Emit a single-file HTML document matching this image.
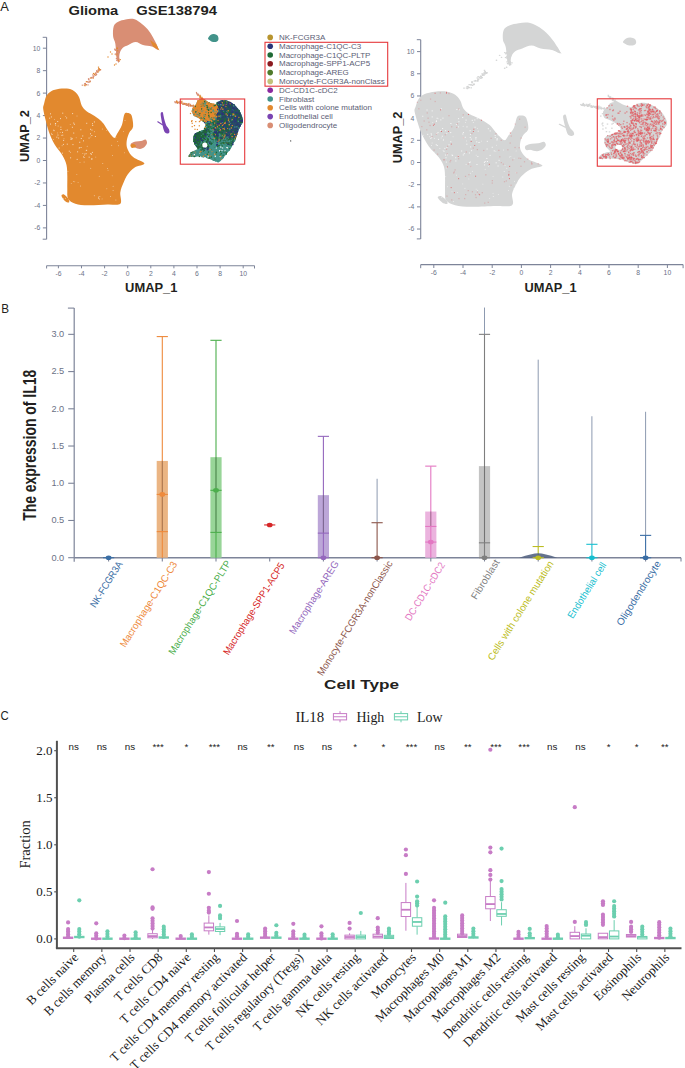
<!DOCTYPE html>
<html><head><meta charset="utf-8"><style>
html,body{margin:0;padding:0;background:#fff;}
body{width:685px;height:1068px;overflow:hidden;font-family:"Liberation Sans",sans-serif;}
svg{display:block;}
</style></head><body>
<svg width="685" height="1068" viewBox="0 0 685 1068">
<rect width="685" height="1068" fill="#ffffff"/>
<text x="0.30" y="10.60" font-family="'Liberation Sans', sans-serif" font-size="13" fill="#231f20" text-anchor="start" textLength="8.6" lengthAdjust="spacingAndGlyphs" >A</text>
<text x="68.50" y="14.80" font-family="'Liberation Sans', sans-serif" font-size="13.5" fill="#231f20" text-anchor="start" font-weight="bold" textLength="49.8" lengthAdjust="spacingAndGlyphs" >Glioma</text>
<text x="136.30" y="14.80" font-family="'Liberation Sans', sans-serif" font-size="13.5" fill="#231f20" text-anchor="start" font-weight="bold" textLength="80.6" lengthAdjust="spacingAndGlyphs" >GSE138794</text>
<line x1="46.60" y1="37.30" x2="46.60" y2="239.20" stroke="#7d8499" stroke-width="1.1" />
<line x1="42.70" y1="37.30" x2="46.60" y2="37.30" stroke="#7d8499" stroke-width="1" />
<line x1="42.70" y1="239.20" x2="46.60" y2="239.20" stroke="#7d8499" stroke-width="1" />
<line x1="42.90" y1="48.20" x2="46.60" y2="48.20" stroke="#7d8499" stroke-width="1" />
<text x="40.20" y="50.60" font-family="'Liberation Sans', sans-serif" font-size="6.8" fill="#6b7186" text-anchor="end" >10</text>
<line x1="42.90" y1="70.66" x2="46.60" y2="70.66" stroke="#7d8499" stroke-width="1" />
<text x="40.20" y="73.06" font-family="'Liberation Sans', sans-serif" font-size="6.8" fill="#6b7186" text-anchor="end" >8</text>
<line x1="42.90" y1="93.12" x2="46.60" y2="93.12" stroke="#7d8499" stroke-width="1" />
<text x="40.20" y="95.52" font-family="'Liberation Sans', sans-serif" font-size="6.8" fill="#6b7186" text-anchor="end" >6</text>
<line x1="42.90" y1="115.58" x2="46.60" y2="115.58" stroke="#7d8499" stroke-width="1" />
<text x="40.20" y="117.98" font-family="'Liberation Sans', sans-serif" font-size="6.8" fill="#6b7186" text-anchor="end" >4</text>
<line x1="42.90" y1="138.04" x2="46.60" y2="138.04" stroke="#7d8499" stroke-width="1" />
<text x="40.20" y="140.44" font-family="'Liberation Sans', sans-serif" font-size="6.8" fill="#6b7186" text-anchor="end" >2</text>
<line x1="42.90" y1="160.50" x2="46.60" y2="160.50" stroke="#7d8499" stroke-width="1" />
<text x="40.20" y="162.90" font-family="'Liberation Sans', sans-serif" font-size="6.8" fill="#6b7186" text-anchor="end" >0</text>
<line x1="42.90" y1="182.96" x2="46.60" y2="182.96" stroke="#7d8499" stroke-width="1" />
<text x="40.20" y="185.36" font-family="'Liberation Sans', sans-serif" font-size="6.8" fill="#6b7186" text-anchor="end" >-2</text>
<line x1="42.90" y1="205.42" x2="46.60" y2="205.42" stroke="#7d8499" stroke-width="1" />
<text x="40.20" y="207.82" font-family="'Liberation Sans', sans-serif" font-size="6.8" fill="#6b7186" text-anchor="end" >-4</text>
<line x1="42.90" y1="227.88" x2="46.60" y2="227.88" stroke="#7d8499" stroke-width="1" />
<text x="40.20" y="230.28" font-family="'Liberation Sans', sans-serif" font-size="6.8" fill="#6b7186" text-anchor="end" >-6</text>
<line x1="46.60" y1="265.70" x2="254.50" y2="265.70" stroke="#7d8499" stroke-width="1.1" />
<line x1="46.60" y1="265.70" x2="46.60" y2="268.50" stroke="#7d8499" stroke-width="1" />
<line x1="254.50" y1="265.70" x2="254.50" y2="268.50" stroke="#7d8499" stroke-width="1" />
<line x1="58.40" y1="265.70" x2="58.40" y2="268.30" stroke="#7d8499" stroke-width="1" />
<text x="58.40" y="275.80" font-family="'Liberation Sans', sans-serif" font-size="6.8" fill="#6b7186" text-anchor="middle" >-6</text>
<line x1="81.50" y1="265.70" x2="81.50" y2="268.30" stroke="#7d8499" stroke-width="1" />
<text x="81.50" y="275.80" font-family="'Liberation Sans', sans-serif" font-size="6.8" fill="#6b7186" text-anchor="middle" >-4</text>
<line x1="104.60" y1="265.70" x2="104.60" y2="268.30" stroke="#7d8499" stroke-width="1" />
<text x="104.60" y="275.80" font-family="'Liberation Sans', sans-serif" font-size="6.8" fill="#6b7186" text-anchor="middle" >-2</text>
<line x1="127.70" y1="265.70" x2="127.70" y2="268.30" stroke="#7d8499" stroke-width="1" />
<text x="127.70" y="275.80" font-family="'Liberation Sans', sans-serif" font-size="6.8" fill="#6b7186" text-anchor="middle" >0</text>
<line x1="150.80" y1="265.70" x2="150.80" y2="268.30" stroke="#7d8499" stroke-width="1" />
<text x="150.80" y="275.80" font-family="'Liberation Sans', sans-serif" font-size="6.8" fill="#6b7186" text-anchor="middle" >2</text>
<line x1="173.90" y1="265.70" x2="173.90" y2="268.30" stroke="#7d8499" stroke-width="1" />
<text x="173.90" y="275.80" font-family="'Liberation Sans', sans-serif" font-size="6.8" fill="#6b7186" text-anchor="middle" >4</text>
<line x1="197.00" y1="265.70" x2="197.00" y2="268.30" stroke="#7d8499" stroke-width="1" />
<text x="197.00" y="275.80" font-family="'Liberation Sans', sans-serif" font-size="6.8" fill="#6b7186" text-anchor="middle" >6</text>
<line x1="220.10" y1="265.70" x2="220.10" y2="268.30" stroke="#7d8499" stroke-width="1" />
<text x="220.10" y="275.80" font-family="'Liberation Sans', sans-serif" font-size="6.8" fill="#6b7186" text-anchor="middle" >8</text>
<line x1="243.20" y1="265.70" x2="243.20" y2="268.30" stroke="#7d8499" stroke-width="1" />
<text x="243.20" y="275.80" font-family="'Liberation Sans', sans-serif" font-size="6.8" fill="#6b7186" text-anchor="middle" >10</text>
<text x="125.10" y="291.60" font-family="'Liberation Sans', sans-serif" font-size="13.2" fill="#231f20" text-anchor="start" font-weight="bold" textLength="52.3" lengthAdjust="spacingAndGlyphs" >UMAP_1</text>
<text x="28.60" y="162.00" font-family="'Liberation Sans', sans-serif" font-size="13.2" fill="#231f20" text-anchor="start" font-weight="bold" textLength="52" lengthAdjust="spacingAndGlyphs" transform="rotate(-90 28.60 162.00)" >UMAP_2</text>
<line x1="420.70" y1="39.70" x2="420.70" y2="238.90" stroke="#7d8499" stroke-width="1.1" />
<line x1="416.80" y1="39.70" x2="420.70" y2="39.70" stroke="#7d8499" stroke-width="1" />
<line x1="416.80" y1="238.90" x2="420.70" y2="238.90" stroke="#7d8499" stroke-width="1" />
<line x1="417.00" y1="51.60" x2="420.70" y2="51.60" stroke="#7d8499" stroke-width="1" />
<text x="414.30" y="54.00" font-family="'Liberation Sans', sans-serif" font-size="6.8" fill="#6b7186" text-anchor="end" >10</text>
<line x1="417.00" y1="73.78" x2="420.70" y2="73.78" stroke="#7d8499" stroke-width="1" />
<text x="414.30" y="76.18" font-family="'Liberation Sans', sans-serif" font-size="6.8" fill="#6b7186" text-anchor="end" >8</text>
<line x1="417.00" y1="95.96" x2="420.70" y2="95.96" stroke="#7d8499" stroke-width="1" />
<text x="414.30" y="98.36" font-family="'Liberation Sans', sans-serif" font-size="6.8" fill="#6b7186" text-anchor="end" >6</text>
<line x1="417.00" y1="118.14" x2="420.70" y2="118.14" stroke="#7d8499" stroke-width="1" />
<text x="414.30" y="120.54" font-family="'Liberation Sans', sans-serif" font-size="6.8" fill="#6b7186" text-anchor="end" >4</text>
<line x1="417.00" y1="140.32" x2="420.70" y2="140.32" stroke="#7d8499" stroke-width="1" />
<text x="414.30" y="142.72" font-family="'Liberation Sans', sans-serif" font-size="6.8" fill="#6b7186" text-anchor="end" >2</text>
<line x1="417.00" y1="162.50" x2="420.70" y2="162.50" stroke="#7d8499" stroke-width="1" />
<text x="414.30" y="164.90" font-family="'Liberation Sans', sans-serif" font-size="6.8" fill="#6b7186" text-anchor="end" >0</text>
<line x1="417.00" y1="184.68" x2="420.70" y2="184.68" stroke="#7d8499" stroke-width="1" />
<text x="414.30" y="187.08" font-family="'Liberation Sans', sans-serif" font-size="6.8" fill="#6b7186" text-anchor="end" >-2</text>
<line x1="417.00" y1="206.86" x2="420.70" y2="206.86" stroke="#7d8499" stroke-width="1" />
<text x="414.30" y="209.26" font-family="'Liberation Sans', sans-serif" font-size="6.8" fill="#6b7186" text-anchor="end" >-4</text>
<line x1="417.00" y1="229.04" x2="420.70" y2="229.04" stroke="#7d8499" stroke-width="1" />
<text x="414.30" y="231.44" font-family="'Liberation Sans', sans-serif" font-size="6.8" fill="#6b7186" text-anchor="end" >-6</text>
<line x1="420.70" y1="264.60" x2="683.10" y2="264.60" stroke="#7d8499" stroke-width="1.1" />
<line x1="420.70" y1="264.60" x2="420.70" y2="268.20" stroke="#7d8499" stroke-width="1" />
<line x1="683.10" y1="264.60" x2="683.10" y2="268.20" stroke="#7d8499" stroke-width="1" />
<line x1="433.80" y1="264.60" x2="433.80" y2="268.00" stroke="#7d8499" stroke-width="1" />
<text x="433.80" y="274.90" font-family="'Liberation Sans', sans-serif" font-size="6.8" fill="#6b7186" text-anchor="middle" >-6</text>
<line x1="463.00" y1="264.60" x2="463.00" y2="268.00" stroke="#7d8499" stroke-width="1" />
<text x="463.00" y="274.90" font-family="'Liberation Sans', sans-serif" font-size="6.8" fill="#6b7186" text-anchor="middle" >-4</text>
<line x1="492.20" y1="264.60" x2="492.20" y2="268.00" stroke="#7d8499" stroke-width="1" />
<text x="492.20" y="274.90" font-family="'Liberation Sans', sans-serif" font-size="6.8" fill="#6b7186" text-anchor="middle" >-2</text>
<line x1="521.40" y1="264.60" x2="521.40" y2="268.00" stroke="#7d8499" stroke-width="1" />
<text x="521.40" y="274.90" font-family="'Liberation Sans', sans-serif" font-size="6.8" fill="#6b7186" text-anchor="middle" >0</text>
<line x1="550.60" y1="264.60" x2="550.60" y2="268.00" stroke="#7d8499" stroke-width="1" />
<text x="550.60" y="274.90" font-family="'Liberation Sans', sans-serif" font-size="6.8" fill="#6b7186" text-anchor="middle" >2</text>
<line x1="579.80" y1="264.60" x2="579.80" y2="268.00" stroke="#7d8499" stroke-width="1" />
<text x="579.80" y="274.90" font-family="'Liberation Sans', sans-serif" font-size="6.8" fill="#6b7186" text-anchor="middle" >4</text>
<line x1="609.00" y1="264.60" x2="609.00" y2="268.00" stroke="#7d8499" stroke-width="1" />
<text x="609.00" y="274.90" font-family="'Liberation Sans', sans-serif" font-size="6.8" fill="#6b7186" text-anchor="middle" >6</text>
<line x1="638.20" y1="264.60" x2="638.20" y2="268.00" stroke="#7d8499" stroke-width="1" />
<text x="638.20" y="274.90" font-family="'Liberation Sans', sans-serif" font-size="6.8" fill="#6b7186" text-anchor="middle" >8</text>
<line x1="667.40" y1="264.60" x2="667.40" y2="268.00" stroke="#7d8499" stroke-width="1" />
<text x="667.40" y="274.90" font-family="'Liberation Sans', sans-serif" font-size="6.8" fill="#6b7186" text-anchor="middle" >10</text>
<text x="524.60" y="291.60" font-family="'Liberation Sans', sans-serif" font-size="13.2" fill="#231f20" text-anchor="start" font-weight="bold" textLength="52" lengthAdjust="spacingAndGlyphs" >UMAP_1</text>
<text x="402.50" y="163.20" font-family="'Liberation Sans', sans-serif" font-size="13.2" fill="#231f20" text-anchor="start" font-weight="bold" textLength="51.5" lengthAdjust="spacingAndGlyphs" transform="rotate(-90 402.50 163.20)" >UMAP_2</text>
<g>
<path d="M44.0,104.1 C44.5,102.0 45.2,98.2 46.4,96.1 C47.6,93.9 49.1,92.4 51.2,91.2 C53.4,90.0 56.3,89.2 59.3,88.8 C62.2,88.4 66.2,88.3 68.9,88.8 C71.6,89.3 73.6,90.5 75.3,92.0 C77.0,93.5 78.2,95.4 79.3,97.7 C80.4,100.0 80.6,103.4 81.8,105.7 C83.0,108.0 84.5,109.6 86.6,111.3 C88.7,113.0 91.9,114.2 94.6,116.1 C97.3,118.0 100.5,120.3 102.6,122.6 C104.7,124.9 105.5,127.3 107.4,129.8 C109.3,132.3 112.3,137.1 113.9,137.8 C115.5,138.5 115.8,135.9 117.1,133.8 C118.4,131.7 120.7,128.2 121.9,125.0 C123.1,121.8 123.4,116.5 124.3,114.5 C125.2,112.5 126.3,112.8 127.5,112.9 C128.7,113.0 130.6,113.0 131.5,115.3 C132.4,117.6 133.5,123.6 133.1,126.6 C132.7,129.5 130.2,130.6 129.1,133.0 C128.0,135.4 127.0,138.3 126.7,141.0 C126.4,143.7 126.4,146.3 127.5,149.0 C128.6,151.7 130.3,154.7 133.1,157.1 C135.9,159.5 144.1,161.8 144.4,163.5 C144.7,165.2 137.5,165.6 134.7,167.5 C131.9,169.4 129.4,172.1 127.5,174.7 C125.6,177.2 124.7,179.9 123.5,182.8 C122.3,185.8 120.8,188.9 120.3,192.4 C119.8,195.9 122.4,201.7 120.3,203.7 C118.2,205.7 112.8,204.2 107.4,204.5 C102.1,204.8 93.6,205.4 88.2,205.3 C82.8,205.2 78.7,204.8 75.3,203.7 C71.9,202.6 69.4,201.2 68.1,198.8 C66.8,196.4 67.4,192.9 67.3,189.2 C67.2,185.5 67.4,180.4 67.3,176.4 C67.2,172.4 67.3,168.6 66.5,165.1 C65.7,161.6 64.5,159.0 62.5,155.5 C60.5,152.0 56.8,148.2 54.5,144.2 C52.2,140.2 50.3,135.4 48.8,131.4 C47.3,127.4 46.5,123.8 45.6,120.1 C44.7,116.3 43.5,111.6 43.2,108.9 C42.9,106.2 43.5,106.2 44.0,104.1 Z" fill="#e2892e" />
<path d="M61.5,196.0 C61.3,194.9 62.8,194.0 64.0,194.5 C65.2,195.0 67.7,197.7 68.5,199.0 C69.3,200.3 69.6,202.2 69.0,202.5 C68.4,202.8 66.2,202.1 65.0,201.0 C63.8,199.9 61.7,197.1 61.5,196.0 Z" fill="#e2892e" />
<path d="M113.8,26.1 C114.7,23.7 116.2,22.8 118.2,21.7 C120.2,20.6 123.1,20.0 125.5,19.5 C127.9,19.0 130.4,18.3 132.8,18.8 C135.2,19.3 137.7,20.7 140.1,22.4 C142.5,24.1 145.2,26.4 147.4,29.0 C149.6,31.6 151.3,34.3 153.2,37.7 C155.0,41.1 158.7,48.0 158.5,49.5 C158.3,51.0 154.4,47.2 151.8,46.5 C149.2,45.8 145.7,45.7 143.0,45.0 C140.3,44.3 138.1,42.1 135.7,42.1 C133.3,42.1 130.6,44.0 128.4,45.0 C126.2,46.0 124.1,46.5 122.6,48.0 C121.1,49.5 120.2,51.4 119.6,53.8 C119.0,56.2 119.4,61.9 118.9,62.6 C118.4,63.3 117.3,61.4 116.7,58.2 C116.1,55.0 115.9,47.2 115.3,43.6 C114.7,40.0 113.3,39.2 113.1,36.3 C112.8,33.4 112.9,28.5 113.8,26.1 Z" fill="#d98e74" />
<path d="M150.0,40.0 L156.0,44.0 L159.5,50.5 L153.0,46.5 Z" fill="#e2892e" />
<rect x="85.8" y="81.1" width="1.2" height="1.2" fill="#e2892e"/>
<rect x="93.8" y="74.1" width="1.2" height="1.2" fill="#e2892e"/>
<rect x="87.4" y="84.3" width="1.2" height="1.2" fill="#d98e74"/>
<rect x="96.0" y="70.2" width="1.2" height="1.2" fill="#d98e74"/>
<rect x="94.6" y="72.9" width="1.2" height="1.2" fill="#e2892e"/>
<rect x="96.0" y="73.8" width="1.2" height="1.2" fill="#d98e74"/>
<rect x="89.8" y="80.6" width="1.2" height="1.2" fill="#d98e74"/>
<rect x="96.5" y="71.2" width="1.2" height="1.2" fill="#e2892e"/>
<rect x="89.9" y="77.4" width="1.2" height="1.2" fill="#e2892e"/>
<rect x="98.7" y="69.5" width="1.2" height="1.2" fill="#d98e74"/>
<rect x="98.5" y="68.1" width="1.2" height="1.2" fill="#d98e74"/>
<rect x="90.8" y="76.9" width="1.2" height="1.2" fill="#d98e74"/>
<rect x="94.2" y="73.9" width="1.2" height="1.2" fill="#e2892e"/>
<rect x="99.3" y="69.5" width="1.2" height="1.2" fill="#d98e74"/>
<rect x="100.0" y="69.1" width="1.2" height="1.2" fill="#d98e74"/>
<rect x="95.7" y="74.2" width="1.2" height="1.2" fill="#d98e74"/>
<rect x="89.3" y="81.2" width="1.2" height="1.2" fill="#e2892e"/>
<rect x="84.3" y="83.2" width="1.2" height="1.2" fill="#d98e74"/>
<rect x="87.9" y="78.3" width="1.2" height="1.2" fill="#d98e74"/>
<rect x="95.0" y="74.7" width="1.2" height="1.2" fill="#d98e74"/>
<rect x="99.4" y="69.0" width="1.2" height="1.2" fill="#e2892e"/>
<rect x="89.2" y="80.6" width="1.2" height="1.2" fill="#d98e74"/>
<rect x="84.8" y="82.9" width="1.2" height="1.2" fill="#d98e74"/>
<rect x="83.7" y="84.5" width="1.2" height="1.2" fill="#e2892e"/>
<rect x="97.7" y="69.6" width="1.2" height="1.2" fill="#d98e74"/>
<rect x="92.9" y="72.9" width="1.2" height="1.2" fill="#e2892e"/>
<rect x="98.3" y="68.0" width="1.2" height="1.2" fill="#e2892e"/>
<rect x="85.8" y="84.0" width="1.2" height="1.2" fill="#d98e74"/>
<rect x="93.3" y="75.6" width="1.2" height="1.2" fill="#d98e74"/>
<rect x="81.7" y="84.6" width="1.2" height="1.2" fill="#d98e74"/>
<rect x="92.2" y="74.3" width="1.2" height="1.2" fill="#d98e74"/>
<rect x="95.1" y="72.3" width="1.2" height="1.2" fill="#d98e74"/>
<rect x="95.3" y="72.9" width="1.2" height="1.2" fill="#d98e74"/>
<rect x="92.7" y="75.5" width="1.2" height="1.2" fill="#d98e74"/>
<rect x="88.3" y="78.4" width="1.2" height="1.2" fill="#d98e74"/>
<rect x="97.6" y="71.4" width="1.2" height="1.2" fill="#e2892e"/>
<rect x="88.3" y="81.8" width="1.2" height="1.2" fill="#d98e74"/>
<rect x="84.4" y="83.0" width="1.2" height="1.2" fill="#d98e74"/>
<rect x="87.2" y="81.4" width="1.2" height="1.2" fill="#d98e74"/>
<rect x="98.2" y="70.4" width="1.2" height="1.2" fill="#e2892e"/>
<rect x="97.6" y="69.3" width="1.2" height="1.2" fill="#d98e74"/>
<rect x="92.6" y="77.5" width="1.2" height="1.2" fill="#e2892e"/>
<rect x="85.4" y="84.2" width="1.2" height="1.2" fill="#e2892e"/>
<rect x="96.6" y="71.0" width="1.2" height="1.2" fill="#d98e74"/>
<rect x="96.6" y="71.7" width="1.2" height="1.2" fill="#d98e74"/>
<rect x="88.1" y="79.1" width="1.2" height="1.2" fill="#d98e74"/>
<rect x="84.4" y="85.1" width="1.2" height="1.2" fill="#e2892e"/>
<rect x="92.4" y="76.9" width="1.2" height="1.2" fill="#d98e74"/>
<rect x="96.6" y="70.5" width="1.2" height="1.2" fill="#d98e74"/>
<rect x="87.2" y="81.0" width="1.2" height="1.2" fill="#d98e74"/>
<rect x="92.6" y="76.5" width="1.2" height="1.2" fill="#d98e74"/>
<rect x="97.9" y="66.6" width="1.2" height="1.2" fill="#e2892e"/>
<rect x="98.5" y="68.7" width="1.2" height="1.2" fill="#e2892e"/>
<rect x="85.0" y="84.0" width="1.2" height="1.2" fill="#d98e74"/>
<rect x="91.1" y="77.5" width="1.2" height="1.2" fill="#d98e74"/>
<rect x="117.0" y="50.1" width="1.2" height="1.2" fill="#e2892e"/>
<rect x="116.9" y="53.5" width="1.2" height="1.2" fill="#e2892e"/>
<rect x="116.6" y="47.6" width="1.2" height="1.2" fill="#e2892e"/>
<rect x="119.6" y="59.0" width="1.2" height="1.2" fill="#e2892e"/>
<rect x="115.4" y="48.9" width="1.2" height="1.2" fill="#d98e74"/>
<rect x="114.6" y="53.6" width="1.2" height="1.2" fill="#d98e74"/>
<rect x="116.0" y="48.5" width="1.2" height="1.2" fill="#d98e74"/>
<rect x="118.6" y="60.7" width="1.2" height="1.2" fill="#d98e74"/>
<rect x="115.9" y="52.7" width="1.2" height="1.2" fill="#d98e74"/>
<rect x="116.7" y="56.1" width="1.2" height="1.2" fill="#d98e74"/>
<rect x="114.0" y="48.6" width="1.2" height="1.2" fill="#d98e74"/>
<rect x="116.1" y="49.4" width="1.2" height="1.2" fill="#d98e74"/>
<rect x="116.2" y="59.6" width="1.2" height="1.2" fill="#d98e74"/>
<rect x="115.7" y="54.3" width="1.2" height="1.2" fill="#e2892e"/>
<rect x="116.2" y="52.2" width="1.2" height="1.2" fill="#d98e74"/>
<rect x="116.9" y="54.5" width="1.2" height="1.2" fill="#d98e74"/>
<rect x="118.7" y="51.8" width="1.2" height="1.2" fill="#d98e74"/>
<rect x="118.3" y="59.2" width="1.2" height="1.2" fill="#d98e74"/>
<rect x="116.5" y="47.8" width="1.2" height="1.2" fill="#e2892e"/>
<rect x="116.8" y="57.1" width="1.2" height="1.2" fill="#d98e74"/>
<rect x="115.6" y="48.8" width="1.2" height="1.2" fill="#d98e74"/>
<rect x="118.2" y="58.4" width="1.2" height="1.2" fill="#d98e74"/>
<rect x="118.2" y="59.9" width="1.2" height="1.2" fill="#e2892e"/>
<rect x="116.8" y="47.9" width="1.2" height="1.2" fill="#e2892e"/>
<rect x="116.4" y="59.9" width="1.2" height="1.2" fill="#d98e74"/>
<rect x="115.8" y="58.0" width="1.2" height="1.2" fill="#d98e74"/>
<rect x="118.0" y="57.7" width="1.2" height="1.2" fill="#d98e74"/>
<rect x="117.5" y="54.6" width="1.2" height="1.2" fill="#d98e74"/>
<rect x="114.7" y="49.8" width="1.2" height="1.2" fill="#d98e74"/>
<rect x="115.6" y="53.1" width="1.2" height="1.2" fill="#d98e74"/>
<circle cx="112.00" cy="54.00" r="0.7" fill="#e2892e" />
<circle cx="108.00" cy="57.00" r="0.7" fill="#e2892e" />
<circle cx="114.50" cy="65.00" r="0.7" fill="#e2892e" />
<circle cx="116.00" cy="64.00" r="0.7" fill="#e2892e" />
<circle cx="110.50" cy="52.00" r="0.7" fill="#e2892e" />
<path d="M208.0,38.5 C208.1,37.6 209.5,35.8 210.5,35.0 C211.5,34.2 212.8,33.9 214.0,34.0 C215.2,34.1 216.8,34.7 217.5,35.5 C218.2,36.3 218.6,38.0 218.5,39.0 C218.4,40.0 217.9,41.0 217.0,41.5 C216.1,42.0 214.2,42.2 213.0,42.0 C211.8,41.8 210.8,41.1 210.0,40.5 C209.2,39.9 207.9,39.4 208.0,38.5 Z" fill="#42938a" />
<path d="M161.0,112.6 C161.3,112.1 162.3,111.6 162.7,112.2 C163.1,112.8 163.3,114.6 163.6,116.0 C163.9,117.4 164.1,118.9 164.6,120.5 C165.1,122.1 165.6,124.1 166.3,125.5 C167.0,126.9 168.3,127.9 168.8,129.0 C169.3,130.1 169.6,131.4 169.4,132.2 C169.2,133.0 168.2,133.5 167.5,133.6 C166.8,133.7 165.7,133.3 165.0,132.6 C164.3,131.9 164.0,130.8 163.6,129.5 C163.2,128.2 162.8,126.2 162.4,124.5 C162.0,122.8 161.6,120.6 161.3,119.0 C161.0,117.4 160.8,116.1 160.7,115.0 C160.6,113.9 160.7,113.1 161.0,112.6 Z" fill="#7a44b2" />
<path d="M157.8,121.8 L162.5,124.8" stroke="#7a44b2" stroke-width="1.1" stroke-linecap="round" fill="none"/>
<path d="M131.0,143.5 C131.8,142.7 134.3,141.9 136.0,141.5 C137.7,141.1 139.4,141.3 141.0,141.0 C142.6,140.7 144.5,139.2 145.5,139.5 C146.5,139.8 147.2,141.8 147.0,143.0 C146.8,144.2 145.7,146.0 144.5,147.0 C143.3,148.0 141.6,148.9 140.0,149.0 C138.4,149.1 136.4,147.9 135.0,147.5 C133.6,147.1 132.2,147.2 131.5,146.5 C130.8,145.8 130.2,144.3 131.0,143.5 Z" fill="#d98e74" />
<path d="M130.5,145.0 C130.8,144.3 133.1,143.8 134.0,144.0 C134.9,144.2 136.3,145.8 136.0,146.5 C135.7,147.2 132.9,148.2 132.0,148.0 C131.1,147.8 130.2,145.7 130.5,145.0 Z" fill="#e2892e" />
<rect x="183.5" y="103.5" width="1.2" height="1.2" fill="#e2892e"/>
<rect x="174.2" y="101.2" width="1.2" height="1.2" fill="#d98e74"/>
<rect x="185.2" y="103.5" width="1.2" height="1.2" fill="#d98e74"/>
<rect x="187.1" y="104.6" width="1.2" height="1.2" fill="#d98e74"/>
<rect x="180.2" y="102.8" width="1.2" height="1.2" fill="#e2892e"/>
<rect x="186.1" y="103.1" width="1.2" height="1.2" fill="#d98e74"/>
<rect x="177.0" y="102.7" width="1.2" height="1.2" fill="#d98e74"/>
<rect x="183.4" y="103.3" width="1.2" height="1.2" fill="#d98e74"/>
<rect x="180.6" y="102.0" width="1.2" height="1.2" fill="#e2892e"/>
<rect x="191.8" y="105.3" width="1.2" height="1.2" fill="#d98e74"/>
<rect x="174.7" y="102.0" width="1.2" height="1.2" fill="#d98e74"/>
<rect x="186.7" y="104.5" width="1.2" height="1.2" fill="#e2892e"/>
<rect x="179.3" y="102.1" width="1.2" height="1.2" fill="#d98e74"/>
<rect x="176.3" y="101.7" width="1.2" height="1.2" fill="#e2892e"/>
<rect x="182.3" y="103.6" width="1.2" height="1.2" fill="#d98e74"/>
<rect x="186.2" y="104.6" width="1.2" height="1.2" fill="#e2892e"/>
<rect x="175.6" y="101.1" width="1.2" height="1.2" fill="#d98e74"/>
<rect x="182.3" y="102.3" width="1.2" height="1.2" fill="#d98e74"/>
<rect x="188.5" y="104.1" width="1.2" height="1.2" fill="#d98e74"/>
<rect x="175.6" y="102.2" width="1.2" height="1.2" fill="#d98e74"/>
<rect x="189.8" y="104.9" width="1.2" height="1.2" fill="#e2892e"/>
<rect x="185.3" y="104.0" width="1.2" height="1.2" fill="#e2892e"/>
<rect x="186.8" y="103.9" width="1.2" height="1.2" fill="#d98e74"/>
<rect x="183.4" y="103.8" width="1.2" height="1.2" fill="#d98e74"/>
<rect x="176.8" y="101.4" width="1.2" height="1.2" fill="#e2892e"/>
<rect x="176.1" y="100.1" width="1.2" height="1.2" fill="#d98e74"/>
<rect x="188.2" y="105.5" width="1.2" height="1.2" fill="#d98e74"/>
<rect x="180.1" y="102.1" width="1.2" height="1.2" fill="#d98e74"/>
<rect x="190.3" y="105.7" width="1.2" height="1.2" fill="#d98e74"/>
<rect x="190.6" y="105.1" width="1.2" height="1.2" fill="#e2892e"/>
<rect x="180.2" y="101.3" width="1.2" height="1.2" fill="#d98e74"/>
<rect x="176.0" y="101.4" width="1.2" height="1.2" fill="#d98e74"/>
<rect x="187.0" y="103.8" width="1.2" height="1.2" fill="#d98e74"/>
<rect x="185.7" y="103.9" width="1.2" height="1.2" fill="#d98e74"/>
<rect x="188.5" y="104.6" width="1.2" height="1.2" fill="#d98e74"/>
<rect x="188.2" y="105.5" width="1.2" height="1.2" fill="#d98e74"/>
<rect x="188.4" y="102.9" width="1.2" height="1.2" fill="#d98e74"/>
<rect x="177.9" y="101.9" width="1.2" height="1.2" fill="#d98e74"/>
<rect x="187.6" y="104.6" width="1.2" height="1.2" fill="#d98e74"/>
<rect x="175.9" y="101.9" width="1.2" height="1.2" fill="#d98e74"/>
<rect x="182.7" y="103.6" width="1.2" height="1.2" fill="#e2892e"/>
<rect x="185.2" y="103.5" width="1.2" height="1.2" fill="#e2892e"/>
<rect x="190.7" y="104.9" width="1.2" height="1.2" fill="#d98e74"/>
<rect x="192.6" y="105.6" width="1.2" height="1.2" fill="#d98e74"/>
<rect x="180.7" y="101.4" width="1.2" height="1.2" fill="#d98e74"/>
<rect x="187.3" y="104.5" width="1.2" height="1.2" fill="#d98e74"/>
<rect x="175.9" y="101.0" width="1.2" height="1.2" fill="#e2892e"/>
<rect x="180.0" y="101.2" width="1.2" height="1.2" fill="#d98e74"/>
<rect x="192.0" y="105.3" width="1.2" height="1.2" fill="#d98e74"/>
<rect x="187.4" y="104.3" width="1.2" height="1.2" fill="#d98e74"/>
<rect x="186.4" y="104.1" width="1.2" height="1.2" fill="#d98e74"/>
<rect x="183.7" y="103.2" width="1.2" height="1.2" fill="#e2892e"/>
<rect x="181.4" y="102.6" width="1.2" height="1.2" fill="#e2892e"/>
<rect x="187.8" y="103.5" width="1.2" height="1.2" fill="#e2892e"/>
<rect x="177.1" y="102.1" width="1.2" height="1.2" fill="#e2892e"/>
<rect x="178.9" y="102.4" width="1.2" height="1.2" fill="#d98e74"/>
<rect x="192.9" y="105.2" width="1.2" height="1.2" fill="#d98e74"/>
<rect x="183.2" y="103.2" width="1.2" height="1.2" fill="#d98e74"/>
<rect x="179.6" y="103.1" width="1.2" height="1.2" fill="#d98e74"/>
<rect x="183.4" y="103.1" width="1.2" height="1.2" fill="#d98e74"/>
<rect x="190.2" y="104.9" width="1.2" height="1.2" fill="#e2892e"/>
<rect x="186.3" y="104.1" width="1.2" height="1.2" fill="#d98e74"/>
<rect x="181.3" y="100.7" width="1.2" height="1.2" fill="#e2892e"/>
<rect x="192.7" y="104.6" width="1.2" height="1.2" fill="#e2892e"/>
<rect x="193.3" y="105.8" width="1.2" height="1.2" fill="#d98e74"/>
<rect x="185.7" y="103.9" width="1.2" height="1.2" fill="#e2892e"/>
<rect x="182.7" y="103.5" width="1.2" height="1.2" fill="#d98e74"/>
<rect x="185.8" y="103.6" width="1.2" height="1.2" fill="#d98e74"/>
<rect x="182.5" y="103.4" width="1.2" height="1.2" fill="#d98e74"/>
<rect x="178.6" y="101.0" width="1.2" height="1.2" fill="#d98e74"/>
<rect x="186.3" y="104.6" width="1.2" height="1.2" fill="#d98e74"/>
<rect x="189.8" y="103.8" width="1.2" height="1.2" fill="#d98e74"/>
<rect x="185.1" y="103.7" width="1.2" height="1.2" fill="#d98e74"/>
<rect x="184.2" y="102.8" width="1.2" height="1.2" fill="#e2892e"/>
<rect x="185.4" y="104.1" width="1.2" height="1.2" fill="#d98e74"/>
<rect x="199.2" y="95.7" width="1.2" height="1.2" fill="#e2892e"/>
<rect x="201.7" y="98.4" width="1.2" height="1.2" fill="#e2892e"/>
<rect x="197.6" y="93.6" width="1.2" height="1.2" fill="#d98e74"/>
<rect x="201.6" y="98.5" width="1.2" height="1.2" fill="#e2892e"/>
<rect x="201.0" y="98.1" width="1.2" height="1.2" fill="#e2892e"/>
<rect x="199.8" y="97.0" width="1.2" height="1.2" fill="#e2892e"/>
<rect x="197.6" y="94.4" width="1.2" height="1.2" fill="#d98e74"/>
<rect x="200.0" y="95.7" width="1.2" height="1.2" fill="#e2892e"/>
<rect x="195.9" y="91.9" width="1.2" height="1.2" fill="#d98e74"/>
<rect x="199.3" y="94.7" width="1.2" height="1.2" fill="#e2892e"/>
<rect x="201.4" y="97.9" width="1.2" height="1.2" fill="#e2892e"/>
<rect x="196.0" y="93.1" width="1.2" height="1.2" fill="#d98e74"/>
<rect x="196.9" y="94.2" width="1.2" height="1.2" fill="#d98e74"/>
<rect x="197.5" y="94.0" width="1.2" height="1.2" fill="#d98e74"/>
<rect x="201.8" y="98.5" width="1.2" height="1.2" fill="#e2892e"/>
<rect x="200.5" y="97.2" width="1.2" height="1.2" fill="#e2892e"/>
<rect x="196.9" y="93.4" width="1.2" height="1.2" fill="#d98e74"/>
<rect x="201.4" y="98.5" width="1.2" height="1.2" fill="#e2892e"/>
<rect x="199.2" y="97.2" width="1.2" height="1.2" fill="#e2892e"/>
<rect x="202.6" y="98.6" width="1.2" height="1.2" fill="#e2892e"/>
<rect x="199.7" y="95.7" width="1.2" height="1.2" fill="#e2892e"/>
<rect x="197.6" y="94.9" width="1.2" height="1.2" fill="#d98e74"/>
<rect x="200.6" y="98.3" width="1.2" height="1.2" fill="#e2892e"/>
<rect x="202.1" y="98.9" width="1.2" height="1.2" fill="#e2892e"/>
<rect x="201.4" y="96.8" width="1.2" height="1.2" fill="#e2892e"/>
<rect x="191.4" y="120.0" width="1.2" height="1.2" fill="#e2892e"/>
<rect x="199.7" y="120.2" width="1.2" height="1.2" fill="#e2892e"/>
<rect x="196.8" y="128.9" width="1.2" height="1.2" fill="#e2892e"/>
<rect x="191.3" y="110.5" width="1.2" height="1.2" fill="#e2892e"/>
<rect x="198.8" y="121.0" width="1.2" height="1.2" fill="#e2892e"/>
<rect x="191.6" y="126.0" width="1.2" height="1.2" fill="#e2892e"/>
<rect x="192.5" y="112.0" width="1.2" height="1.2" fill="#e2892e"/>
<rect x="192.7" y="110.1" width="1.2" height="1.2" fill="#e2892e"/>
<rect x="193.9" y="125.0" width="1.2" height="1.2" fill="#e2892e"/>
<rect x="194.4" y="128.7" width="1.2" height="1.2" fill="#e2892e"/>
<rect x="189.9" y="112.9" width="1.2" height="1.2" fill="#e2892e"/>
<rect x="191.0" y="120.9" width="1.2" height="1.2" fill="#e2892e"/>
<rect x="191.6" y="122.7" width="1.2" height="1.2" fill="#e2892e"/>
<rect x="195.2" y="121.0" width="1.2" height="1.2" fill="#e2892e"/>
<rect x="198.7" y="125.2" width="1.2" height="1.2" fill="#e2892e"/>
<rect x="199.5" y="112.4" width="1.2" height="1.2" fill="#e2892e"/>
<path d="M192.4,108.8 C192.8,107.0 195.1,105.6 196.0,104.2 C196.9,102.8 196.7,101.3 197.9,100.5 C199.1,99.7 201.6,98.8 203.4,99.1 C205.2,99.4 207.1,101.6 208.9,102.4 C210.7,103.2 212.7,104.4 214.4,104.2 C216.1,104.0 217.5,102.1 219.0,101.4 C220.5,100.7 221.9,100.1 223.6,100.1 C225.3,100.1 227.2,100.6 229.1,101.4 C230.9,102.2 233.0,103.6 234.7,105.1 C236.4,106.6 238.1,108.8 239.3,110.6 C240.5,112.4 241.4,114.3 242.0,116.2 C242.6,118.1 243.2,120.0 242.9,121.7 C242.6,123.4 241.0,124.9 240.2,126.3 C239.4,127.7 238.8,128.6 238.3,130.0 C237.8,131.4 237.9,133.1 237.4,134.5 C236.9,135.9 236.2,136.8 235.6,138.2 C235.0,139.6 234.5,141.1 233.7,142.8 C232.9,144.5 232.2,146.5 231.0,148.3 C229.8,150.2 227.8,152.2 226.4,153.9 C225.0,155.6 223.9,157.1 222.7,158.5 C221.5,159.9 220.2,161.7 219.0,162.1 C217.8,162.5 216.8,161.6 215.4,161.2 C214.0,160.8 212.3,160.0 210.8,159.4 C209.3,158.8 208.0,158.0 206.2,157.5 C204.3,157.0 201.8,156.8 199.7,156.6 C197.5,156.4 195.1,156.6 193.3,156.6 C191.5,156.6 189.2,157.2 188.7,156.6 C188.2,156.0 189.4,154.1 190.5,153.0 C191.6,151.9 193.9,150.8 195.1,150.2 C196.3,149.6 197.8,149.9 197.9,149.3 C198.1,148.7 196.7,147.7 196.0,146.5 C195.3,145.3 194.1,143.4 193.7,141.9 C193.2,140.4 193.1,138.7 193.3,137.3 C193.5,135.9 194.2,134.5 195.1,133.6 C196.0,132.7 197.4,132.4 198.8,131.8 C200.2,131.2 202.2,130.9 203.4,130.0 C204.6,129.1 206.2,127.7 206.2,126.3 C206.2,124.9 204.5,122.9 203.4,121.7 C202.3,120.5 200.8,119.7 199.7,118.9 C198.6,118.1 198.1,117.7 197.0,117.1 C195.9,116.5 194.1,116.6 193.3,115.2 C192.5,113.8 192.0,110.6 192.4,108.8 Z" fill="#42938a" />
<path d="M217.0,105.0 C218.0,102.7 217.9,102.2 219.0,101.4 C220.1,100.6 221.9,100.1 223.6,100.1 C225.3,100.1 227.2,100.6 229.1,101.4 C230.9,102.2 233.0,103.6 234.7,105.1 C236.4,106.6 238.1,108.8 239.3,110.6 C240.5,112.4 241.4,114.3 242.0,116.2 C242.6,118.1 243.2,120.0 242.9,121.7 C242.6,123.4 241.0,124.9 240.2,126.3 C239.4,127.7 238.8,128.6 238.3,130.0 C237.8,131.4 238.0,133.2 237.4,134.5 C236.8,135.8 236.4,137.6 235.0,138.0 C233.6,138.4 231.2,138.2 229.0,137.0 C226.8,135.8 224.2,133.2 222.0,131.0 C219.8,128.8 217.5,126.7 216.0,124.0 C214.5,121.3 212.8,118.2 213.0,115.0 C213.2,111.8 216.0,107.3 217.0,105.0 Z" fill="#2a4a6a" />
<path d="M206.0,124.0 C207.5,121.8 211.3,117.7 214.0,118.0 C216.7,118.3 219.3,123.3 222.0,126.0 C224.7,128.7 227.7,132.2 230.0,134.0 C232.3,135.8 235.4,135.5 236.0,137.0 C236.6,138.5 235.0,141.3 233.7,142.8 C232.4,144.3 230.3,146.1 228.0,146.0 C225.7,145.9 222.7,143.5 220.0,142.0 C217.3,140.5 214.5,138.8 212.0,137.0 C209.5,135.2 206.0,133.2 205.0,131.0 C204.0,128.8 204.5,126.2 206.0,124.0 Z" fill="#2b6f55" opacity="0.85"/>
<path d="M192.4,108.8 C192.8,107.0 195.1,105.6 196.0,104.2 C196.9,102.8 196.7,101.3 197.9,100.5 C199.1,99.7 201.6,98.8 203.4,99.1 C205.2,99.4 207.1,101.6 208.9,102.4 C210.7,103.2 213.0,103.8 214.4,104.2 C215.8,104.7 216.4,104.3 217.2,105.1 C218.0,105.9 219.2,107.3 219.0,109.0 C218.8,110.7 217.3,113.3 216.0,115.0 C214.7,116.7 212.7,117.9 211.0,119.0 C209.3,120.1 207.3,121.0 206.0,121.5 C204.7,122.0 204.5,122.1 203.4,121.7 C202.3,121.3 200.8,119.7 199.7,118.9 C198.6,118.1 198.1,117.7 197.0,117.1 C195.9,116.5 194.1,116.6 193.3,115.2 C192.5,113.8 192.0,110.6 192.4,108.8 Z" fill="#e2892e" />
<path d="M193.3,137.3 C193.5,135.9 194.2,134.5 195.1,133.6 C196.0,132.7 197.4,132.4 198.8,131.8 C200.2,131.2 202.0,130.1 203.4,130.0 C204.8,129.9 206.2,130.2 207.0,131.0 C207.8,131.8 208.5,133.5 208.0,134.5 C207.5,135.5 205.2,136.1 204.0,137.0 C202.8,137.9 201.2,138.8 200.5,140.0 C199.8,141.2 199.8,142.6 199.5,144.0 C199.2,145.4 199.1,148.1 198.5,148.5 C197.9,148.9 196.8,147.6 196.0,146.5 C195.2,145.4 194.1,143.4 193.7,141.9 C193.2,140.4 193.1,138.7 193.3,137.3 Z" fill="#245f45" />
<path d="M188.7,156.6 C188.2,156.1 189.7,153.9 190.5,153.0 C191.3,152.1 192.6,151.4 193.5,151.3 C194.4,151.2 196.0,151.7 196.0,152.5 C196.0,153.3 194.7,155.3 193.5,156.0 C192.3,156.7 189.2,157.1 188.7,156.6 Z" fill="#e2892e" opacity="0.75"/>
<circle cx="204.80" cy="145.10" r="2.6" fill="#ffffff" />
<rect x="212.7" y="134.2" width="1.3" height="1.3" fill="#2a3479"/>
<rect x="213.4" y="130.9" width="1.3" height="1.3" fill="#1f6a35"/>
<rect x="222.6" y="149.1" width="1.3" height="1.3" fill="#42938a"/>
<rect x="204.3" y="104.2" width="1.3" height="1.3" fill="#42938a"/>
<rect x="226.2" y="101.0" width="1.3" height="1.3" fill="#e2892e"/>
<rect x="221.8" y="108.4" width="1.3" height="1.3" fill="#2a3479"/>
<rect x="216.9" y="102.2" width="1.3" height="1.3" fill="#2a3479"/>
<rect x="200.9" y="100.3" width="1.3" height="1.3" fill="#e2892e"/>
<rect x="212.0" y="152.3" width="1.3" height="1.3" fill="#42938a"/>
<rect x="223.2" y="130.3" width="1.3" height="1.3" fill="#1f6a35"/>
<rect x="213.0" y="116.2" width="1.3" height="1.3" fill="#1f6a35"/>
<rect x="227.0" y="118.5" width="1.3" height="1.3" fill="#2a3479"/>
<rect x="203.5" y="102.8" width="1.3" height="1.3" fill="#42938a"/>
<rect x="209.8" y="152.5" width="1.3" height="1.3" fill="#42938a"/>
<rect x="230.9" y="115.6" width="1.3" height="1.3" fill="#2a3479"/>
<rect x="229.8" y="105.9" width="1.3" height="1.3" fill="#2a3479"/>
<rect x="232.0" y="109.7" width="1.3" height="1.3" fill="#1f6a35"/>
<rect x="212.4" y="110.6" width="1.3" height="1.3" fill="#42938a"/>
<rect x="194.7" y="139.5" width="1.3" height="1.3" fill="#1f6a35"/>
<rect x="210.9" y="112.0" width="1.3" height="1.3" fill="#e2892e"/>
<rect x="204.4" y="155.0" width="1.3" height="1.3" fill="#42938a"/>
<rect x="209.4" y="153.0" width="1.3" height="1.3" fill="#42938a"/>
<rect x="199.3" y="114.9" width="1.3" height="1.3" fill="#42938a"/>
<rect x="205.8" y="117.3" width="1.3" height="1.3" fill="#e2892e"/>
<rect x="201.0" y="136.8" width="1.3" height="1.3" fill="#1f6a35"/>
<rect x="212.7" y="159.7" width="1.3" height="1.3" fill="#42938a"/>
<rect x="219.5" y="153.8" width="1.3" height="1.3" fill="#42938a"/>
<rect x="233.1" y="114.3" width="1.3" height="1.3" fill="#2a3479"/>
<rect x="211.0" y="105.0" width="1.3" height="1.3" fill="#e2892e"/>
<rect x="226.8" y="114.8" width="1.3" height="1.3" fill="#42938a"/>
<rect x="220.8" y="117.1" width="1.3" height="1.3" fill="#2a3479"/>
<rect x="227.7" y="102.8" width="1.3" height="1.3" fill="#2a3479"/>
<rect x="218.7" y="152.9" width="1.3" height="1.3" fill="#42938a"/>
<rect x="208.0" y="135.0" width="1.3" height="1.3" fill="#1f6a35"/>
<rect x="207.6" y="155.4" width="1.3" height="1.3" fill="#ffffff"/>
<rect x="224.1" y="142.6" width="1.3" height="1.3" fill="#1f6a35"/>
<rect x="214.4" y="145.1" width="1.3" height="1.3" fill="#42938a"/>
<rect x="217.9" y="145.5" width="1.3" height="1.3" fill="#e2892e"/>
<rect x="228.6" y="143.4" width="1.3" height="1.3" fill="#1f6a35"/>
<rect x="238.6" y="120.9" width="1.3" height="1.3" fill="#1f6a35"/>
<rect x="210.7" y="148.9" width="1.3" height="1.3" fill="#1f6a35"/>
<rect x="219.4" y="138.3" width="1.3" height="1.3" fill="#42938a"/>
<rect x="220.0" y="137.3" width="1.3" height="1.3" fill="#2a3479"/>
<rect x="209.1" y="145.4" width="1.3" height="1.3" fill="#42938a"/>
<rect x="212.0" y="152.0" width="1.3" height="1.3" fill="#42938a"/>
<rect x="221.0" y="129.1" width="1.3" height="1.3" fill="#2a3479"/>
<rect x="226.5" y="130.2" width="1.3" height="1.3" fill="#1f6a35"/>
<rect x="238.9" y="114.7" width="1.3" height="1.3" fill="#2a3479"/>
<rect x="204.2" y="141.8" width="1.3" height="1.3" fill="#1f6a35"/>
<rect x="224.3" y="126.6" width="1.3" height="1.3" fill="#42938a"/>
<rect x="205.7" y="141.0" width="1.3" height="1.3" fill="#1f6a35"/>
<rect x="211.5" y="149.9" width="1.3" height="1.3" fill="#e2892e"/>
<rect x="236.6" y="123.0" width="1.3" height="1.3" fill="#1f6a35"/>
<rect x="205.1" y="107.1" width="1.3" height="1.3" fill="#e2892e"/>
<rect x="202.9" y="109.2" width="1.3" height="1.3" fill="#e2892e"/>
<rect x="202.8" y="112.1" width="1.3" height="1.3" fill="#e2892e"/>
<rect x="222.4" y="130.0" width="1.3" height="1.3" fill="#2a3479"/>
<rect x="189.1" y="154.2" width="1.3" height="1.3" fill="#42938a"/>
<rect x="227.0" y="134.9" width="1.3" height="1.3" fill="#2a3479"/>
<rect x="200.6" y="107.4" width="1.3" height="1.3" fill="#e2892e"/>
<rect x="222.6" y="126.9" width="1.3" height="1.3" fill="#1f6a35"/>
<rect x="224.0" y="150.0" width="1.3" height="1.3" fill="#ffffff"/>
<rect x="225.7" y="111.1" width="1.3" height="1.3" fill="#1f6a35"/>
<rect x="213.8" y="144.1" width="1.3" height="1.3" fill="#42938a"/>
<rect x="202.6" y="120.5" width="1.3" height="1.3" fill="#1f6a35"/>
<rect x="216.5" y="137.7" width="1.3" height="1.3" fill="#1f6a35"/>
<rect x="209.4" y="149.0" width="1.3" height="1.3" fill="#e2892e"/>
<rect x="227.8" y="106.7" width="1.3" height="1.3" fill="#1f6a35"/>
<rect x="222.4" y="156.6" width="1.3" height="1.3" fill="#42938a"/>
<rect x="219.2" y="154.6" width="1.3" height="1.3" fill="#1f6a35"/>
<rect x="223.8" y="111.5" width="1.3" height="1.3" fill="#1f6a35"/>
<rect x="233.2" y="139.4" width="1.3" height="1.3" fill="#1f6a35"/>
<rect x="199.3" y="155.9" width="1.3" height="1.3" fill="#ffffff"/>
<rect x="231.6" y="118.9" width="1.3" height="1.3" fill="#e2892e"/>
<rect x="235.3" y="120.7" width="1.3" height="1.3" fill="#2a3479"/>
<rect x="212.0" y="133.6" width="1.3" height="1.3" fill="#1f6a35"/>
<rect x="232.1" y="109.4" width="1.3" height="1.3" fill="#2a3479"/>
<rect x="231.5" y="107.3" width="1.3" height="1.3" fill="#2a3479"/>
<rect x="216.3" y="144.7" width="1.3" height="1.3" fill="#2a3479"/>
<rect x="214.9" y="159.1" width="1.3" height="1.3" fill="#42938a"/>
<rect x="199.7" y="132.1" width="1.3" height="1.3" fill="#1f6a35"/>
<rect x="228.2" y="139.2" width="1.3" height="1.3" fill="#1f6a35"/>
<rect x="234.6" y="134.2" width="1.3" height="1.3" fill="#2a3479"/>
<rect x="208.7" y="152.4" width="1.3" height="1.3" fill="#e2892e"/>
<rect x="199.0" y="152.8" width="1.3" height="1.3" fill="#ffffff"/>
<rect x="216.7" y="135.0" width="1.3" height="1.3" fill="#2a3479"/>
<rect x="217.4" y="130.6" width="1.3" height="1.3" fill="#1f6a35"/>
<rect x="216.2" y="124.0" width="1.3" height="1.3" fill="#42938a"/>
<rect x="218.9" y="129.8" width="1.3" height="1.3" fill="#1f6a35"/>
<rect x="239.1" y="115.6" width="1.3" height="1.3" fill="#1f6a35"/>
<rect x="214.0" y="118.7" width="1.3" height="1.3" fill="#e2892e"/>
<rect x="222.0" y="157.6" width="1.3" height="1.3" fill="#42938a"/>
<rect x="198.2" y="112.9" width="1.3" height="1.3" fill="#e2892e"/>
<rect x="205.4" y="121.1" width="1.3" height="1.3" fill="#1f6a35"/>
<rect x="201.4" y="111.0" width="1.3" height="1.3" fill="#e2892e"/>
<rect x="211.8" y="122.4" width="1.3" height="1.3" fill="#42938a"/>
<rect x="217.0" y="108.6" width="1.3" height="1.3" fill="#2a3479"/>
<rect x="222.7" y="139.2" width="1.3" height="1.3" fill="#1f6a35"/>
<rect x="235.3" y="113.2" width="1.3" height="1.3" fill="#1f6a35"/>
<rect x="205.0" y="118.5" width="1.3" height="1.3" fill="#1f6a35"/>
<rect x="200.8" y="144.9" width="1.3" height="1.3" fill="#1f6a35"/>
<rect x="192.8" y="151.6" width="1.3" height="1.3" fill="#42938a"/>
<rect x="231.6" y="106.4" width="1.3" height="1.3" fill="#2a3479"/>
<rect x="198.6" y="142.0" width="1.3" height="1.3" fill="#42938a"/>
<rect x="215.7" y="146.9" width="1.3" height="1.3" fill="#42938a"/>
<rect x="225.7" y="110.4" width="1.3" height="1.3" fill="#2a3479"/>
<rect x="218.2" y="131.3" width="1.3" height="1.3" fill="#1f6a35"/>
<rect x="195.6" y="110.2" width="1.3" height="1.3" fill="#e2892e"/>
<rect x="213.2" y="147.3" width="1.3" height="1.3" fill="#42938a"/>
<rect x="213.5" y="131.3" width="1.3" height="1.3" fill="#2a3479"/>
<rect x="228.8" y="124.3" width="1.3" height="1.3" fill="#2a3479"/>
<rect x="232.2" y="143.4" width="1.3" height="1.3" fill="#2a3479"/>
<rect x="222.6" y="124.2" width="1.3" height="1.3" fill="#1f6a35"/>
<rect x="232.4" y="114.9" width="1.3" height="1.3" fill="#e2892e"/>
<rect x="229.0" y="148.1" width="1.3" height="1.3" fill="#1f6a35"/>
<rect x="210.1" y="155.7" width="1.3" height="1.3" fill="#e2892e"/>
<rect x="226.3" y="147.5" width="1.3" height="1.3" fill="#1f6a35"/>
<rect x="210.1" y="144.6" width="1.3" height="1.3" fill="#42938a"/>
<rect x="206.5" y="128.4" width="1.3" height="1.3" fill="#1f6a35"/>
<rect x="207.3" y="139.2" width="1.3" height="1.3" fill="#2a3479"/>
<rect x="224.7" y="120.0" width="1.3" height="1.3" fill="#1f6a35"/>
<rect x="219.2" y="132.5" width="1.3" height="1.3" fill="#2a3479"/>
<rect x="226.6" y="147.1" width="1.3" height="1.3" fill="#ffffff"/>
<rect x="228.7" y="114.8" width="1.3" height="1.3" fill="#2a3479"/>
<rect x="208.4" y="104.7" width="1.3" height="1.3" fill="#e2892e"/>
<rect x="215.8" y="160.2" width="1.3" height="1.3" fill="#42938a"/>
<rect x="220.8" y="146.9" width="1.3" height="1.3" fill="#42938a"/>
<rect x="213.8" y="109.2" width="1.3" height="1.3" fill="#e2892e"/>
<rect x="221.6" y="102.1" width="1.3" height="1.3" fill="#e2892e"/>
<rect x="210.9" y="132.1" width="1.3" height="1.3" fill="#1f6a35"/>
<rect x="207.8" y="116.6" width="1.3" height="1.3" fill="#e2892e"/>
<rect x="218.7" y="116.5" width="1.3" height="1.3" fill="#1f6a35"/>
<rect x="203.9" y="99.2" width="1.3" height="1.3" fill="#e2892e"/>
<rect x="229.6" y="123.3" width="1.3" height="1.3" fill="#42938a"/>
<rect x="229.3" y="101.6" width="1.3" height="1.3" fill="#e2892e"/>
<rect x="238.1" y="125.8" width="1.3" height="1.3" fill="#1f6a35"/>
<rect x="216.7" y="158.3" width="1.3" height="1.3" fill="#42938a"/>
<rect x="233.1" y="137.0" width="1.3" height="1.3" fill="#2a3479"/>
<rect x="222.3" y="127.5" width="1.3" height="1.3" fill="#2a3479"/>
<rect x="224.8" y="127.5" width="1.3" height="1.3" fill="#2a3479"/>
<rect x="220.0" y="125.2" width="1.3" height="1.3" fill="#1f6a35"/>
<rect x="200.7" y="105.6" width="1.3" height="1.3" fill="#1f6a35"/>
<rect x="231.3" y="138.3" width="1.3" height="1.3" fill="#42938a"/>
<rect x="202.6" y="142.2" width="1.3" height="1.3" fill="#1f6a35"/>
<rect x="220.5" y="138.9" width="1.3" height="1.3" fill="#1f6a35"/>
<rect x="198.0" y="114.3" width="1.3" height="1.3" fill="#1f6a35"/>
<rect x="222.3" y="104.9" width="1.3" height="1.3" fill="#1f6a35"/>
<rect x="225.2" y="133.6" width="1.3" height="1.3" fill="#1f6a35"/>
<rect x="208.2" y="129.0" width="1.3" height="1.3" fill="#1f6a35"/>
<rect x="206.6" y="146.0" width="1.3" height="1.3" fill="#42938a"/>
<rect x="232.7" y="138.3" width="1.3" height="1.3" fill="#1f6a35"/>
<rect x="201.8" y="150.2" width="1.3" height="1.3" fill="#1f6a35"/>
<rect x="205.6" y="133.5" width="1.3" height="1.3" fill="#2a3479"/>
<rect x="238.9" y="125.7" width="1.3" height="1.3" fill="#2a3479"/>
<rect x="192.8" y="154.4" width="1.3" height="1.3" fill="#42938a"/>
<rect x="214.5" y="142.2" width="1.3" height="1.3" fill="#42938a"/>
<rect x="230.8" y="103.2" width="1.3" height="1.3" fill="#2a3479"/>
<rect x="224.4" y="103.6" width="1.3" height="1.3" fill="#2a3479"/>
<rect x="227.9" y="142.8" width="1.3" height="1.3" fill="#42938a"/>
<rect x="228.0" y="121.8" width="1.3" height="1.3" fill="#2a3479"/>
<rect x="227.1" y="134.8" width="1.3" height="1.3" fill="#e2892e"/>
<rect x="211.9" y="149.7" width="1.3" height="1.3" fill="#42938a"/>
<rect x="205.1" y="123.9" width="1.3" height="1.3" fill="#e2892e"/>
<rect x="237.5" y="114.2" width="1.3" height="1.3" fill="#2a3479"/>
<rect x="207.8" y="121.6" width="1.3" height="1.3" fill="#42938a"/>
<rect x="209.1" y="110.8" width="1.3" height="1.3" fill="#e2892e"/>
<rect x="232.0" y="132.9" width="1.3" height="1.3" fill="#42938a"/>
<rect x="218.9" y="109.7" width="1.3" height="1.3" fill="#1f6a35"/>
<rect x="236.7" y="116.4" width="1.3" height="1.3" fill="#2a3479"/>
<rect x="216.2" y="133.2" width="1.3" height="1.3" fill="#1f6a35"/>
<rect x="218.0" y="148.8" width="1.3" height="1.3" fill="#42938a"/>
<rect x="222.9" y="107.6" width="1.3" height="1.3" fill="#1f6a35"/>
<rect x="223.7" y="114.1" width="1.3" height="1.3" fill="#2a3479"/>
<rect x="230.2" y="131.7" width="1.3" height="1.3" fill="#1f6a35"/>
<rect x="209.4" y="120.0" width="1.3" height="1.3" fill="#1f6a35"/>
<rect x="225.0" y="129.9" width="1.3" height="1.3" fill="#1f6a35"/>
<rect x="227.7" y="143.7" width="1.3" height="1.3" fill="#2a3479"/>
<rect x="210.3" y="151.2" width="1.3" height="1.3" fill="#42938a"/>
<rect x="216.7" y="143.8" width="1.3" height="1.3" fill="#2a3479"/>
<rect x="211.0" y="125.3" width="1.3" height="1.3" fill="#42938a"/>
<rect x="208.4" y="109.1" width="1.3" height="1.3" fill="#e2892e"/>
<rect x="211.1" y="117.0" width="1.3" height="1.3" fill="#1f6a35"/>
<rect x="193.8" y="139.8" width="1.3" height="1.3" fill="#2a3479"/>
<rect x="197.4" y="102.3" width="1.3" height="1.3" fill="#e2892e"/>
<rect x="220.1" y="156.5" width="1.3" height="1.3" fill="#42938a"/>
<rect x="193.4" y="110.2" width="1.3" height="1.3" fill="#e2892e"/>
<rect x="200.5" y="144.3" width="1.3" height="1.3" fill="#1f6a35"/>
<rect x="199.9" y="110.2" width="1.3" height="1.3" fill="#e2892e"/>
<rect x="197.0" y="146.8" width="1.3" height="1.3" fill="#1f6a35"/>
<rect x="218.1" y="150.6" width="1.3" height="1.3" fill="#42938a"/>
<rect x="201.9" y="155.1" width="1.3" height="1.3" fill="#e2892e"/>
<rect x="206.5" y="133.4" width="1.3" height="1.3" fill="#42938a"/>
<rect x="214.4" y="112.5" width="1.3" height="1.3" fill="#e2892e"/>
<rect x="208.9" y="132.1" width="1.3" height="1.3" fill="#1f6a35"/>
<rect x="224.2" y="113.6" width="1.3" height="1.3" fill="#2a3479"/>
<rect x="213.8" y="122.1" width="1.3" height="1.3" fill="#1f6a35"/>
<rect x="227.3" y="137.1" width="1.3" height="1.3" fill="#2a3479"/>
<rect x="201.9" y="154.0" width="1.3" height="1.3" fill="#42938a"/>
<rect x="202.3" y="132.6" width="1.3" height="1.3" fill="#1f6a35"/>
<rect x="202.5" y="144.2" width="1.3" height="1.3" fill="#1f6a35"/>
<rect x="214.2" y="128.3" width="1.3" height="1.3" fill="#e2892e"/>
<rect x="220.2" y="153.2" width="1.3" height="1.3" fill="#42938a"/>
<rect x="231.6" y="125.0" width="1.3" height="1.3" fill="#e2892e"/>
<rect x="192.4" y="151.2" width="1.3" height="1.3" fill="#42938a"/>
<rect x="217.8" y="132.0" width="1.3" height="1.3" fill="#2a3479"/>
<rect x="233.9" y="118.3" width="1.3" height="1.3" fill="#2a3479"/>
<rect x="213.5" y="144.1" width="1.3" height="1.3" fill="#42938a"/>
<rect x="225.8" y="105.1" width="1.3" height="1.3" fill="#2a3479"/>
<rect x="233.8" y="140.2" width="1.3" height="1.3" fill="#42938a"/>
<rect x="208.5" y="143.8" width="1.3" height="1.3" fill="#42938a"/>
<rect x="218.9" y="127.7" width="1.3" height="1.3" fill="#2a3479"/>
<rect x="198.9" y="137.8" width="1.3" height="1.3" fill="#1f6a35"/>
<rect x="208.4" y="132.9" width="1.3" height="1.3" fill="#42938a"/>
<rect x="206.2" y="123.5" width="1.3" height="1.3" fill="#1f6a35"/>
<rect x="201.7" y="111.1" width="1.3" height="1.3" fill="#42938a"/>
<rect x="218.9" y="144.7" width="1.3" height="1.3" fill="#42938a"/>
<rect x="233.7" y="104.3" width="1.3" height="1.3" fill="#2a3479"/>
<rect x="227.0" y="109.9" width="1.3" height="1.3" fill="#2a3479"/>
<rect x="234.2" y="136.3" width="1.3" height="1.3" fill="#2a3479"/>
<rect x="200.0" y="108.4" width="1.3" height="1.3" fill="#e2892e"/>
<rect x="210.1" y="103.0" width="1.3" height="1.3" fill="#1f6a35"/>
<rect x="211.3" y="131.1" width="1.3" height="1.3" fill="#1f6a35"/>
<rect x="209.0" y="119.6" width="1.3" height="1.3" fill="#e2892e"/>
<rect x="231.6" y="140.6" width="1.3" height="1.3" fill="#1f6a35"/>
<rect x="206.5" y="140.0" width="1.3" height="1.3" fill="#1f6a35"/>
<rect x="208.5" y="130.9" width="1.3" height="1.3" fill="#1f6a35"/>
<rect x="233.6" y="137.5" width="1.3" height="1.3" fill="#42938a"/>
<rect x="218.1" y="120.9" width="1.3" height="1.3" fill="#1f6a35"/>
<rect x="195.3" y="144.0" width="1.3" height="1.3" fill="#42938a"/>
<rect x="216.2" y="144.1" width="1.3" height="1.3" fill="#2a3479"/>
<rect x="222.5" y="111.0" width="1.3" height="1.3" fill="#2a3479"/>
<rect x="201.0" y="135.2" width="1.3" height="1.3" fill="#2a3479"/>
<rect x="207.6" y="128.0" width="1.3" height="1.3" fill="#42938a"/>
<rect x="218.8" y="134.2" width="1.3" height="1.3" fill="#2a3479"/>
<rect x="233.1" y="136.8" width="1.3" height="1.3" fill="#2a3479"/>
<rect x="233.5" y="116.8" width="1.3" height="1.3" fill="#42938a"/>
<rect x="200.8" y="135.1" width="1.3" height="1.3" fill="#42938a"/>
<rect x="197.7" y="133.4" width="1.3" height="1.3" fill="#1f6a35"/>
<rect x="224.2" y="118.0" width="1.3" height="1.3" fill="#1f6a35"/>
<rect x="228.7" y="122.8" width="1.3" height="1.3" fill="#1f6a35"/>
<rect x="219.2" y="109.5" width="1.3" height="1.3" fill="#1f6a35"/>
<rect x="202.1" y="134.7" width="1.3" height="1.3" fill="#1f6a35"/>
<rect x="223.3" y="100.8" width="1.3" height="1.3" fill="#1f6a35"/>
<rect x="221.0" y="128.4" width="1.3" height="1.3" fill="#2a3479"/>
<rect x="222.3" y="142.5" width="1.3" height="1.3" fill="#1f6a35"/>
<rect x="229.4" y="129.4" width="1.3" height="1.3" fill="#e2892e"/>
<rect x="210.3" y="126.1" width="1.3" height="1.3" fill="#1f6a35"/>
<rect x="216.8" y="126.0" width="1.3" height="1.3" fill="#e2892e"/>
<rect x="205.3" y="101.8" width="1.3" height="1.3" fill="#42938a"/>
<rect x="220.8" y="146.5" width="1.3" height="1.3" fill="#42938a"/>
<rect x="220.6" y="102.8" width="1.3" height="1.3" fill="#2a3479"/>
<rect x="212.4" y="130.5" width="1.3" height="1.3" fill="#42938a"/>
<rect x="216.8" y="113.7" width="1.3" height="1.3" fill="#2a3479"/>
<rect x="209.5" y="113.4" width="1.3" height="1.3" fill="#e2892e"/>
<rect x="224.6" y="153.8" width="1.3" height="1.3" fill="#42938a"/>
<rect x="232.4" y="112.5" width="1.3" height="1.3" fill="#1f6a35"/>
<rect x="219.1" y="156.2" width="1.3" height="1.3" fill="#42938a"/>
<rect x="231.7" y="106.3" width="1.3" height="1.3" fill="#1f6a35"/>
<rect x="201.0" y="117.5" width="1.3" height="1.3" fill="#e2892e"/>
<rect x="190.9" y="155.6" width="1.3" height="1.3" fill="#1f6a35"/>
<rect x="209.6" y="121.2" width="1.3" height="1.3" fill="#1f6a35"/>
<rect x="237.7" y="118.1" width="1.3" height="1.3" fill="#1f6a35"/>
<rect x="213.8" y="111.6" width="1.3" height="1.3" fill="#e2892e"/>
<rect x="198.3" y="152.0" width="1.3" height="1.3" fill="#42938a"/>
<rect x="213.8" y="109.4" width="1.3" height="1.3" fill="#1f6a35"/>
<rect x="222.8" y="110.6" width="1.3" height="1.3" fill="#42938a"/>
<rect x="228.0" y="118.4" width="1.3" height="1.3" fill="#e2892e"/>
<rect x="194.9" y="142.9" width="1.3" height="1.3" fill="#42938a"/>
<rect x="212.3" y="103.4" width="1.3" height="1.3" fill="#e2892e"/>
<rect x="204.6" y="143.8" width="1.3" height="1.3" fill="#1f6a35"/>
<rect x="197.5" y="113.4" width="1.3" height="1.3" fill="#e2892e"/>
<rect x="231.6" y="122.2" width="1.3" height="1.3" fill="#1f6a35"/>
<rect x="200.2" y="117.6" width="1.3" height="1.3" fill="#1f6a35"/>
<rect x="224.7" y="116.1" width="1.3" height="1.3" fill="#1f6a35"/>
<rect x="212.0" y="132.2" width="1.3" height="1.3" fill="#1f6a35"/>
<rect x="203.3" y="114.4" width="1.3" height="1.3" fill="#42938a"/>
<rect x="229.7" y="114.1" width="1.3" height="1.3" fill="#2a3479"/>
<rect x="218.0" y="110.3" width="1.3" height="1.3" fill="#42938a"/>
<rect x="213.2" y="146.4" width="1.3" height="1.3" fill="#42938a"/>
<rect x="197.4" y="133.9" width="1.3" height="1.3" fill="#2a3479"/>
<rect x="207.5" y="140.5" width="1.3" height="1.3" fill="#2a3479"/>
<rect x="216.3" y="130.7" width="1.3" height="1.3" fill="#42938a"/>
<rect x="225.7" y="131.7" width="1.3" height="1.3" fill="#e2892e"/>
<rect x="197.1" y="148.2" width="1.3" height="1.3" fill="#1f6a35"/>
<rect x="221.4" y="113.4" width="1.3" height="1.3" fill="#2a3479"/>
<rect x="231.7" y="113.5" width="1.3" height="1.3" fill="#1f6a35"/>
<rect x="199.7" y="135.5" width="1.3" height="1.3" fill="#1f6a35"/>
<rect x="227.4" y="135.0" width="1.3" height="1.3" fill="#42938a"/>
<rect x="197.4" y="108.1" width="1.3" height="1.3" fill="#e2892e"/>
<rect x="215.1" y="126.2" width="1.3" height="1.3" fill="#2a3479"/>
<rect x="202.1" y="149.5" width="1.3" height="1.3" fill="#1f6a35"/>
<rect x="217.8" y="149.0" width="1.3" height="1.3" fill="#42938a"/>
<rect x="222.1" y="132.0" width="1.3" height="1.3" fill="#2a3479"/>
<rect x="220.3" y="104.0" width="1.3" height="1.3" fill="#42938a"/>
<rect x="197.0" y="114.7" width="1.3" height="1.3" fill="#e2892e"/>
<rect x="226.0" y="151.5" width="1.3" height="1.3" fill="#1f6a35"/>
<rect x="207.8" y="112.2" width="1.3" height="1.3" fill="#1f6a35"/>
<rect x="200.8" y="155.3" width="1.3" height="1.3" fill="#42938a"/>
<rect x="209.4" y="117.4" width="1.3" height="1.3" fill="#e2892e"/>
<rect x="228.5" y="113.1" width="1.3" height="1.3" fill="#2a3479"/>
<rect x="218.3" y="113.8" width="1.3" height="1.3" fill="#1f6a35"/>
<rect x="239.6" y="121.6" width="1.3" height="1.3" fill="#2a3479"/>
<rect x="223.7" y="102.1" width="1.3" height="1.3" fill="#2a3479"/>
<rect x="220.4" y="155.1" width="1.3" height="1.3" fill="#42938a"/>
<rect x="209.4" y="152.3" width="1.3" height="1.3" fill="#42938a"/>
<rect x="231.1" y="112.1" width="1.3" height="1.3" fill="#2a3479"/>
<rect x="197.6" y="133.5" width="1.3" height="1.3" fill="#1f6a35"/>
<rect x="198.8" y="112.1" width="1.3" height="1.3" fill="#e2892e"/>
<rect x="204.6" y="127.0" width="1.3" height="1.3" fill="#e2892e"/>
<rect x="225.4" y="153.6" width="1.3" height="1.3" fill="#42938a"/>
<rect x="208.8" y="103.0" width="1.3" height="1.3" fill="#e2892e"/>
<rect x="207.7" y="115.9" width="1.3" height="1.3" fill="#e2892e"/>
<rect x="197.5" y="115.1" width="1.3" height="1.3" fill="#e2892e"/>
<rect x="207.5" y="147.4" width="1.3" height="1.3" fill="#2a3479"/>
<rect x="205.4" y="123.0" width="1.3" height="1.3" fill="#42938a"/>
<rect x="236.8" y="119.2" width="1.3" height="1.3" fill="#1f6a35"/>
<rect x="209.4" y="113.6" width="1.3" height="1.3" fill="#e2892e"/>
<rect x="195.8" y="136.5" width="1.3" height="1.3" fill="#1f6a35"/>
<rect x="217.8" y="107.1" width="1.3" height="1.3" fill="#1f6a35"/>
<rect x="201.9" y="144.8" width="1.3" height="1.3" fill="#2a3479"/>
<rect x="195.6" y="111.5" width="1.3" height="1.3" fill="#e2892e"/>
<rect x="227.3" y="124.3" width="1.3" height="1.3" fill="#2a3479"/>
<rect x="235.8" y="112.8" width="1.3" height="1.3" fill="#2a3479"/>
<rect x="206.7" y="112.2" width="1.3" height="1.3" fill="#e2892e"/>
<rect x="219.0" y="150.1" width="1.3" height="1.3" fill="#ffffff"/>
<rect x="204.0" y="141.3" width="1.3" height="1.3" fill="#42938a"/>
<rect x="199.5" y="142.5" width="1.3" height="1.3" fill="#2a3479"/>
<rect x="200.5" y="138.8" width="1.3" height="1.3" fill="#1f6a35"/>
<rect x="211.3" y="123.5" width="1.3" height="1.3" fill="#42938a"/>
<rect x="208.8" y="119.4" width="1.3" height="1.3" fill="#e2892e"/>
<rect x="203.0" y="108.5" width="1.3" height="1.3" fill="#e2892e"/>
<rect x="214.0" y="109.0" width="1.3" height="1.3" fill="#e2892e"/>
<rect x="200.8" y="104.3" width="1.3" height="1.3" fill="#e2892e"/>
<rect x="211.0" y="108.0" width="1.3" height="1.3" fill="#e2892e"/>
<rect x="226.6" y="133.8" width="1.3" height="1.3" fill="#1f6a35"/>
<rect x="207.8" y="102.4" width="1.3" height="1.3" fill="#e2892e"/>
<rect x="220.2" y="128.4" width="1.3" height="1.3" fill="#2a3479"/>
<rect x="201.5" y="99.9" width="1.3" height="1.3" fill="#e2892e"/>
<rect x="202.0" y="141.1" width="1.3" height="1.3" fill="#1f6a35"/>
<rect x="213.6" y="137.7" width="1.3" height="1.3" fill="#e2892e"/>
<rect x="207.7" y="135.2" width="1.3" height="1.3" fill="#42938a"/>
<rect x="230.6" y="138.5" width="1.3" height="1.3" fill="#1f6a35"/>
<rect x="210.4" y="124.9" width="1.3" height="1.3" fill="#42938a"/>
<rect x="208.7" y="156.6" width="1.3" height="1.3" fill="#42938a"/>
<rect x="204.6" y="121.4" width="1.3" height="1.3" fill="#e2892e"/>
<rect x="195.7" y="110.7" width="1.3" height="1.3" fill="#e2892e"/>
<rect x="225.4" y="113.4" width="1.3" height="1.3" fill="#2a3479"/>
<rect x="217.8" y="123.6" width="1.3" height="1.3" fill="#2a3479"/>
<rect x="215.0" y="140.0" width="1.3" height="1.3" fill="#1f6a35"/>
<rect x="222.3" y="134.2" width="1.3" height="1.3" fill="#42938a"/>
<rect x="241.6" y="119.7" width="1.3" height="1.3" fill="#2a3479"/>
<rect x="237.0" y="118.4" width="1.3" height="1.3" fill="#1f6a35"/>
<rect x="226.3" y="142.3" width="1.3" height="1.3" fill="#e2892e"/>
<rect x="233.5" y="108.6" width="1.3" height="1.3" fill="#1f6a35"/>
<rect x="214.8" y="134.4" width="1.3" height="1.3" fill="#2a3479"/>
<rect x="203.3" y="146.3" width="1.3" height="1.3" fill="#1f6a35"/>
<rect x="200.6" y="114.3" width="1.3" height="1.3" fill="#e2892e"/>
<rect x="226.8" y="105.6" width="1.3" height="1.3" fill="#1f6a35"/>
<rect x="230.6" y="129.1" width="1.3" height="1.3" fill="#2a3479"/>
<rect x="215.8" y="149.3" width="1.3" height="1.3" fill="#42938a"/>
<rect x="227.4" y="114.5" width="1.3" height="1.3" fill="#1f6a35"/>
<rect x="205.7" y="119.7" width="1.3" height="1.3" fill="#42938a"/>
<rect x="219.1" y="125.3" width="1.3" height="1.3" fill="#1f6a35"/>
<rect x="222.2" y="151.5" width="1.3" height="1.3" fill="#1f6a35"/>
<rect x="224.8" y="113.1" width="1.3" height="1.3" fill="#2a3479"/>
<rect x="194.8" y="142.4" width="1.3" height="1.3" fill="#1f6a35"/>
<rect x="222.7" y="123.7" width="1.3" height="1.3" fill="#e2892e"/>
<rect x="227.3" y="105.9" width="1.3" height="1.3" fill="#2a3479"/>
<rect x="203.4" y="145.1" width="1.3" height="1.3" fill="#42938a"/>
<rect x="214.4" y="122.2" width="1.3" height="1.3" fill="#2a3479"/>
<rect x="221.9" y="147.3" width="1.3" height="1.3" fill="#ffffff"/>
<rect x="209.2" y="142.8" width="1.3" height="1.3" fill="#1f6a35"/>
<rect x="232.2" y="107.8" width="1.3" height="1.3" fill="#2a3479"/>
<rect x="195.4" y="138.4" width="1.3" height="1.3" fill="#1f6a35"/>
<rect x="207.8" y="115.0" width="1.3" height="1.3" fill="#e2892e"/>
<rect x="191.0" y="155.5" width="1.3" height="1.3" fill="#42938a"/>
<rect x="198.7" y="153.9" width="1.3" height="1.3" fill="#42938a"/>
<rect x="210.6" y="150.0" width="1.3" height="1.3" fill="#42938a"/>
<rect x="224.1" y="138.2" width="1.3" height="1.3" fill="#42938a"/>
<rect x="197.2" y="100.1" width="1.3" height="1.3" fill="#e2892e"/>
<rect x="207.4" y="146.6" width="1.3" height="1.3" fill="#1f6a35"/>
<rect x="228.5" y="123.9" width="1.3" height="1.3" fill="#42938a"/>
<rect x="226.8" y="114.4" width="1.3" height="1.3" fill="#e2892e"/>
<rect x="208.0" y="140.4" width="1.3" height="1.3" fill="#42938a"/>
<rect x="207.8" y="139.2" width="1.3" height="1.3" fill="#1f6a35"/>
<rect x="203.0" y="156.3" width="1.3" height="1.3" fill="#42938a"/>
<rect x="228.9" y="111.9" width="1.3" height="1.3" fill="#1f6a35"/>
<rect x="217.9" y="141.9" width="1.3" height="1.3" fill="#42938a"/>
<rect x="193.3" y="107.5" width="1.3" height="1.3" fill="#e2892e"/>
<rect x="215.5" y="124.2" width="1.3" height="1.3" fill="#2a3479"/>
<rect x="217.4" y="159.3" width="1.3" height="1.3" fill="#42938a"/>
<rect x="236.7" y="118.9" width="1.3" height="1.3" fill="#1f6a35"/>
<rect x="226.9" y="109.7" width="1.3" height="1.3" fill="#2a3479"/>
<rect x="205.4" y="110.1" width="1.3" height="1.3" fill="#e2892e"/>
<rect x="222.9" y="122.5" width="1.3" height="1.3" fill="#1f6a35"/>
<rect x="199.2" y="137.8" width="1.3" height="1.3" fill="#42938a"/>
<rect x="215.6" y="134.7" width="1.3" height="1.3" fill="#2a3479"/>
<rect x="212.7" y="140.9" width="1.3" height="1.3" fill="#42938a"/>
<rect x="208.9" y="113.1" width="1.3" height="1.3" fill="#e2892e"/>
<rect x="219.4" y="131.3" width="1.3" height="1.3" fill="#2a3479"/>
<rect x="222.5" y="126.9" width="1.3" height="1.3" fill="#1f6a35"/>
<rect x="220.6" y="158.0" width="1.3" height="1.3" fill="#42938a"/>
<rect x="228.7" y="118.4" width="1.3" height="1.3" fill="#1f6a35"/>
<rect x="200.5" y="152.1" width="1.3" height="1.3" fill="#42938a"/>
<rect x="232.0" y="131.1" width="1.3" height="1.3" fill="#e2892e"/>
<rect x="191.0" y="154.0" width="1.3" height="1.3" fill="#42938a"/>
<rect x="201.4" y="150.0" width="1.3" height="1.3" fill="#1f6a35"/>
<rect x="217.4" y="153.7" width="1.3" height="1.3" fill="#42938a"/>
<rect x="203.0" y="139.5" width="1.3" height="1.3" fill="#1f6a35"/>
<rect x="218.4" y="148.7" width="1.3" height="1.3" fill="#42938a"/>
<rect x="200.9" y="149.5" width="1.3" height="1.3" fill="#42938a"/>
<rect x="230.5" y="133.5" width="1.3" height="1.3" fill="#e2892e"/>
<rect x="232.0" y="108.1" width="1.3" height="1.3" fill="#2a3479"/>
<rect x="206.7" y="153.7" width="1.3" height="1.3" fill="#1f6a35"/>
<rect x="193.9" y="110.0" width="1.3" height="1.3" fill="#e2892e"/>
<rect x="222.6" y="154.5" width="1.3" height="1.3" fill="#42938a"/>
<rect x="198.4" y="141.1" width="1.3" height="1.3" fill="#1f6a35"/>
<rect x="205.0" y="138.7" width="1.3" height="1.3" fill="#1f6a35"/>
<rect x="221.1" y="142.8" width="1.3" height="1.3" fill="#42938a"/>
<rect x="194.5" y="142.8" width="1.3" height="1.3" fill="#1f6a35"/>
<rect x="194.6" y="105.8" width="1.3" height="1.3" fill="#1f6a35"/>
<rect x="221.5" y="121.2" width="1.3" height="1.3" fill="#2a3479"/>
<rect x="228.6" y="121.4" width="1.3" height="1.3" fill="#2a3479"/>
<rect x="210.2" y="107.7" width="1.3" height="1.3" fill="#e2892e"/>
<rect x="211.1" y="150.8" width="1.3" height="1.3" fill="#42938a"/>
<rect x="212.9" y="130.8" width="1.3" height="1.3" fill="#e2892e"/>
<rect x="206.7" y="143.4" width="1.3" height="1.3" fill="#1f6a35"/>
<rect x="219.8" y="116.6" width="1.3" height="1.3" fill="#42938a"/>
<rect x="203.4" y="153.0" width="1.3" height="1.3" fill="#42938a"/>
<rect x="212.8" y="158.1" width="1.3" height="1.3" fill="#42938a"/>
<rect x="229.0" y="136.8" width="1.3" height="1.3" fill="#2a3479"/>
<rect x="240.8" y="117.1" width="1.3" height="1.3" fill="#1f6a35"/>
<rect x="225.0" y="114.0" width="1.3" height="1.3" fill="#2a3479"/>
<rect x="194.8" y="155.7" width="1.3" height="1.3" fill="#42938a"/>
<rect x="210.9" y="120.2" width="1.3" height="1.3" fill="#42938a"/>
<rect x="235.0" y="136.2" width="1.3" height="1.3" fill="#1f6a35"/>
<rect x="192.9" y="155.7" width="1.3" height="1.3" fill="#42938a"/>
<rect x="207.7" y="122.3" width="1.3" height="1.3" fill="#1f6a35"/>
<rect x="224.8" y="120.4" width="1.3" height="1.3" fill="#42938a"/>
<rect x="222.8" y="128.4" width="1.3" height="1.3" fill="#2a3479"/>
<rect x="213.4" y="118.6" width="1.3" height="1.3" fill="#e2892e"/>
<rect x="209.5" y="151.4" width="1.3" height="1.3" fill="#42938a"/>
<rect x="209.8" y="140.3" width="1.3" height="1.3" fill="#42938a"/>
<rect x="208.1" y="107.5" width="1.3" height="1.3" fill="#e2892e"/>
<rect x="228.9" y="103.7" width="1.3" height="1.3" fill="#2a3479"/>
<rect x="223.7" y="138.2" width="1.3" height="1.3" fill="#1f6a35"/>
<rect x="201.5" y="150.3" width="1.3" height="1.3" fill="#2a3479"/>
<rect x="230.8" y="106.0" width="1.3" height="1.3" fill="#1f6a35"/>
<rect x="217.4" y="132.5" width="1.3" height="1.3" fill="#2a3479"/>
<rect x="231.5" y="117.6" width="1.3" height="1.3" fill="#1f6a35"/>
<rect x="194.3" y="134.7" width="1.3" height="1.3" fill="#1f6a35"/>
<rect x="203.8" y="148.1" width="1.3" height="1.3" fill="#1f6a35"/>
<rect x="218.6" y="127.8" width="1.3" height="1.3" fill="#42938a"/>
<rect x="193.2" y="152.8" width="1.3" height="1.3" fill="#42938a"/>
<rect x="210.1" y="137.5" width="1.3" height="1.3" fill="#2a3479"/>
<rect x="227.3" y="108.4" width="1.3" height="1.3" fill="#1f6a35"/>
<rect x="223.4" y="152.6" width="1.3" height="1.3" fill="#42938a"/>
<rect x="210.7" y="103.4" width="1.3" height="1.3" fill="#e2892e"/>
<rect x="205.8" y="129.6" width="1.3" height="1.3" fill="#2a3479"/>
<rect x="219.2" y="130.4" width="1.3" height="1.3" fill="#e2892e"/>
<rect x="209.4" y="117.5" width="1.3" height="1.3" fill="#42938a"/>
<rect x="211.4" y="128.9" width="1.3" height="1.3" fill="#42938a"/>
<rect x="211.5" y="127.2" width="1.3" height="1.3" fill="#42938a"/>
<rect x="216.9" y="133.4" width="1.3" height="1.3" fill="#2a3479"/>
<rect x="199.8" y="104.7" width="1.3" height="1.3" fill="#e2892e"/>
<rect x="205.0" y="129.3" width="1.3" height="1.3" fill="#1f6a35"/>
<rect x="229.3" y="129.5" width="1.3" height="1.3" fill="#2a3479"/>
<rect x="241.2" y="121.8" width="1.3" height="1.3" fill="#1f6a35"/>
<rect x="208.0" y="117.6" width="1.3" height="1.3" fill="#e2892e"/>
<rect x="220.4" y="118.5" width="1.3" height="1.3" fill="#1f6a35"/>
<rect x="216.3" y="146.6" width="1.3" height="1.3" fill="#42938a"/>
<rect x="202.5" y="149.3" width="1.3" height="1.3" fill="#1f6a35"/>
<rect x="235.5" y="124.1" width="1.3" height="1.3" fill="#2a3479"/>
<rect x="225.4" y="103.8" width="1.3" height="1.3" fill="#e2892e"/>
<rect x="233.9" y="119.4" width="1.3" height="1.3" fill="#2a3479"/>
<rect x="223.3" y="102.0" width="1.3" height="1.3" fill="#1f6a35"/>
<rect x="218.3" y="157.7" width="1.3" height="1.3" fill="#42938a"/>
<rect x="229.5" y="135.5" width="1.3" height="1.3" fill="#2a3479"/>
<rect x="228.6" y="125.1" width="1.3" height="1.3" fill="#1f6a35"/>
<rect x="212.0" y="146.4" width="1.3" height="1.3" fill="#42938a"/>
<rect x="212.4" y="126.3" width="1.3" height="1.3" fill="#42938a"/>
<rect x="205.3" y="145.4" width="1.3" height="1.3" fill="#1f6a35"/>
<rect x="193.8" y="151.7" width="1.3" height="1.3" fill="#42938a"/>
<rect x="218.0" y="105.6" width="1.3" height="1.3" fill="#2a3479"/>
<rect x="218.7" y="157.4" width="1.3" height="1.3" fill="#42938a"/>
<rect x="210.6" y="132.7" width="1.3" height="1.3" fill="#2a3479"/>
<rect x="194.3" y="154.3" width="1.3" height="1.3" fill="#42938a"/>
<rect x="208.5" y="141.5" width="1.3" height="1.3" fill="#2a3479"/>
<rect x="215.0" y="142.5" width="1.3" height="1.3" fill="#42938a"/>
<rect x="231.0" y="105.1" width="1.3" height="1.3" fill="#1f6a35"/>
<rect x="196.7" y="135.8" width="1.3" height="1.3" fill="#1f6a35"/>
<rect x="206.7" y="108.8" width="1.3" height="1.3" fill="#e2892e"/>
<rect x="220.5" y="131.6" width="1.3" height="1.3" fill="#2a3479"/>
<rect x="219.5" y="152.3" width="1.3" height="1.3" fill="#42938a"/>
<rect x="220.0" y="129.1" width="1.3" height="1.3" fill="#e2892e"/>
<rect x="205.7" y="143.0" width="1.3" height="1.3" fill="#1f6a35"/>
<rect x="202.0" y="145.1" width="1.3" height="1.3" fill="#1f6a35"/>
<rect x="201.7" y="102.5" width="1.3" height="1.3" fill="#42938a"/>
<rect x="208.5" y="144.2" width="1.3" height="1.3" fill="#42938a"/>
<rect x="221.9" y="134.2" width="1.3" height="1.3" fill="#e2892e"/>
<rect x="238.3" y="127.5" width="1.3" height="1.3" fill="#1f6a35"/>
<rect x="200.3" y="146.6" width="1.3" height="1.3" fill="#1f6a35"/>
<rect x="204.5" y="152.6" width="1.3" height="1.3" fill="#42938a"/>
<rect x="226.5" y="134.7" width="1.3" height="1.3" fill="#1f6a35"/>
<rect x="206.0" y="108.0" width="1.3" height="1.3" fill="#1f6a35"/>
<rect x="199.6" y="111.1" width="1.3" height="1.3" fill="#e2892e"/>
<rect x="221.5" y="106.1" width="1.3" height="1.3" fill="#1f6a35"/>
<rect x="220.0" y="155.9" width="1.3" height="1.3" fill="#e2892e"/>
<rect x="225.9" y="121.6" width="1.3" height="1.3" fill="#e2892e"/>
<rect x="227.6" y="117.0" width="1.3" height="1.3" fill="#42938a"/>
<rect x="228.1" y="115.3" width="1.3" height="1.3" fill="#2a3479"/>
<rect x="201.5" y="117.1" width="1.3" height="1.3" fill="#e2892e"/>
<rect x="202.6" y="116.6" width="1.3" height="1.3" fill="#e2892e"/>
<rect x="215.9" y="154.3" width="1.3" height="1.3" fill="#42938a"/>
<rect x="221.5" y="133.2" width="1.3" height="1.3" fill="#1f6a35"/>
<rect x="217.3" y="140.6" width="1.3" height="1.3" fill="#2a3479"/>
<rect x="230.8" y="115.0" width="1.3" height="1.3" fill="#2a3479"/>
<rect x="239.8" y="121.6" width="1.3" height="1.3" fill="#1f6a35"/>
<rect x="208.1" y="145.0" width="1.3" height="1.3" fill="#42938a"/>
<rect x="215.7" y="134.6" width="1.3" height="1.3" fill="#2a3479"/>
<rect x="224.2" y="102.9" width="1.3" height="1.3" fill="#e2892e"/>
<rect x="204.7" y="154.2" width="1.3" height="1.3" fill="#42938a"/>
<rect x="224.7" y="102.7" width="1.3" height="1.3" fill="#2a3479"/>
<rect x="225.7" y="153.1" width="1.3" height="1.3" fill="#1f6a35"/>
<rect x="216.5" y="103.3" width="1.3" height="1.3" fill="#1f6a35"/>
<rect x="197.7" y="132.1" width="1.3" height="1.3" fill="#1f6a35"/>
<rect x="215.3" y="111.0" width="1.3" height="1.3" fill="#42938a"/>
<rect x="210.7" y="129.4" width="1.3" height="1.3" fill="#42938a"/>
<rect x="214.6" y="134.0" width="1.3" height="1.3" fill="#e2892e"/>
<rect x="218.8" y="107.0" width="1.3" height="1.3" fill="#2a3479"/>
<rect x="206.1" y="143.3" width="1.3" height="1.3" fill="#42938a"/>
<rect x="214.8" y="136.2" width="1.3" height="1.3" fill="#1f6a35"/>
<rect x="221.7" y="137.6" width="1.3" height="1.3" fill="#e2892e"/>
<rect x="193.6" y="154.0" width="1.3" height="1.3" fill="#ffffff"/>
<rect x="216.5" y="135.5" width="1.3" height="1.3" fill="#1f6a35"/>
<rect x="210.2" y="119.8" width="1.3" height="1.3" fill="#e2892e"/>
<rect x="202.0" y="135.8" width="1.3" height="1.3" fill="#1f6a35"/>
<rect x="206.1" y="141.5" width="1.3" height="1.3" fill="#1f6a35"/>
<rect x="200.5" y="154.8" width="1.3" height="1.3" fill="#42938a"/>
<rect x="195.7" y="114.6" width="1.3" height="1.3" fill="#e2892e"/>
<rect x="231.2" y="119.7" width="1.3" height="1.3" fill="#2a3479"/>
<rect x="224.0" y="115.0" width="1.3" height="1.3" fill="#1f6a35"/>
<rect x="201.6" y="154.5" width="1.3" height="1.3" fill="#42938a"/>
<rect x="200.4" y="117.6" width="1.3" height="1.3" fill="#e2892e"/>
<rect x="228.0" y="141.5" width="1.3" height="1.3" fill="#1f6a35"/>
<rect x="217.6" y="103.4" width="1.3" height="1.3" fill="#1f6a35"/>
<rect x="201.0" y="112.3" width="1.3" height="1.3" fill="#e2892e"/>
<rect x="207.3" y="156.7" width="1.3" height="1.3" fill="#ffffff"/>
<rect x="209.0" y="107.0" width="1.3" height="1.3" fill="#42938a"/>
<rect x="231.2" y="120.0" width="1.3" height="1.3" fill="#1f6a35"/>
<rect x="208.6" y="116.7" width="1.3" height="1.3" fill="#e2892e"/>
<rect x="228.9" y="128.8" width="1.3" height="1.3" fill="#42938a"/>
<rect x="208.7" y="102.5" width="1.3" height="1.3" fill="#1f6a35"/>
<rect x="195.4" y="111.5" width="1.3" height="1.3" fill="#1f6a35"/>
<rect x="195.3" y="144.1" width="1.3" height="1.3" fill="#42938a"/>
<rect x="198.1" y="107.0" width="1.3" height="1.3" fill="#e2892e"/>
<rect x="208.2" y="106.0" width="1.3" height="1.3" fill="#e2892e"/>
<rect x="197.6" y="106.2" width="1.3" height="1.3" fill="#e2892e"/>
<rect x="217.6" y="134.7" width="1.3" height="1.3" fill="#1f6a35"/>
<rect x="216.8" y="159.0" width="1.3" height="1.3" fill="#42938a"/>
<rect x="199.8" y="103.3" width="1.3" height="1.3" fill="#e2892e"/>
<rect x="215.6" y="108.6" width="1.3" height="1.3" fill="#e2892e"/>
<rect x="219.2" y="117.2" width="1.3" height="1.3" fill="#1f6a35"/>
<rect x="221.1" y="152.5" width="1.3" height="1.3" fill="#42938a"/>
<rect x="230.1" y="124.0" width="1.3" height="1.3" fill="#2a3479"/>
<rect x="196.5" y="109.4" width="1.3" height="1.3" fill="#42938a"/>
<rect x="199.2" y="99.6" width="1.3" height="1.3" fill="#e2892e"/>
<rect x="232.1" y="130.3" width="1.3" height="1.3" fill="#1f6a35"/>
<rect x="213.4" y="110.0" width="1.3" height="1.3" fill="#e2892e"/>
<rect x="204.4" y="101.0" width="1.3" height="1.3" fill="#e2892e"/>
<rect x="222.0" y="122.0" width="1.3" height="1.3" fill="#1f6a35"/>
<rect x="222.3" y="118.6" width="1.3" height="1.3" fill="#2a3479"/>
<rect x="210.7" y="132.9" width="1.3" height="1.3" fill="#1f6a35"/>
<rect x="206.0" y="156.8" width="1.3" height="1.3" fill="#42938a"/>
<rect x="236.7" y="108.8" width="1.3" height="1.3" fill="#1f6a35"/>
<rect x="196.9" y="144.6" width="1.3" height="1.3" fill="#1f6a35"/>
<rect x="220.0" y="108.4" width="1.3" height="1.3" fill="#e2892e"/>
<rect x="203.3" y="104.6" width="1.3" height="1.3" fill="#e2892e"/>
<rect x="206.8" y="134.1" width="1.3" height="1.3" fill="#1f6a35"/>
<rect x="215.2" y="115.6" width="1.3" height="1.3" fill="#e2892e"/>
<rect x="222.7" y="127.9" width="1.3" height="1.3" fill="#2a3479"/>
<rect x="215.2" y="129.2" width="1.3" height="1.3" fill="#1f6a35"/>
<rect x="212.1" y="103.8" width="1.3" height="1.3" fill="#42938a"/>
<rect x="200.5" y="151.4" width="1.3" height="1.3" fill="#1f6a35"/>
<rect x="201.6" y="156.1" width="1.3" height="1.3" fill="#42938a"/>
<rect x="211.2" y="133.9" width="1.3" height="1.3" fill="#e2892e"/>
<rect x="214.8" y="129.2" width="1.3" height="1.3" fill="#2a3479"/>
<rect x="234.5" y="130.5" width="1.3" height="1.3" fill="#2a3479"/>
<rect x="198.4" y="112.1" width="1.3" height="1.3" fill="#42938a"/>
<rect x="232.0" y="143.9" width="1.3" height="1.3" fill="#2a3479"/>
<rect x="232.2" y="109.6" width="1.3" height="1.3" fill="#42938a"/>
<rect x="204.3" y="114.0" width="1.3" height="1.3" fill="#1f6a35"/>
<rect x="206.6" y="149.0" width="1.3" height="1.3" fill="#2a3479"/>
<rect x="223.4" y="102.5" width="1.3" height="1.3" fill="#1f6a35"/>
<rect x="236.1" y="118.2" width="1.3" height="1.3" fill="#2a3479"/>
<rect x="226.2" y="146.9" width="1.3" height="1.3" fill="#ffffff"/>
<rect x="222.2" y="106.4" width="1.3" height="1.3" fill="#1f6a35"/>
<rect x="190.6" y="153.9" width="1.3" height="1.3" fill="#1f6a35"/>
<rect x="219.2" y="158.7" width="1.3" height="1.3" fill="#42938a"/>
<rect x="214.9" y="123.0" width="1.3" height="1.3" fill="#2a3479"/>
<rect x="231.9" y="113.0" width="1.3" height="1.3" fill="#1f6a35"/>
<rect x="230.8" y="142.8" width="1.3" height="1.3" fill="#1f6a35"/>
<rect x="205.0" y="115.8" width="1.3" height="1.3" fill="#e2892e"/>
<rect x="223.6" y="142.3" width="1.3" height="1.3" fill="#e2892e"/>
<rect x="238.4" y="116.9" width="1.3" height="1.3" fill="#e2892e"/>
<rect x="230.7" y="119.7" width="1.3" height="1.3" fill="#2a3479"/>
<rect x="216.6" y="129.6" width="1.3" height="1.3" fill="#2a3479"/>
<rect x="235.7" y="132.6" width="1.3" height="1.3" fill="#1f6a35"/>
<rect x="229.0" y="114.3" width="1.3" height="1.3" fill="#2a3479"/>
<rect x="219.9" y="113.8" width="1.3" height="1.3" fill="#2a3479"/>
<rect x="207.2" y="132.1" width="1.3" height="1.3" fill="#42938a"/>
<rect x="223.2" y="124.9" width="1.3" height="1.3" fill="#2a3479"/>
<rect x="211.6" y="142.2" width="1.3" height="1.3" fill="#1f6a35"/>
<rect x="218.4" y="139.4" width="1.3" height="1.3" fill="#e2892e"/>
<rect x="237.9" y="114.4" width="1.3" height="1.3" fill="#1f6a35"/>
<rect x="198.0" y="147.4" width="1.3" height="1.3" fill="#1f6a35"/>
<rect x="195.8" y="133.6" width="1.3" height="1.3" fill="#1f6a35"/>
<rect x="227.7" y="144.9" width="1.3" height="1.3" fill="#42938a"/>
<rect x="230.3" y="139.8" width="1.3" height="1.3" fill="#1f6a35"/>
<rect x="212.9" y="126.0" width="1.3" height="1.3" fill="#42938a"/>
<rect x="213.9" y="159.4" width="1.3" height="1.3" fill="#e2892e"/>
<rect x="202.4" y="142.8" width="1.3" height="1.3" fill="#1f6a35"/>
<rect x="219.4" y="146.0" width="1.3" height="1.3" fill="#42938a"/>
<rect x="223.7" y="142.0" width="1.3" height="1.3" fill="#1f6a35"/>
<rect x="213.6" y="105.1" width="1.3" height="1.3" fill="#1f6a35"/>
<rect x="235.1" y="129.5" width="1.3" height="1.3" fill="#1f6a35"/>
<rect x="199.7" y="153.8" width="1.3" height="1.3" fill="#42938a"/>
<rect x="210.3" y="123.9" width="1.3" height="1.3" fill="#2a3479"/>
<rect x="201.8" y="149.0" width="1.3" height="1.3" fill="#2a3479"/>
<rect x="212.5" y="121.8" width="1.3" height="1.3" fill="#42938a"/>
<rect x="212.7" y="118.5" width="1.3" height="1.3" fill="#e2892e"/>
<rect x="210.4" y="117.8" width="1.3" height="1.3" fill="#42938a"/>
<rect x="212.8" y="128.7" width="1.3" height="1.3" fill="#2a3479"/>
<rect x="212.8" y="122.4" width="1.3" height="1.3" fill="#2a3479"/>
<rect x="209.8" y="141.3" width="1.3" height="1.3" fill="#1f6a35"/>
<rect x="203.9" y="144.7" width="1.3" height="1.3" fill="#42938a"/>
<rect x="224.1" y="141.2" width="1.3" height="1.3" fill="#42938a"/>
<rect x="223.9" y="112.8" width="1.3" height="1.3" fill="#1f6a35"/>
<rect x="217.5" y="161.1" width="1.3" height="1.3" fill="#42938a"/>
<rect x="210.7" y="147.4" width="1.3" height="1.3" fill="#42938a"/>
<rect x="221.7" y="112.5" width="1.3" height="1.3" fill="#2a3479"/>
<rect x="220.0" y="150.9" width="1.3" height="1.3" fill="#1f6a35"/>
<rect x="209.3" y="136.1" width="1.3" height="1.3" fill="#1f6a35"/>
<rect x="230.0" y="146.1" width="1.3" height="1.3" fill="#42938a"/>
<rect x="201.4" y="143.5" width="1.3" height="1.3" fill="#1f6a35"/>
<rect x="205.5" y="144.9" width="1.3" height="1.3" fill="#42938a"/>
<rect x="202.7" y="134.6" width="1.3" height="1.3" fill="#1f6a35"/>
<rect x="215.1" y="109.0" width="1.3" height="1.3" fill="#e2892e"/>
<rect x="203.5" y="149.9" width="1.3" height="1.3" fill="#1f6a35"/>
<rect x="195.5" y="137.1" width="1.3" height="1.3" fill="#1f6a35"/>
<rect x="219.2" y="159.4" width="1.3" height="1.3" fill="#42938a"/>
<rect x="229.8" y="103.2" width="1.3" height="1.3" fill="#2a3479"/>
<rect x="226.1" y="142.5" width="1.3" height="1.3" fill="#2a3479"/>
<rect x="208.6" y="115.9" width="1.3" height="1.3" fill="#e2892e"/>
<rect x="208.3" y="140.4" width="1.3" height="1.3" fill="#1f6a35"/>
<rect x="204.8" y="154.2" width="1.3" height="1.3" fill="#e2892e"/>
<rect x="201.3" y="109.7" width="1.3" height="1.3" fill="#e2892e"/>
<rect x="228.7" y="115.3" width="1.3" height="1.3" fill="#1f6a35"/>
<rect x="199.2" y="143.4" width="1.3" height="1.3" fill="#2a3479"/>
<rect x="206.2" y="154.6" width="1.3" height="1.3" fill="#42938a"/>
<rect x="213.9" y="118.4" width="1.3" height="1.3" fill="#e2892e"/>
<rect x="232.8" y="134.8" width="1.3" height="1.3" fill="#1f6a35"/>
<rect x="199.8" y="138.0" width="1.3" height="1.3" fill="#1f6a35"/>
<rect x="241.3" y="120.2" width="1.3" height="1.3" fill="#2a3479"/>
<rect x="211.5" y="151.3" width="1.3" height="1.3" fill="#e2892e"/>
<rect x="225.3" y="109.3" width="1.3" height="1.3" fill="#2a3479"/>
<rect x="226.9" y="112.2" width="1.3" height="1.3" fill="#42938a"/>
<rect x="236.2" y="112.8" width="1.3" height="1.3" fill="#2a3479"/>
<rect x="200.2" y="144.3" width="1.3" height="1.3" fill="#1f6a35"/>
<rect x="226.3" y="102.4" width="1.3" height="1.3" fill="#42938a"/>
<rect x="217.8" y="135.7" width="1.3" height="1.3" fill="#2a3479"/>
<rect x="226.4" y="109.6" width="1.3" height="1.3" fill="#2a3479"/>
<rect x="224.7" y="142.9" width="1.3" height="1.3" fill="#42938a"/>
<rect x="213.5" y="116.8" width="1.3" height="1.3" fill="#e2892e"/>
<rect x="207.3" y="121.4" width="1.3" height="1.3" fill="#42938a"/>
<rect x="203.7" y="115.1" width="1.3" height="1.3" fill="#e2892e"/>
<rect x="204.7" y="136.2" width="1.3" height="1.3" fill="#1f6a35"/>
<rect x="193.7" y="152.5" width="1.3" height="1.3" fill="#42938a"/>
<rect x="216.0" y="118.3" width="1.3" height="1.3" fill="#1f6a35"/>
<rect x="229.6" y="138.2" width="1.3" height="1.3" fill="#1f6a35"/>
<rect x="226.1" y="130.4" width="1.3" height="1.3" fill="#2a3479"/>
<rect x="209.2" y="130.6" width="1.3" height="1.3" fill="#1f6a35"/>
<rect x="217.0" y="132.5" width="1.3" height="1.3" fill="#1f6a35"/>
<rect x="237.3" y="112.7" width="1.3" height="1.3" fill="#2a3479"/>
<rect x="204.2" y="100.4" width="1.3" height="1.3" fill="#42938a"/>
<rect x="222.1" y="116.6" width="1.3" height="1.3" fill="#2a3479"/>
<rect x="225.6" y="142.6" width="1.3" height="1.3" fill="#1f6a35"/>
<rect x="212.8" y="123.8" width="1.3" height="1.3" fill="#1f6a35"/>
<rect x="216.2" y="118.2" width="1.3" height="1.3" fill="#1f6a35"/>
<rect x="209.2" y="139.3" width="1.3" height="1.3" fill="#42938a"/>
<rect x="218.8" y="158.5" width="1.3" height="1.3" fill="#42938a"/>
<rect x="230.0" y="136.2" width="1.3" height="1.3" fill="#1f6a35"/>
<rect x="217.8" y="119.9" width="1.3" height="1.3" fill="#1f6a35"/>
<rect x="199.7" y="140.4" width="1.3" height="1.3" fill="#1f6a35"/>
<rect x="218.6" y="104.8" width="1.3" height="1.3" fill="#1f6a35"/>
<rect x="202.0" y="150.5" width="1.3" height="1.3" fill="#42938a"/>
<rect x="229.8" y="102.0" width="1.3" height="1.3" fill="#2a3479"/>
<rect x="232.0" y="107.3" width="1.3" height="1.3" fill="#2a3479"/>
<rect x="213.9" y="159.7" width="1.3" height="1.3" fill="#42938a"/>
<rect x="201.9" y="151.3" width="1.3" height="1.3" fill="#42938a"/>
<rect x="222.9" y="137.7" width="1.3" height="1.3" fill="#e2892e"/>
<rect x="208.8" y="151.1" width="1.3" height="1.3" fill="#42938a"/>
<rect x="227.4" y="110.2" width="1.3" height="1.3" fill="#1f6a35"/>
<rect x="225.1" y="102.6" width="1.3" height="1.3" fill="#2a3479"/>
<rect x="200.6" y="116.9" width="1.3" height="1.3" fill="#42938a"/>
<rect x="224.9" y="138.5" width="1.3" height="1.3" fill="#42938a"/>
<rect x="227.5" y="129.9" width="1.3" height="1.3" fill="#2a3479"/>
<rect x="214.9" y="122.9" width="1.3" height="1.3" fill="#1f6a35"/>
<rect x="205.8" y="107.8" width="1.3" height="1.3" fill="#e2892e"/>
<rect x="238.6" y="109.9" width="1.3" height="1.3" fill="#1f6a35"/>
<rect x="215.3" y="147.4" width="1.3" height="1.3" fill="#42938a"/>
<rect x="200.7" y="110.5" width="1.3" height="1.3" fill="#42938a"/>
<rect x="191.7" y="153.7" width="1.3" height="1.3" fill="#42938a"/>
<rect x="234.6" y="138.0" width="1.3" height="1.3" fill="#1f6a35"/>
<rect x="230.0" y="144.6" width="1.3" height="1.3" fill="#42938a"/>
<rect x="233.6" y="107.8" width="1.3" height="1.3" fill="#2a3479"/>
<rect x="236.5" y="122.7" width="1.3" height="1.3" fill="#2a3479"/>
<rect x="190.0" y="152.5" width="1.3" height="1.3" fill="#42938a"/>
<rect x="198.0" y="105.5" width="1.3" height="1.3" fill="#e2892e"/>
<rect x="223.2" y="109.1" width="1.3" height="1.3" fill="#2a3479"/>
<rect x="217.3" y="122.4" width="1.3" height="1.3" fill="#2a3479"/>
<rect x="219.2" y="130.9" width="1.3" height="1.3" fill="#2a3479"/>
<rect x="221.8" y="110.7" width="1.3" height="1.3" fill="#2a3479"/>
<rect x="220.3" y="123.4" width="1.3" height="1.3" fill="#1f6a35"/>
<rect x="208.8" y="143.7" width="1.3" height="1.3" fill="#42938a"/>
<rect x="203.7" y="146.4" width="1.3" height="1.3" fill="#2a3479"/>
<rect x="207.6" y="137.1" width="1.3" height="1.3" fill="#42938a"/>
<rect x="210.0" y="134.5" width="1.3" height="1.3" fill="#42938a"/>
<rect x="222.6" y="116.3" width="1.3" height="1.3" fill="#2a3479"/>
<rect x="221.3" y="110.6" width="1.3" height="1.3" fill="#2a3479"/>
<rect x="226.2" y="110.5" width="1.3" height="1.3" fill="#42938a"/>
<rect x="198.5" y="134.0" width="1.3" height="1.3" fill="#1f6a35"/>
<rect x="223.1" y="102.5" width="1.3" height="1.3" fill="#1f6a35"/>
<rect x="239.7" y="125.3" width="1.3" height="1.3" fill="#2a3479"/>
<rect x="209.6" y="118.4" width="1.3" height="1.3" fill="#42938a"/>
<rect x="213.3" y="142.2" width="1.3" height="1.3" fill="#42938a"/>
<rect x="198.7" y="137.8" width="1.3" height="1.3" fill="#1f6a35"/>
<rect x="197.6" y="145.1" width="1.3" height="1.3" fill="#1f6a35"/>
<rect x="218.0" y="153.1" width="1.3" height="1.3" fill="#42938a"/>
<rect x="193.7" y="139.4" width="1.3" height="1.3" fill="#1f6a35"/>
<rect x="200.2" y="100.3" width="1.3" height="1.3" fill="#e2892e"/>
<rect x="194.5" y="137.0" width="1.3" height="1.3" fill="#42938a"/>
<rect x="206.6" y="106.1" width="1.3" height="1.3" fill="#e2892e"/>
<rect x="218.4" y="135.6" width="1.3" height="1.3" fill="#42938a"/>
<rect x="203.4" y="147.9" width="1.3" height="1.3" fill="#2a3479"/>
<rect x="214.0" y="115.2" width="1.3" height="1.3" fill="#e2892e"/>
<rect x="215.9" y="131.0" width="1.3" height="1.3" fill="#2a3479"/>
<rect x="194.7" y="137.2" width="1.3" height="1.3" fill="#2a3479"/>
<rect x="215.7" y="149.8" width="1.3" height="1.3" fill="#42938a"/>
<rect x="209.6" y="129.1" width="1.3" height="1.3" fill="#42938a"/>
<rect x="209.7" y="103.4" width="1.3" height="1.3" fill="#e2892e"/>
<rect x="195.8" y="107.9" width="1.3" height="1.3" fill="#e2892e"/>
<rect x="221.1" y="147.2" width="1.3" height="1.3" fill="#42938a"/>
<rect x="203.9" y="121.9" width="1.3" height="1.3" fill="#2a3479"/>
<rect x="237.0" y="129.3" width="1.3" height="1.3" fill="#2a3479"/>
<rect x="195.0" y="155.3" width="1.3" height="1.3" fill="#42938a"/>
<rect x="221.2" y="101.6" width="1.3" height="1.3" fill="#e2892e"/>
<rect x="206.1" y="107.6" width="1.3" height="1.3" fill="#42938a"/>
<rect x="223.9" y="128.4" width="1.3" height="1.3" fill="#e2892e"/>
<rect x="231.6" y="111.6" width="1.3" height="1.3" fill="#2a3479"/>
<rect x="221.1" y="128.5" width="1.3" height="1.3" fill="#2a3479"/>
<rect x="238.7" y="111.7" width="1.3" height="1.3" fill="#1f6a35"/>
<rect x="205.3" y="144.7" width="1.3" height="1.3" fill="#42938a"/>
<rect x="215.6" y="107.3" width="1.3" height="1.3" fill="#e2892e"/>
<rect x="201.3" y="133.7" width="1.3" height="1.3" fill="#1f6a35"/>
<rect x="196.8" y="145.9" width="1.3" height="1.3" fill="#2a3479"/>
<rect x="206.2" y="125.2" width="1.3" height="1.3" fill="#1f6a35"/>
<rect x="228.1" y="128.0" width="1.3" height="1.3" fill="#2a3479"/>
<rect x="192.7" y="109.2" width="1.3" height="1.3" fill="#42938a"/>
<rect x="215.1" y="139.6" width="1.3" height="1.3" fill="#42938a"/>
<rect x="208.0" y="109.6" width="1.3" height="1.3" fill="#1f6a35"/>
<rect x="221.3" y="106.6" width="1.3" height="1.3" fill="#1f6a35"/>
<rect x="220.8" y="137.6" width="1.3" height="1.3" fill="#1f6a35"/>
<rect x="221.4" y="154.4" width="1.3" height="1.3" fill="#ffffff"/>
<rect x="210.1" y="139.8" width="1.3" height="1.3" fill="#42938a"/>
<rect x="210.3" y="121.8" width="1.3" height="1.3" fill="#1f6a35"/>
<rect x="207.1" y="120.9" width="1.3" height="1.3" fill="#2a3479"/>
<rect x="232.1" y="141.6" width="1.3" height="1.3" fill="#2a3479"/>
<rect x="209.0" y="139.5" width="1.3" height="1.3" fill="#42938a"/>
<rect x="205.0" y="104.8" width="1.3" height="1.3" fill="#42938a"/>
<rect x="238.9" y="117.7" width="1.3" height="1.3" fill="#2a3479"/>
<rect x="193.9" y="107.5" width="1.3" height="1.3" fill="#e2892e"/>
<rect x="201.6" y="146.9" width="1.3" height="1.3" fill="#1f6a35"/>
<rect x="236.5" y="120.9" width="1.3" height="1.3" fill="#1f6a35"/>
<rect x="198.6" y="117.0" width="1.3" height="1.3" fill="#e2892e"/>
<rect x="202.9" y="145.0" width="1.3" height="1.3" fill="#1f6a35"/>
<rect x="223.1" y="149.7" width="1.3" height="1.3" fill="#42938a"/>
<rect x="198.1" y="106.0" width="1.3" height="1.3" fill="#e2892e"/>
<rect x="231.7" y="136.9" width="1.3" height="1.3" fill="#2a3479"/>
<rect x="212.7" y="136.7" width="1.3" height="1.3" fill="#42938a"/>
<rect x="207.5" y="157.4" width="1.3" height="1.3" fill="#1f6a35"/>
<rect x="219.5" y="106.4" width="1.3" height="1.3" fill="#42938a"/>
<rect x="210.3" y="108.4" width="1.3" height="1.3" fill="#1f6a35"/>
<rect x="219.7" y="155.8" width="1.3" height="1.3" fill="#ffffff"/>
<rect x="229.8" y="139.7" width="1.3" height="1.3" fill="#1f6a35"/>
<rect x="230.9" y="141.2" width="1.3" height="1.3" fill="#42938a"/>
<rect x="217.0" y="124.8" width="1.3" height="1.3" fill="#1f6a35"/>
<rect x="227.3" y="142.4" width="1.3" height="1.3" fill="#1f6a35"/>
<rect x="192.5" y="107.6" width="1.3" height="1.3" fill="#e2892e"/>
<rect x="213.4" y="134.5" width="1.3" height="1.3" fill="#2a3479"/>
<rect x="231.0" y="119.6" width="1.3" height="1.3" fill="#42938a"/>
<rect x="218.0" y="104.3" width="1.3" height="1.3" fill="#42938a"/>
<rect x="230.4" y="136.2" width="1.3" height="1.3" fill="#1f6a35"/>
<rect x="210.5" y="131.7" width="1.3" height="1.3" fill="#42938a"/>
<rect x="213.2" y="114.8" width="1.3" height="1.3" fill="#e2892e"/>
<rect x="193.3" y="107.2" width="1.3" height="1.3" fill="#e2892e"/>
<rect x="217.2" y="135.6" width="1.3" height="1.3" fill="#2a3479"/>
<rect x="208.6" y="108.5" width="1.3" height="1.3" fill="#42938a"/>
<rect x="194.1" y="108.9" width="1.3" height="1.3" fill="#e2892e"/>
<rect x="213.9" y="106.5" width="1.3" height="1.3" fill="#e2892e"/>
<rect x="200.9" y="139.8" width="1.3" height="1.3" fill="#2a3479"/>
<rect x="230.8" y="126.3" width="1.3" height="1.3" fill="#1f6a35"/>
<rect x="213.6" y="122.0" width="1.3" height="1.3" fill="#1f6a35"/>
<rect x="225.7" y="143.9" width="1.3" height="1.3" fill="#42938a"/>
<rect x="219.1" y="107.6" width="1.3" height="1.3" fill="#2a3479"/>
<rect x="209.0" y="121.3" width="1.3" height="1.3" fill="#42938a"/>
<rect x="208.0" y="118.3" width="1.3" height="1.3" fill="#e2892e"/>
<rect x="220.4" y="152.1" width="1.3" height="1.3" fill="#42938a"/>
<rect x="197.2" y="105.1" width="1.3" height="1.3" fill="#e2892e"/>
<rect x="230.2" y="113.1" width="1.3" height="1.3" fill="#1f6a35"/>
<rect x="231.6" y="103.7" width="1.3" height="1.3" fill="#2a3479"/>
<rect x="205.0" y="147.6" width="1.3" height="1.3" fill="#2a3479"/>
<rect x="207.2" y="128.5" width="1.3" height="1.3" fill="#2a3479"/>
<rect x="202.0" y="150.2" width="1.3" height="1.3" fill="#42938a"/>
<rect x="232.4" y="106.1" width="1.3" height="1.3" fill="#2a3479"/>
<rect x="212.1" y="152.1" width="1.3" height="1.3" fill="#42938a"/>
<rect x="198.8" y="155.8" width="1.3" height="1.3" fill="#1f6a35"/>
<rect x="203.3" y="117.1" width="1.3" height="1.3" fill="#e2892e"/>
<rect x="201.1" y="145.2" width="1.3" height="1.3" fill="#1f6a35"/>
<rect x="200.1" y="102.4" width="1.3" height="1.3" fill="#e2892e"/>
<rect x="210.4" y="133.3" width="1.3" height="1.3" fill="#42938a"/>
<rect x="219.0" y="117.0" width="1.3" height="1.3" fill="#2a3479"/>
<rect x="225.1" y="119.8" width="1.3" height="1.3" fill="#1f6a35"/>
<rect x="208.5" y="115.6" width="1.3" height="1.3" fill="#e2892e"/>
<rect x="204.0" y="117.4" width="1.3" height="1.3" fill="#e2892e"/>
<rect x="207.5" y="126.7" width="1.3" height="1.3" fill="#1f6a35"/>
<rect x="231.3" y="134.0" width="1.3" height="1.3" fill="#1f6a35"/>
<rect x="206.6" y="146.4" width="1.3" height="1.3" fill="#1f6a35"/>
<rect x="225.1" y="127.9" width="1.3" height="1.3" fill="#1f6a35"/>
<rect x="219.8" y="132.0" width="1.3" height="1.3" fill="#42938a"/>
<rect x="229.5" y="137.8" width="1.3" height="1.3" fill="#1f6a35"/>
<rect x="214.0" y="122.4" width="1.3" height="1.3" fill="#e2892e"/>
<rect x="196.6" y="134.4" width="1.3" height="1.3" fill="#1f6a35"/>
<rect x="229.6" y="129.7" width="1.3" height="1.3" fill="#1f6a35"/>
<rect x="204.5" y="154.9" width="1.3" height="1.3" fill="#42938a"/>
<rect x="199.9" y="145.3" width="1.3" height="1.3" fill="#42938a"/>
<rect x="230.9" y="116.0" width="1.3" height="1.3" fill="#2a3479"/>
<rect x="227.1" y="145.2" width="1.3" height="1.3" fill="#42938a"/>
<rect x="206.3" y="105.0" width="1.3" height="1.3" fill="#1f6a35"/>
<rect x="212.3" y="115.8" width="1.3" height="1.3" fill="#e2892e"/>
<rect x="210.3" y="128.6" width="1.3" height="1.3" fill="#42938a"/>
<rect x="220.7" y="158.5" width="1.3" height="1.3" fill="#e2892e"/>
<rect x="200.1" y="114.0" width="1.3" height="1.3" fill="#e2892e"/>
<rect x="223.4" y="137.2" width="1.3" height="1.3" fill="#2a3479"/>
<rect x="199.1" y="145.1" width="1.3" height="1.3" fill="#42938a"/>
<rect x="200.9" y="148.7" width="1.3" height="1.3" fill="#42938a"/>
<rect x="202.1" y="104.9" width="1.3" height="1.3" fill="#1f6a35"/>
<rect x="213.8" y="146.1" width="1.3" height="1.3" fill="#1f6a35"/>
<rect x="215.9" y="115.7" width="1.3" height="1.3" fill="#e2892e"/>
<rect x="224.4" y="119.1" width="1.3" height="1.3" fill="#1f6a35"/>
<rect x="199.2" y="112.8" width="1.3" height="1.3" fill="#1f6a35"/>
<rect x="233.3" y="134.6" width="1.3" height="1.3" fill="#2a3479"/>
<rect x="214.7" y="155.5" width="1.3" height="1.3" fill="#ffffff"/>
<rect x="212.4" y="141.6" width="1.3" height="1.3" fill="#1f6a35"/>
<rect x="226.2" y="121.9" width="1.3" height="1.3" fill="#1f6a35"/>
<rect x="227.9" y="149.7" width="1.3" height="1.3" fill="#42938a"/>
<rect x="225.5" y="133.4" width="1.3" height="1.3" fill="#2a3479"/>
<rect x="201.1" y="112.9" width="1.3" height="1.3" fill="#e2892e"/>
<rect x="210.6" y="142.8" width="1.3" height="1.3" fill="#2a3479"/>
<rect x="228.3" y="137.6" width="1.3" height="1.3" fill="#42938a"/>
<rect x="206.3" y="102.9" width="1.3" height="1.3" fill="#e2892e"/>
<rect x="221.3" y="150.1" width="1.3" height="1.3" fill="#ffffff"/>
<rect x="221.8" y="139.2" width="1.3" height="1.3" fill="#2a3479"/>
<rect x="221.6" y="121.6" width="1.3" height="1.3" fill="#2a3479"/>
<rect x="233.9" y="138.3" width="1.3" height="1.3" fill="#e2892e"/>
<rect x="220.6" y="152.9" width="1.3" height="1.3" fill="#1f6a35"/>
<rect x="237.6" y="123.7" width="1.3" height="1.3" fill="#2a3479"/>
<rect x="205.6" y="120.8" width="1.3" height="1.3" fill="#e2892e"/>
<rect x="209.5" y="115.9" width="1.3" height="1.3" fill="#e2892e"/>
<rect x="209.5" y="106.3" width="1.3" height="1.3" fill="#e2892e"/>
<rect x="211.0" y="149.7" width="1.3" height="1.3" fill="#42938a"/>
<rect x="217.1" y="112.8" width="1.3" height="1.3" fill="#2a3479"/>
<rect x="204.2" y="155.7" width="1.3" height="1.3" fill="#42938a"/>
<rect x="214.7" y="131.9" width="1.3" height="1.3" fill="#2a3479"/>
<rect x="217.3" y="102.5" width="1.3" height="1.3" fill="#2a3479"/>
<rect x="203.3" y="150.5" width="1.3" height="1.3" fill="#1f6a35"/>
<rect x="226.6" y="136.4" width="1.3" height="1.3" fill="#42938a"/>
<rect x="228.8" y="101.9" width="1.3" height="1.3" fill="#2a3479"/>
<rect x="196.2" y="134.6" width="1.3" height="1.3" fill="#2a3479"/>
<rect x="221.2" y="107.0" width="1.3" height="1.3" fill="#e2892e"/>
<rect x="215.9" y="115.6" width="1.3" height="1.3" fill="#1f6a35"/>
<rect x="208.9" y="102.8" width="1.3" height="1.3" fill="#e2892e"/>
<rect x="201.9" y="112.3" width="1.3" height="1.3" fill="#e2892e"/>
<rect x="221.3" y="118.8" width="1.3" height="1.3" fill="#1f6a35"/>
<rect x="201.5" y="151.1" width="1.3" height="1.3" fill="#42938a"/>
<rect x="219.9" y="103.2" width="1.3" height="1.3" fill="#2a3479"/>
<rect x="227.5" y="132.1" width="1.3" height="1.3" fill="#2a3479"/>
<rect x="215.1" y="126.9" width="1.3" height="1.3" fill="#2a3479"/>
<rect x="226.5" y="100.9" width="1.3" height="1.3" fill="#1f6a35"/>
<rect x="226.6" y="119.4" width="1.3" height="1.3" fill="#1f6a35"/>
<rect x="219.8" y="124.8" width="1.3" height="1.3" fill="#1f6a35"/>
<rect x="202.8" y="116.7" width="1.3" height="1.3" fill="#1f6a35"/>
<rect x="206.9" y="147.7" width="1.3" height="1.3" fill="#1f6a35"/>
<rect x="203.9" y="113.3" width="1.3" height="1.3" fill="#e2892e"/>
<rect x="215.0" y="125.2" width="1.3" height="1.3" fill="#2a3479"/>
<rect x="240.6" y="118.4" width="1.3" height="1.3" fill="#42938a"/>
<rect x="217.2" y="104.9" width="1.3" height="1.3" fill="#2a3479"/>
<rect x="221.5" y="154.3" width="1.3" height="1.3" fill="#42938a"/>
<rect x="226.7" y="113.2" width="1.3" height="1.3" fill="#1f6a35"/>
<rect x="201.0" y="108.3" width="1.3" height="1.3" fill="#1f6a35"/>
<rect x="217.7" y="101.6" width="1.3" height="1.3" fill="#2a3479"/>
<rect x="203.9" y="101.1" width="1.3" height="1.3" fill="#1f6a35"/>
<rect x="207.2" y="103.6" width="1.3" height="1.3" fill="#e2892e"/>
<rect x="221.9" y="140.5" width="1.3" height="1.3" fill="#42938a"/>
<rect x="217.3" y="101.9" width="1.3" height="1.3" fill="#2a3479"/>
<rect x="232.6" y="115.1" width="1.3" height="1.3" fill="#42938a"/>
<rect x="218.4" y="132.7" width="1.3" height="1.3" fill="#1f6a35"/>
<rect x="199.9" y="111.1" width="1.3" height="1.3" fill="#e2892e"/>
<rect x="203.1" y="133.8" width="1.3" height="1.3" fill="#1f6a35"/>
<rect x="226.2" y="125.0" width="1.3" height="1.3" fill="#2a3479"/>
<rect x="196.9" y="144.8" width="1.3" height="1.3" fill="#42938a"/>
<rect x="232.3" y="137.1" width="1.3" height="1.3" fill="#1f6a35"/>
<rect x="193.8" y="139.5" width="1.3" height="1.3" fill="#1f6a35"/>
<rect x="194.8" y="136.4" width="1.3" height="1.3" fill="#2a3479"/>
<rect x="225.5" y="150.1" width="1.3" height="1.3" fill="#42938a"/>
<rect x="239.1" y="115.7" width="1.3" height="1.3" fill="#1f6a35"/>
<rect x="195.5" y="134.8" width="1.3" height="1.3" fill="#1f6a35"/>
<rect x="213.2" y="103.5" width="1.3" height="1.3" fill="#e2892e"/>
<rect x="235.1" y="127.6" width="1.3" height="1.3" fill="#2a3479"/>
<rect x="219.3" y="124.5" width="1.3" height="1.3" fill="#2a3479"/>
<rect x="211.1" y="107.1" width="1.3" height="1.3" fill="#42938a"/>
<rect x="221.5" y="153.8" width="1.3" height="1.3" fill="#42938a"/>
<rect x="196.3" y="116.0" width="1.3" height="1.3" fill="#42938a"/>
<rect x="220.1" y="139.7" width="1.3" height="1.3" fill="#1f6a35"/>
<rect x="211.5" y="152.4" width="1.3" height="1.3" fill="#e2892e"/>
<rect x="220.5" y="115.0" width="1.3" height="1.3" fill="#2a3479"/>
<rect x="218.6" y="124.5" width="1.3" height="1.3" fill="#e2892e"/>
<rect x="198.9" y="111.5" width="1.3" height="1.3" fill="#e2892e"/>
<rect x="236.1" y="108.2" width="1.3" height="1.3" fill="#2a3479"/>
<rect x="219.6" y="114.1" width="1.3" height="1.3" fill="#1f6a35"/>
<rect x="203.0" y="137.2" width="1.3" height="1.3" fill="#1f6a35"/>
<rect x="229.9" y="114.9" width="1.3" height="1.3" fill="#42938a"/>
<rect x="220.0" y="114.8" width="1.3" height="1.3" fill="#1f6a35"/>
<rect x="204.7" y="105.6" width="1.3" height="1.3" fill="#e2892e"/>
<rect x="221.5" y="113.8" width="1.3" height="1.3" fill="#2a3479"/>
<rect x="230.8" y="107.4" width="1.3" height="1.3" fill="#1f6a35"/>
<rect x="221.2" y="158.2" width="1.3" height="1.3" fill="#42938a"/>
<rect x="220.0" y="119.1" width="1.3" height="1.3" fill="#2a3479"/>
<rect x="219.3" y="114.2" width="1.3" height="1.3" fill="#1f6a35"/>
<rect x="200.0" y="100.1" width="1.3" height="1.3" fill="#e2892e"/>
<rect x="211.7" y="152.5" width="1.3" height="1.3" fill="#42938a"/>
<rect x="216.4" y="137.1" width="1.3" height="1.3" fill="#1f6a35"/>
<rect x="225.3" y="134.0" width="1.3" height="1.3" fill="#1f6a35"/>
<rect x="200.6" y="106.3" width="1.3" height="1.3" fill="#e2892e"/>
<rect x="203.8" y="135.1" width="1.3" height="1.3" fill="#1f6a35"/>
<rect x="212.8" y="109.8" width="1.3" height="1.3" fill="#42938a"/>
<rect x="203.0" y="111.3" width="1.3" height="1.3" fill="#e2892e"/>
<rect x="197.0" y="139.5" width="1.3" height="1.3" fill="#2a3479"/>
<rect x="222.3" y="129.1" width="1.3" height="1.3" fill="#1f6a35"/>
<rect x="203.9" y="128.0" width="1.3" height="1.3" fill="#1f6a35"/>
<rect x="199.4" y="145.3" width="1.3" height="1.3" fill="#1f6a35"/>
<rect x="218.1" y="147.5" width="1.3" height="1.3" fill="#42938a"/>
<rect x="208.2" y="126.0" width="1.3" height="1.3" fill="#1f6a35"/>
<rect x="227.6" y="110.2" width="1.3" height="1.3" fill="#e2892e"/>
<rect x="208.9" y="103.9" width="1.3" height="1.3" fill="#e2892e"/>
<rect x="220.5" y="144.3" width="1.3" height="1.3" fill="#1f6a35"/>
<rect x="231.2" y="126.3" width="1.3" height="1.3" fill="#1f6a35"/>
<rect x="221.2" y="138.9" width="1.3" height="1.3" fill="#1f6a35"/>
<rect x="224.7" y="134.2" width="1.3" height="1.3" fill="#2a3479"/>
<rect x="225.1" y="143.4" width="1.3" height="1.3" fill="#42938a"/>
<rect x="207.4" y="108.9" width="1.3" height="1.3" fill="#1f6a35"/>
<rect x="197.3" y="143.9" width="1.3" height="1.3" fill="#1f6a35"/>
<rect x="192.3" y="153.3" width="1.3" height="1.3" fill="#42938a"/>
<rect x="212.5" y="139.2" width="1.3" height="1.3" fill="#1f6a35"/>
<rect x="212.1" y="154.0" width="1.3" height="1.3" fill="#42938a"/>
<rect x="217.5" y="128.5" width="1.3" height="1.3" fill="#1f6a35"/>
<rect x="231.7" y="136.7" width="1.3" height="1.3" fill="#2a3479"/>
<rect x="202.5" y="133.4" width="1.3" height="1.3" fill="#42938a"/>
<rect x="214.7" y="116.8" width="1.3" height="1.3" fill="#e2892e"/>
<rect x="211.0" y="136.8" width="1.3" height="1.3" fill="#42938a"/>
<rect x="222.1" y="128.6" width="1.3" height="1.3" fill="#1f6a35"/>
<rect x="232.4" y="113.5" width="1.3" height="1.3" fill="#e2892e"/>
<rect x="217.9" y="119.8" width="1.3" height="1.3" fill="#2a3479"/>
<rect x="227.3" y="126.3" width="1.3" height="1.3" fill="#1f6a35"/>
<rect x="201.7" y="153.4" width="1.3" height="1.3" fill="#42938a"/>
<rect x="236.1" y="126.4" width="1.3" height="1.3" fill="#2a3479"/>
<rect x="219.7" y="131.8" width="1.3" height="1.3" fill="#1f6a35"/>
<rect x="218.7" y="159.1" width="1.3" height="1.3" fill="#42938a"/>
<rect x="233.2" y="116.0" width="1.3" height="1.3" fill="#2a3479"/>
<rect x="214.8" y="160.3" width="1.3" height="1.3" fill="#42938a"/>
<rect x="235.2" y="136.2" width="1.3" height="1.3" fill="#e2892e"/>
<rect x="225.1" y="113.7" width="1.3" height="1.3" fill="#2a3479"/>
<rect x="214.2" y="105.4" width="1.3" height="1.3" fill="#1f6a35"/>
<rect x="214.4" y="111.2" width="1.3" height="1.3" fill="#e2892e"/>
<rect x="232.4" y="115.8" width="1.3" height="1.3" fill="#1f6a35"/>
<rect x="225.9" y="112.9" width="1.3" height="1.3" fill="#1f6a35"/>
<rect x="220.2" y="146.4" width="1.3" height="1.3" fill="#ffffff"/>
<rect x="212.8" y="131.0" width="1.3" height="1.3" fill="#42938a"/>
<rect x="198.3" y="115.2" width="1.3" height="1.3" fill="#42938a"/>
<rect x="212.3" y="107.8" width="1.3" height="1.3" fill="#e2892e"/>
<rect x="212.3" y="132.8" width="1.3" height="1.3" fill="#1f6a35"/>
<rect x="201.3" y="148.3" width="1.3" height="1.3" fill="#1f6a35"/>
<rect x="197.7" y="134.3" width="1.3" height="1.3" fill="#1f6a35"/>
<rect x="212.7" y="147.5" width="1.3" height="1.3" fill="#42938a"/>
<rect x="209.7" y="106.3" width="1.3" height="1.3" fill="#e2892e"/>
<rect x="205.1" y="132.0" width="1.3" height="1.3" fill="#1f6a35"/>
<rect x="209.3" y="147.8" width="1.3" height="1.3" fill="#42938a"/>
<rect x="214.3" y="131.1" width="1.3" height="1.3" fill="#2a3479"/>
<rect x="228.4" y="114.6" width="1.3" height="1.3" fill="#2a3479"/>
<rect x="201.2" y="136.6" width="1.3" height="1.3" fill="#1f6a35"/>
<rect x="225.6" y="125.6" width="1.3" height="1.3" fill="#1f6a35"/>
<rect x="218.2" y="105.1" width="1.3" height="1.3" fill="#1f6a35"/>
<rect x="201.5" y="117.4" width="1.3" height="1.3" fill="#1f6a35"/>
<rect x="214.2" y="145.6" width="1.3" height="1.3" fill="#42938a"/>
<rect x="222.6" y="105.9" width="1.3" height="1.3" fill="#2a3479"/>
<rect x="228.5" y="140.8" width="1.3" height="1.3" fill="#42938a"/>
<rect x="230.3" y="102.7" width="1.3" height="1.3" fill="#2a3479"/>
<rect x="200.5" y="130.9" width="1.3" height="1.3" fill="#42938a"/>
<rect x="221.2" y="132.0" width="1.3" height="1.3" fill="#2a3479"/>
<rect x="216.7" y="136.5" width="1.3" height="1.3" fill="#1f6a35"/>
<rect x="223.0" y="134.4" width="1.3" height="1.3" fill="#1f6a35"/>
<rect x="210.4" y="152.2" width="1.3" height="1.3" fill="#42938a"/>
<rect x="226.0" y="133.7" width="1.3" height="1.3" fill="#2a3479"/>
<rect x="193.1" y="140.7" width="1.3" height="1.3" fill="#1f6a35"/>
<rect x="221.6" y="133.5" width="1.3" height="1.3" fill="#1f6a35"/>
<rect x="211.4" y="113.7" width="1.3" height="1.3" fill="#e2892e"/>
<rect x="205.2" y="118.4" width="1.3" height="1.3" fill="#e2892e"/>
<rect x="211.4" y="138.8" width="1.3" height="1.3" fill="#1f6a35"/>
<rect x="212.5" y="126.9" width="1.3" height="1.3" fill="#1f6a35"/>
<rect x="204.9" y="151.4" width="1.3" height="1.3" fill="#42938a"/>
<rect x="218.5" y="131.6" width="1.3" height="1.3" fill="#2a3479"/>
<rect x="214.0" y="159.2" width="1.3" height="1.3" fill="#42938a"/>
<rect x="231.7" y="116.2" width="1.3" height="1.3" fill="#2a3479"/>
<rect x="225.1" y="151.1" width="1.3" height="1.3" fill="#1f6a35"/>
<rect x="215.1" y="150.7" width="1.3" height="1.3" fill="#42938a"/>
<rect x="224.7" y="107.4" width="1.3" height="1.3" fill="#2a3479"/>
<rect x="220.2" y="144.0" width="1.3" height="1.3" fill="#42938a"/>
<rect x="219.2" y="154.3" width="1.3" height="1.3" fill="#42938a"/>
<rect x="203.7" y="133.6" width="1.3" height="1.3" fill="#1f6a35"/>
<rect x="213.5" y="111.5" width="1.3" height="1.3" fill="#42938a"/>
<rect x="222.5" y="153.0" width="1.3" height="1.3" fill="#42938a"/>
<rect x="213.5" y="120.9" width="1.3" height="1.3" fill="#1f6a35"/>
<rect x="195.7" y="114.5" width="1.3" height="1.3" fill="#e2892e"/>
<rect x="228.7" y="124.1" width="1.3" height="1.3" fill="#e2892e"/>
<rect x="221.4" y="140.5" width="1.3" height="1.3" fill="#42938a"/>
<rect x="237.7" y="120.6" width="1.3" height="1.3" fill="#42938a"/>
<rect x="225.6" y="109.8" width="1.3" height="1.3" fill="#1f6a35"/>
<rect x="208.5" y="119.8" width="1.3" height="1.3" fill="#e2892e"/>
<rect x="207.2" y="143.9" width="1.3" height="1.3" fill="#1f6a35"/>
<rect x="210.5" y="136.3" width="1.3" height="1.3" fill="#42938a"/>
<rect x="207.8" y="119.3" width="1.3" height="1.3" fill="#e2892e"/>
<rect x="214.5" y="152.2" width="1.3" height="1.3" fill="#42938a"/>
<rect x="195.6" y="141.0" width="1.3" height="1.3" fill="#1f6a35"/>
<rect x="221.9" y="124.8" width="1.3" height="1.3" fill="#e2892e"/>
<rect x="212.5" y="115.7" width="1.3" height="1.3" fill="#e2892e"/>
<rect x="241.0" y="120.6" width="1.3" height="1.3" fill="#2a3479"/>
<rect x="217.3" y="141.2" width="1.3" height="1.3" fill="#e2892e"/>
<rect x="227.8" y="130.1" width="1.3" height="1.3" fill="#1f6a35"/>
<rect x="225.1" y="104.3" width="1.3" height="1.3" fill="#2a3479"/>
<rect x="197.6" y="116.7" width="1.3" height="1.3" fill="#e2892e"/>
<rect x="229.8" y="108.6" width="1.3" height="1.3" fill="#2a3479"/>
<rect x="228.1" y="103.4" width="1.3" height="1.3" fill="#2a3479"/>
<rect x="214.8" y="117.4" width="1.3" height="1.3" fill="#42938a"/>
<rect x="215.7" y="131.8" width="1.3" height="1.3" fill="#2a3479"/>
<rect x="209.2" y="151.3" width="1.3" height="1.3" fill="#42938a"/>
<rect x="211.6" y="132.9" width="1.3" height="1.3" fill="#42938a"/>
<rect x="217.8" y="145.3" width="1.3" height="1.3" fill="#1f6a35"/>
<rect x="214.1" y="109.3" width="1.3" height="1.3" fill="#e2892e"/>
<rect x="212.2" y="141.8" width="1.3" height="1.3" fill="#42938a"/>
<rect x="203.8" y="105.6" width="1.3" height="1.3" fill="#42938a"/>
<rect x="214.2" y="116.7" width="1.3" height="1.3" fill="#42938a"/>
<rect x="216.5" y="116.9" width="1.3" height="1.3" fill="#2a3479"/>
<rect x="236.5" y="133.2" width="1.3" height="1.3" fill="#e2892e"/>
<rect x="217.6" y="142.0" width="1.3" height="1.3" fill="#42938a"/>
<rect x="211.8" y="137.5" width="1.3" height="1.3" fill="#42938a"/>
<rect x="223.9" y="120.3" width="1.3" height="1.3" fill="#1f6a35"/>
<rect x="211.3" y="132.0" width="1.3" height="1.3" fill="#42938a"/>
<rect x="200.9" y="144.1" width="1.3" height="1.3" fill="#1f6a35"/>
<rect x="221.5" y="145.3" width="1.3" height="1.3" fill="#1f6a35"/>
<rect x="209.5" y="146.7" width="1.3" height="1.3" fill="#42938a"/>
<rect x="213.6" y="115.7" width="1.3" height="1.3" fill="#e2892e"/>
<rect x="215.7" y="142.6" width="1.3" height="1.3" fill="#42938a"/>
<rect x="221.8" y="129.7" width="1.3" height="1.3" fill="#1f6a35"/>
<rect x="210.4" y="109.8" width="1.3" height="1.3" fill="#e2892e"/>
<rect x="231.8" y="131.4" width="1.3" height="1.3" fill="#2a3479"/>
<rect x="221.8" y="151.5" width="1.3" height="1.3" fill="#42938a"/>
<rect x="213.1" y="109.0" width="1.3" height="1.3" fill="#e2892e"/>
<rect x="197.8" y="109.1" width="1.3" height="1.3" fill="#e2892e"/>
<rect x="223.5" y="141.0" width="1.3" height="1.3" fill="#42938a"/>
<rect x="212.9" y="157.7" width="1.3" height="1.3" fill="#42938a"/>
<rect x="213.4" y="146.2" width="1.3" height="1.3" fill="#42938a"/>
<rect x="204.6" y="102.8" width="1.3" height="1.3" fill="#42938a"/>
<rect x="229.2" y="136.8" width="1.3" height="1.3" fill="#2a3479"/>
<rect x="229.0" y="109.6" width="1.3" height="1.3" fill="#1f6a35"/>
<rect x="222.2" y="139.1" width="1.3" height="1.3" fill="#42938a"/>
<rect x="207.8" y="145.3" width="1.3" height="1.3" fill="#1f6a35"/>
<rect x="200.2" y="103.6" width="1.3" height="1.3" fill="#42938a"/>
<rect x="198.9" y="146.4" width="1.3" height="1.3" fill="#1f6a35"/>
<rect x="196.4" y="145.3" width="1.3" height="1.3" fill="#2a3479"/>
<rect x="202.4" y="103.2" width="1.3" height="1.3" fill="#1f6a35"/>
<rect x="219.0" y="103.8" width="1.3" height="1.3" fill="#1f6a35"/>
<rect x="223.7" y="151.6" width="1.3" height="1.3" fill="#1f6a35"/>
<rect x="213.2" y="126.9" width="1.3" height="1.3" fill="#1f6a35"/>
<rect x="231.5" y="136.0" width="1.3" height="1.3" fill="#e2892e"/>
<rect x="202.6" y="155.7" width="1.3" height="1.3" fill="#e2892e"/>
<rect x="221.0" y="138.0" width="1.3" height="1.3" fill="#e2892e"/>
<rect x="218.6" y="144.7" width="1.3" height="1.3" fill="#1f6a35"/>
<rect x="196.8" y="141.0" width="1.3" height="1.3" fill="#1f6a35"/>
<rect x="199.5" y="115.9" width="1.3" height="1.3" fill="#e2892e"/>
<rect x="228.5" y="133.7" width="1.3" height="1.3" fill="#2a3479"/>
<rect x="204.0" y="151.1" width="1.3" height="1.3" fill="#42938a"/>
<rect x="221.3" y="137.0" width="1.3" height="1.3" fill="#1f6a35"/>
<rect x="216.6" y="117.8" width="1.3" height="1.3" fill="#2a3479"/>
<rect x="207.9" y="135.8" width="1.3" height="1.3" fill="#2a3479"/>
<rect x="202.8" y="137.2" width="1.3" height="1.3" fill="#1f6a35"/>
<rect x="229.1" y="111.4" width="1.3" height="1.3" fill="#1f6a35"/>
<rect x="228.6" y="149.5" width="1.3" height="1.3" fill="#42938a"/>
<rect x="231.7" y="121.3" width="1.3" height="1.3" fill="#2a3479"/>
<rect x="222.4" y="106.6" width="1.3" height="1.3" fill="#2a3479"/>
<rect x="209.0" y="157.3" width="1.3" height="1.3" fill="#1f6a35"/>
<rect x="217.1" y="120.1" width="1.3" height="1.3" fill="#2a3479"/>
<rect x="236.2" y="117.4" width="1.3" height="1.3" fill="#2a3479"/>
<rect x="230.7" y="127.3" width="1.3" height="1.3" fill="#e2892e"/>
<rect x="223.6" y="99.9" width="1.3" height="1.3" fill="#e2892e"/>
<rect x="206.3" y="141.7" width="1.3" height="1.3" fill="#1f6a35"/>
<rect x="215.7" y="148.4" width="1.3" height="1.3" fill="#42938a"/>
<rect x="219.1" y="109.3" width="1.3" height="1.3" fill="#2a3479"/>
<rect x="239.0" y="112.4" width="1.3" height="1.3" fill="#1f6a35"/>
<rect x="220.1" y="123.9" width="1.3" height="1.3" fill="#2a3479"/>
<rect x="195.2" y="142.9" width="1.3" height="1.3" fill="#1f6a35"/>
<rect x="221.0" y="150.8" width="1.3" height="1.3" fill="#42938a"/>
<rect x="211.1" y="120.9" width="1.3" height="1.3" fill="#e2892e"/>
<rect x="222.1" y="111.0" width="1.3" height="1.3" fill="#1f6a35"/>
<rect x="215.8" y="132.8" width="1.3" height="1.3" fill="#2a3479"/>
<rect x="220.0" y="118.3" width="1.3" height="1.3" fill="#1f6a35"/>
<rect x="190.3" y="152.2" width="1.3" height="1.3" fill="#42938a"/>
<rect x="222.5" y="104.4" width="1.3" height="1.3" fill="#e2892e"/>
<rect x="197.3" y="133.3" width="1.3" height="1.3" fill="#2a3479"/>
<rect x="195.4" y="112.4" width="1.3" height="1.3" fill="#e2892e"/>
<rect x="200.8" y="100.1" width="1.3" height="1.3" fill="#e2892e"/>
<rect x="235.2" y="112.0" width="1.3" height="1.3" fill="#2a3479"/>
<rect x="221.0" y="137.8" width="1.3" height="1.3" fill="#1f6a35"/>
<rect x="218.3" y="113.3" width="1.3" height="1.3" fill="#2a3479"/>
<rect x="219.9" y="103.9" width="1.3" height="1.3" fill="#42938a"/>
<rect x="207.6" y="118.1" width="1.3" height="1.3" fill="#e2892e"/>
<rect x="201.0" y="99.5" width="1.3" height="1.3" fill="#e2892e"/>
<rect x="214.3" y="113.2" width="1.3" height="1.3" fill="#1f6a35"/>
<rect x="237.0" y="130.3" width="1.3" height="1.3" fill="#42938a"/>
<rect x="207.1" y="146.5" width="1.3" height="1.3" fill="#2a3479"/>
<rect x="207.1" y="145.7" width="1.3" height="1.3" fill="#1f6a35"/>
<rect x="201.4" y="130.2" width="1.3" height="1.3" fill="#42938a"/>
<rect x="220.9" y="156.5" width="1.3" height="1.3" fill="#42938a"/>
<rect x="226.1" y="145.8" width="1.3" height="1.3" fill="#42938a"/>
<rect x="224.4" y="133.5" width="1.3" height="1.3" fill="#1f6a35"/>
<rect x="240.1" y="117.6" width="1.3" height="1.3" fill="#2a3479"/>
<rect x="215.4" y="118.3" width="1.3" height="1.3" fill="#42938a"/>
<rect x="199.0" y="138.0" width="1.3" height="1.3" fill="#1f6a35"/>
<rect x="225.4" y="128.4" width="1.3" height="1.3" fill="#2a3479"/>
<rect x="221.7" y="137.6" width="1.3" height="1.3" fill="#1f6a35"/>
<rect x="236.2" y="126.2" width="1.3" height="1.3" fill="#42938a"/>
<rect x="224.7" y="149.9" width="1.3" height="1.3" fill="#ffffff"/>
<rect x="200.3" y="150.7" width="1.3" height="1.3" fill="#e2892e"/>
<rect x="220.2" y="155.5" width="1.3" height="1.3" fill="#e2892e"/>
<rect x="203.7" y="137.7" width="1.3" height="1.3" fill="#2a3479"/>
<rect x="203.8" y="118.0" width="1.3" height="1.3" fill="#1f6a35"/>
<rect x="228.0" y="116.3" width="1.3" height="1.3" fill="#2a3479"/>
<rect x="197.0" y="114.9" width="1.3" height="1.3" fill="#e2892e"/>
<rect x="205.4" y="107.9" width="1.3" height="1.3" fill="#e2892e"/>
<rect x="225.7" y="150.5" width="1.3" height="1.3" fill="#42938a"/>
<rect x="207.6" y="132.6" width="1.3" height="1.3" fill="#42938a"/>
<rect x="230.7" y="145.5" width="1.3" height="1.3" fill="#42938a"/>
<rect x="214.9" y="158.5" width="1.3" height="1.3" fill="#42938a"/>
<rect x="231.5" y="134.4" width="1.3" height="1.3" fill="#1f6a35"/>
<rect x="220.1" y="144.7" width="1.3" height="1.3" fill="#42938a"/>
<rect x="210.6" y="119.7" width="1.3" height="1.3" fill="#e2892e"/>
<rect x="221.8" y="121.7" width="1.3" height="1.3" fill="#42938a"/>
<rect x="220.9" y="137.6" width="1.3" height="1.3" fill="#2a3479"/>
<rect x="211.9" y="103.8" width="1.3" height="1.3" fill="#e2892e"/>
<rect x="199.9" y="143.1" width="1.3" height="1.3" fill="#1f6a35"/>
<rect x="216.5" y="102.0" width="1.3" height="1.3" fill="#1f6a35"/>
<rect x="227.5" y="105.9" width="1.3" height="1.3" fill="#1f6a35"/>
<rect x="212.6" y="133.2" width="1.3" height="1.3" fill="#1f6a35"/>
<rect x="239.3" y="119.8" width="1.3" height="1.3" fill="#2a3479"/>
<rect x="199.1" y="145.6" width="1.3" height="1.3" fill="#1f6a35"/>
<rect x="199.2" y="110.7" width="1.3" height="1.3" fill="#e2892e"/>
<rect x="234.2" y="126.4" width="1.3" height="1.3" fill="#42938a"/>
<rect x="213.8" y="135.6" width="1.3" height="1.3" fill="#2a3479"/>
<rect x="210.3" y="144.7" width="1.3" height="1.3" fill="#42938a"/>
<rect x="212.8" y="114.5" width="1.3" height="1.3" fill="#e2892e"/>
<rect x="206.3" y="111.0" width="1.3" height="1.3" fill="#e2892e"/>
<rect x="202.1" y="109.9" width="1.3" height="1.3" fill="#42938a"/>
<rect x="194.8" y="110.4" width="1.3" height="1.3" fill="#e2892e"/>
<rect x="215.8" y="151.7" width="1.3" height="1.3" fill="#1f6a35"/>
<rect x="207.0" y="106.5" width="1.3" height="1.3" fill="#1f6a35"/>
<rect x="197.1" y="152.6" width="1.3" height="1.3" fill="#42938a"/>
<rect x="212.0" y="112.5" width="1.3" height="1.3" fill="#e2892e"/>
<rect x="228.6" y="121.1" width="1.3" height="1.3" fill="#e2892e"/>
<rect x="200.1" y="101.5" width="1.3" height="1.3" fill="#e2892e"/>
<rect x="214.6" y="153.6" width="1.3" height="1.3" fill="#ffffff"/>
<rect x="233.1" y="113.8" width="1.3" height="1.3" fill="#e2892e"/>
<rect x="221.7" y="100.8" width="1.3" height="1.3" fill="#2a3479"/>
<rect x="228.8" y="140.7" width="1.3" height="1.3" fill="#42938a"/>
<rect x="239.8" y="117.4" width="1.3" height="1.3" fill="#1f6a35"/>
<rect x="217.6" y="129.6" width="1.3" height="1.3" fill="#1f6a35"/>
<rect x="209.4" y="152.9" width="1.3" height="1.3" fill="#42938a"/>
<rect x="206.9" y="118.9" width="1.3" height="1.3" fill="#e2892e"/>
<rect x="202.1" y="147.8" width="1.3" height="1.3" fill="#1f6a35"/>
<rect x="219.7" y="106.4" width="1.3" height="1.3" fill="#2a3479"/>
<rect x="218.5" y="146.0" width="1.3" height="1.3" fill="#42938a"/>
<rect x="229.4" y="103.4" width="1.3" height="1.3" fill="#e2892e"/>
<rect x="217.9" y="109.4" width="1.3" height="1.3" fill="#42938a"/>
<rect x="207.3" y="148.9" width="1.3" height="1.3" fill="#2a3479"/>
<rect x="219.1" y="123.1" width="1.3" height="1.3" fill="#2a3479"/>
<rect x="219.3" y="143.5" width="1.3" height="1.3" fill="#42938a"/>
<rect x="188.5" y="155.5" width="1.3" height="1.3" fill="#1f6a35"/>
<rect x="227.3" y="119.6" width="1.3" height="1.3" fill="#2a3479"/>
<rect x="232.9" y="104.3" width="1.3" height="1.3" fill="#1f6a35"/>
<rect x="227.0" y="128.0" width="1.3" height="1.3" fill="#e2892e"/>
<rect x="222.7" y="154.9" width="1.3" height="1.3" fill="#42938a"/>
<rect x="210.2" y="117.1" width="1.3" height="1.3" fill="#e2892e"/>
<rect x="228.6" y="104.2" width="1.3" height="1.3" fill="#2a3479"/>
<rect x="214.7" y="105.1" width="1.3" height="1.3" fill="#1f6a35"/>
<rect x="208.2" y="113.9" width="1.3" height="1.3" fill="#e2892e"/>
<rect x="217.4" y="119.9" width="1.3" height="1.3" fill="#e2892e"/>
<rect x="222.9" y="125.9" width="1.3" height="1.3" fill="#2a3479"/>
<rect x="221.6" y="130.0" width="1.3" height="1.3" fill="#1f6a35"/>
<rect x="210.3" y="156.4" width="1.3" height="1.3" fill="#42938a"/>
<rect x="200.3" y="149.2" width="1.3" height="1.3" fill="#1f6a35"/>
<rect x="205.9" y="126.0" width="1.3" height="1.3" fill="#42938a"/>
<rect x="229.9" y="104.5" width="1.3" height="1.3" fill="#1f6a35"/>
<rect x="227.4" y="120.3" width="1.3" height="1.3" fill="#1f6a35"/>
<rect x="207.2" y="138.2" width="1.3" height="1.3" fill="#1f6a35"/>
<rect x="205.1" y="134.2" width="1.3" height="1.3" fill="#2a3479"/>
<rect x="217.5" y="153.7" width="1.3" height="1.3" fill="#42938a"/>
<rect x="199.0" y="138.1" width="1.3" height="1.3" fill="#1f6a35"/>
<rect x="222.3" y="154.8" width="1.3" height="1.3" fill="#1f6a35"/>
<rect x="220.4" y="154.3" width="1.3" height="1.3" fill="#1f6a35"/>
<rect x="223.2" y="138.7" width="1.3" height="1.3" fill="#42938a"/>
<rect x="200.3" y="138.8" width="1.3" height="1.3" fill="#2a3479"/>
<rect x="222.6" y="156.7" width="1.3" height="1.3" fill="#42938a"/>
<rect x="198.9" y="104.7" width="1.3" height="1.3" fill="#e2892e"/>
<rect x="232.1" y="110.1" width="1.3" height="1.3" fill="#2a3479"/>
<rect x="232.1" y="117.1" width="1.3" height="1.3" fill="#1f6a35"/>
<rect x="220.9" y="140.3" width="1.3" height="1.3" fill="#42938a"/>
<rect x="208.4" y="116.2" width="1.3" height="1.3" fill="#1f6a35"/>
<rect x="220.4" y="142.9" width="1.3" height="1.3" fill="#1f6a35"/>
<rect x="222.3" y="123.3" width="1.3" height="1.3" fill="#2a3479"/>
<rect x="203.7" y="112.9" width="1.3" height="1.3" fill="#e2892e"/>
<rect x="231.1" y="141.2" width="1.3" height="1.3" fill="#1f6a35"/>
<rect x="198.9" y="131.0" width="1.3" height="1.3" fill="#1f6a35"/>
<rect x="193.8" y="106.1" width="1.3" height="1.3" fill="#e2892e"/>
<rect x="214.0" y="112.3" width="1.3" height="1.3" fill="#e2892e"/>
<rect x="195.0" y="111.3" width="1.3" height="1.3" fill="#1f6a35"/>
<rect x="205.1" y="145.3" width="1.3" height="1.3" fill="#42938a"/>
<rect x="226.7" y="125.4" width="1.3" height="1.3" fill="#1f6a35"/>
<rect x="214.4" y="158.1" width="1.3" height="1.3" fill="#1f6a35"/>
<rect x="199.9" y="143.2" width="1.3" height="1.3" fill="#42938a"/>
<rect x="211.5" y="152.6" width="1.3" height="1.3" fill="#42938a"/>
<rect x="205.3" y="117.8" width="1.3" height="1.3" fill="#e2892e"/>
<rect x="224.2" y="149.3" width="1.3" height="1.3" fill="#42938a"/>
<rect x="217.0" y="145.7" width="1.3" height="1.3" fill="#1f6a35"/>
<rect x="216.5" y="141.8" width="1.3" height="1.3" fill="#2a3479"/>
<rect x="233.9" y="108.4" width="1.3" height="1.3" fill="#2a3479"/>
<rect x="226.9" y="150.6" width="1.3" height="1.3" fill="#42938a"/>
<rect x="196.6" y="108.3" width="1.3" height="1.3" fill="#e2892e"/>
<rect x="222.2" y="108.6" width="1.3" height="1.3" fill="#e2892e"/>
<rect x="199.4" y="151.7" width="1.3" height="1.3" fill="#e2892e"/>
<rect x="194.1" y="143.2" width="1.3" height="1.3" fill="#1f6a35"/>
<rect x="238.6" y="126.8" width="1.3" height="1.3" fill="#2a3479"/>
<rect x="200.4" y="152.5" width="1.3" height="1.3" fill="#42938a"/>
<rect x="205.4" y="136.2" width="1.3" height="1.3" fill="#1f6a35"/>
<rect x="191.0" y="152.1" width="1.3" height="1.3" fill="#42938a"/>
<rect x="196.5" y="113.1" width="1.3" height="1.3" fill="#42938a"/>
<rect x="208.5" y="123.1" width="1.3" height="1.3" fill="#2a3479"/>
<rect x="235.4" y="113.7" width="1.3" height="1.3" fill="#1f6a35"/>
<rect x="207.4" y="147.4" width="1.3" height="1.3" fill="#2a3479"/>
<rect x="211.1" y="127.8" width="1.3" height="1.3" fill="#1f6a35"/>
<rect x="226.0" y="124.1" width="1.3" height="1.3" fill="#1f6a35"/>
<rect x="198.2" y="107.2" width="1.3" height="1.3" fill="#e2892e"/>
<rect x="240.6" y="123.1" width="1.3" height="1.3" fill="#42938a"/>
<rect x="208.0" y="146.0" width="1.3" height="1.3" fill="#1f6a35"/>
<rect x="223.0" y="142.2" width="1.3" height="1.3" fill="#1f6a35"/>
<rect x="197.3" y="134.7" width="1.3" height="1.3" fill="#1f6a35"/>
<rect x="225.4" y="147.9" width="1.3" height="1.3" fill="#42938a"/>
<rect x="208.1" y="114.7" width="1.3" height="1.3" fill="#1f6a35"/>
<rect x="214.8" y="127.1" width="1.3" height="1.3" fill="#e2892e"/>
<rect x="215.5" y="106.5" width="1.3" height="1.3" fill="#e2892e"/>
<rect x="212.6" y="129.0" width="1.3" height="1.3" fill="#e2892e"/>
<rect x="217.2" y="109.0" width="1.3" height="1.3" fill="#2a3479"/>
<rect x="225.4" y="131.4" width="1.3" height="1.3" fill="#2a3479"/>
<rect x="215.0" y="124.6" width="1.3" height="1.3" fill="#1f6a35"/>
<rect x="220.5" y="101.5" width="1.3" height="1.3" fill="#1f6a35"/>
<rect x="201.4" y="135.6" width="1.3" height="1.3" fill="#1f6a35"/>
<rect x="228.9" y="137.9" width="1.3" height="1.3" fill="#1f6a35"/>
<rect x="220.1" y="115.3" width="1.3" height="1.3" fill="#42938a"/>
<rect x="217.9" y="160.6" width="1.3" height="1.3" fill="#42938a"/>
<rect x="213.4" y="119.0" width="1.3" height="1.3" fill="#e2892e"/>
<rect x="223.6" y="136.2" width="1.3" height="1.3" fill="#e2892e"/>
<rect x="212.0" y="122.1" width="1.3" height="1.3" fill="#1f6a35"/>
<rect x="218.4" y="115.6" width="1.3" height="1.3" fill="#e2892e"/>
<rect x="200.0" y="103.1" width="1.3" height="1.3" fill="#e2892e"/>
<rect x="233.1" y="137.4" width="1.3" height="1.3" fill="#1f6a35"/>
<rect x="203.6" y="108.9" width="1.3" height="1.3" fill="#e2892e"/>
<rect x="234.0" y="133.8" width="1.3" height="1.3" fill="#e2892e"/>
<rect x="232.1" y="133.1" width="1.3" height="1.3" fill="#1f6a35"/>
<rect x="210.7" y="156.4" width="1.3" height="1.3" fill="#1f6a35"/>
<rect x="225.3" y="121.4" width="1.3" height="1.3" fill="#1f6a35"/>
<rect x="211.0" y="142.8" width="1.3" height="1.3" fill="#1f6a35"/>
<rect x="237.2" y="129.1" width="1.3" height="1.3" fill="#2a3479"/>
<rect x="227.4" y="141.0" width="1.3" height="1.3" fill="#42938a"/>
<rect x="215.9" y="116.2" width="1.3" height="1.3" fill="#e2892e"/>
<rect x="201.5" y="116.3" width="1.3" height="1.3" fill="#e2892e"/>
<rect x="223.6" y="147.1" width="1.3" height="1.3" fill="#42938a"/>
<rect x="211.3" y="140.0" width="1.3" height="1.3" fill="#42938a"/>
<rect x="238.6" y="112.7" width="1.3" height="1.3" fill="#2a3479"/>
<rect x="221.9" y="120.5" width="1.3" height="1.3" fill="#2a3479"/>
<rect x="221.4" y="132.7" width="1.3" height="1.3" fill="#1f6a35"/>
<rect x="216.0" y="137.8" width="1.3" height="1.3" fill="#1f6a35"/>
<rect x="227.7" y="143.5" width="1.3" height="1.3" fill="#2a3479"/>
<rect x="213.7" y="139.3" width="1.3" height="1.3" fill="#42938a"/>
<rect x="225.5" y="113.4" width="1.3" height="1.3" fill="#e2892e"/>
<rect x="203.6" y="129.8" width="1.3" height="1.3" fill="#1f6a35"/>
<rect x="201.4" y="138.9" width="1.3" height="1.3" fill="#1f6a35"/>
<rect x="206.6" y="106.8" width="1.3" height="1.3" fill="#1f6a35"/>
<rect x="212.1" y="135.4" width="1.3" height="1.3" fill="#42938a"/>
<rect x="226.4" y="102.6" width="1.3" height="1.3" fill="#1f6a35"/>
<rect x="211.9" y="152.0" width="1.3" height="1.3" fill="#42938a"/>
<rect x="216.9" y="122.8" width="1.3" height="1.3" fill="#2a3479"/>
<rect x="213.9" y="128.4" width="1.3" height="1.3" fill="#2a3479"/>
<rect x="216.4" y="135.3" width="1.3" height="1.3" fill="#1f6a35"/>
<rect x="228.8" y="127.3" width="1.3" height="1.3" fill="#2a3479"/>
<rect x="210.5" y="111.8" width="1.3" height="1.3" fill="#1f6a35"/>
<rect x="204.3" y="133.4" width="1.3" height="1.3" fill="#2a3479"/>
<rect x="194.8" y="133.1" width="1.3" height="1.3" fill="#2a3479"/>
<rect x="224.7" y="122.3" width="1.3" height="1.3" fill="#e2892e"/>
<rect x="215.0" y="154.0" width="1.3" height="1.3" fill="#42938a"/>
<rect x="209.1" y="142.9" width="1.3" height="1.3" fill="#2a3479"/>
<rect x="215.1" y="153.3" width="1.3" height="1.3" fill="#1f6a35"/>
<rect x="210.5" y="143.7" width="1.3" height="1.3" fill="#1f6a35"/>
<rect x="193.7" y="155.9" width="1.3" height="1.3" fill="#1f6a35"/>
<rect x="237.3" y="113.4" width="1.3" height="1.3" fill="#1f6a35"/>
<rect x="204.3" y="130.7" width="1.3" height="1.3" fill="#1f6a35"/>
<rect x="218.1" y="126.1" width="1.3" height="1.3" fill="#1f6a35"/>
<rect x="224.2" y="116.1" width="1.3" height="1.3" fill="#2a3479"/>
<rect x="200.7" y="119.2" width="1.3" height="1.3" fill="#e2892e"/>
<rect x="215.6" y="147.3" width="1.3" height="1.3" fill="#ffffff"/>
<rect x="202.0" y="117.2" width="1.3" height="1.3" fill="#e2892e"/>
<rect x="220.2" y="122.9" width="1.3" height="1.3" fill="#e2892e"/>
<rect x="193.3" y="113.7" width="1.3" height="1.3" fill="#42938a"/>
<rect x="228.8" y="121.0" width="1.3" height="1.3" fill="#42938a"/>
<rect x="196.5" y="113.0" width="1.3" height="1.3" fill="#e2892e"/>
<rect x="217.2" y="148.9" width="1.3" height="1.3" fill="#42938a"/>
<rect x="226.0" y="135.1" width="1.3" height="1.3" fill="#2a3479"/>
<rect x="218.9" y="158.7" width="1.3" height="1.3" fill="#42938a"/>
<rect x="205.8" y="118.1" width="1.3" height="1.3" fill="#e2892e"/>
<rect x="230.5" y="139.8" width="1.3" height="1.3" fill="#42938a"/>
<rect x="221.0" y="154.7" width="1.3" height="1.3" fill="#42938a"/>
<rect x="215.7" y="124.4" width="1.3" height="1.3" fill="#1f6a35"/>
<rect x="229.1" y="128.2" width="1.3" height="1.3" fill="#42938a"/>
<rect x="230.4" y="130.9" width="1.3" height="1.3" fill="#2a3479"/>
<rect x="223.2" y="102.9" width="1.3" height="1.3" fill="#1f6a35"/>
<rect x="211.3" y="136.7" width="1.3" height="1.3" fill="#42938a"/>
<rect x="233.7" y="115.0" width="1.3" height="1.3" fill="#42938a"/>
<rect x="217.9" y="133.3" width="1.3" height="1.3" fill="#2a3479"/>
<rect x="217.3" y="121.6" width="1.3" height="1.3" fill="#1f6a35"/>
<rect x="202.1" y="103.3" width="1.3" height="1.3" fill="#e2892e"/>
<rect x="205.1" y="115.7" width="1.3" height="1.3" fill="#e2892e"/>
<rect x="203.7" y="144.7" width="1.3" height="1.3" fill="#1f6a35"/>
<rect x="190.5" y="154.8" width="1.3" height="1.3" fill="#42938a"/>
<rect x="202.1" y="139.5" width="1.3" height="1.3" fill="#1f6a35"/>
<rect x="215.8" y="115.9" width="1.3" height="1.3" fill="#e2892e"/>
<rect x="223.7" y="152.5" width="1.3" height="1.3" fill="#42938a"/>
<rect x="219.3" y="134.6" width="1.3" height="1.3" fill="#42938a"/>
<rect x="214.2" y="153.7" width="1.3" height="1.3" fill="#e2892e"/>
<rect x="210.2" y="124.3" width="1.3" height="1.3" fill="#e2892e"/>
<rect x="219.8" y="132.3" width="1.3" height="1.3" fill="#1f6a35"/>
<rect x="221.2" y="131.5" width="1.3" height="1.3" fill="#1f6a35"/>
<rect x="195.6" y="111.8" width="1.3" height="1.3" fill="#42938a"/>
<rect x="223.9" y="100.3" width="1.3" height="1.3" fill="#1f6a35"/>
<rect x="197.9" y="153.3" width="1.3" height="1.3" fill="#42938a"/>
<rect x="202.1" y="140.0" width="1.3" height="1.3" fill="#2a3479"/>
<rect x="218.7" y="105.8" width="1.3" height="1.3" fill="#2a3479"/>
<rect x="228.3" y="106.3" width="1.3" height="1.3" fill="#2a3479"/>
<rect x="239.5" y="124.5" width="1.3" height="1.3" fill="#2a3479"/>
<rect x="223.8" y="120.7" width="1.3" height="1.3" fill="#1f6a35"/>
<rect x="207.8" y="151.4" width="1.3" height="1.3" fill="#1f6a35"/>
<rect x="197.3" y="133.3" width="1.3" height="1.3" fill="#1f6a35"/>
<rect x="206.5" y="137.5" width="1.3" height="1.3" fill="#1f6a35"/>
<rect x="225.7" y="106.7" width="1.3" height="1.3" fill="#1f6a35"/>
<rect x="213.6" y="128.6" width="1.3" height="1.3" fill="#2a3479"/>
<rect x="195.8" y="152.4" width="1.3" height="1.3" fill="#42938a"/>
<rect x="229.2" y="145.7" width="1.3" height="1.3" fill="#42938a"/>
<rect x="218.1" y="117.7" width="1.3" height="1.3" fill="#1f6a35"/>
<rect x="211.5" y="148.5" width="1.3" height="1.3" fill="#42938a"/>
<rect x="208.7" y="103.6" width="1.3" height="1.3" fill="#e2892e"/>
<rect x="199.4" y="99.4" width="1.3" height="1.3" fill="#e2892e"/>
<rect x="208.6" y="154.8" width="1.3" height="1.3" fill="#42938a"/>
<rect x="233.8" y="121.3" width="1.3" height="1.3" fill="#2a3479"/>
<rect x="221.5" y="121.1" width="1.3" height="1.3" fill="#2a3479"/>
<rect x="194.7" y="141.8" width="1.3" height="1.3" fill="#2a3479"/>
<rect x="230.4" y="120.3" width="1.3" height="1.3" fill="#1f6a35"/>
<rect x="238.5" y="114.5" width="1.3" height="1.3" fill="#2a3479"/>
<rect x="238.2" y="127.3" width="1.3" height="1.3" fill="#42938a"/>
<rect x="217.3" y="120.7" width="1.3" height="1.3" fill="#1f6a35"/>
<rect x="223.9" y="122.7" width="1.3" height="1.3" fill="#e2892e"/>
<rect x="192.5" y="152.7" width="1.3" height="1.3" fill="#42938a"/>
<rect x="227.1" y="128.7" width="1.3" height="1.3" fill="#1f6a35"/>
<rect x="235.8" y="124.5" width="1.3" height="1.3" fill="#1f6a35"/>
<rect x="226.3" y="130.5" width="1.3" height="1.3" fill="#1f6a35"/>
<rect x="214.5" y="106.0" width="1.3" height="1.3" fill="#e2892e"/>
<rect x="229.5" y="108.9" width="1.3" height="1.3" fill="#1f6a35"/>
<rect x="235.7" y="120.8" width="1.3" height="1.3" fill="#2a3479"/>
<rect x="226.5" y="135.1" width="1.3" height="1.3" fill="#2a3479"/>
<rect x="227.5" y="142.9" width="1.3" height="1.3" fill="#1f6a35"/>
<rect x="195.5" y="152.3" width="1.3" height="1.3" fill="#42938a"/>
<rect x="216.6" y="124.1" width="1.3" height="1.3" fill="#e2892e"/>
<rect x="222.3" y="112.8" width="1.3" height="1.3" fill="#2a3479"/>
<rect x="213.8" y="133.7" width="1.3" height="1.3" fill="#1f6a35"/>
<rect x="219.9" y="102.3" width="1.3" height="1.3" fill="#2a3479"/>
<rect x="233.8" y="116.8" width="1.3" height="1.3" fill="#2a3479"/>
<rect x="236.0" y="124.3" width="1.3" height="1.3" fill="#2a3479"/>
<rect x="208.0" y="154.8" width="1.3" height="1.3" fill="#e2892e"/>
<rect x="225.4" y="105.8" width="1.3" height="1.3" fill="#e2892e"/>
<rect x="196.7" y="145.7" width="1.3" height="1.3" fill="#1f6a35"/>
<rect x="201.6" y="155.2" width="1.3" height="1.3" fill="#42938a"/>
<rect x="224.7" y="126.3" width="1.3" height="1.3" fill="#2a3479"/>
<rect x="203.1" y="118.1" width="1.3" height="1.3" fill="#42938a"/>
<rect x="196.6" y="111.9" width="1.3" height="1.3" fill="#e2892e"/>
<rect x="205.3" y="111.5" width="1.3" height="1.3" fill="#42938a"/>
<rect x="201.5" y="110.4" width="1.3" height="1.3" fill="#e2892e"/>
<rect x="230.5" y="144.7" width="1.3" height="1.3" fill="#1f6a35"/>
<rect x="227.8" y="119.6" width="1.3" height="1.3" fill="#e2892e"/>
<rect x="217.6" y="157.1" width="1.3" height="1.3" fill="#42938a"/>
<rect x="240.6" y="118.7" width="1.3" height="1.3" fill="#1f6a35"/>
<rect x="218.7" y="133.5" width="1.3" height="1.3" fill="#42938a"/>
<rect x="234.8" y="110.0" width="1.3" height="1.3" fill="#1f6a35"/>
<rect x="216.8" y="124.2" width="1.3" height="1.3" fill="#2a3479"/>
<rect x="227.9" y="134.9" width="1.3" height="1.3" fill="#2a3479"/>
<rect x="205.3" y="119.4" width="1.3" height="1.3" fill="#e2892e"/>
<rect x="208.4" y="121.8" width="1.3" height="1.3" fill="#42938a"/>
<rect x="207.7" y="129.4" width="1.3" height="1.3" fill="#1f6a35"/>
<rect x="233.0" y="132.7" width="1.3" height="1.3" fill="#1f6a35"/>
<rect x="226.0" y="121.9" width="1.3" height="1.3" fill="#2a3479"/>
<rect x="212.7" y="150.6" width="1.3" height="1.3" fill="#42938a"/>
<rect x="200.3" y="137.7" width="1.3" height="1.3" fill="#2a3479"/>
<rect x="236.9" y="130.7" width="1.3" height="1.3" fill="#2a3479"/>
<rect x="194.5" y="109.6" width="1.3" height="1.3" fill="#e2892e"/>
<rect x="195.8" y="152.8" width="1.3" height="1.3" fill="#42938a"/>
<rect x="214.2" y="148.6" width="1.3" height="1.3" fill="#42938a"/>
<rect x="214.5" y="157.8" width="1.3" height="1.3" fill="#42938a"/>
<rect x="204.3" y="138.9" width="1.3" height="1.3" fill="#1f6a35"/>
<rect x="215.2" y="139.1" width="1.3" height="1.3" fill="#1f6a35"/>
<rect x="225.6" y="149.5" width="1.3" height="1.3" fill="#42938a"/>
<rect x="198.4" y="152.3" width="1.3" height="1.3" fill="#42938a"/>
<rect x="233.6" y="115.4" width="1.3" height="1.3" fill="#1f6a35"/>
<rect x="208.7" y="134.3" width="1.3" height="1.3" fill="#1f6a35"/>
<rect x="227.5" y="111.6" width="1.3" height="1.3" fill="#1f6a35"/>
<rect x="196.7" y="114.0" width="1.3" height="1.3" fill="#42938a"/>
<rect x="193.7" y="135.6" width="1.3" height="1.3" fill="#1f6a35"/>
<rect x="212.3" y="130.4" width="1.3" height="1.3" fill="#42938a"/>
<rect x="202.1" y="105.1" width="1.3" height="1.3" fill="#e2892e"/>
<rect x="196.0" y="109.7" width="1.3" height="1.3" fill="#e2892e"/>
<rect x="228.8" y="140.1" width="1.3" height="1.3" fill="#42938a"/>
<rect x="205.0" y="116.0" width="1.3" height="1.3" fill="#e2892e"/>
<rect x="219.2" y="106.8" width="1.3" height="1.3" fill="#2a3479"/>
<rect x="222.4" y="116.3" width="1.3" height="1.3" fill="#1f6a35"/>
<rect x="197.2" y="104.6" width="1.3" height="1.3" fill="#e2892e"/>
<rect x="235.4" y="132.7" width="1.3" height="1.3" fill="#2a3479"/>
<rect x="207.3" y="138.8" width="1.3" height="1.3" fill="#1f6a35"/>
<rect x="216.8" y="135.1" width="1.3" height="1.3" fill="#2a3479"/>
<rect x="234.1" y="139.2" width="1.3" height="1.3" fill="#42938a"/>
<rect x="234.8" y="115.6" width="1.3" height="1.3" fill="#e2892e"/>
<rect x="232.9" y="105.2" width="1.3" height="1.3" fill="#42938a"/>
<rect x="199.1" y="111.8" width="1.3" height="1.3" fill="#e2892e"/>
<rect x="199.1" y="142.0" width="1.3" height="1.3" fill="#1f6a35"/>
<rect x="215.1" y="147.0" width="1.3" height="1.3" fill="#42938a"/>
<rect x="212.6" y="109.4" width="1.3" height="1.3" fill="#42938a"/>
<rect x="222.5" y="128.0" width="1.3" height="1.3" fill="#e2892e"/>
<rect x="213.4" y="145.8" width="1.3" height="1.3" fill="#42938a"/>
<rect x="207.5" y="138.7" width="1.3" height="1.3" fill="#1f6a35"/>
<rect x="223.5" y="144.4" width="1.3" height="1.3" fill="#42938a"/>
<rect x="213.1" y="134.5" width="1.3" height="1.3" fill="#1f6a35"/>
<rect x="201.3" y="101.3" width="1.3" height="1.3" fill="#e2892e"/>
<rect x="216.8" y="139.1" width="1.3" height="1.3" fill="#2a3479"/>
<rect x="202.3" y="109.1" width="1.3" height="1.3" fill="#e2892e"/>
<rect x="196.5" y="114.9" width="1.3" height="1.3" fill="#e2892e"/>
<rect x="225.7" y="105.1" width="1.3" height="1.3" fill="#2a3479"/>
<rect x="213.7" y="131.7" width="1.3" height="1.3" fill="#2a3479"/>
<rect x="224.3" y="134.5" width="1.3" height="1.3" fill="#e2892e"/>
<rect x="202.5" y="116.2" width="1.3" height="1.3" fill="#e2892e"/>
<rect x="226.1" y="140.4" width="1.3" height="1.3" fill="#42938a"/>
<rect x="218.3" y="143.0" width="1.3" height="1.3" fill="#42938a"/>
<rect x="215.9" y="105.5" width="1.3" height="1.3" fill="#e2892e"/>
<rect x="231.1" y="105.5" width="1.3" height="1.3" fill="#2a3479"/>
<rect x="218.9" y="102.8" width="1.3" height="1.3" fill="#2a3479"/>
<rect x="211.9" y="117.5" width="1.3" height="1.3" fill="#e2892e"/>
<rect x="204.2" y="108.7" width="1.3" height="1.3" fill="#e2892e"/>
<rect x="226.1" y="120.9" width="1.3" height="1.3" fill="#2a3479"/>
<rect x="204.1" y="115.7" width="1.3" height="1.3" fill="#42938a"/>
<rect x="191.2" y="151.9" width="1.3" height="1.3" fill="#1f6a35"/>
<circle cx="204.80" cy="145.10" r="2.5" fill="#ffffff" />
<circle cx="51.30" cy="139.46" r="0.45" fill="#ffffff" opacity="0.8"/>
<circle cx="112.63" cy="155.44" r="0.45" fill="#ffffff" opacity="0.8"/>
<circle cx="63.24" cy="198.72" r="0.45" fill="#ffffff" opacity="0.8"/>
<circle cx="65.92" cy="130.34" r="0.45" fill="#ffffff" opacity="0.8"/>
<circle cx="102.08" cy="198.88" r="0.45" fill="#ffffff" opacity="0.8"/>
<circle cx="103.04" cy="116.68" r="0.45" fill="#ffffff" opacity="0.8"/>
<circle cx="51.53" cy="133.23" r="0.45" fill="#ffffff" opacity="0.8"/>
<circle cx="99.87" cy="196.54" r="0.45" fill="#ffffff" opacity="0.8"/>
<circle cx="58.66" cy="171.81" r="0.45" fill="#ffffff" opacity="0.8"/>
<circle cx="100.64" cy="117.51" r="0.45" fill="#ffffff" opacity="0.8"/>
<circle cx="117.71" cy="141.65" r="0.45" fill="#ffffff" opacity="0.8"/>
<circle cx="78.08" cy="182.35" r="0.45" fill="#ffffff" opacity="0.8"/>
<circle cx="90.74" cy="168.22" r="0.45" fill="#ffffff" opacity="0.8"/>
<circle cx="54.33" cy="167.90" r="0.45" fill="#ffffff" opacity="0.8"/>
<circle cx="61.19" cy="185.03" r="0.45" fill="#ffffff" opacity="0.8"/>
<circle cx="108.06" cy="170.16" r="0.45" fill="#ffffff" opacity="0.8"/>
<circle cx="98.37" cy="197.99" r="0.45" fill="#ffffff" opacity="0.8"/>
<circle cx="112.19" cy="175.86" r="0.45" fill="#ffffff" opacity="0.8"/>
<circle cx="77.00" cy="116.07" r="0.45" fill="#ffffff" opacity="0.8"/>
<circle cx="125.00" cy="120.45" r="0.45" fill="#ffffff" opacity="0.8"/>
<circle cx="53.23" cy="165.56" r="0.45" fill="#ffffff" opacity="0.8"/>
<circle cx="124.42" cy="152.85" r="0.45" fill="#ffffff" opacity="0.8"/>
<circle cx="65.69" cy="116.63" r="0.45" fill="#ffffff" opacity="0.8"/>
<circle cx="62.10" cy="145.81" r="0.45" fill="#ffffff" opacity="0.8"/>
<circle cx="76.17" cy="137.87" r="0.45" fill="#ffffff" opacity="0.8"/>
<circle cx="115.91" cy="199.95" r="0.45" fill="#ffffff" opacity="0.8"/>
<circle cx="123.38" cy="131.67" r="0.45" fill="#ffffff" opacity="0.8"/>
<circle cx="102.28" cy="128.94" r="0.45" fill="#ffffff" opacity="0.8"/>
<circle cx="84.67" cy="157.53" r="0.45" fill="#ffffff" opacity="0.8"/>
<circle cx="73.64" cy="181.64" r="0.45" fill="#ffffff" opacity="0.8"/>
<circle cx="66.47" cy="183.23" r="0.45" fill="#ffffff" opacity="0.8"/>
<circle cx="107.45" cy="168.47" r="0.45" fill="#ffffff" opacity="0.8"/>
<circle cx="55.71" cy="125.32" r="0.45" fill="#ffffff" opacity="0.8"/>
<circle cx="110.47" cy="196.48" r="0.45" fill="#ffffff" opacity="0.8"/>
<circle cx="67.96" cy="171.65" r="0.45" fill="#ffffff" opacity="0.8"/>
<circle cx="106.84" cy="188.86" r="0.45" fill="#ffffff" opacity="0.8"/>
<circle cx="60.21" cy="132.41" r="0.45" fill="#ffffff" opacity="0.8"/>
<circle cx="54.71" cy="173.92" r="0.45" fill="#ffffff" opacity="0.8"/>
<circle cx="76.86" cy="174.33" r="0.45" fill="#ffffff" opacity="0.8"/>
<circle cx="62.36" cy="169.26" r="0.45" fill="#ffffff" opacity="0.8"/>
<circle cx="70.45" cy="152.27" r="0.45" fill="#ffffff" opacity="0.8"/>
<circle cx="94.27" cy="195.80" r="0.45" fill="#ffffff" opacity="0.8"/>
<circle cx="64.36" cy="181.56" r="0.45" fill="#ffffff" opacity="0.8"/>
<circle cx="53.77" cy="130.05" r="0.45" fill="#ffffff" opacity="0.8"/>
<circle cx="102.26" cy="122.06" r="0.45" fill="#ffffff" opacity="0.8"/>
<circle cx="113.08" cy="190.53" r="0.45" fill="#ffffff" opacity="0.8"/>
<circle cx="66.45" cy="175.07" r="0.45" fill="#ffffff" opacity="0.8"/>
<circle cx="98.67" cy="198.11" r="0.45" fill="#ffffff" opacity="0.8"/>
<circle cx="87.16" cy="146.29" r="0.45" fill="#ffffff" opacity="0.8"/>
<circle cx="115.87" cy="137.69" r="0.45" fill="#ffffff" opacity="0.8"/>
<circle cx="118.50" cy="145.80" r="0.45" fill="#ffffff" opacity="0.8"/>
<circle cx="80.54" cy="186.02" r="0.45" fill="#ffffff" opacity="0.8"/>
<circle cx="106.75" cy="130.66" r="0.45" fill="#ffffff" opacity="0.8"/>
<circle cx="99.41" cy="199.03" r="0.45" fill="#ffffff" opacity="0.8"/>
<circle cx="80.01" cy="162.42" r="0.45" fill="#ffffff" opacity="0.8"/>
<circle cx="99.20" cy="176.18" r="0.45" fill="#ffffff" opacity="0.8"/>
<circle cx="79.29" cy="147.35" r="0.45" fill="#ffffff" opacity="0.8"/>
<circle cx="63.28" cy="168.21" r="0.45" fill="#ffffff" opacity="0.8"/>
<circle cx="74.76" cy="181.86" r="0.45" fill="#ffffff" opacity="0.8"/>
<circle cx="53.30" cy="179.55" r="0.45" fill="#ffffff" opacity="0.8"/>
<circle cx="62.02" cy="188.84" r="0.45" fill="#ffffff" opacity="0.8"/>
<circle cx="111.72" cy="145.28" r="0.45" fill="#ffffff" opacity="0.8"/>
<circle cx="57.44" cy="132.89" r="0.45" fill="#ffffff" opacity="0.8"/>
<circle cx="65.58" cy="198.19" r="0.45" fill="#ffffff" opacity="0.8"/>
<circle cx="110.49" cy="117.03" r="0.45" fill="#ffffff" opacity="0.8"/>
<circle cx="50.65" cy="162.52" r="0.45" fill="#ffffff" opacity="0.8"/>
<circle cx="84.09" cy="161.95" r="0.45" fill="#ffffff" opacity="0.8"/>
<circle cx="113.09" cy="186.19" r="0.45" fill="#ffffff" opacity="0.8"/>
<circle cx="60.11" cy="197.34" r="0.45" fill="#ffffff" opacity="0.8"/>
<circle cx="84.43" cy="154.96" r="0.45" fill="#ffffff" opacity="0.8"/>
<circle cx="61.33" cy="135.30" r="0.45" fill="#ffffff" opacity="0.8"/>
<circle cx="63.97" cy="138.87" r="0.45" fill="#ffffff" opacity="0.8"/>
<circle cx="90.81" cy="136.92" r="0.45" fill="#ffffff" opacity="0.8"/>
<circle cx="70.19" cy="124.40" r="0.45" fill="#ffffff" opacity="0.8"/>
<circle cx="55.19" cy="192.42" r="0.45" fill="#ffffff" opacity="0.8"/>
<circle cx="82.89" cy="153.44" r="0.45" fill="#ffffff" opacity="0.8"/>
<circle cx="59.81" cy="198.62" r="0.45" fill="#ffffff" opacity="0.8"/>
<circle cx="50.95" cy="181.67" r="0.45" fill="#ffffff" opacity="0.8"/>
<circle cx="53.26" cy="139.51" r="0.45" fill="#ffffff" opacity="0.8"/>
<circle cx="86.46" cy="153.70" r="0.45" fill="#ffffff" opacity="0.8"/>
<circle cx="102.82" cy="163.47" r="0.45" fill="#ffffff" opacity="0.8"/>
<circle cx="102.63" cy="120.68" r="0.45" fill="#ffffff" opacity="0.8"/>
<circle cx="71.99" cy="138.32" r="0.45" fill="#ffffff" opacity="0.8"/>
<circle cx="86.11" cy="150.61" r="0.45" fill="#ffffff" opacity="0.8"/>
<circle cx="58.10" cy="125.93" r="0.45" fill="#ffffff" opacity="0.8"/>
<circle cx="54.56" cy="119.66" r="0.45" fill="#ffffff" opacity="0.8"/>
<circle cx="98.53" cy="196.92" r="0.45" fill="#ffffff" opacity="0.8"/>
<circle cx="94.52" cy="131.80" r="0.45" fill="#ffffff" opacity="0.8"/>
<circle cx="95.81" cy="157.08" r="0.45" fill="#ffffff" opacity="0.8"/>
<circle cx="71.24" cy="183.34" r="0.45" fill="#ffffff" opacity="0.8"/>
<rect x="60.4" y="126.7" width="0.9" height="0.9" fill="#ffffff" opacity="0.85"/>
<rect x="50.1" y="123.6" width="0.9" height="0.9" fill="#ffffff" opacity="0.85"/>
<rect x="91.4" y="135.0" width="0.9" height="0.9" fill="#ffffff" opacity="0.85"/>
<rect x="82.3" y="135.5" width="0.9" height="0.9" fill="#ffffff" opacity="0.85"/>
<rect x="60.5" y="129.0" width="0.9" height="0.9" fill="#ffffff" opacity="0.85"/>
<rect x="71.9" y="126.8" width="0.9" height="0.9" fill="#ffffff" opacity="0.85"/>
<rect x="72.2" y="113.2" width="0.9" height="0.9" fill="#ffffff" opacity="0.85"/>
<rect x="66.2" y="117.5" width="0.9" height="0.9" fill="#ffffff" opacity="0.85"/>
<rect x="70.5" y="137.5" width="0.9" height="0.9" fill="#ffffff" opacity="0.85"/>
<rect x="90.8" y="153.9" width="0.9" height="0.9" fill="#ffffff" opacity="0.85"/>
<rect x="90.0" y="133.4" width="0.9" height="0.9" fill="#ffffff" opacity="0.85"/>
<rect x="61.9" y="152.7" width="0.9" height="0.9" fill="#ffffff" opacity="0.85"/>
<rect x="53.6" y="130.2" width="0.9" height="0.9" fill="#ffffff" opacity="0.85"/>
<rect x="83.0" y="156.5" width="0.9" height="0.9" fill="#ffffff" opacity="0.85"/>
<rect x="80.8" y="138.1" width="0.9" height="0.9" fill="#ffffff" opacity="0.85"/>
<rect x="68.8" y="150.7" width="0.9" height="0.9" fill="#ffffff" opacity="0.85"/>
<rect x="70.2" y="157.4" width="0.9" height="0.9" fill="#ffffff" opacity="0.85"/>
<rect x="91.5" y="129.6" width="0.9" height="0.9" fill="#ffffff" opacity="0.85"/>
<rect x="73.3" y="132.6" width="0.9" height="0.9" fill="#ffffff" opacity="0.85"/>
<rect x="90.4" y="153.0" width="0.9" height="0.9" fill="#ffffff" opacity="0.85"/>
<rect x="66.8" y="129.6" width="0.9" height="0.9" fill="#ffffff" opacity="0.85"/>
<rect x="62.9" y="143.9" width="0.9" height="0.9" fill="#ffffff" opacity="0.85"/>
<rect x="79.3" y="141.8" width="0.9" height="0.9" fill="#ffffff" opacity="0.85"/>
<rect x="72.5" y="144.2" width="0.9" height="0.9" fill="#ffffff" opacity="0.85"/>
<rect x="80.6" y="147.0" width="0.9" height="0.9" fill="#ffffff" opacity="0.85"/>
<rect x="86.3" y="122.8" width="0.9" height="0.9" fill="#ffffff" opacity="0.85"/>
<rect x="91.5" y="158.5" width="0.9" height="0.9" fill="#ffffff" opacity="0.85"/>
<rect x="77.2" y="151.4" width="0.9" height="0.9" fill="#ffffff" opacity="0.85"/>
<rect x="57.3" y="121.0" width="0.9" height="0.9" fill="#ffffff" opacity="0.85"/>
<rect x="58.2" y="137.6" width="0.9" height="0.9" fill="#ffffff" opacity="0.85"/>
<rect x="90.0" y="128.8" width="0.9" height="0.9" fill="#ffffff" opacity="0.85"/>
<rect x="91.9" y="151.9" width="0.9" height="0.9" fill="#ffffff" opacity="0.85"/>
<rect x="50.1" y="113.4" width="0.9" height="0.9" fill="#ffffff" opacity="0.85"/>
<rect x="94.9" y="136.0" width="0.9" height="0.9" fill="#ffffff" opacity="0.85"/>
<rect x="84.6" y="153.4" width="0.9" height="0.9" fill="#ffffff" opacity="0.85"/>
<rect x="62.3" y="112.7" width="0.9" height="0.9" fill="#ffffff" opacity="0.85"/>
<rect x="88.7" y="156.7" width="0.9" height="0.9" fill="#ffffff" opacity="0.85"/>
<rect x="66.8" y="143.7" width="0.9" height="0.9" fill="#ffffff" opacity="0.85"/>
<rect x="76.7" y="158.9" width="0.9" height="0.9" fill="#ffffff" opacity="0.85"/>
<rect x="80.4" y="129.3" width="0.9" height="0.9" fill="#ffffff" opacity="0.85"/>
<rect x="56.4" y="136.7" width="0.9" height="0.9" fill="#ffffff" opacity="0.85"/>
<rect x="88.6" y="137.6" width="0.9" height="0.9" fill="#ffffff" opacity="0.85"/>
<rect x="73.3" y="122.6" width="0.9" height="0.9" fill="#ffffff" opacity="0.85"/>
<rect x="54.9" y="123.4" width="0.9" height="0.9" fill="#ffffff" opacity="0.85"/>
<rect x="62.3" y="134.7" width="0.9" height="0.9" fill="#ffffff" opacity="0.85"/>
<rect x="92.3" y="125.0" width="0.9" height="0.9" fill="#ffffff" opacity="0.85"/>
<rect x="58.7" y="147.6" width="0.9" height="0.9" fill="#ffffff" opacity="0.85"/>
<rect x="92.1" y="123.3" width="0.9" height="0.9" fill="#ffffff" opacity="0.85"/>
<rect x="62.0" y="131.9" width="0.9" height="0.9" fill="#ffffff" opacity="0.85"/>
<rect x="50.9" y="116.5" width="0.9" height="0.9" fill="#ffffff" opacity="0.85"/>
<rect x="73.9" y="123.8" width="0.9" height="0.9" fill="#ffffff" opacity="0.85"/>
<rect x="70.6" y="139.1" width="0.9" height="0.9" fill="#ffffff" opacity="0.85"/>
<rect x="78.8" y="147.6" width="0.9" height="0.9" fill="#ffffff" opacity="0.85"/>
<rect x="91.3" y="158.6" width="0.9" height="0.9" fill="#ffffff" opacity="0.85"/>
<rect x="49.2" y="117.7" width="0.9" height="0.9" fill="#ffffff" opacity="0.85"/>
<rect x="60.0" y="118.2" width="0.9" height="0.9" fill="#ffffff" opacity="0.85"/>
<rect x="55.2" y="123.2" width="0.9" height="0.9" fill="#ffffff" opacity="0.85"/>
<rect x="86.2" y="149.8" width="0.9" height="0.9" fill="#ffffff" opacity="0.85"/>
<rect x="71.6" y="138.4" width="0.9" height="0.9" fill="#ffffff" opacity="0.85"/>
<rect x="83.1" y="140.4" width="0.9" height="0.9" fill="#ffffff" opacity="0.85"/>
<rect x="51.6" y="134.1" width="0.9" height="0.9" fill="#ffffff" opacity="0.85"/>
<rect x="57.5" y="134.6" width="0.9" height="0.9" fill="#ffffff" opacity="0.85"/>
<rect x="93.9" y="121.5" width="0.9" height="0.9" fill="#ffffff" opacity="0.85"/>
<rect x="63.2" y="139.9" width="0.9" height="0.9" fill="#ffffff" opacity="0.85"/>
</g>
<g transform="matrix(1.2641,0,0,0.9875,359.97,4.0)">
<path d="M44.0,104.1 C44.5,102.0 45.2,98.2 46.4,96.1 C47.6,93.9 49.1,92.4 51.2,91.2 C53.4,90.0 56.3,89.2 59.3,88.8 C62.2,88.4 66.2,88.3 68.9,88.8 C71.6,89.3 73.6,90.5 75.3,92.0 C77.0,93.5 78.2,95.4 79.3,97.7 C80.4,100.0 80.6,103.4 81.8,105.7 C83.0,108.0 84.5,109.6 86.6,111.3 C88.7,113.0 91.9,114.2 94.6,116.1 C97.3,118.0 100.5,120.3 102.6,122.6 C104.7,124.9 105.5,127.3 107.4,129.8 C109.3,132.3 112.3,137.1 113.9,137.8 C115.5,138.5 115.8,135.9 117.1,133.8 C118.4,131.7 120.7,128.2 121.9,125.0 C123.1,121.8 123.4,116.5 124.3,114.5 C125.2,112.5 126.3,112.8 127.5,112.9 C128.7,113.0 130.6,113.0 131.5,115.3 C132.4,117.6 133.5,123.6 133.1,126.6 C132.7,129.5 130.2,130.6 129.1,133.0 C128.0,135.4 127.0,138.3 126.7,141.0 C126.4,143.7 126.4,146.3 127.5,149.0 C128.6,151.7 130.3,154.7 133.1,157.1 C135.9,159.5 144.1,161.8 144.4,163.5 C144.7,165.2 137.5,165.6 134.7,167.5 C131.9,169.4 129.4,172.1 127.5,174.7 C125.6,177.2 124.7,179.9 123.5,182.8 C122.3,185.8 120.8,188.9 120.3,192.4 C119.8,195.9 122.4,201.7 120.3,203.7 C118.2,205.7 112.8,204.2 107.4,204.5 C102.1,204.8 93.6,205.4 88.2,205.3 C82.8,205.2 78.7,204.8 75.3,203.7 C71.9,202.6 69.4,201.2 68.1,198.8 C66.8,196.4 67.4,192.9 67.3,189.2 C67.2,185.5 67.4,180.4 67.3,176.4 C67.2,172.4 67.3,168.6 66.5,165.1 C65.7,161.6 64.5,159.0 62.5,155.5 C60.5,152.0 56.8,148.2 54.5,144.2 C52.2,140.2 50.3,135.4 48.8,131.4 C47.3,127.4 46.5,123.8 45.6,120.1 C44.7,116.3 43.5,111.6 43.2,108.9 C42.9,106.2 43.5,106.2 44.0,104.1 Z" fill="#d4d5d5" />
<path d="M61.5,196.0 C61.3,194.9 62.8,194.0 64.0,194.5 C65.2,195.0 67.7,197.7 68.5,199.0 C69.3,200.3 69.6,202.2 69.0,202.5 C68.4,202.8 66.2,202.1 65.0,201.0 C63.8,199.9 61.7,197.1 61.5,196.0 Z" fill="#d4d5d5" />
<path d="M113.8,26.1 C114.7,23.7 116.2,22.8 118.2,21.7 C120.2,20.6 123.1,20.0 125.5,19.5 C127.9,19.0 130.4,18.3 132.8,18.8 C135.2,19.3 137.7,20.7 140.1,22.4 C142.5,24.1 145.2,26.4 147.4,29.0 C149.6,31.6 151.3,34.3 153.2,37.7 C155.0,41.1 158.7,48.0 158.5,49.5 C158.3,51.0 154.4,47.2 151.8,46.5 C149.2,45.8 145.7,45.7 143.0,45.0 C140.3,44.3 138.1,42.1 135.7,42.1 C133.3,42.1 130.6,44.0 128.4,45.0 C126.2,46.0 124.1,46.5 122.6,48.0 C121.1,49.5 120.2,51.4 119.6,53.8 C119.0,56.2 119.4,61.9 118.9,62.6 C118.4,63.3 117.3,61.4 116.7,58.2 C116.1,55.0 115.9,47.2 115.3,43.6 C114.7,40.0 113.3,39.2 113.1,36.3 C112.8,33.4 112.9,28.5 113.8,26.1 Z" fill="#d4d5d5" />
<path d="M150.0,40.0 L156.0,44.0 L159.5,50.5 L153.0,46.5 Z" fill="#d4d5d5" />
<rect x="85.8" y="81.1" width="1.2" height="1.2" fill="#d4d5d5"/>
<rect x="93.8" y="74.1" width="1.2" height="1.2" fill="#d4d5d5"/>
<rect x="87.4" y="84.3" width="1.2" height="1.2" fill="#d4d5d5"/>
<rect x="96.0" y="70.2" width="1.2" height="1.2" fill="#d4d5d5"/>
<rect x="94.6" y="72.9" width="1.2" height="1.2" fill="#d4d5d5"/>
<rect x="96.0" y="73.8" width="1.2" height="1.2" fill="#d4d5d5"/>
<rect x="89.8" y="80.6" width="1.2" height="1.2" fill="#d4d5d5"/>
<rect x="96.5" y="71.2" width="1.2" height="1.2" fill="#d4d5d5"/>
<rect x="89.9" y="77.4" width="1.2" height="1.2" fill="#d4d5d5"/>
<rect x="98.7" y="69.5" width="1.2" height="1.2" fill="#d4d5d5"/>
<rect x="98.5" y="68.1" width="1.2" height="1.2" fill="#d4d5d5"/>
<rect x="90.8" y="76.9" width="1.2" height="1.2" fill="#d4d5d5"/>
<rect x="94.2" y="73.9" width="1.2" height="1.2" fill="#d4d5d5"/>
<rect x="99.3" y="69.5" width="1.2" height="1.2" fill="#d4d5d5"/>
<rect x="100.0" y="69.1" width="1.2" height="1.2" fill="#d4d5d5"/>
<rect x="95.7" y="74.2" width="1.2" height="1.2" fill="#d4d5d5"/>
<rect x="89.3" y="81.2" width="1.2" height="1.2" fill="#d4d5d5"/>
<rect x="84.3" y="83.2" width="1.2" height="1.2" fill="#d4d5d5"/>
<rect x="87.9" y="78.3" width="1.2" height="1.2" fill="#d4d5d5"/>
<rect x="95.0" y="74.7" width="1.2" height="1.2" fill="#d4d5d5"/>
<rect x="99.4" y="69.0" width="1.2" height="1.2" fill="#d4d5d5"/>
<rect x="89.2" y="80.6" width="1.2" height="1.2" fill="#d4d5d5"/>
<rect x="84.8" y="82.9" width="1.2" height="1.2" fill="#d4d5d5"/>
<rect x="83.7" y="84.5" width="1.2" height="1.2" fill="#d4d5d5"/>
<rect x="97.7" y="69.6" width="1.2" height="1.2" fill="#d4d5d5"/>
<rect x="92.9" y="72.9" width="1.2" height="1.2" fill="#d4d5d5"/>
<rect x="98.3" y="68.0" width="1.2" height="1.2" fill="#d4d5d5"/>
<rect x="85.8" y="84.0" width="1.2" height="1.2" fill="#d4d5d5"/>
<rect x="93.3" y="75.6" width="1.2" height="1.2" fill="#d4d5d5"/>
<rect x="81.7" y="84.6" width="1.2" height="1.2" fill="#d4d5d5"/>
<rect x="92.2" y="74.3" width="1.2" height="1.2" fill="#d4d5d5"/>
<rect x="95.1" y="72.3" width="1.2" height="1.2" fill="#d4d5d5"/>
<rect x="95.3" y="72.9" width="1.2" height="1.2" fill="#d4d5d5"/>
<rect x="92.7" y="75.5" width="1.2" height="1.2" fill="#d4d5d5"/>
<rect x="88.3" y="78.4" width="1.2" height="1.2" fill="#d4d5d5"/>
<rect x="97.6" y="71.4" width="1.2" height="1.2" fill="#d4d5d5"/>
<rect x="88.3" y="81.8" width="1.2" height="1.2" fill="#d4d5d5"/>
<rect x="84.4" y="83.0" width="1.2" height="1.2" fill="#d4d5d5"/>
<rect x="87.2" y="81.4" width="1.2" height="1.2" fill="#d4d5d5"/>
<rect x="98.2" y="70.4" width="1.2" height="1.2" fill="#d4d5d5"/>
<rect x="97.6" y="69.3" width="1.2" height="1.2" fill="#d4d5d5"/>
<rect x="92.6" y="77.5" width="1.2" height="1.2" fill="#d4d5d5"/>
<rect x="85.4" y="84.2" width="1.2" height="1.2" fill="#d4d5d5"/>
<rect x="96.6" y="71.0" width="1.2" height="1.2" fill="#d4d5d5"/>
<rect x="96.6" y="71.7" width="1.2" height="1.2" fill="#d4d5d5"/>
<rect x="88.1" y="79.1" width="1.2" height="1.2" fill="#d4d5d5"/>
<rect x="84.4" y="85.1" width="1.2" height="1.2" fill="#d4d5d5"/>
<rect x="92.4" y="76.9" width="1.2" height="1.2" fill="#d4d5d5"/>
<rect x="96.6" y="70.5" width="1.2" height="1.2" fill="#d4d5d5"/>
<rect x="87.2" y="81.0" width="1.2" height="1.2" fill="#d4d5d5"/>
<rect x="92.6" y="76.5" width="1.2" height="1.2" fill="#d4d5d5"/>
<rect x="97.9" y="66.6" width="1.2" height="1.2" fill="#d4d5d5"/>
<rect x="98.5" y="68.7" width="1.2" height="1.2" fill="#d4d5d5"/>
<rect x="85.0" y="84.0" width="1.2" height="1.2" fill="#d4d5d5"/>
<rect x="91.1" y="77.5" width="1.2" height="1.2" fill="#d4d5d5"/>
<rect x="117.0" y="50.1" width="1.2" height="1.2" fill="#d4d5d5"/>
<rect x="116.9" y="53.5" width="1.2" height="1.2" fill="#d4d5d5"/>
<rect x="116.6" y="47.6" width="1.2" height="1.2" fill="#d4d5d5"/>
<rect x="119.6" y="59.0" width="1.2" height="1.2" fill="#d4d5d5"/>
<rect x="115.4" y="48.9" width="1.2" height="1.2" fill="#d4d5d5"/>
<rect x="114.6" y="53.6" width="1.2" height="1.2" fill="#d4d5d5"/>
<rect x="116.0" y="48.5" width="1.2" height="1.2" fill="#d4d5d5"/>
<rect x="118.6" y="60.7" width="1.2" height="1.2" fill="#d4d5d5"/>
<rect x="115.9" y="52.7" width="1.2" height="1.2" fill="#d4d5d5"/>
<rect x="116.7" y="56.1" width="1.2" height="1.2" fill="#d4d5d5"/>
<rect x="114.0" y="48.6" width="1.2" height="1.2" fill="#d4d5d5"/>
<rect x="116.1" y="49.4" width="1.2" height="1.2" fill="#d4d5d5"/>
<rect x="116.2" y="59.6" width="1.2" height="1.2" fill="#d4d5d5"/>
<rect x="115.7" y="54.3" width="1.2" height="1.2" fill="#d4d5d5"/>
<rect x="116.2" y="52.2" width="1.2" height="1.2" fill="#d4d5d5"/>
<rect x="116.9" y="54.5" width="1.2" height="1.2" fill="#d4d5d5"/>
<rect x="118.7" y="51.8" width="1.2" height="1.2" fill="#d4d5d5"/>
<rect x="118.3" y="59.2" width="1.2" height="1.2" fill="#d4d5d5"/>
<rect x="116.5" y="47.8" width="1.2" height="1.2" fill="#d4d5d5"/>
<rect x="116.8" y="57.1" width="1.2" height="1.2" fill="#d4d5d5"/>
<rect x="115.6" y="48.8" width="1.2" height="1.2" fill="#d4d5d5"/>
<rect x="118.2" y="58.4" width="1.2" height="1.2" fill="#d4d5d5"/>
<rect x="118.2" y="59.9" width="1.2" height="1.2" fill="#d4d5d5"/>
<rect x="116.8" y="47.9" width="1.2" height="1.2" fill="#d4d5d5"/>
<rect x="116.4" y="59.9" width="1.2" height="1.2" fill="#d4d5d5"/>
<rect x="115.8" y="58.0" width="1.2" height="1.2" fill="#d4d5d5"/>
<rect x="118.0" y="57.7" width="1.2" height="1.2" fill="#d4d5d5"/>
<rect x="117.5" y="54.6" width="1.2" height="1.2" fill="#d4d5d5"/>
<rect x="114.7" y="49.8" width="1.2" height="1.2" fill="#d4d5d5"/>
<rect x="115.6" y="53.1" width="1.2" height="1.2" fill="#d4d5d5"/>
<circle cx="112.00" cy="54.00" r="0.7" fill="#d4d5d5" />
<circle cx="108.00" cy="57.00" r="0.7" fill="#d4d5d5" />
<circle cx="114.50" cy="65.00" r="0.7" fill="#d4d5d5" />
<circle cx="116.00" cy="64.00" r="0.7" fill="#d4d5d5" />
<circle cx="110.50" cy="52.00" r="0.7" fill="#d4d5d5" />
<path d="M208.0,38.5 C208.1,37.6 209.5,35.8 210.5,35.0 C211.5,34.2 212.8,33.9 214.0,34.0 C215.2,34.1 216.8,34.7 217.5,35.5 C218.2,36.3 218.6,38.0 218.5,39.0 C218.4,40.0 217.9,41.0 217.0,41.5 C216.1,42.0 214.2,42.2 213.0,42.0 C211.8,41.8 210.8,41.1 210.0,40.5 C209.2,39.9 207.9,39.4 208.0,38.5 Z" fill="#d4d5d5" />
<path d="M161.0,112.6 C161.3,112.1 162.3,111.6 162.7,112.2 C163.1,112.8 163.3,114.6 163.6,116.0 C163.9,117.4 164.1,118.9 164.6,120.5 C165.1,122.1 165.6,124.1 166.3,125.5 C167.0,126.9 168.3,127.9 168.8,129.0 C169.3,130.1 169.6,131.4 169.4,132.2 C169.2,133.0 168.2,133.5 167.5,133.6 C166.8,133.7 165.7,133.3 165.0,132.6 C164.3,131.9 164.0,130.8 163.6,129.5 C163.2,128.2 162.8,126.2 162.4,124.5 C162.0,122.8 161.6,120.6 161.3,119.0 C161.0,117.4 160.8,116.1 160.7,115.0 C160.6,113.9 160.7,113.1 161.0,112.6 Z" fill="#d4d5d5" />
<path d="M157.8,121.8 L162.5,124.8" stroke="#d4d5d5" stroke-width="1.1" stroke-linecap="round" fill="none"/>
<path d="M131.0,143.5 C131.8,142.7 134.3,141.9 136.0,141.5 C137.7,141.1 139.4,141.3 141.0,141.0 C142.6,140.7 144.5,139.2 145.5,139.5 C146.5,139.8 147.2,141.8 147.0,143.0 C146.8,144.2 145.7,146.0 144.5,147.0 C143.3,148.0 141.6,148.9 140.0,149.0 C138.4,149.1 136.4,147.9 135.0,147.5 C133.6,147.1 132.2,147.2 131.5,146.5 C130.8,145.8 130.2,144.3 131.0,143.5 Z" fill="#d4d5d5" />
<path d="M130.5,145.0 C130.8,144.3 133.1,143.8 134.0,144.0 C134.9,144.2 136.3,145.8 136.0,146.5 C135.7,147.2 132.9,148.2 132.0,148.0 C131.1,147.8 130.2,145.7 130.5,145.0 Z" fill="#d4d5d5" />
<rect x="183.5" y="103.5" width="1.2" height="1.2" fill="#d4d5d5"/>
<rect x="174.2" y="101.2" width="1.2" height="1.2" fill="#d4d5d5"/>
<rect x="185.2" y="103.5" width="1.2" height="1.2" fill="#d4d5d5"/>
<rect x="187.1" y="104.6" width="1.2" height="1.2" fill="#d4d5d5"/>
<rect x="180.2" y="102.8" width="1.2" height="1.2" fill="#d4d5d5"/>
<rect x="186.1" y="103.1" width="1.2" height="1.2" fill="#d4d5d5"/>
<rect x="177.0" y="102.7" width="1.2" height="1.2" fill="#d4d5d5"/>
<rect x="183.4" y="103.3" width="1.2" height="1.2" fill="#d4d5d5"/>
<rect x="180.6" y="102.0" width="1.2" height="1.2" fill="#d4d5d5"/>
<rect x="191.8" y="105.3" width="1.2" height="1.2" fill="#d4d5d5"/>
<rect x="174.7" y="102.0" width="1.2" height="1.2" fill="#d4d5d5"/>
<rect x="186.7" y="104.5" width="1.2" height="1.2" fill="#d4d5d5"/>
<rect x="179.3" y="102.1" width="1.2" height="1.2" fill="#d4d5d5"/>
<rect x="176.3" y="101.7" width="1.2" height="1.2" fill="#d4d5d5"/>
<rect x="182.3" y="103.6" width="1.2" height="1.2" fill="#d4d5d5"/>
<rect x="186.2" y="104.6" width="1.2" height="1.2" fill="#d4d5d5"/>
<rect x="175.6" y="101.1" width="1.2" height="1.2" fill="#d4d5d5"/>
<rect x="182.3" y="102.3" width="1.2" height="1.2" fill="#d4d5d5"/>
<rect x="188.5" y="104.1" width="1.2" height="1.2" fill="#d4d5d5"/>
<rect x="175.6" y="102.2" width="1.2" height="1.2" fill="#d4d5d5"/>
<rect x="189.8" y="104.9" width="1.2" height="1.2" fill="#d4d5d5"/>
<rect x="185.3" y="104.0" width="1.2" height="1.2" fill="#d4d5d5"/>
<rect x="186.8" y="103.9" width="1.2" height="1.2" fill="#d4d5d5"/>
<rect x="183.4" y="103.8" width="1.2" height="1.2" fill="#d4d5d5"/>
<rect x="176.8" y="101.4" width="1.2" height="1.2" fill="#d4d5d5"/>
<rect x="176.1" y="100.1" width="1.2" height="1.2" fill="#d4d5d5"/>
<rect x="188.2" y="105.5" width="1.2" height="1.2" fill="#d4d5d5"/>
<rect x="180.1" y="102.1" width="1.2" height="1.2" fill="#d4d5d5"/>
<rect x="190.3" y="105.7" width="1.2" height="1.2" fill="#d4d5d5"/>
<rect x="190.6" y="105.1" width="1.2" height="1.2" fill="#d4d5d5"/>
<rect x="180.2" y="101.3" width="1.2" height="1.2" fill="#d4d5d5"/>
<rect x="176.0" y="101.4" width="1.2" height="1.2" fill="#d4d5d5"/>
<rect x="187.0" y="103.8" width="1.2" height="1.2" fill="#d4d5d5"/>
<rect x="185.7" y="103.9" width="1.2" height="1.2" fill="#d4d5d5"/>
<rect x="188.5" y="104.6" width="1.2" height="1.2" fill="#d4d5d5"/>
<rect x="188.2" y="105.5" width="1.2" height="1.2" fill="#d4d5d5"/>
<rect x="188.4" y="102.9" width="1.2" height="1.2" fill="#d4d5d5"/>
<rect x="177.9" y="101.9" width="1.2" height="1.2" fill="#d4d5d5"/>
<rect x="187.6" y="104.6" width="1.2" height="1.2" fill="#d4d5d5"/>
<rect x="175.9" y="101.9" width="1.2" height="1.2" fill="#d4d5d5"/>
<rect x="182.7" y="103.6" width="1.2" height="1.2" fill="#d4d5d5"/>
<rect x="185.2" y="103.5" width="1.2" height="1.2" fill="#d4d5d5"/>
<rect x="190.7" y="104.9" width="1.2" height="1.2" fill="#d4d5d5"/>
<rect x="192.6" y="105.6" width="1.2" height="1.2" fill="#d4d5d5"/>
<rect x="180.7" y="101.4" width="1.2" height="1.2" fill="#d4d5d5"/>
<rect x="187.3" y="104.5" width="1.2" height="1.2" fill="#d4d5d5"/>
<rect x="175.9" y="101.0" width="1.2" height="1.2" fill="#d4d5d5"/>
<rect x="180.0" y="101.2" width="1.2" height="1.2" fill="#d4d5d5"/>
<rect x="192.0" y="105.3" width="1.2" height="1.2" fill="#d4d5d5"/>
<rect x="187.4" y="104.3" width="1.2" height="1.2" fill="#d4d5d5"/>
<rect x="186.4" y="104.1" width="1.2" height="1.2" fill="#d4d5d5"/>
<rect x="183.7" y="103.2" width="1.2" height="1.2" fill="#d4d5d5"/>
<rect x="181.4" y="102.6" width="1.2" height="1.2" fill="#d4d5d5"/>
<rect x="187.8" y="103.5" width="1.2" height="1.2" fill="#d4d5d5"/>
<rect x="177.1" y="102.1" width="1.2" height="1.2" fill="#d4d5d5"/>
<rect x="178.9" y="102.4" width="1.2" height="1.2" fill="#d4d5d5"/>
<rect x="192.9" y="105.2" width="1.2" height="1.2" fill="#d4d5d5"/>
<rect x="183.2" y="103.2" width="1.2" height="1.2" fill="#d4d5d5"/>
<rect x="179.6" y="103.1" width="1.2" height="1.2" fill="#d4d5d5"/>
<rect x="183.4" y="103.1" width="1.2" height="1.2" fill="#d4d5d5"/>
<rect x="190.2" y="104.9" width="1.2" height="1.2" fill="#d4d5d5"/>
<rect x="186.3" y="104.1" width="1.2" height="1.2" fill="#d4d5d5"/>
<rect x="181.3" y="100.7" width="1.2" height="1.2" fill="#d4d5d5"/>
<rect x="192.7" y="104.6" width="1.2" height="1.2" fill="#d4d5d5"/>
<rect x="193.3" y="105.8" width="1.2" height="1.2" fill="#d4d5d5"/>
<rect x="185.7" y="103.9" width="1.2" height="1.2" fill="#d4d5d5"/>
<rect x="182.7" y="103.5" width="1.2" height="1.2" fill="#d4d5d5"/>
<rect x="185.8" y="103.6" width="1.2" height="1.2" fill="#d4d5d5"/>
<rect x="182.5" y="103.4" width="1.2" height="1.2" fill="#d4d5d5"/>
<rect x="178.6" y="101.0" width="1.2" height="1.2" fill="#d4d5d5"/>
<rect x="186.3" y="104.6" width="1.2" height="1.2" fill="#d4d5d5"/>
<rect x="189.8" y="103.8" width="1.2" height="1.2" fill="#d4d5d5"/>
<rect x="185.1" y="103.7" width="1.2" height="1.2" fill="#d4d5d5"/>
<rect x="184.2" y="102.8" width="1.2" height="1.2" fill="#d4d5d5"/>
<rect x="185.4" y="104.1" width="1.2" height="1.2" fill="#d4d5d5"/>
<rect x="199.2" y="95.7" width="1.2" height="1.2" fill="#d4d5d5"/>
<rect x="201.7" y="98.4" width="1.2" height="1.2" fill="#d4d5d5"/>
<rect x="197.6" y="93.6" width="1.2" height="1.2" fill="#d4d5d5"/>
<rect x="201.6" y="98.5" width="1.2" height="1.2" fill="#d4d5d5"/>
<rect x="201.0" y="98.1" width="1.2" height="1.2" fill="#d4d5d5"/>
<rect x="199.8" y="97.0" width="1.2" height="1.2" fill="#d4d5d5"/>
<rect x="197.6" y="94.4" width="1.2" height="1.2" fill="#d4d5d5"/>
<rect x="200.0" y="95.7" width="1.2" height="1.2" fill="#d4d5d5"/>
<rect x="195.9" y="91.9" width="1.2" height="1.2" fill="#d4d5d5"/>
<rect x="199.3" y="94.7" width="1.2" height="1.2" fill="#d4d5d5"/>
<rect x="201.4" y="97.9" width="1.2" height="1.2" fill="#d4d5d5"/>
<rect x="196.0" y="93.1" width="1.2" height="1.2" fill="#d4d5d5"/>
<rect x="196.9" y="94.2" width="1.2" height="1.2" fill="#d4d5d5"/>
<rect x="197.5" y="94.0" width="1.2" height="1.2" fill="#d4d5d5"/>
<rect x="201.8" y="98.5" width="1.2" height="1.2" fill="#d4d5d5"/>
<rect x="200.5" y="97.2" width="1.2" height="1.2" fill="#d4d5d5"/>
<rect x="196.9" y="93.4" width="1.2" height="1.2" fill="#d4d5d5"/>
<rect x="201.4" y="98.5" width="1.2" height="1.2" fill="#d4d5d5"/>
<rect x="199.2" y="97.2" width="1.2" height="1.2" fill="#d4d5d5"/>
<rect x="202.6" y="98.6" width="1.2" height="1.2" fill="#d4d5d5"/>
<rect x="199.7" y="95.7" width="1.2" height="1.2" fill="#d4d5d5"/>
<rect x="197.6" y="94.9" width="1.2" height="1.2" fill="#d4d5d5"/>
<rect x="200.6" y="98.3" width="1.2" height="1.2" fill="#d4d5d5"/>
<rect x="202.1" y="98.9" width="1.2" height="1.2" fill="#d4d5d5"/>
<rect x="201.4" y="96.8" width="1.2" height="1.2" fill="#d4d5d5"/>
<rect x="191.4" y="120.0" width="1.2" height="1.2" fill="#d4d5d5"/>
<rect x="199.7" y="120.2" width="1.2" height="1.2" fill="#d4d5d5"/>
<rect x="196.8" y="128.9" width="1.2" height="1.2" fill="#d4d5d5"/>
<rect x="191.3" y="110.5" width="1.2" height="1.2" fill="#d4d5d5"/>
<rect x="198.8" y="121.0" width="1.2" height="1.2" fill="#d4d5d5"/>
<rect x="191.6" y="126.0" width="1.2" height="1.2" fill="#d4d5d5"/>
<rect x="192.5" y="112.0" width="1.2" height="1.2" fill="#d4d5d5"/>
<rect x="192.7" y="110.1" width="1.2" height="1.2" fill="#d4d5d5"/>
<rect x="193.9" y="125.0" width="1.2" height="1.2" fill="#d4d5d5"/>
<rect x="194.4" y="128.7" width="1.2" height="1.2" fill="#d4d5d5"/>
<rect x="189.9" y="112.9" width="1.2" height="1.2" fill="#d4d5d5"/>
<rect x="191.0" y="120.9" width="1.2" height="1.2" fill="#d4d5d5"/>
<rect x="191.6" y="122.7" width="1.2" height="1.2" fill="#d4d5d5"/>
<rect x="195.2" y="121.0" width="1.2" height="1.2" fill="#d4d5d5"/>
<rect x="198.7" y="125.2" width="1.2" height="1.2" fill="#d4d5d5"/>
<rect x="199.5" y="112.4" width="1.2" height="1.2" fill="#d4d5d5"/>
<path d="M192.4,108.8 C192.8,107.0 195.1,105.6 196.0,104.2 C196.9,102.8 196.7,101.3 197.9,100.5 C199.1,99.7 201.6,98.8 203.4,99.1 C205.2,99.4 207.1,101.6 208.9,102.4 C210.7,103.2 212.7,104.4 214.4,104.2 C216.1,104.0 217.5,102.1 219.0,101.4 C220.5,100.7 221.9,100.1 223.6,100.1 C225.3,100.1 227.2,100.6 229.1,101.4 C230.9,102.2 233.0,103.6 234.7,105.1 C236.4,106.6 238.1,108.8 239.3,110.6 C240.5,112.4 241.4,114.3 242.0,116.2 C242.6,118.1 243.2,120.0 242.9,121.7 C242.6,123.4 241.0,124.9 240.2,126.3 C239.4,127.7 238.8,128.6 238.3,130.0 C237.8,131.4 237.9,133.1 237.4,134.5 C236.9,135.9 236.2,136.8 235.6,138.2 C235.0,139.6 234.5,141.1 233.7,142.8 C232.9,144.5 232.2,146.5 231.0,148.3 C229.8,150.2 227.8,152.2 226.4,153.9 C225.0,155.6 223.9,157.1 222.7,158.5 C221.5,159.9 220.2,161.7 219.0,162.1 C217.8,162.5 216.8,161.6 215.4,161.2 C214.0,160.8 212.3,160.0 210.8,159.4 C209.3,158.8 208.0,158.0 206.2,157.5 C204.3,157.0 201.8,156.8 199.7,156.6 C197.5,156.4 195.1,156.6 193.3,156.6 C191.5,156.6 189.2,157.2 188.7,156.6 C188.2,156.0 189.4,154.1 190.5,153.0 C191.6,151.9 193.9,150.8 195.1,150.2 C196.3,149.6 197.8,149.9 197.9,149.3 C198.1,148.7 196.7,147.7 196.0,146.5 C195.3,145.3 194.1,143.4 193.7,141.9 C193.2,140.4 193.1,138.7 193.3,137.3 C193.5,135.9 194.2,134.5 195.1,133.6 C196.0,132.7 197.4,132.4 198.8,131.8 C200.2,131.2 202.2,130.9 203.4,130.0 C204.6,129.1 206.2,127.7 206.2,126.3 C206.2,124.9 204.5,122.9 203.4,121.7 C202.3,120.5 200.8,119.7 199.7,118.9 C198.6,118.1 198.1,117.7 197.0,117.1 C195.9,116.5 194.1,116.6 193.3,115.2 C192.5,113.8 192.0,110.6 192.4,108.8 Z" fill="#d4d5d5" />
<circle cx="204.80" cy="145.10" r="2.6" fill="#ffffff" />
<circle cx="83.93" cy="162.58" r="0.45" fill="#ffffff" opacity="0.8"/>
<circle cx="119.32" cy="154.58" r="0.45" fill="#ffffff" opacity="0.8"/>
<circle cx="88.09" cy="164.93" r="0.45" fill="#ffffff" opacity="0.8"/>
<circle cx="63.85" cy="158.51" r="0.45" fill="#ffffff" opacity="0.8"/>
<circle cx="97.24" cy="182.40" r="0.45" fill="#ffffff" opacity="0.8"/>
<circle cx="57.06" cy="140.79" r="0.45" fill="#ffffff" opacity="0.8"/>
<circle cx="56.80" cy="183.82" r="0.45" fill="#ffffff" opacity="0.8"/>
<circle cx="102.01" cy="118.56" r="0.45" fill="#ffffff" opacity="0.8"/>
<circle cx="123.66" cy="197.00" r="0.45" fill="#ffffff" opacity="0.8"/>
<circle cx="99.04" cy="167.32" r="0.45" fill="#ffffff" opacity="0.8"/>
<circle cx="61.81" cy="116.28" r="0.45" fill="#ffffff" opacity="0.8"/>
<circle cx="89.63" cy="120.06" r="0.45" fill="#ffffff" opacity="0.8"/>
<circle cx="64.27" cy="135.57" r="0.45" fill="#ffffff" opacity="0.8"/>
<circle cx="52.26" cy="154.43" r="0.45" fill="#ffffff" opacity="0.8"/>
<circle cx="83.04" cy="186.61" r="0.45" fill="#ffffff" opacity="0.8"/>
<circle cx="88.93" cy="169.42" r="0.45" fill="#ffffff" opacity="0.8"/>
<circle cx="87.48" cy="171.31" r="0.45" fill="#ffffff" opacity="0.8"/>
<circle cx="84.30" cy="138.64" r="0.45" fill="#ffffff" opacity="0.8"/>
<circle cx="124.82" cy="199.63" r="0.45" fill="#ffffff" opacity="0.8"/>
<circle cx="113.02" cy="175.16" r="0.45" fill="#ffffff" opacity="0.8"/>
<circle cx="73.65" cy="134.52" r="0.45" fill="#ffffff" opacity="0.8"/>
<circle cx="71.68" cy="120.97" r="0.45" fill="#ffffff" opacity="0.8"/>
<circle cx="107.47" cy="149.03" r="0.45" fill="#ffffff" opacity="0.8"/>
<circle cx="113.49" cy="147.85" r="0.45" fill="#ffffff" opacity="0.8"/>
<circle cx="121.85" cy="187.02" r="0.45" fill="#ffffff" opacity="0.8"/>
<circle cx="50.04" cy="132.83" r="0.45" fill="#ffffff" opacity="0.8"/>
<circle cx="118.27" cy="154.95" r="0.45" fill="#ffffff" opacity="0.8"/>
<circle cx="123.53" cy="148.78" r="0.45" fill="#ffffff" opacity="0.8"/>
<circle cx="55.48" cy="168.50" r="0.45" fill="#ffffff" opacity="0.8"/>
<circle cx="108.39" cy="137.93" r="0.45" fill="#ffffff" opacity="0.8"/>
<circle cx="56.54" cy="143.27" r="0.45" fill="#ffffff" opacity="0.8"/>
<circle cx="122.31" cy="179.43" r="0.45" fill="#ffffff" opacity="0.8"/>
<circle cx="58.85" cy="135.94" r="0.45" fill="#ffffff" opacity="0.8"/>
<circle cx="57.58" cy="120.09" r="0.45" fill="#ffffff" opacity="0.8"/>
<circle cx="109.78" cy="130.10" r="0.45" fill="#ffffff" opacity="0.8"/>
<circle cx="91.95" cy="153.03" r="0.45" fill="#ffffff" opacity="0.8"/>
<circle cx="64.30" cy="177.21" r="0.45" fill="#ffffff" opacity="0.8"/>
<circle cx="59.82" cy="169.72" r="0.45" fill="#ffffff" opacity="0.8"/>
<circle cx="58.74" cy="150.76" r="0.45" fill="#ffffff" opacity="0.8"/>
<circle cx="65.96" cy="137.93" r="0.45" fill="#ffffff" opacity="0.8"/>
<circle cx="122.82" cy="183.29" r="0.45" fill="#ffffff" opacity="0.8"/>
<circle cx="72.81" cy="190.21" r="0.45" fill="#ffffff" opacity="0.8"/>
<circle cx="65.80" cy="148.51" r="0.45" fill="#ffffff" opacity="0.8"/>
<circle cx="114.08" cy="169.56" r="0.45" fill="#ffffff" opacity="0.8"/>
<circle cx="57.52" cy="199.09" r="0.45" fill="#ffffff" opacity="0.8"/>
<circle cx="65.99" cy="136.95" r="0.45" fill="#ffffff" opacity="0.8"/>
<circle cx="107.95" cy="142.96" r="0.45" fill="#ffffff" opacity="0.8"/>
<circle cx="72.22" cy="121.24" r="0.45" fill="#ffffff" opacity="0.8"/>
<circle cx="56.76" cy="164.53" r="0.45" fill="#ffffff" opacity="0.8"/>
<circle cx="68.23" cy="166.11" r="0.45" fill="#ffffff" opacity="0.8"/>
<circle cx="77.88" cy="153.52" r="0.45" fill="#ffffff" opacity="0.8"/>
<circle cx="121.94" cy="156.12" r="0.45" fill="#ffffff" opacity="0.8"/>
<circle cx="93.09" cy="188.65" r="0.45" fill="#ffffff" opacity="0.8"/>
<circle cx="63.71" cy="128.10" r="0.45" fill="#ffffff" opacity="0.8"/>
<circle cx="118.13" cy="184.51" r="0.45" fill="#ffffff" opacity="0.8"/>
<circle cx="68.71" cy="131.13" r="0.45" fill="#ffffff" opacity="0.8"/>
<circle cx="105.46" cy="194.93" r="0.45" fill="#ffffff" opacity="0.8"/>
<circle cx="64.74" cy="195.76" r="0.45" fill="#ffffff" opacity="0.8"/>
<circle cx="116.16" cy="166.30" r="0.45" fill="#ffffff" opacity="0.8"/>
<circle cx="81.61" cy="123.83" r="0.45" fill="#ffffff" opacity="0.8"/>
<circle cx="52.90" cy="196.83" r="0.45" fill="#ffffff" opacity="0.8"/>
<circle cx="67.88" cy="174.89" r="0.45" fill="#ffffff" opacity="0.8"/>
<circle cx="69.27" cy="185.02" r="0.45" fill="#ffffff" opacity="0.8"/>
<circle cx="94.73" cy="139.94" r="0.45" fill="#ffffff" opacity="0.8"/>
<circle cx="63.16" cy="176.23" r="0.45" fill="#ffffff" opacity="0.8"/>
<circle cx="55.16" cy="134.41" r="0.45" fill="#ffffff" opacity="0.8"/>
<circle cx="91.95" cy="187.45" r="0.45" fill="#ffffff" opacity="0.8"/>
<circle cx="96.07" cy="138.82" r="0.45" fill="#ffffff" opacity="0.8"/>
<circle cx="118.80" cy="132.34" r="0.45" fill="#ffffff" opacity="0.8"/>
<circle cx="51.24" cy="137.88" r="0.45" fill="#ffffff" opacity="0.8"/>
<circle cx="83.43" cy="120.14" r="0.45" fill="#ffffff" opacity="0.8"/>
<circle cx="63.22" cy="146.35" r="0.45" fill="#ffffff" opacity="0.8"/>
<circle cx="92.91" cy="126.18" r="0.45" fill="#ffffff" opacity="0.8"/>
<circle cx="77.16" cy="190.73" r="0.45" fill="#ffffff" opacity="0.8"/>
<circle cx="123.54" cy="170.84" r="0.45" fill="#ffffff" opacity="0.8"/>
<circle cx="101.84" cy="164.68" r="0.45" fill="#ffffff" opacity="0.8"/>
<circle cx="60.53" cy="117.98" r="0.45" fill="#ffffff" opacity="0.8"/>
<circle cx="51.34" cy="192.37" r="0.45" fill="#ffffff" opacity="0.8"/>
<circle cx="102.57" cy="196.84" r="0.45" fill="#ffffff" opacity="0.8"/>
<circle cx="51.59" cy="169.08" r="0.45" fill="#ffffff" opacity="0.8"/>
<circle cx="86.17" cy="177.09" r="0.45" fill="#ffffff" opacity="0.8"/>
<circle cx="73.92" cy="199.95" r="0.45" fill="#ffffff" opacity="0.8"/>
<circle cx="55.64" cy="161.42" r="0.45" fill="#ffffff" opacity="0.8"/>
<circle cx="105.28" cy="191.52" r="0.45" fill="#ffffff" opacity="0.8"/>
<circle cx="105.28" cy="174.81" r="0.45" fill="#ffffff" opacity="0.8"/>
<circle cx="109.50" cy="192.78" r="0.45" fill="#ffffff" opacity="0.8"/>
<circle cx="76.39" cy="173.24" r="0.45" fill="#ffffff" opacity="0.8"/>
<circle cx="117.56" cy="189.04" r="0.45" fill="#ffffff" opacity="0.8"/>
<circle cx="81.29" cy="182.20" r="0.45" fill="#ffffff" opacity="0.8"/>
<circle cx="114.76" cy="163.69" r="0.45" fill="#ffffff" opacity="0.8"/>
<rect x="86.7" y="127.9" width="0.9" height="0.9" fill="#ffffff" opacity="0.85"/>
<rect x="84.1" y="141.5" width="0.9" height="0.9" fill="#ffffff" opacity="0.85"/>
<rect x="109.6" y="157.8" width="0.9" height="0.9" fill="#ffffff" opacity="0.85"/>
<rect x="93.1" y="128.3" width="0.9" height="0.9" fill="#ffffff" opacity="0.85"/>
<rect x="93.6" y="139.9" width="0.9" height="0.9" fill="#ffffff" opacity="0.85"/>
<rect x="75.3" y="155.3" width="0.9" height="0.9" fill="#ffffff" opacity="0.85"/>
<rect x="77.8" y="118.8" width="0.9" height="0.9" fill="#ffffff" opacity="0.85"/>
<rect x="91.3" y="134.8" width="0.9" height="0.9" fill="#ffffff" opacity="0.85"/>
<rect x="86.1" y="160.2" width="0.9" height="0.9" fill="#ffffff" opacity="0.85"/>
<rect x="63.9" y="105.7" width="0.9" height="0.9" fill="#ffffff" opacity="0.85"/>
<rect x="66.7" y="145.7" width="0.9" height="0.9" fill="#ffffff" opacity="0.85"/>
<rect x="60.6" y="115.2" width="0.9" height="0.9" fill="#ffffff" opacity="0.85"/>
<rect x="104.2" y="144.6" width="0.9" height="0.9" fill="#ffffff" opacity="0.85"/>
<rect x="75.4" y="158.5" width="0.9" height="0.9" fill="#ffffff" opacity="0.85"/>
<rect x="68.3" y="145.0" width="0.9" height="0.9" fill="#ffffff" opacity="0.85"/>
<rect x="60.3" y="130.9" width="0.9" height="0.9" fill="#ffffff" opacity="0.85"/>
<rect x="98.0" y="159.9" width="0.9" height="0.9" fill="#ffffff" opacity="0.85"/>
<rect x="102.6" y="128.1" width="0.9" height="0.9" fill="#ffffff" opacity="0.85"/>
<rect x="84.2" y="124.0" width="0.9" height="0.9" fill="#ffffff" opacity="0.85"/>
<rect x="56.4" y="134.8" width="0.9" height="0.9" fill="#ffffff" opacity="0.85"/>
<rect x="99.9" y="155.9" width="0.9" height="0.9" fill="#ffffff" opacity="0.85"/>
<rect x="92.1" y="162.0" width="0.9" height="0.9" fill="#ffffff" opacity="0.85"/>
<rect x="65.2" y="115.1" width="0.9" height="0.9" fill="#ffffff" opacity="0.85"/>
<rect x="75.9" y="121.5" width="0.9" height="0.9" fill="#ffffff" opacity="0.85"/>
<rect x="61.3" y="129.8" width="0.9" height="0.9" fill="#ffffff" opacity="0.85"/>
<rect x="86.8" y="134.6" width="0.9" height="0.9" fill="#ffffff" opacity="0.85"/>
<rect x="67.6" y="155.3" width="0.9" height="0.9" fill="#ffffff" opacity="0.85"/>
<rect x="108.9" y="132.1" width="0.9" height="0.9" fill="#ffffff" opacity="0.85"/>
<rect x="52.6" y="106.9" width="0.9" height="0.9" fill="#ffffff" opacity="0.85"/>
<rect x="91.9" y="139.2" width="0.9" height="0.9" fill="#ffffff" opacity="0.85"/>
<rect x="67.2" y="152.5" width="0.9" height="0.9" fill="#ffffff" opacity="0.85"/>
<rect x="49.2" y="113.2" width="0.9" height="0.9" fill="#ffffff" opacity="0.85"/>
<rect x="76.2" y="106.5" width="0.9" height="0.9" fill="#ffffff" opacity="0.85"/>
<rect x="56.7" y="107.8" width="0.9" height="0.9" fill="#ffffff" opacity="0.85"/>
<rect x="87.0" y="131.8" width="0.9" height="0.9" fill="#ffffff" opacity="0.85"/>
<rect x="87.1" y="144.3" width="0.9" height="0.9" fill="#ffffff" opacity="0.85"/>
<rect x="98.1" y="162.5" width="0.9" height="0.9" fill="#ffffff" opacity="0.85"/>
<rect x="90.4" y="117.0" width="0.9" height="0.9" fill="#ffffff" opacity="0.85"/>
<rect x="77.5" y="115.7" width="0.9" height="0.9" fill="#ffffff" opacity="0.85"/>
<rect x="92.3" y="115.7" width="0.9" height="0.9" fill="#ffffff" opacity="0.85"/>
<rect x="64.9" y="125.7" width="0.9" height="0.9" fill="#ffffff" opacity="0.85"/>
<rect x="91.2" y="136.2" width="0.9" height="0.9" fill="#ffffff" opacity="0.85"/>
<rect x="86.1" y="150.4" width="0.9" height="0.9" fill="#ffffff" opacity="0.85"/>
<rect x="72.4" y="152.5" width="0.9" height="0.9" fill="#ffffff" opacity="0.85"/>
<rect x="105.8" y="148.3" width="0.9" height="0.9" fill="#ffffff" opacity="0.85"/>
<rect x="56.1" y="132.2" width="0.9" height="0.9" fill="#ffffff" opacity="0.85"/>
<rect x="86.8" y="159.6" width="0.9" height="0.9" fill="#ffffff" opacity="0.85"/>
<rect x="71.4" y="139.1" width="0.9" height="0.9" fill="#ffffff" opacity="0.85"/>
<rect x="102.5" y="152.8" width="0.9" height="0.9" fill="#ffffff" opacity="0.85"/>
<rect x="106.5" y="132.8" width="0.9" height="0.9" fill="#ffffff" opacity="0.85"/>
<rect x="88.4" y="117.3" width="0.9" height="0.9" fill="#ffffff" opacity="0.85"/>
<rect x="92.8" y="154.1" width="0.9" height="0.9" fill="#ffffff" opacity="0.85"/>
<rect x="87.8" y="148.1" width="0.9" height="0.9" fill="#ffffff" opacity="0.85"/>
<rect x="108.8" y="163.6" width="0.9" height="0.9" fill="#ffffff" opacity="0.85"/>
<rect x="81.3" y="152.4" width="0.9" height="0.9" fill="#ffffff" opacity="0.85"/>
<rect x="67.9" y="159.6" width="0.9" height="0.9" fill="#ffffff" opacity="0.85"/>
<rect x="101.1" y="125.9" width="0.9" height="0.9" fill="#ffffff" opacity="0.85"/>
<rect x="53.1" y="131.5" width="0.9" height="0.9" fill="#ffffff" opacity="0.85"/>
<rect x="82.1" y="151.1" width="0.9" height="0.9" fill="#ffffff" opacity="0.85"/>
<rect x="78.2" y="106.7" width="0.9" height="0.9" fill="#ffffff" opacity="0.85"/>
<rect x="68.8" y="152.3" width="0.9" height="0.9" fill="#ffffff" opacity="0.85"/>
<rect x="56.7" y="113.9" width="0.9" height="0.9" fill="#ffffff" opacity="0.85"/>
<rect x="80.0" y="148.4" width="0.9" height="0.9" fill="#ffffff" opacity="0.85"/>
<rect x="100.1" y="146.4" width="0.9" height="0.9" fill="#ffffff" opacity="0.85"/>
<rect x="106.6" y="134.6" width="0.9" height="0.9" fill="#ffffff" opacity="0.85"/>
<rect x="61.7" y="136.6" width="0.9" height="0.9" fill="#ffffff" opacity="0.85"/>
<rect x="66.0" y="148.7" width="0.9" height="0.9" fill="#ffffff" opacity="0.85"/>
<rect x="87.6" y="136.4" width="0.9" height="0.9" fill="#ffffff" opacity="0.85"/>
<rect x="100.3" y="138.6" width="0.9" height="0.9" fill="#ffffff" opacity="0.85"/>
<rect x="67.3" y="127.9" width="0.9" height="0.9" fill="#ffffff" opacity="0.85"/>
<rect x="100.4" y="159.0" width="0.9" height="0.9" fill="#ffffff" opacity="0.85"/>
<rect x="108.0" y="136.5" width="0.9" height="0.9" fill="#ffffff" opacity="0.85"/>
<rect x="83.5" y="117.1" width="0.9" height="0.9" fill="#ffffff" opacity="0.85"/>
<rect x="81.2" y="135.2" width="0.9" height="0.9" fill="#ffffff" opacity="0.85"/>
<rect x="108.1" y="136.0" width="0.9" height="0.9" fill="#ffffff" opacity="0.85"/>
<rect x="72.8" y="153.1" width="0.9" height="0.9" fill="#ffffff" opacity="0.85"/>
<rect x="82.9" y="134.5" width="0.9" height="0.9" fill="#ffffff" opacity="0.85"/>
<rect x="81.4" y="129.8" width="0.9" height="0.9" fill="#ffffff" opacity="0.85"/>
<rect x="107.3" y="160.4" width="0.9" height="0.9" fill="#ffffff" opacity="0.85"/>
<rect x="64.7" y="133.4" width="0.9" height="0.9" fill="#ffffff" opacity="0.85"/>
<rect x="55.9" y="131.0" width="0.9" height="0.9" fill="#ffffff" opacity="0.85"/>
<rect x="98.6" y="159.0" width="0.9" height="0.9" fill="#ffffff" opacity="0.85"/>
<rect x="77.5" y="124.0" width="0.9" height="0.9" fill="#ffffff" opacity="0.85"/>
<rect x="59.9" y="142.1" width="0.9" height="0.9" fill="#ffffff" opacity="0.85"/>
<rect x="60.0" y="118.6" width="0.9" height="0.9" fill="#ffffff" opacity="0.85"/>
<rect x="90.6" y="124.3" width="0.9" height="0.9" fill="#ffffff" opacity="0.85"/>
<rect x="70.0" y="142.2" width="0.9" height="0.9" fill="#ffffff" opacity="0.85"/>
<rect x="55.6" y="135.6" width="0.9" height="0.9" fill="#ffffff" opacity="0.85"/>
<rect x="63.5" y="116.9" width="0.9" height="0.9" fill="#ffffff" opacity="0.85"/>
<rect x="80.9" y="131.2" width="0.9" height="0.9" fill="#ffffff" opacity="0.85"/>
<rect x="71.3" y="129.8" width="0.9" height="0.9" fill="#ffffff" opacity="0.85"/>
<rect x="80.8" y="114.6" width="0.9" height="0.9" fill="#ffffff" opacity="0.85"/>
<rect x="60.7" y="142.9" width="0.9" height="0.9" fill="#ffffff" opacity="0.85"/>
</g>
<rect x="641.07" y="148.25" width="1.3" height="1.3" fill="#e2545b" opacity="0.62"/>
<rect x="630.18" y="117.44" width="1.3" height="1.3" fill="#e2545b" opacity="0.62"/>
<rect x="635.46" y="137.81" width="1.3" height="1.3" fill="#e2545b" opacity="0.62"/>
<rect x="651.18" y="112.03" width="1.3" height="1.3" fill="#e2545b" opacity="0.62"/>
<rect x="653.40" y="110.73" width="1.3" height="1.3" fill="#e2545b" opacity="0.62"/>
<rect x="640.68" y="109.98" width="1.3" height="1.3" fill="#e2545b" opacity="0.62"/>
<rect x="611.80" y="115.51" width="1.3" height="1.3" fill="#e2545b" opacity="0.62"/>
<rect x="658.73" y="120.10" width="1.3" height="1.3" fill="#e2545b" opacity="0.62"/>
<rect x="644.95" y="114.84" width="1.3" height="1.3" fill="#e2545b" opacity="0.62"/>
<rect x="618.12" y="124.57" width="1.3" height="1.3" fill="#e2545b" opacity="0.62"/>
<rect x="618.30" y="139.62" width="1.3" height="1.3" fill="#e2545b" opacity="0.62"/>
<rect x="631.00" y="121.75" width="1.3" height="1.3" fill="#e2545b" opacity="0.62"/>
<rect x="631.04" y="145.94" width="1.3" height="1.3" fill="#e2545b" opacity="0.62"/>
<rect x="652.73" y="124.88" width="1.3" height="1.3" fill="#e2545b" opacity="0.62"/>
<rect x="663.66" y="123.52" width="1.3" height="1.3" fill="#e2545b" opacity="0.62"/>
<rect x="622.09" y="134.74" width="1.3" height="1.3" fill="#e2545b" opacity="0.62"/>
<rect x="651.88" y="108.82" width="1.3" height="1.3" fill="#e2545b" opacity="0.62"/>
<rect x="621.09" y="140.10" width="1.3" height="1.3" fill="#e2545b" opacity="0.62"/>
<rect x="661.96" y="123.25" width="1.3" height="1.3" fill="#e2545b" opacity="0.62"/>
<rect x="608.41" y="105.12" width="1.3" height="1.3" fill="#e2545b" opacity="0.62"/>
<rect x="634.74" y="127.35" width="1.3" height="1.3" fill="#e2545b" opacity="0.62"/>
<rect x="613.77" y="139.05" width="1.3" height="1.3" fill="#e2545b" opacity="0.62"/>
<rect x="655.46" y="130.45" width="1.3" height="1.3" fill="#e2545b" opacity="0.62"/>
<rect x="626.83" y="105.57" width="1.3" height="1.3" fill="#e2545b" opacity="0.62"/>
<rect x="656.32" y="110.22" width="1.3" height="1.3" fill="#e2545b" opacity="0.62"/>
<rect x="641.60" y="151.12" width="1.3" height="1.3" fill="#e2545b" opacity="0.62"/>
<rect x="607.54" y="154.65" width="1.3" height="1.3" fill="#e2545b" opacity="0.62"/>
<rect x="617.84" y="130.29" width="1.3" height="1.3" fill="#e2545b" opacity="0.62"/>
<rect x="631.53" y="147.48" width="1.3" height="1.3" fill="#e2545b" opacity="0.62"/>
<rect x="630.88" y="120.21" width="1.3" height="1.3" fill="#e2545b" opacity="0.62"/>
<rect x="641.35" y="133.16" width="1.3" height="1.3" fill="#e2545b" opacity="0.62"/>
<rect x="622.55" y="151.00" width="1.3" height="1.3" fill="#e2545b" opacity="0.62"/>
<rect x="651.83" y="145.31" width="1.3" height="1.3" fill="#e2545b" opacity="0.62"/>
<rect x="643.98" y="149.36" width="1.3" height="1.3" fill="#e2545b" opacity="0.62"/>
<rect x="622.70" y="145.93" width="1.3" height="1.3" fill="#e2545b" opacity="0.62"/>
<rect x="616.85" y="132.32" width="1.3" height="1.3" fill="#e2545b" opacity="0.62"/>
<rect x="651.46" y="145.08" width="1.3" height="1.3" fill="#e2545b" opacity="0.62"/>
<rect x="642.96" y="138.22" width="1.3" height="1.3" fill="#e2545b" opacity="0.62"/>
<rect x="614.72" y="143.88" width="1.3" height="1.3" fill="#e2545b" opacity="0.62"/>
<rect x="629.74" y="152.91" width="1.3" height="1.3" fill="#e2545b" opacity="0.62"/>
<rect x="642.80" y="151.72" width="1.3" height="1.3" fill="#e2545b" opacity="0.62"/>
<rect x="621.60" y="142.17" width="1.3" height="1.3" fill="#e2545b" opacity="0.62"/>
<rect x="621.75" y="154.54" width="1.3" height="1.3" fill="#e2545b" opacity="0.62"/>
<rect x="633.65" y="135.03" width="1.3" height="1.3" fill="#e2545b" opacity="0.62"/>
<rect x="608.73" y="154.15" width="1.3" height="1.3" fill="#e2545b" opacity="0.62"/>
<rect x="645.92" y="146.87" width="1.3" height="1.3" fill="#e2545b" opacity="0.62"/>
<rect x="648.67" y="112.79" width="1.3" height="1.3" fill="#e2545b" opacity="0.62"/>
<rect x="652.21" y="138.24" width="1.3" height="1.3" fill="#e2545b" opacity="0.62"/>
<rect x="644.09" y="128.28" width="1.3" height="1.3" fill="#e2545b" opacity="0.62"/>
<rect x="641.12" y="150.30" width="1.3" height="1.3" fill="#e2545b" opacity="0.62"/>
<rect x="642.05" y="146.92" width="1.3" height="1.3" fill="#e2545b" opacity="0.62"/>
<rect x="628.19" y="142.55" width="1.3" height="1.3" fill="#e2545b" opacity="0.62"/>
<rect x="612.48" y="144.78" width="1.3" height="1.3" fill="#e2545b" opacity="0.62"/>
<rect x="641.63" y="104.70" width="1.3" height="1.3" fill="#e2545b" opacity="0.62"/>
<rect x="630.35" y="116.18" width="1.3" height="1.3" fill="#e2545b" opacity="0.62"/>
<rect x="623.89" y="140.16" width="1.3" height="1.3" fill="#e2545b" opacity="0.62"/>
<rect x="638.75" y="116.90" width="1.3" height="1.3" fill="#e2545b" opacity="0.62"/>
<rect x="605.12" y="153.82" width="1.3" height="1.3" fill="#e2545b" opacity="0.62"/>
<rect x="640.40" y="108.00" width="1.3" height="1.3" fill="#e2545b" opacity="0.62"/>
<rect x="635.57" y="123.21" width="1.3" height="1.3" fill="#e2545b" opacity="0.62"/>
<rect x="638.09" y="161.72" width="1.3" height="1.3" fill="#e2545b" opacity="0.62"/>
<rect x="654.91" y="128.17" width="1.3" height="1.3" fill="#e2545b" opacity="0.62"/>
<rect x="654.52" y="142.06" width="1.3" height="1.3" fill="#e2545b" opacity="0.62"/>
<rect x="636.89" y="161.65" width="1.3" height="1.3" fill="#e2545b" opacity="0.62"/>
<rect x="621.83" y="157.68" width="1.3" height="1.3" fill="#e2545b" opacity="0.62"/>
<rect x="637.02" y="140.37" width="1.3" height="1.3" fill="#e2545b" opacity="0.62"/>
<rect x="606.93" y="141.26" width="1.3" height="1.3" fill="#e2545b" opacity="0.62"/>
<rect x="660.06" y="125.48" width="1.3" height="1.3" fill="#e2545b" opacity="0.62"/>
<rect x="639.15" y="118.26" width="1.3" height="1.3" fill="#e2545b" opacity="0.62"/>
<rect x="626.38" y="121.96" width="1.3" height="1.3" fill="#e2545b" opacity="0.62"/>
<rect x="631.78" y="119.92" width="1.3" height="1.3" fill="#e2545b" opacity="0.62"/>
<rect x="630.73" y="109.68" width="1.3" height="1.3" fill="#e2545b" opacity="0.62"/>
<rect x="640.98" y="129.69" width="1.3" height="1.3" fill="#e2545b" opacity="0.62"/>
<rect x="617.72" y="150.73" width="1.3" height="1.3" fill="#e2545b" opacity="0.62"/>
<rect x="634.67" y="119.13" width="1.3" height="1.3" fill="#e2545b" opacity="0.62"/>
<rect x="640.01" y="131.63" width="1.3" height="1.3" fill="#e2545b" opacity="0.62"/>
<rect x="642.62" y="139.67" width="1.3" height="1.3" fill="#e2545b" opacity="0.62"/>
<rect x="649.60" y="109.45" width="1.3" height="1.3" fill="#e2545b" opacity="0.62"/>
<rect x="650.80" y="120.81" width="1.3" height="1.3" fill="#e2545b" opacity="0.62"/>
<rect x="634.74" y="123.01" width="1.3" height="1.3" fill="#e2545b" opacity="0.62"/>
<rect x="617.98" y="135.06" width="1.3" height="1.3" fill="#e2545b" opacity="0.62"/>
<rect x="629.84" y="124.56" width="1.3" height="1.3" fill="#e2545b" opacity="0.62"/>
<rect x="649.71" y="138.86" width="1.3" height="1.3" fill="#e2545b" opacity="0.62"/>
<rect x="629.22" y="159.12" width="1.3" height="1.3" fill="#e2545b" opacity="0.62"/>
<rect x="627.25" y="137.91" width="1.3" height="1.3" fill="#e2545b" opacity="0.62"/>
<rect x="647.10" y="141.43" width="1.3" height="1.3" fill="#e2545b" opacity="0.62"/>
<rect x="631.08" y="158.82" width="1.3" height="1.3" fill="#e2545b" opacity="0.62"/>
<rect x="624.26" y="126.48" width="1.3" height="1.3" fill="#e2545b" opacity="0.62"/>
<rect x="657.28" y="114.32" width="1.3" height="1.3" fill="#e2545b" opacity="0.62"/>
<rect x="617.96" y="153.74" width="1.3" height="1.3" fill="#e2545b" opacity="0.62"/>
<rect x="601.65" y="154.13" width="1.3" height="1.3" fill="#e2545b" opacity="0.62"/>
<rect x="646.14" y="129.03" width="1.3" height="1.3" fill="#e2545b" opacity="0.62"/>
<rect x="617.24" y="150.67" width="1.3" height="1.3" fill="#e2545b" opacity="0.62"/>
<rect x="630.84" y="136.26" width="1.3" height="1.3" fill="#e2545b" opacity="0.62"/>
<rect x="632.20" y="122.68" width="1.3" height="1.3" fill="#e2545b" opacity="0.62"/>
<rect x="607.84" y="138.55" width="1.3" height="1.3" fill="#e2545b" opacity="0.62"/>
<rect x="654.44" y="106.36" width="1.3" height="1.3" fill="#e2545b" opacity="0.62"/>
<rect x="613.25" y="153.09" width="1.3" height="1.3" fill="#e2545b" opacity="0.62"/>
<rect x="653.02" y="143.38" width="1.3" height="1.3" fill="#e2545b" opacity="0.62"/>
<rect x="646.61" y="105.14" width="1.3" height="1.3" fill="#e2545b" opacity="0.62"/>
<rect x="656.58" y="115.74" width="1.3" height="1.3" fill="#e2545b" opacity="0.62"/>
<rect x="647.40" y="110.48" width="1.3" height="1.3" fill="#e2545b" opacity="0.62"/>
<rect x="607.57" y="140.09" width="1.3" height="1.3" fill="#e2545b" opacity="0.62"/>
<rect x="637.69" y="148.28" width="1.3" height="1.3" fill="#e2545b" opacity="0.62"/>
<rect x="659.16" y="110.46" width="1.3" height="1.3" fill="#e2545b" opacity="0.62"/>
<rect x="631.63" y="160.49" width="1.3" height="1.3" fill="#e2545b" opacity="0.62"/>
<rect x="607.67" y="141.38" width="1.3" height="1.3" fill="#e2545b" opacity="0.62"/>
<rect x="632.78" y="158.74" width="1.3" height="1.3" fill="#e2545b" opacity="0.62"/>
<rect x="636.25" y="140.73" width="1.3" height="1.3" fill="#e2545b" opacity="0.62"/>
<rect x="615.61" y="136.42" width="1.3" height="1.3" fill="#e2545b" opacity="0.62"/>
<rect x="614.96" y="148.80" width="1.3" height="1.3" fill="#e2545b" opacity="0.62"/>
<rect x="633.57" y="110.42" width="1.3" height="1.3" fill="#e2545b" opacity="0.62"/>
<rect x="649.13" y="113.26" width="1.3" height="1.3" fill="#e2545b" opacity="0.62"/>
<rect x="647.46" y="142.85" width="1.3" height="1.3" fill="#e2545b" opacity="0.62"/>
<rect x="639.02" y="116.94" width="1.3" height="1.3" fill="#e2545b" opacity="0.62"/>
<rect x="659.05" y="131.99" width="1.3" height="1.3" fill="#e2545b" opacity="0.62"/>
<rect x="619.86" y="151.65" width="1.3" height="1.3" fill="#e2545b" opacity="0.62"/>
<rect x="612.76" y="109.32" width="1.3" height="1.3" fill="#e2545b" opacity="0.62"/>
<rect x="644.05" y="153.15" width="1.3" height="1.3" fill="#e2545b" opacity="0.62"/>
<rect x="606.86" y="140.97" width="1.3" height="1.3" fill="#e2545b" opacity="0.62"/>
<rect x="640.42" y="123.79" width="1.3" height="1.3" fill="#e2545b" opacity="0.62"/>
<rect x="642.83" y="152.15" width="1.3" height="1.3" fill="#e2545b" opacity="0.62"/>
<rect x="627.65" y="155.08" width="1.3" height="1.3" fill="#e2545b" opacity="0.62"/>
<rect x="633.60" y="138.97" width="1.3" height="1.3" fill="#e2545b" opacity="0.62"/>
<rect x="637.55" y="148.15" width="1.3" height="1.3" fill="#e2545b" opacity="0.62"/>
<rect x="611.30" y="104.55" width="1.3" height="1.3" fill="#e2545b" opacity="0.62"/>
<rect x="631.02" y="149.40" width="1.3" height="1.3" fill="#e2545b" opacity="0.62"/>
<rect x="627.31" y="131.06" width="1.3" height="1.3" fill="#e2545b" opacity="0.62"/>
<rect x="623.49" y="126.09" width="1.3" height="1.3" fill="#e2545b" opacity="0.62"/>
<rect x="659.29" y="111.56" width="1.3" height="1.3" fill="#e2545b" opacity="0.62"/>
<rect x="645.65" y="144.02" width="1.3" height="1.3" fill="#e2545b" opacity="0.62"/>
<rect x="630.36" y="160.92" width="1.3" height="1.3" fill="#e2545b" opacity="0.62"/>
<rect x="605.32" y="143.69" width="1.3" height="1.3" fill="#e2545b" opacity="0.62"/>
<rect x="648.60" y="112.25" width="1.3" height="1.3" fill="#e2545b" opacity="0.62"/>
<rect x="619.05" y="131.22" width="1.3" height="1.3" fill="#e2545b" opacity="0.62"/>
<rect x="647.79" y="112.26" width="1.3" height="1.3" fill="#e2545b" opacity="0.62"/>
<rect x="614.00" y="143.92" width="1.3" height="1.3" fill="#e2545b" opacity="0.62"/>
<rect x="652.13" y="127.62" width="1.3" height="1.3" fill="#e2545b" opacity="0.62"/>
<rect x="625.45" y="135.15" width="1.3" height="1.3" fill="#e2545b" opacity="0.62"/>
<rect x="657.62" y="115.44" width="1.3" height="1.3" fill="#e2545b" opacity="0.62"/>
<rect x="631.41" y="137.65" width="1.3" height="1.3" fill="#e2545b" opacity="0.62"/>
<rect x="623.63" y="140.99" width="1.3" height="1.3" fill="#e2545b" opacity="0.62"/>
<rect x="618.75" y="130.04" width="1.3" height="1.3" fill="#e2545b" opacity="0.62"/>
<rect x="655.47" y="116.03" width="1.3" height="1.3" fill="#e2545b" opacity="0.62"/>
<rect x="654.98" y="121.56" width="1.3" height="1.3" fill="#e2545b" opacity="0.62"/>
<rect x="637.82" y="117.37" width="1.3" height="1.3" fill="#e2545b" opacity="0.62"/>
<rect x="636.34" y="157.85" width="1.3" height="1.3" fill="#e2545b" opacity="0.62"/>
<rect x="643.27" y="149.36" width="1.3" height="1.3" fill="#e2545b" opacity="0.62"/>
<rect x="637.66" y="129.61" width="1.3" height="1.3" fill="#e2545b" opacity="0.62"/>
<rect x="654.79" y="142.88" width="1.3" height="1.3" fill="#e2545b" opacity="0.62"/>
<rect x="646.61" y="118.75" width="1.3" height="1.3" fill="#e2545b" opacity="0.62"/>
<rect x="654.46" y="125.89" width="1.3" height="1.3" fill="#e2545b" opacity="0.62"/>
<rect x="636.42" y="103.81" width="1.3" height="1.3" fill="#e2545b" opacity="0.62"/>
<rect x="622.25" y="155.59" width="1.3" height="1.3" fill="#e2545b" opacity="0.62"/>
<rect x="638.34" y="153.54" width="1.3" height="1.3" fill="#e2545b" opacity="0.62"/>
<rect x="648.42" y="108.03" width="1.3" height="1.3" fill="#e2545b" opacity="0.62"/>
<rect x="634.51" y="112.75" width="1.3" height="1.3" fill="#e2545b" opacity="0.62"/>
<rect x="647.19" y="129.86" width="1.3" height="1.3" fill="#e2545b" opacity="0.62"/>
<rect x="627.70" y="129.56" width="1.3" height="1.3" fill="#e2545b" opacity="0.62"/>
<rect x="634.67" y="162.43" width="1.3" height="1.3" fill="#e2545b" opacity="0.62"/>
<rect x="639.16" y="108.54" width="1.3" height="1.3" fill="#e2545b" opacity="0.62"/>
<rect x="654.61" y="128.20" width="1.3" height="1.3" fill="#e2545b" opacity="0.62"/>
<rect x="631.09" y="156.96" width="1.3" height="1.3" fill="#e2545b" opacity="0.62"/>
<rect x="611.21" y="137.09" width="1.3" height="1.3" fill="#e2545b" opacity="0.62"/>
<rect x="622.24" y="148.83" width="1.3" height="1.3" fill="#e2545b" opacity="0.62"/>
<rect x="640.73" y="127.04" width="1.3" height="1.3" fill="#e2545b" opacity="0.62"/>
<rect x="607.10" y="153.84" width="1.3" height="1.3" fill="#e2545b" opacity="0.62"/>
<rect x="660.69" y="114.50" width="1.3" height="1.3" fill="#e2545b" opacity="0.62"/>
<rect x="653.39" y="122.26" width="1.3" height="1.3" fill="#e2545b" opacity="0.62"/>
<rect x="641.08" y="151.89" width="1.3" height="1.3" fill="#e2545b" opacity="0.62"/>
<rect x="633.20" y="138.60" width="1.3" height="1.3" fill="#e2545b" opacity="0.62"/>
<rect x="624.07" y="131.72" width="1.3" height="1.3" fill="#e2545b" opacity="0.62"/>
<rect x="646.76" y="126.93" width="1.3" height="1.3" fill="#e2545b" opacity="0.62"/>
<rect x="644.41" y="135.49" width="1.3" height="1.3" fill="#e2545b" opacity="0.62"/>
<rect x="653.51" y="124.67" width="1.3" height="1.3" fill="#e2545b" opacity="0.62"/>
<rect x="638.99" y="144.37" width="1.3" height="1.3" fill="#e2545b" opacity="0.62"/>
<rect x="633.94" y="119.78" width="1.3" height="1.3" fill="#e2545b" opacity="0.62"/>
<rect x="622.16" y="138.21" width="1.3" height="1.3" fill="#e2545b" opacity="0.62"/>
<rect x="650.74" y="146.55" width="1.3" height="1.3" fill="#e2545b" opacity="0.62"/>
<rect x="640.22" y="115.09" width="1.3" height="1.3" fill="#e2545b" opacity="0.62"/>
<rect x="633.55" y="157.85" width="1.3" height="1.3" fill="#e2545b" opacity="0.62"/>
<rect x="635.48" y="126.58" width="1.3" height="1.3" fill="#e2545b" opacity="0.62"/>
<rect x="609.58" y="142.73" width="1.3" height="1.3" fill="#e2545b" opacity="0.62"/>
<rect x="640.40" y="126.16" width="1.3" height="1.3" fill="#e2545b" opacity="0.62"/>
<rect x="636.15" y="146.60" width="1.3" height="1.3" fill="#e2545b" opacity="0.62"/>
<rect x="623.45" y="157.27" width="1.3" height="1.3" fill="#e2545b" opacity="0.62"/>
<rect x="615.92" y="140.81" width="1.3" height="1.3" fill="#e2545b" opacity="0.62"/>
<rect x="660.49" y="112.52" width="1.3" height="1.3" fill="#e2545b" opacity="0.62"/>
<rect x="641.77" y="149.79" width="1.3" height="1.3" fill="#e2545b" opacity="0.62"/>
<rect x="648.51" y="128.03" width="1.3" height="1.3" fill="#e2545b" opacity="0.62"/>
<rect x="627.08" y="135.00" width="1.3" height="1.3" fill="#e2545b" opacity="0.62"/>
<rect x="661.02" y="120.91" width="1.3" height="1.3" fill="#e2545b" opacity="0.62"/>
<rect x="616.84" y="139.76" width="1.3" height="1.3" fill="#e2545b" opacity="0.62"/>
<rect x="636.80" y="139.64" width="1.3" height="1.3" fill="#e2545b" opacity="0.62"/>
<rect x="642.73" y="145.04" width="1.3" height="1.3" fill="#e2545b" opacity="0.62"/>
<rect x="648.57" y="105.92" width="1.3" height="1.3" fill="#e2545b" opacity="0.62"/>
<rect x="631.28" y="154.02" width="1.3" height="1.3" fill="#e2545b" opacity="0.62"/>
<rect x="664.73" y="121.91" width="1.3" height="1.3" fill="#e2545b" opacity="0.62"/>
<rect x="662.57" y="116.35" width="1.3" height="1.3" fill="#e2545b" opacity="0.62"/>
<rect x="646.30" y="154.40" width="1.3" height="1.3" fill="#e2545b" opacity="0.62"/>
<rect x="630.72" y="108.37" width="1.3" height="1.3" fill="#e2545b" opacity="0.62"/>
<rect x="607.73" y="140.41" width="1.3" height="1.3" fill="#e2545b" opacity="0.62"/>
<rect x="623.48" y="130.64" width="1.3" height="1.3" fill="#e2545b" opacity="0.62"/>
<rect x="645.14" y="148.32" width="1.3" height="1.3" fill="#e2545b" opacity="0.62"/>
<rect x="635.44" y="125.44" width="1.3" height="1.3" fill="#e2545b" opacity="0.62"/>
<rect x="605.29" y="139.25" width="1.3" height="1.3" fill="#e2545b" opacity="0.62"/>
<rect x="623.48" y="144.64" width="1.3" height="1.3" fill="#e2545b" opacity="0.62"/>
<rect x="632.05" y="161.99" width="1.3" height="1.3" fill="#e2545b" opacity="0.62"/>
<rect x="650.76" y="146.97" width="1.3" height="1.3" fill="#e2545b" opacity="0.62"/>
<rect x="622.04" y="147.97" width="1.3" height="1.3" fill="#e2545b" opacity="0.62"/>
<rect x="661.98" y="125.87" width="1.3" height="1.3" fill="#e2545b" opacity="0.62"/>
<rect x="617.54" y="133.13" width="1.3" height="1.3" fill="#e2545b" opacity="0.62"/>
<rect x="646.30" y="151.19" width="1.3" height="1.3" fill="#e2545b" opacity="0.62"/>
<rect x="637.72" y="120.51" width="1.3" height="1.3" fill="#e2545b" opacity="0.62"/>
<rect x="620.82" y="154.86" width="1.3" height="1.3" fill="#e2545b" opacity="0.62"/>
<rect x="633.73" y="105.24" width="1.3" height="1.3" fill="#e2545b" opacity="0.62"/>
<rect x="624.32" y="160.20" width="1.3" height="1.3" fill="#e2545b" opacity="0.62"/>
<rect x="651.19" y="124.56" width="1.3" height="1.3" fill="#e2545b" opacity="0.62"/>
<rect x="629.41" y="125.92" width="1.3" height="1.3" fill="#e2545b" opacity="0.62"/>
<rect x="633.55" y="105.41" width="1.3" height="1.3" fill="#e2545b" opacity="0.62"/>
<rect x="628.31" y="131.46" width="1.3" height="1.3" fill="#e2545b" opacity="0.62"/>
<rect x="632.92" y="105.40" width="1.3" height="1.3" fill="#e2545b" opacity="0.62"/>
<rect x="624.77" y="150.53" width="1.3" height="1.3" fill="#e2545b" opacity="0.62"/>
<rect x="627.74" y="139.03" width="1.3" height="1.3" fill="#e2545b" opacity="0.62"/>
<rect x="641.98" y="104.34" width="1.3" height="1.3" fill="#e2545b" opacity="0.62"/>
<rect x="626.22" y="156.49" width="1.3" height="1.3" fill="#e2545b" opacity="0.62"/>
<rect x="617.25" y="143.57" width="1.3" height="1.3" fill="#e2545b" opacity="0.62"/>
<rect x="606.62" y="116.82" width="1.3" height="1.3" fill="#e2545b" opacity="0.62"/>
<rect x="615.85" y="149.00" width="1.3" height="1.3" fill="#e2545b" opacity="0.62"/>
<rect x="623.37" y="150.33" width="1.3" height="1.3" fill="#e2545b" opacity="0.62"/>
<rect x="642.52" y="125.43" width="1.3" height="1.3" fill="#e2545b" opacity="0.62"/>
<rect x="623.07" y="131.82" width="1.3" height="1.3" fill="#e2545b" opacity="0.62"/>
<rect x="614.03" y="137.48" width="1.3" height="1.3" fill="#e2545b" opacity="0.62"/>
<rect x="615.59" y="136.03" width="1.3" height="1.3" fill="#e2545b" opacity="0.62"/>
<rect x="648.75" y="110.41" width="1.3" height="1.3" fill="#e2545b" opacity="0.62"/>
<rect x="631.03" y="146.01" width="1.3" height="1.3" fill="#e2545b" opacity="0.62"/>
<rect x="626.62" y="133.47" width="1.3" height="1.3" fill="#e2545b" opacity="0.62"/>
<rect x="640.19" y="151.43" width="1.3" height="1.3" fill="#e2545b" opacity="0.62"/>
<rect x="618.05" y="130.10" width="1.3" height="1.3" fill="#e2545b" opacity="0.62"/>
<rect x="623.19" y="135.08" width="1.3" height="1.3" fill="#e2545b" opacity="0.62"/>
<rect x="618.33" y="112.47" width="1.3" height="1.3" fill="#e2545b" opacity="0.62"/>
<rect x="649.09" y="134.99" width="1.3" height="1.3" fill="#e2545b" opacity="0.62"/>
<rect x="624.49" y="159.62" width="1.3" height="1.3" fill="#e2545b" opacity="0.62"/>
<rect x="618.15" y="136.42" width="1.3" height="1.3" fill="#e2545b" opacity="0.62"/>
<rect x="655.70" y="110.69" width="1.3" height="1.3" fill="#e2545b" opacity="0.62"/>
<rect x="621.82" y="132.85" width="1.3" height="1.3" fill="#e2545b" opacity="0.62"/>
<rect x="637.03" y="115.00" width="1.3" height="1.3" fill="#e2545b" opacity="0.62"/>
<rect x="649.44" y="118.41" width="1.3" height="1.3" fill="#e2545b" opacity="0.62"/>
<rect x="655.67" y="141.03" width="1.3" height="1.3" fill="#e2545b" opacity="0.62"/>
<rect x="624.48" y="141.22" width="1.3" height="1.3" fill="#e2545b" opacity="0.62"/>
<rect x="614.36" y="118.49" width="1.3" height="1.3" fill="#e2545b" opacity="0.62"/>
<rect x="628.02" y="157.92" width="1.3" height="1.3" fill="#e2545b" opacity="0.62"/>
<rect x="649.34" y="137.01" width="1.3" height="1.3" fill="#e2545b" opacity="0.62"/>
<rect x="655.31" y="132.86" width="1.3" height="1.3" fill="#e2545b" opacity="0.62"/>
<rect x="638.66" y="109.41" width="1.3" height="1.3" fill="#e2545b" opacity="0.62"/>
<rect x="648.02" y="140.13" width="1.3" height="1.3" fill="#e2545b" opacity="0.62"/>
<rect x="640.30" y="115.88" width="1.3" height="1.3" fill="#e2545b" opacity="0.62"/>
<rect x="629.55" y="142.47" width="1.3" height="1.3" fill="#e2545b" opacity="0.62"/>
<rect x="656.69" y="109.60" width="1.3" height="1.3" fill="#e2545b" opacity="0.62"/>
<rect x="650.38" y="118.19" width="1.3" height="1.3" fill="#e2545b" opacity="0.62"/>
<rect x="633.48" y="158.21" width="1.3" height="1.3" fill="#e2545b" opacity="0.62"/>
<rect x="629.93" y="111.77" width="1.3" height="1.3" fill="#e2545b" opacity="0.62"/>
<rect x="612.29" y="118.48" width="1.3" height="1.3" fill="#e2545b" opacity="0.62"/>
<rect x="640.97" y="142.58" width="1.3" height="1.3" fill="#e2545b" opacity="0.62"/>
<rect x="645.62" y="129.92" width="1.3" height="1.3" fill="#e2545b" opacity="0.62"/>
<rect x="637.55" y="158.85" width="1.3" height="1.3" fill="#e2545b" opacity="0.62"/>
<rect x="631.92" y="135.45" width="1.3" height="1.3" fill="#e2545b" opacity="0.62"/>
<rect x="643.86" y="128.20" width="1.3" height="1.3" fill="#e2545b" opacity="0.62"/>
<rect x="622.28" y="157.45" width="1.3" height="1.3" fill="#e2545b" opacity="0.62"/>
<rect x="615.70" y="141.26" width="1.3" height="1.3" fill="#e2545b" opacity="0.62"/>
<rect x="656.74" y="138.34" width="1.3" height="1.3" fill="#e2545b" opacity="0.62"/>
<rect x="624.16" y="141.69" width="1.3" height="1.3" fill="#e2545b" opacity="0.62"/>
<rect x="648.22" y="118.32" width="1.3" height="1.3" fill="#e2545b" opacity="0.62"/>
<rect x="626.03" y="156.20" width="1.3" height="1.3" fill="#e2545b" opacity="0.62"/>
<rect x="632.82" y="108.58" width="1.3" height="1.3" fill="#e2545b" opacity="0.62"/>
<rect x="636.97" y="120.14" width="1.3" height="1.3" fill="#e2545b" opacity="0.62"/>
<rect x="629.97" y="108.49" width="1.3" height="1.3" fill="#e2545b" opacity="0.62"/>
<rect x="651.39" y="109.24" width="1.3" height="1.3" fill="#e2545b" opacity="0.62"/>
<rect x="635.01" y="107.31" width="1.3" height="1.3" fill="#e2545b" opacity="0.62"/>
<rect x="611.78" y="134.12" width="1.3" height="1.3" fill="#e2545b" opacity="0.62"/>
<rect x="661.97" y="125.85" width="1.3" height="1.3" fill="#e2545b" opacity="0.62"/>
<rect x="620.03" y="152.55" width="1.3" height="1.3" fill="#e2545b" opacity="0.62"/>
<rect x="634.42" y="110.78" width="1.3" height="1.3" fill="#e2545b" opacity="0.62"/>
<rect x="629.96" y="129.67" width="1.3" height="1.3" fill="#e2545b" opacity="0.62"/>
<rect x="632.38" y="119.78" width="1.3" height="1.3" fill="#e2545b" opacity="0.62"/>
<rect x="649.65" y="118.04" width="1.3" height="1.3" fill="#e2545b" opacity="0.62"/>
<rect x="630.28" y="149.29" width="1.3" height="1.3" fill="#e2545b" opacity="0.62"/>
<rect x="639.79" y="110.45" width="1.3" height="1.3" fill="#e2545b" opacity="0.62"/>
<rect x="611.32" y="145.34" width="1.3" height="1.3" fill="#e2545b" opacity="0.62"/>
<rect x="648.58" y="108.48" width="1.3" height="1.3" fill="#e2545b" opacity="0.62"/>
<rect x="640.83" y="155.43" width="1.3" height="1.3" fill="#e2545b" opacity="0.62"/>
<rect x="608.52" y="145.57" width="1.3" height="1.3" fill="#e2545b" opacity="0.62"/>
<rect x="604.42" y="138.21" width="1.3" height="1.3" fill="#e2545b" opacity="0.62"/>
<rect x="620.79" y="138.91" width="1.3" height="1.3" fill="#e2545b" opacity="0.62"/>
<rect x="642.21" y="132.50" width="1.3" height="1.3" fill="#e2545b" opacity="0.62"/>
<rect x="616.94" y="122.87" width="1.3" height="1.3" fill="#e2545b" opacity="0.62"/>
<rect x="659.05" y="110.36" width="1.3" height="1.3" fill="#e2545b" opacity="0.62"/>
<rect x="626.71" y="127.90" width="1.3" height="1.3" fill="#e2545b" opacity="0.62"/>
<rect x="643.34" y="149.20" width="1.3" height="1.3" fill="#e2545b" opacity="0.62"/>
<rect x="663.77" y="121.54" width="1.3" height="1.3" fill="#e2545b" opacity="0.62"/>
<rect x="626.76" y="154.21" width="1.3" height="1.3" fill="#e2545b" opacity="0.62"/>
<rect x="644.81" y="123.24" width="1.3" height="1.3" fill="#e2545b" opacity="0.62"/>
<rect x="648.78" y="133.53" width="1.3" height="1.3" fill="#e2545b" opacity="0.62"/>
<rect x="647.34" y="140.32" width="1.3" height="1.3" fill="#e2545b" opacity="0.62"/>
<rect x="653.32" y="112.01" width="1.3" height="1.3" fill="#e2545b" opacity="0.62"/>
<rect x="634.86" y="131.87" width="1.3" height="1.3" fill="#e2545b" opacity="0.62"/>
<rect x="605.43" y="114.70" width="1.3" height="1.3" fill="#e2545b" opacity="0.62"/>
<rect x="657.33" y="116.92" width="1.3" height="1.3" fill="#e2545b" opacity="0.62"/>
<rect x="655.66" y="142.60" width="1.3" height="1.3" fill="#e2545b" opacity="0.62"/>
<rect x="624.22" y="142.21" width="1.3" height="1.3" fill="#e2545b" opacity="0.62"/>
<rect x="643.45" y="138.27" width="1.3" height="1.3" fill="#e2545b" opacity="0.62"/>
<rect x="649.60" y="133.44" width="1.3" height="1.3" fill="#e2545b" opacity="0.62"/>
<rect x="623.36" y="139.23" width="1.3" height="1.3" fill="#e2545b" opacity="0.62"/>
<rect x="650.60" y="129.76" width="1.3" height="1.3" fill="#e2545b" opacity="0.62"/>
<rect x="645.54" y="105.93" width="1.3" height="1.3" fill="#e2545b" opacity="0.62"/>
<rect x="615.41" y="154.40" width="1.3" height="1.3" fill="#e2545b" opacity="0.62"/>
<rect x="628.01" y="152.05" width="1.3" height="1.3" fill="#e2545b" opacity="0.62"/>
<rect x="630.71" y="134.56" width="1.3" height="1.3" fill="#e2545b" opacity="0.62"/>
<rect x="651.29" y="140.89" width="1.3" height="1.3" fill="#e2545b" opacity="0.62"/>
<rect x="656.07" y="140.30" width="1.3" height="1.3" fill="#e2545b" opacity="0.62"/>
<rect x="640.67" y="103.36" width="1.3" height="1.3" fill="#e2545b" opacity="0.62"/>
<rect x="624.49" y="112.43" width="1.3" height="1.3" fill="#e2545b" opacity="0.62"/>
<rect x="628.90" y="127.53" width="1.3" height="1.3" fill="#e2545b" opacity="0.62"/>
<rect x="651.31" y="145.24" width="1.3" height="1.3" fill="#e2545b" opacity="0.62"/>
<rect x="626.43" y="143.15" width="1.3" height="1.3" fill="#e2545b" opacity="0.62"/>
<rect x="643.57" y="157.02" width="1.3" height="1.3" fill="#e2545b" opacity="0.62"/>
<rect x="647.49" y="129.69" width="1.3" height="1.3" fill="#e2545b" opacity="0.62"/>
<rect x="614.69" y="144.52" width="1.3" height="1.3" fill="#e2545b" opacity="0.62"/>
<rect x="651.44" y="114.05" width="1.3" height="1.3" fill="#e2545b" opacity="0.62"/>
<rect x="634.74" y="154.38" width="1.3" height="1.3" fill="#e2545b" opacity="0.62"/>
<rect x="635.90" y="161.68" width="1.3" height="1.3" fill="#e2545b" opacity="0.62"/>
<rect x="656.01" y="122.39" width="1.3" height="1.3" fill="#e2545b" opacity="0.62"/>
<rect x="650.56" y="131.82" width="1.3" height="1.3" fill="#e2545b" opacity="0.62"/>
<rect x="653.84" y="130.17" width="1.3" height="1.3" fill="#e2545b" opacity="0.62"/>
<rect x="634.98" y="112.72" width="1.3" height="1.3" fill="#e2545b" opacity="0.62"/>
<rect x="627.16" y="129.49" width="1.3" height="1.3" fill="#e2545b" opacity="0.62"/>
<rect x="655.22" y="116.39" width="1.3" height="1.3" fill="#e2545b" opacity="0.62"/>
<rect x="617.83" y="152.90" width="1.3" height="1.3" fill="#e2545b" opacity="0.62"/>
<rect x="612.52" y="143.48" width="1.3" height="1.3" fill="#e2545b" opacity="0.62"/>
<rect x="639.05" y="107.97" width="1.3" height="1.3" fill="#e2545b" opacity="0.62"/>
<rect x="648.66" y="127.44" width="1.3" height="1.3" fill="#e2545b" opacity="0.62"/>
<rect x="619.67" y="155.39" width="1.3" height="1.3" fill="#e2545b" opacity="0.62"/>
<rect x="652.10" y="121.36" width="1.3" height="1.3" fill="#e2545b" opacity="0.62"/>
<rect x="644.95" y="109.78" width="1.3" height="1.3" fill="#e2545b" opacity="0.62"/>
<rect x="633.70" y="107.23" width="1.3" height="1.3" fill="#e2545b" opacity="0.62"/>
<rect x="642.02" y="104.63" width="1.3" height="1.3" fill="#e2545b" opacity="0.62"/>
<rect x="633.30" y="131.31" width="1.3" height="1.3" fill="#e2545b" opacity="0.62"/>
<rect x="629.65" y="108.22" width="1.3" height="1.3" fill="#e2545b" opacity="0.62"/>
<rect x="629.03" y="156.33" width="1.3" height="1.3" fill="#e2545b" opacity="0.62"/>
<rect x="632.54" y="123.67" width="1.3" height="1.3" fill="#e2545b" opacity="0.62"/>
<rect x="632.85" y="154.72" width="1.3" height="1.3" fill="#e2545b" opacity="0.62"/>
<rect x="637.30" y="130.19" width="1.3" height="1.3" fill="#e2545b" opacity="0.62"/>
<rect x="643.47" y="140.37" width="1.3" height="1.3" fill="#e2545b" opacity="0.62"/>
<rect x="625.68" y="128.62" width="1.3" height="1.3" fill="#e2545b" opacity="0.62"/>
<rect x="659.19" y="121.14" width="1.3" height="1.3" fill="#e2545b" opacity="0.62"/>
<rect x="622.82" y="139.63" width="1.3" height="1.3" fill="#e2545b" opacity="0.62"/>
<rect x="638.77" y="113.01" width="1.3" height="1.3" fill="#e2545b" opacity="0.62"/>
<rect x="628.54" y="147.76" width="1.3" height="1.3" fill="#e2545b" opacity="0.62"/>
<rect x="641.33" y="119.80" width="1.3" height="1.3" fill="#e2545b" opacity="0.62"/>
<rect x="643.45" y="104.23" width="1.3" height="1.3" fill="#e2545b" opacity="0.62"/>
<rect x="646.07" y="133.83" width="1.3" height="1.3" fill="#e2545b" opacity="0.62"/>
<rect x="640.82" y="154.83" width="1.3" height="1.3" fill="#e2545b" opacity="0.62"/>
<rect x="619.59" y="140.98" width="1.3" height="1.3" fill="#e2545b" opacity="0.62"/>
<rect x="604.85" y="157.17" width="1.3" height="1.3" fill="#e2545b" opacity="0.62"/>
<rect x="623.20" y="150.86" width="1.3" height="1.3" fill="#e2545b" opacity="0.62"/>
<rect x="624.59" y="155.41" width="1.3" height="1.3" fill="#e2545b" opacity="0.62"/>
<rect x="649.88" y="147.34" width="1.3" height="1.3" fill="#e2545b" opacity="0.62"/>
<rect x="626.11" y="160.07" width="1.3" height="1.3" fill="#e2545b" opacity="0.62"/>
<rect x="627.93" y="140.27" width="1.3" height="1.3" fill="#e2545b" opacity="0.62"/>
<rect x="654.90" y="143.10" width="1.3" height="1.3" fill="#e2545b" opacity="0.62"/>
<rect x="614.22" y="133.17" width="1.3" height="1.3" fill="#e2545b" opacity="0.62"/>
<rect x="638.09" y="133.43" width="1.3" height="1.3" fill="#e2545b" opacity="0.62"/>
<rect x="618.66" y="123.17" width="1.3" height="1.3" fill="#e2545b" opacity="0.62"/>
<rect x="640.28" y="112.20" width="1.3" height="1.3" fill="#e2545b" opacity="0.62"/>
<rect x="632.33" y="119.11" width="1.3" height="1.3" fill="#e2545b" opacity="0.62"/>
<rect x="634.21" y="104.94" width="1.3" height="1.3" fill="#e2545b" opacity="0.62"/>
<rect x="652.76" y="115.85" width="1.3" height="1.3" fill="#e2545b" opacity="0.62"/>
<rect x="605.61" y="114.03" width="1.3" height="1.3" fill="#e2545b" opacity="0.62"/>
<rect x="647.93" y="132.65" width="1.3" height="1.3" fill="#e2545b" opacity="0.62"/>
<rect x="648.61" y="147.60" width="1.3" height="1.3" fill="#e2545b" opacity="0.62"/>
<rect x="624.11" y="137.76" width="1.3" height="1.3" fill="#e2545b" opacity="0.62"/>
<rect x="638.91" y="122.15" width="1.3" height="1.3" fill="#e2545b" opacity="0.62"/>
<rect x="638.35" y="116.29" width="1.3" height="1.3" fill="#e2545b" opacity="0.62"/>
<rect x="638.34" y="119.63" width="1.3" height="1.3" fill="#e2545b" opacity="0.62"/>
<rect x="648.69" y="114.94" width="1.3" height="1.3" fill="#e2545b" opacity="0.62"/>
<rect x="638.88" y="145.95" width="1.3" height="1.3" fill="#e2545b" opacity="0.62"/>
<rect x="648.82" y="132.41" width="1.3" height="1.3" fill="#e2545b" opacity="0.62"/>
<rect x="645.87" y="107.02" width="1.3" height="1.3" fill="#e2545b" opacity="0.62"/>
<rect x="635.57" y="108.02" width="1.3" height="1.3" fill="#e2545b" opacity="0.62"/>
<rect x="649.48" y="123.66" width="1.3" height="1.3" fill="#e2545b" opacity="0.62"/>
<rect x="630.61" y="134.57" width="1.3" height="1.3" fill="#e2545b" opacity="0.62"/>
<rect x="656.35" y="120.90" width="1.3" height="1.3" fill="#e2545b" opacity="0.62"/>
<rect x="636.60" y="139.77" width="1.3" height="1.3" fill="#e2545b" opacity="0.62"/>
<rect x="643.37" y="121.52" width="1.3" height="1.3" fill="#e2545b" opacity="0.62"/>
<rect x="639.52" y="142.21" width="1.3" height="1.3" fill="#e2545b" opacity="0.62"/>
<rect x="636.63" y="114.22" width="1.3" height="1.3" fill="#e2545b" opacity="0.62"/>
<rect x="621.87" y="145.34" width="1.3" height="1.3" fill="#e2545b" opacity="0.62"/>
<rect x="641.21" y="103.40" width="1.3" height="1.3" fill="#e2545b" opacity="0.62"/>
<rect x="613.17" y="119.59" width="1.3" height="1.3" fill="#e2545b" opacity="0.62"/>
<rect x="631.31" y="111.40" width="1.3" height="1.3" fill="#e2545b" opacity="0.62"/>
<rect x="644.19" y="146.95" width="1.3" height="1.3" fill="#e2545b" opacity="0.62"/>
<rect x="630.76" y="135.53" width="1.3" height="1.3" fill="#e2545b" opacity="0.62"/>
<rect x="640.35" y="104.86" width="1.3" height="1.3" fill="#e2545b" opacity="0.62"/>
<rect x="632.73" y="143.30" width="1.3" height="1.3" fill="#e2545b" opacity="0.62"/>
<rect x="623.01" y="140.45" width="1.3" height="1.3" fill="#e2545b" opacity="0.62"/>
<rect x="640.45" y="143.78" width="1.3" height="1.3" fill="#e2545b" opacity="0.62"/>
<rect x="647.19" y="145.91" width="1.3" height="1.3" fill="#e2545b" opacity="0.62"/>
<rect x="613.29" y="140.31" width="1.3" height="1.3" fill="#e2545b" opacity="0.62"/>
<rect x="640.89" y="105.89" width="1.3" height="1.3" fill="#e2545b" opacity="0.62"/>
<rect x="650.37" y="116.21" width="1.3" height="1.3" fill="#e2545b" opacity="0.62"/>
<rect x="631.81" y="134.68" width="1.3" height="1.3" fill="#e2545b" opacity="0.62"/>
<rect x="648.10" y="149.71" width="1.3" height="1.3" fill="#e2545b" opacity="0.62"/>
<rect x="630.11" y="160.55" width="1.3" height="1.3" fill="#e2545b" opacity="0.62"/>
<rect x="628.33" y="137.34" width="1.3" height="1.3" fill="#e2545b" opacity="0.62"/>
<rect x="643.12" y="135.68" width="1.3" height="1.3" fill="#e2545b" opacity="0.62"/>
<rect x="640.54" y="145.58" width="1.3" height="1.3" fill="#e2545b" opacity="0.62"/>
<rect x="627.15" y="158.92" width="1.3" height="1.3" fill="#e2545b" opacity="0.62"/>
<rect x="620.59" y="149.99" width="1.3" height="1.3" fill="#e2545b" opacity="0.62"/>
<rect x="634.61" y="143.63" width="1.3" height="1.3" fill="#e2545b" opacity="0.62"/>
<rect x="642.10" y="155.93" width="1.3" height="1.3" fill="#e2545b" opacity="0.62"/>
<rect x="631.91" y="132.80" width="1.3" height="1.3" fill="#e2545b" opacity="0.62"/>
<rect x="643.51" y="137.05" width="1.3" height="1.3" fill="#e2545b" opacity="0.62"/>
<rect x="619.53" y="133.18" width="1.3" height="1.3" fill="#e2545b" opacity="0.62"/>
<rect x="662.72" y="119.36" width="1.3" height="1.3" fill="#e2545b" opacity="0.62"/>
<rect x="618.11" y="152.61" width="1.3" height="1.3" fill="#e2545b" opacity="0.62"/>
<rect x="614.06" y="143.63" width="1.3" height="1.3" fill="#e2545b" opacity="0.62"/>
<rect x="637.21" y="157.87" width="1.3" height="1.3" fill="#e2545b" opacity="0.62"/>
<rect x="630.72" y="122.55" width="1.3" height="1.3" fill="#e2545b" opacity="0.62"/>
<rect x="641.50" y="131.88" width="1.3" height="1.3" fill="#e2545b" opacity="0.62"/>
<rect x="651.19" y="135.87" width="1.3" height="1.3" fill="#e2545b" opacity="0.62"/>
<rect x="658.81" y="121.84" width="1.3" height="1.3" fill="#e2545b" opacity="0.62"/>
<rect x="660.34" y="128.49" width="1.3" height="1.3" fill="#e2545b" opacity="0.62"/>
<rect x="629.94" y="158.67" width="1.3" height="1.3" fill="#e2545b" opacity="0.62"/>
<rect x="633.82" y="130.31" width="1.3" height="1.3" fill="#e2545b" opacity="0.62"/>
<rect x="630.62" y="121.24" width="1.3" height="1.3" fill="#e2545b" opacity="0.62"/>
<rect x="652.01" y="117.30" width="1.3" height="1.3" fill="#e2545b" opacity="0.62"/>
<rect x="634.04" y="143.99" width="1.3" height="1.3" fill="#e2545b" opacity="0.62"/>
<rect x="644.55" y="134.53" width="1.3" height="1.3" fill="#e2545b" opacity="0.62"/>
<rect x="631.86" y="115.14" width="1.3" height="1.3" fill="#e2545b" opacity="0.62"/>
<rect x="657.31" y="132.14" width="1.3" height="1.3" fill="#e2545b" opacity="0.62"/>
<rect x="600.23" y="157.40" width="1.3" height="1.3" fill="#e2545b" opacity="0.62"/>
<rect x="656.21" y="139.02" width="1.3" height="1.3" fill="#e2545b" opacity="0.62"/>
<rect x="633.91" y="113.38" width="1.3" height="1.3" fill="#e2545b" opacity="0.62"/>
<rect x="628.51" y="157.82" width="1.3" height="1.3" fill="#e2545b" opacity="0.62"/>
<rect x="652.47" y="110.44" width="1.3" height="1.3" fill="#e2545b" opacity="0.62"/>
<rect x="631.14" y="157.22" width="1.3" height="1.3" fill="#e2545b" opacity="0.62"/>
<rect x="648.43" y="106.66" width="1.3" height="1.3" fill="#e2545b" opacity="0.62"/>
<rect x="616.76" y="142.89" width="1.3" height="1.3" fill="#e2545b" opacity="0.62"/>
<rect x="633.51" y="125.29" width="1.3" height="1.3" fill="#e2545b" opacity="0.62"/>
<rect x="599.16" y="156.87" width="1.3" height="1.3" fill="#e2545b" opacity="0.62"/>
<rect x="650.27" y="140.35" width="1.3" height="1.3" fill="#e2545b" opacity="0.62"/>
<rect x="630.67" y="147.03" width="1.3" height="1.3" fill="#e2545b" opacity="0.62"/>
<rect x="621.65" y="127.76" width="1.3" height="1.3" fill="#e2545b" opacity="0.62"/>
<rect x="616.71" y="150.71" width="1.3" height="1.3" fill="#e2545b" opacity="0.62"/>
<rect x="631.83" y="112.70" width="1.3" height="1.3" fill="#e2545b" opacity="0.62"/>
<rect x="612.61" y="141.86" width="1.3" height="1.3" fill="#e2545b" opacity="0.62"/>
<rect x="639.96" y="133.40" width="1.3" height="1.3" fill="#e2545b" opacity="0.62"/>
<rect x="631.50" y="144.44" width="1.3" height="1.3" fill="#e2545b" opacity="0.62"/>
<rect x="630.47" y="161.01" width="1.3" height="1.3" fill="#e2545b" opacity="0.62"/>
<rect x="628.02" y="151.35" width="1.3" height="1.3" fill="#e2545b" opacity="0.62"/>
<rect x="638.69" y="151.23" width="1.3" height="1.3" fill="#e2545b" opacity="0.62"/>
<rect x="647.37" y="114.14" width="1.3" height="1.3" fill="#e2545b" opacity="0.62"/>
<rect x="645.62" y="122.55" width="1.3" height="1.3" fill="#e2545b" opacity="0.62"/>
<rect x="644.52" y="124.36" width="1.3" height="1.3" fill="#e2545b" opacity="0.62"/>
<rect x="627.84" y="144.15" width="1.3" height="1.3" fill="#e2545b" opacity="0.62"/>
<rect x="609.97" y="138.23" width="1.3" height="1.3" fill="#e2545b" opacity="0.62"/>
<rect x="642.56" y="119.98" width="1.3" height="1.3" fill="#e2545b" opacity="0.62"/>
<rect x="647.23" y="110.72" width="1.3" height="1.3" fill="#e2545b" opacity="0.62"/>
<rect x="655.89" y="119.97" width="1.3" height="1.3" fill="#e2545b" opacity="0.62"/>
<rect x="640.73" y="147.95" width="1.3" height="1.3" fill="#e2545b" opacity="0.62"/>
<rect x="630.33" y="137.06" width="1.3" height="1.3" fill="#e2545b" opacity="0.62"/>
<rect x="643.39" y="118.41" width="1.3" height="1.3" fill="#e2545b" opacity="0.62"/>
<rect x="638.18" y="139.35" width="1.3" height="1.3" fill="#e2545b" opacity="0.62"/>
<rect x="632.11" y="128.33" width="1.3" height="1.3" fill="#e2545b" opacity="0.62"/>
<rect x="630.33" y="125.22" width="1.3" height="1.3" fill="#e2545b" opacity="0.62"/>
<rect x="650.78" y="137.88" width="1.3" height="1.3" fill="#e2545b" opacity="0.62"/>
<rect x="634.24" y="148.68" width="1.3" height="1.3" fill="#e2545b" opacity="0.62"/>
<rect x="635.72" y="138.71" width="1.3" height="1.3" fill="#e2545b" opacity="0.62"/>
<rect x="637.76" y="109.23" width="1.3" height="1.3" fill="#e2545b" opacity="0.62"/>
<rect x="649.92" y="149.62" width="1.3" height="1.3" fill="#e2545b" opacity="0.62"/>
<rect x="612.23" y="143.67" width="1.3" height="1.3" fill="#e2545b" opacity="0.62"/>
<rect x="646.27" y="119.10" width="1.3" height="1.3" fill="#e2545b" opacity="0.62"/>
<rect x="652.92" y="138.71" width="1.3" height="1.3" fill="#e2545b" opacity="0.62"/>
<rect x="648.72" y="129.18" width="1.3" height="1.3" fill="#e2545b" opacity="0.62"/>
<rect x="638.05" y="120.90" width="1.3" height="1.3" fill="#e2545b" opacity="0.62"/>
<rect x="613.28" y="136.22" width="1.3" height="1.3" fill="#e2545b" opacity="0.62"/>
<rect x="639.97" y="158.69" width="1.3" height="1.3" fill="#e2545b" opacity="0.62"/>
<rect x="639.73" y="133.19" width="1.3" height="1.3" fill="#e2545b" opacity="0.62"/>
<rect x="643.05" y="141.17" width="1.3" height="1.3" fill="#e2545b" opacity="0.62"/>
<rect x="645.57" y="142.92" width="1.3" height="1.3" fill="#e2545b" opacity="0.62"/>
<rect x="631.67" y="152.89" width="1.3" height="1.3" fill="#e2545b" opacity="0.62"/>
<rect x="620.08" y="123.94" width="1.3" height="1.3" fill="#e2545b" opacity="0.62"/>
<rect x="650.15" y="144.36" width="1.3" height="1.3" fill="#e2545b" opacity="0.62"/>
<rect x="627.12" y="157.43" width="1.3" height="1.3" fill="#e2545b" opacity="0.62"/>
<rect x="610.64" y="152.32" width="1.3" height="1.3" fill="#e2545b" opacity="0.62"/>
<rect x="634.71" y="160.28" width="1.3" height="1.3" fill="#e2545b" opacity="0.62"/>
<rect x="620.21" y="143.44" width="1.3" height="1.3" fill="#e2545b" opacity="0.62"/>
<rect x="620.98" y="126.34" width="1.3" height="1.3" fill="#e2545b" opacity="0.62"/>
<rect x="605.80" y="144.64" width="1.3" height="1.3" fill="#e2545b" opacity="0.62"/>
<rect x="601.95" y="154.93" width="1.3" height="1.3" fill="#e2545b" opacity="0.62"/>
<rect x="607.31" y="113.96" width="1.3" height="1.3" fill="#e2545b" opacity="0.62"/>
<rect x="632.26" y="149.06" width="1.3" height="1.3" fill="#e2545b" opacity="0.62"/>
<rect x="645.15" y="118.63" width="1.3" height="1.3" fill="#e2545b" opacity="0.62"/>
<rect x="638.94" y="115.79" width="1.3" height="1.3" fill="#e2545b" opacity="0.62"/>
<rect x="638.79" y="111.39" width="1.3" height="1.3" fill="#e2545b" opacity="0.62"/>
<rect x="611.30" y="141.31" width="1.3" height="1.3" fill="#e2545b" opacity="0.62"/>
<rect x="644.80" y="121.82" width="1.3" height="1.3" fill="#e2545b" opacity="0.62"/>
<rect x="638.15" y="134.89" width="1.3" height="1.3" fill="#e2545b" opacity="0.62"/>
<rect x="652.84" y="137.95" width="1.3" height="1.3" fill="#e2545b" opacity="0.62"/>
<rect x="642.14" y="137.17" width="1.3" height="1.3" fill="#e2545b" opacity="0.62"/>
<rect x="655.22" y="108.10" width="1.3" height="1.3" fill="#e2545b" opacity="0.62"/>
<rect x="605.04" y="155.96" width="1.3" height="1.3" fill="#e2545b" opacity="0.62"/>
<rect x="647.23" y="131.35" width="1.3" height="1.3" fill="#e2545b" opacity="0.62"/>
<rect x="610.91" y="147.50" width="1.3" height="1.3" fill="#e2545b" opacity="0.62"/>
<rect x="624.36" y="131.59" width="1.3" height="1.3" fill="#e2545b" opacity="0.62"/>
<rect x="645.39" y="119.10" width="1.3" height="1.3" fill="#e2545b" opacity="0.62"/>
<rect x="639.05" y="114.80" width="1.3" height="1.3" fill="#e2545b" opacity="0.62"/>
<rect x="612.64" y="136.04" width="1.3" height="1.3" fill="#e2545b" opacity="0.62"/>
<rect x="627.25" y="157.75" width="1.3" height="1.3" fill="#e2545b" opacity="0.62"/>
<rect x="646.21" y="113.56" width="1.3" height="1.3" fill="#e2545b" opacity="0.62"/>
<rect x="633.98" y="120.20" width="1.3" height="1.3" fill="#e2545b" opacity="0.62"/>
<rect x="615.05" y="150.14" width="1.3" height="1.3" fill="#e2545b" opacity="0.62"/>
<rect x="615.86" y="155.36" width="1.3" height="1.3" fill="#e2545b" opacity="0.62"/>
<rect x="630.37" y="157.14" width="1.3" height="1.3" fill="#e2545b" opacity="0.62"/>
<rect x="629.83" y="135.76" width="1.3" height="1.3" fill="#e2545b" opacity="0.62"/>
<rect x="615.29" y="149.22" width="1.3" height="1.3" fill="#e2545b" opacity="0.62"/>
<rect x="623.01" y="157.08" width="1.3" height="1.3" fill="#e2545b" opacity="0.62"/>
<rect x="647.05" y="128.79" width="1.3" height="1.3" fill="#e2545b" opacity="0.62"/>
<rect x="626.51" y="125.14" width="1.3" height="1.3" fill="#e2545b" opacity="0.62"/>
<rect x="630.07" y="157.63" width="1.3" height="1.3" fill="#e2545b" opacity="0.62"/>
<rect x="645.57" y="139.60" width="1.3" height="1.3" fill="#e2545b" opacity="0.62"/>
<rect x="629.55" y="132.93" width="1.3" height="1.3" fill="#e2545b" opacity="0.62"/>
<rect x="639.32" y="121.23" width="1.3" height="1.3" fill="#e2545b" opacity="0.62"/>
<rect x="643.99" y="132.49" width="1.3" height="1.3" fill="#e2545b" opacity="0.62"/>
<rect x="620.98" y="153.54" width="1.3" height="1.3" fill="#e2545b" opacity="0.62"/>
<rect x="636.49" y="118.07" width="1.3" height="1.3" fill="#e2545b" opacity="0.62"/>
<rect x="606.21" y="153.95" width="1.3" height="1.3" fill="#e2545b" opacity="0.62"/>
<rect x="643.00" y="156.71" width="1.3" height="1.3" fill="#e2545b" opacity="0.62"/>
<rect x="648.36" y="147.56" width="1.3" height="1.3" fill="#e2545b" opacity="0.62"/>
<rect x="623.86" y="126.49" width="1.3" height="1.3" fill="#e2545b" opacity="0.62"/>
<rect x="661.55" y="129.23" width="1.3" height="1.3" fill="#e2545b" opacity="0.62"/>
<rect x="653.54" y="141.34" width="1.3" height="1.3" fill="#e2545b" opacity="0.62"/>
<rect x="637.88" y="151.21" width="1.3" height="1.3" fill="#e2545b" opacity="0.62"/>
<rect x="629.47" y="128.23" width="1.3" height="1.3" fill="#e2545b" opacity="0.62"/>
<rect x="616.66" y="123.51" width="1.3" height="1.3" fill="#e2545b" opacity="0.62"/>
<rect x="632.91" y="112.09" width="1.3" height="1.3" fill="#e2545b" opacity="0.62"/>
<rect x="639.25" y="126.03" width="1.3" height="1.3" fill="#e2545b" opacity="0.62"/>
<rect x="636.61" y="136.66" width="1.3" height="1.3" fill="#e2545b" opacity="0.62"/>
<rect x="609.47" y="135.72" width="1.3" height="1.3" fill="#e2545b" opacity="0.62"/>
<rect x="632.17" y="114.38" width="1.3" height="1.3" fill="#e2545b" opacity="0.62"/>
<rect x="628.32" y="154.12" width="1.3" height="1.3" fill="#e2545b" opacity="0.62"/>
<rect x="642.38" y="122.57" width="1.3" height="1.3" fill="#e2545b" opacity="0.62"/>
<rect x="613.86" y="141.31" width="1.3" height="1.3" fill="#e2545b" opacity="0.62"/>
<rect x="636.10" y="120.64" width="1.3" height="1.3" fill="#e2545b" opacity="0.62"/>
<rect x="630.32" y="127.41" width="1.3" height="1.3" fill="#e2545b" opacity="0.62"/>
<rect x="641.37" y="156.74" width="1.3" height="1.3" fill="#e2545b" opacity="0.62"/>
<rect x="623.36" y="135.57" width="1.3" height="1.3" fill="#e2545b" opacity="0.62"/>
<rect x="636.75" y="143.61" width="1.3" height="1.3" fill="#e2545b" opacity="0.62"/>
<rect x="614.21" y="117.46" width="1.3" height="1.3" fill="#e2545b" opacity="0.62"/>
<rect x="607.26" y="144.47" width="1.3" height="1.3" fill="#e2545b" opacity="0.62"/>
<rect x="615.39" y="132.66" width="1.3" height="1.3" fill="#e2545b" opacity="0.62"/>
<rect x="647.01" y="126.76" width="1.3" height="1.3" fill="#e2545b" opacity="0.62"/>
<rect x="646.90" y="111.61" width="1.3" height="1.3" fill="#e2545b" opacity="0.62"/>
<rect x="647.61" y="129.46" width="1.3" height="1.3" fill="#e2545b" opacity="0.62"/>
<rect x="632.33" y="106.74" width="1.3" height="1.3" fill="#e2545b" opacity="0.62"/>
<rect x="627.29" y="130.90" width="1.3" height="1.3" fill="#e2545b" opacity="0.62"/>
<rect x="613.44" y="149.58" width="1.3" height="1.3" fill="#e2545b" opacity="0.62"/>
<rect x="652.29" y="147.26" width="1.3" height="1.3" fill="#e2545b" opacity="0.62"/>
<rect x="627.40" y="132.64" width="1.3" height="1.3" fill="#e2545b" opacity="0.62"/>
<rect x="624.97" y="131.05" width="1.3" height="1.3" fill="#e2545b" opacity="0.62"/>
<rect x="620.03" y="131.27" width="1.3" height="1.3" fill="#e2545b" opacity="0.62"/>
<rect x="606.54" y="143.82" width="1.3" height="1.3" fill="#e2545b" opacity="0.62"/>
<rect x="655.00" y="123.55" width="1.3" height="1.3" fill="#e2545b" opacity="0.62"/>
<rect x="623.92" y="131.12" width="1.3" height="1.3" fill="#e2545b" opacity="0.62"/>
<rect x="635.79" y="155.58" width="1.3" height="1.3" fill="#e2545b" opacity="0.62"/>
<rect x="641.62" y="157.37" width="1.3" height="1.3" fill="#e2545b" opacity="0.62"/>
<rect x="614.58" y="151.68" width="1.3" height="1.3" fill="#e2545b" opacity="0.62"/>
<rect x="637.84" y="116.12" width="1.3" height="1.3" fill="#e2545b" opacity="0.62"/>
<rect x="660.22" y="132.68" width="1.3" height="1.3" fill="#e2545b" opacity="0.62"/>
<rect x="620.11" y="135.93" width="1.3" height="1.3" fill="#e2545b" opacity="0.62"/>
<rect x="635.65" y="119.85" width="1.3" height="1.3" fill="#e2545b" opacity="0.62"/>
<rect x="634.78" y="162.20" width="1.3" height="1.3" fill="#e2545b" opacity="0.62"/>
<rect x="646.34" y="118.61" width="1.3" height="1.3" fill="#e2545b" opacity="0.62"/>
<rect x="645.35" y="140.39" width="1.3" height="1.3" fill="#e2545b" opacity="0.62"/>
<rect x="623.07" y="143.86" width="1.3" height="1.3" fill="#e2545b" opacity="0.62"/>
<rect x="623.58" y="150.70" width="1.3" height="1.3" fill="#e2545b" opacity="0.62"/>
<rect x="624.43" y="153.37" width="1.3" height="1.3" fill="#e2545b" opacity="0.62"/>
<rect x="605.87" y="156.53" width="1.3" height="1.3" fill="#e2545b" opacity="0.62"/>
<rect x="613.97" y="156.97" width="1.3" height="1.3" fill="#e2545b" opacity="0.62"/>
<rect x="657.23" y="117.30" width="1.3" height="1.3" fill="#e2545b" opacity="0.62"/>
<rect x="618.60" y="133.05" width="1.3" height="1.3" fill="#e2545b" opacity="0.62"/>
<rect x="616.43" y="149.36" width="1.3" height="1.3" fill="#e2545b" opacity="0.62"/>
<rect x="620.95" y="156.22" width="1.3" height="1.3" fill="#e2545b" opacity="0.62"/>
<rect x="626.96" y="145.14" width="1.3" height="1.3" fill="#e2545b" opacity="0.62"/>
<rect x="650.12" y="145.81" width="1.3" height="1.3" fill="#e2545b" opacity="0.62"/>
<rect x="650.25" y="123.40" width="1.3" height="1.3" fill="#e2545b" opacity="0.62"/>
<rect x="658.60" y="112.79" width="1.3" height="1.3" fill="#e2545b" opacity="0.62"/>
<rect x="629.02" y="142.29" width="1.3" height="1.3" fill="#e2545b" opacity="0.62"/>
<rect x="633.27" y="124.52" width="1.3" height="1.3" fill="#e2545b" opacity="0.62"/>
<rect x="632.90" y="148.68" width="1.3" height="1.3" fill="#e2545b" opacity="0.62"/>
<rect x="650.18" y="111.15" width="1.3" height="1.3" fill="#e2545b" opacity="0.62"/>
<rect x="655.19" y="114.62" width="1.3" height="1.3" fill="#e2545b" opacity="0.62"/>
<rect x="654.68" y="120.94" width="1.3" height="1.3" fill="#e2545b" opacity="0.62"/>
<rect x="624.25" y="147.78" width="1.3" height="1.3" fill="#e2545b" opacity="0.62"/>
<rect x="637.39" y="154.48" width="1.3" height="1.3" fill="#e2545b" opacity="0.62"/>
<rect x="631.76" y="133.12" width="1.3" height="1.3" fill="#e2545b" opacity="0.62"/>
<rect x="612.94" y="155.38" width="1.3" height="1.3" fill="#e2545b" opacity="0.62"/>
<rect x="638.68" y="150.75" width="1.3" height="1.3" fill="#e2545b" opacity="0.62"/>
<rect x="640.16" y="148.85" width="1.3" height="1.3" fill="#e2545b" opacity="0.62"/>
<rect x="634.64" y="115.73" width="1.3" height="1.3" fill="#e2545b" opacity="0.62"/>
<rect x="641.29" y="132.72" width="1.3" height="1.3" fill="#e2545b" opacity="0.62"/>
<rect x="629.25" y="141.34" width="1.3" height="1.3" fill="#e2545b" opacity="0.62"/>
<rect x="640.50" y="132.48" width="1.3" height="1.3" fill="#e2545b" opacity="0.62"/>
<rect x="652.34" y="147.23" width="1.3" height="1.3" fill="#e2545b" opacity="0.62"/>
<rect x="647.85" y="114.38" width="1.3" height="1.3" fill="#e2545b" opacity="0.62"/>
<rect x="631.70" y="118.69" width="1.3" height="1.3" fill="#e2545b" opacity="0.62"/>
<rect x="613.32" y="152.80" width="1.3" height="1.3" fill="#e2545b" opacity="0.62"/>
<rect x="656.01" y="127.28" width="1.3" height="1.3" fill="#e2545b" opacity="0.62"/>
<rect x="642.66" y="146.23" width="1.3" height="1.3" fill="#e2545b" opacity="0.62"/>
<rect x="622.09" y="139.39" width="1.3" height="1.3" fill="#e2545b" opacity="0.62"/>
<rect x="608.51" y="143.03" width="1.3" height="1.3" fill="#e2545b" opacity="0.62"/>
<rect x="636.82" y="137.78" width="1.3" height="1.3" fill="#e2545b" opacity="0.62"/>
<rect x="636.78" y="144.99" width="1.3" height="1.3" fill="#e2545b" opacity="0.62"/>
<rect x="627.20" y="126.51" width="1.3" height="1.3" fill="#e2545b" opacity="0.62"/>
<rect x="607.72" y="153.01" width="1.3" height="1.3" fill="#e2545b" opacity="0.62"/>
<rect x="642.47" y="123.48" width="1.3" height="1.3" fill="#e2545b" opacity="0.62"/>
<rect x="646.13" y="119.18" width="1.3" height="1.3" fill="#e2545b" opacity="0.62"/>
<rect x="649.75" y="136.87" width="1.3" height="1.3" fill="#e2545b" opacity="0.62"/>
<rect x="638.38" y="105.61" width="1.3" height="1.3" fill="#e2545b" opacity="0.62"/>
<rect x="650.85" y="120.35" width="1.3" height="1.3" fill="#e2545b" opacity="0.62"/>
<rect x="648.12" y="109.34" width="1.3" height="1.3" fill="#e2545b" opacity="0.62"/>
<rect x="635.66" y="123.59" width="1.3" height="1.3" fill="#e2545b" opacity="0.62"/>
<rect x="630.33" y="120.12" width="1.3" height="1.3" fill="#e2545b" opacity="0.62"/>
<rect x="660.19" y="128.21" width="1.3" height="1.3" fill="#e2545b" opacity="0.62"/>
<rect x="632.87" y="105.56" width="1.3" height="1.3" fill="#e2545b" opacity="0.62"/>
<rect x="656.75" y="113.17" width="1.3" height="1.3" fill="#e2545b" opacity="0.62"/>
<rect x="658.24" y="123.55" width="1.3" height="1.3" fill="#e2545b" opacity="0.62"/>
<rect x="640.97" y="114.39" width="1.3" height="1.3" fill="#e2545b" opacity="0.62"/>
<rect x="631.01" y="122.35" width="1.3" height="1.3" fill="#e2545b" opacity="0.62"/>
<rect x="630.90" y="140.37" width="1.3" height="1.3" fill="#e2545b" opacity="0.62"/>
<rect x="632.97" y="152.55" width="1.3" height="1.3" fill="#e2545b" opacity="0.62"/>
<rect x="632.87" y="114.12" width="1.3" height="1.3" fill="#e2545b" opacity="0.62"/>
<rect x="644.42" y="118.93" width="1.3" height="1.3" fill="#e2545b" opacity="0.62"/>
<rect x="633.06" y="124.99" width="1.3" height="1.3" fill="#e2545b" opacity="0.62"/>
<rect x="629.31" y="145.55" width="1.3" height="1.3" fill="#e2545b" opacity="0.62"/>
<rect x="632.57" y="127.29" width="1.3" height="1.3" fill="#e2545b" opacity="0.62"/>
<rect x="638.07" y="119.24" width="1.3" height="1.3" fill="#e2545b" opacity="0.62"/>
<rect x="645.30" y="128.48" width="1.3" height="1.3" fill="#e2545b" opacity="0.62"/>
<rect x="646.91" y="123.76" width="1.3" height="1.3" fill="#e2545b" opacity="0.62"/>
<rect x="642.17" y="114.31" width="1.3" height="1.3" fill="#e2545b" opacity="0.62"/>
<rect x="631.32" y="132.73" width="1.3" height="1.3" fill="#e2545b" opacity="0.62"/>
<rect x="629.56" y="149.70" width="1.3" height="1.3" fill="#e2545b" opacity="0.62"/>
<rect x="653.08" y="113.90" width="1.3" height="1.3" fill="#e2545b" opacity="0.62"/>
<rect x="619.40" y="110.71" width="1.3" height="1.3" fill="#e2545b" opacity="0.62"/>
<rect x="646.75" y="104.49" width="1.3" height="1.3" fill="#e2545b" opacity="0.62"/>
<rect x="638.02" y="135.07" width="1.3" height="1.3" fill="#e2545b" opacity="0.62"/>
<rect x="636.20" y="134.17" width="1.3" height="1.3" fill="#e2545b" opacity="0.62"/>
<rect x="657.91" y="122.68" width="1.3" height="1.3" fill="#e2545b" opacity="0.62"/>
<rect x="630.94" y="148.56" width="1.3" height="1.3" fill="#e2545b" opacity="0.62"/>
<rect x="646.07" y="122.81" width="1.3" height="1.3" fill="#e2545b" opacity="0.62"/>
<rect x="648.37" y="141.88" width="1.3" height="1.3" fill="#e2545b" opacity="0.62"/>
<rect x="612.48" y="156.17" width="1.3" height="1.3" fill="#e2545b" opacity="0.62"/>
<rect x="630.43" y="135.14" width="1.3" height="1.3" fill="#e2545b" opacity="0.62"/>
<rect x="610.96" y="153.81" width="1.3" height="1.3" fill="#e2545b" opacity="0.62"/>
<rect x="630.51" y="148.28" width="1.3" height="1.3" fill="#e2545b" opacity="0.62"/>
<rect x="656.59" y="134.39" width="1.3" height="1.3" fill="#e2545b" opacity="0.62"/>
<rect x="638.40" y="130.93" width="1.3" height="1.3" fill="#e2545b" opacity="0.62"/>
<rect x="613.79" y="151.81" width="1.3" height="1.3" fill="#e2545b" opacity="0.62"/>
<rect x="638.14" y="159.44" width="1.3" height="1.3" fill="#e2545b" opacity="0.62"/>
<rect x="640.65" y="150.18" width="1.3" height="1.3" fill="#e2545b" opacity="0.62"/>
<rect x="637.19" y="162.28" width="1.3" height="1.3" fill="#e2545b" opacity="0.62"/>
<rect x="643.06" y="154.64" width="1.3" height="1.3" fill="#e2545b" opacity="0.62"/>
<rect x="655.99" y="128.77" width="1.3" height="1.3" fill="#e2545b" opacity="0.62"/>
<rect x="632.79" y="153.96" width="1.3" height="1.3" fill="#e2545b" opacity="0.62"/>
<rect x="648.17" y="126.96" width="1.3" height="1.3" fill="#e2545b" opacity="0.62"/>
<rect x="610.33" y="147.62" width="1.3" height="1.3" fill="#e2545b" opacity="0.62"/>
<rect x="645.58" y="142.32" width="1.3" height="1.3" fill="#e2545b" opacity="0.62"/>
<rect x="631.20" y="157.12" width="1.3" height="1.3" fill="#e2545b" opacity="0.62"/>
<rect x="606.78" y="138.75" width="1.3" height="1.3" fill="#e2545b" opacity="0.62"/>
<rect x="648.81" y="127.76" width="1.3" height="1.3" fill="#e2545b" opacity="0.62"/>
<rect x="629.00" y="135.14" width="1.3" height="1.3" fill="#e2545b" opacity="0.62"/>
<rect x="617.34" y="135.61" width="1.3" height="1.3" fill="#e2545b" opacity="0.62"/>
<rect x="618.57" y="157.80" width="1.3" height="1.3" fill="#e2545b" opacity="0.62"/>
<rect x="646.81" y="137.31" width="1.3" height="1.3" fill="#e2545b" opacity="0.62"/>
<rect x="655.34" y="126.19" width="1.3" height="1.3" fill="#e2545b" opacity="0.62"/>
<rect x="629.98" y="112.54" width="1.3" height="1.3" fill="#e2545b" opacity="0.62"/>
<rect x="647.42" y="128.04" width="1.3" height="1.3" fill="#e2545b" opacity="0.62"/>
<rect x="624.25" y="150.21" width="1.3" height="1.3" fill="#e2545b" opacity="0.62"/>
<rect x="649.22" y="105.40" width="1.3" height="1.3" fill="#e2545b" opacity="0.62"/>
<rect x="621.40" y="157.22" width="1.3" height="1.3" fill="#e2545b" opacity="0.62"/>
<rect x="633.00" y="127.43" width="1.3" height="1.3" fill="#e2545b" opacity="0.62"/>
<rect x="638.53" y="159.03" width="1.3" height="1.3" fill="#e2545b" opacity="0.62"/>
<rect x="606.38" y="107.21" width="1.3" height="1.3" fill="#e2545b" opacity="0.62"/>
<rect x="629.67" y="150.36" width="1.3" height="1.3" fill="#e2545b" opacity="0.62"/>
<rect x="634.74" y="110.91" width="1.3" height="1.3" fill="#e2545b" opacity="0.62"/>
<rect x="647.75" y="106.44" width="1.3" height="1.3" fill="#e2545b" opacity="0.62"/>
<rect x="651.85" y="120.74" width="1.3" height="1.3" fill="#e2545b" opacity="0.62"/>
<rect x="660.13" y="119.82" width="1.3" height="1.3" fill="#e2545b" opacity="0.62"/>
<rect x="649.37" y="132.92" width="1.3" height="1.3" fill="#e2545b" opacity="0.62"/>
<rect x="613.91" y="132.66" width="1.3" height="1.3" fill="#e2545b" opacity="0.62"/>
<rect x="634.65" y="145.64" width="1.3" height="1.3" fill="#e2545b" opacity="0.62"/>
<rect x="621.01" y="140.34" width="1.3" height="1.3" fill="#e2545b" opacity="0.62"/>
<rect x="611.00" y="134.58" width="1.3" height="1.3" fill="#e2545b" opacity="0.62"/>
<rect x="613.95" y="150.98" width="1.3" height="1.3" fill="#e2545b" opacity="0.62"/>
<rect x="635.28" y="116.30" width="1.3" height="1.3" fill="#e2545b" opacity="0.62"/>
<rect x="605.53" y="157.68" width="1.3" height="1.3" fill="#e2545b" opacity="0.62"/>
<rect x="620.67" y="133.28" width="1.3" height="1.3" fill="#e2545b" opacity="0.62"/>
<rect x="655.75" y="142.36" width="1.3" height="1.3" fill="#e2545b" opacity="0.62"/>
<rect x="653.90" y="120.23" width="1.3" height="1.3" fill="#e2545b" opacity="0.62"/>
<rect x="636.76" y="112.25" width="1.3" height="1.3" fill="#e2545b" opacity="0.62"/>
<rect x="640.88" y="115.31" width="1.3" height="1.3" fill="#e2545b" opacity="0.62"/>
<rect x="641.03" y="156.71" width="1.3" height="1.3" fill="#e2545b" opacity="0.62"/>
<rect x="611.36" y="145.57" width="1.3" height="1.3" fill="#e2545b" opacity="0.62"/>
<rect x="630.74" y="114.56" width="1.3" height="1.3" fill="#e2545b" opacity="0.62"/>
<rect x="657.03" y="137.36" width="1.3" height="1.3" fill="#e2545b" opacity="0.62"/>
<rect x="653.68" y="122.65" width="1.3" height="1.3" fill="#e2545b" opacity="0.62"/>
<rect x="623.02" y="158.31" width="1.3" height="1.3" fill="#e2545b" opacity="0.62"/>
<rect x="615.27" y="140.88" width="1.3" height="1.3" fill="#e2545b" opacity="0.62"/>
<rect x="637.14" y="105.34" width="1.3" height="1.3" fill="#e2545b" opacity="0.62"/>
<rect x="637.05" y="151.69" width="1.3" height="1.3" fill="#e2545b" opacity="0.62"/>
<rect x="659.90" y="128.14" width="1.3" height="1.3" fill="#e2545b" opacity="0.62"/>
<rect x="654.35" y="129.96" width="1.3" height="1.3" fill="#e2545b" opacity="0.62"/>
<rect x="638.55" y="153.46" width="1.3" height="1.3" fill="#e2545b" opacity="0.62"/>
<rect x="658.99" y="116.26" width="1.3" height="1.3" fill="#e2545b" opacity="0.62"/>
<rect x="635.68" y="133.68" width="1.3" height="1.3" fill="#e2545b" opacity="0.62"/>
<rect x="618.98" y="154.55" width="1.3" height="1.3" fill="#e2545b" opacity="0.62"/>
<rect x="616.99" y="150.60" width="1.3" height="1.3" fill="#e2545b" opacity="0.62"/>
<rect x="626.15" y="111.21" width="1.3" height="1.3" fill="#e2545b" opacity="0.62"/>
<rect x="663.59" y="117.92" width="1.3" height="1.3" fill="#e2545b" opacity="0.62"/>
<rect x="647.61" y="115.37" width="1.3" height="1.3" fill="#e2545b" opacity="0.62"/>
<rect x="642.38" y="121.77" width="1.3" height="1.3" fill="#e2545b" opacity="0.62"/>
<rect x="647.31" y="123.35" width="1.3" height="1.3" fill="#e2545b" opacity="0.62"/>
<rect x="636.70" y="113.82" width="1.3" height="1.3" fill="#e2545b" opacity="0.62"/>
<rect x="636.55" y="104.72" width="1.3" height="1.3" fill="#e2545b" opacity="0.62"/>
<rect x="637.73" y="131.57" width="1.3" height="1.3" fill="#e2545b" opacity="0.62"/>
<rect x="625.09" y="148.69" width="1.3" height="1.3" fill="#e2545b" opacity="0.62"/>
<rect x="637.93" y="146.25" width="1.3" height="1.3" fill="#e2545b" opacity="0.62"/>
<rect x="628.34" y="126.98" width="1.3" height="1.3" fill="#e2545b" opacity="0.62"/>
<rect x="648.15" y="113.36" width="1.3" height="1.3" fill="#e2545b" opacity="0.62"/>
<rect x="658.09" y="121.52" width="1.3" height="1.3" fill="#e2545b" opacity="0.62"/>
<rect x="649.13" y="105.12" width="1.3" height="1.3" fill="#e2545b" opacity="0.62"/>
<rect x="649.64" y="108.70" width="1.3" height="1.3" fill="#e2545b" opacity="0.62"/>
<rect x="639.70" y="152.60" width="1.3" height="1.3" fill="#e2545b" opacity="0.62"/>
<rect x="651.43" y="149.50" width="1.3" height="1.3" fill="#e2545b" opacity="0.62"/>
<rect x="661.78" y="120.06" width="1.3" height="1.3" fill="#e2545b" opacity="0.62"/>
<rect x="603.07" y="156.12" width="1.3" height="1.3" fill="#e2545b" opacity="0.62"/>
<rect x="655.01" y="129.82" width="1.3" height="1.3" fill="#e2545b" opacity="0.62"/>
<rect x="646.30" y="148.83" width="1.3" height="1.3" fill="#e2545b" opacity="0.62"/>
<rect x="656.20" y="113.87" width="1.3" height="1.3" fill="#e2545b" opacity="0.62"/>
<rect x="652.81" y="134.58" width="1.3" height="1.3" fill="#e2545b" opacity="0.62"/>
<rect x="632.82" y="157.66" width="1.3" height="1.3" fill="#e2545b" opacity="0.62"/>
<rect x="658.87" y="133.48" width="1.3" height="1.3" fill="#e2545b" opacity="0.62"/>
<rect x="606.32" y="140.19" width="1.3" height="1.3" fill="#e2545b" opacity="0.62"/>
<rect x="637.22" y="133.32" width="1.3" height="1.3" fill="#e2545b" opacity="0.62"/>
<rect x="642.56" y="153.14" width="1.3" height="1.3" fill="#e2545b" opacity="0.62"/>
<rect x="664.11" y="121.41" width="1.3" height="1.3" fill="#e2545b" opacity="0.62"/>
<rect x="664.52" y="122.17" width="1.3" height="1.3" fill="#e2545b" opacity="0.62"/>
<rect x="621.64" y="149.14" width="1.3" height="1.3" fill="#e2545b" opacity="0.62"/>
<rect x="619.27" y="140.50" width="1.3" height="1.3" fill="#e2545b" opacity="0.62"/>
<rect x="605.76" y="156.38" width="1.3" height="1.3" fill="#e2545b" opacity="0.62"/>
<rect x="637.05" y="128.21" width="1.3" height="1.3" fill="#e2545b" opacity="0.62"/>
<rect x="653.12" y="129.71" width="1.3" height="1.3" fill="#e2545b" opacity="0.62"/>
<rect x="650.81" y="142.02" width="1.3" height="1.3" fill="#e2545b" opacity="0.62"/>
<rect x="616.66" y="151.25" width="1.3" height="1.3" fill="#e2545b" opacity="0.62"/>
<rect x="624.02" y="148.54" width="1.3" height="1.3" fill="#e2545b" opacity="0.62"/>
<rect x="644.27" y="138.08" width="1.3" height="1.3" fill="#e2545b" opacity="0.62"/>
<rect x="652.57" y="136.49" width="1.3" height="1.3" fill="#e2545b" opacity="0.62"/>
<rect x="635.06" y="118.17" width="1.3" height="1.3" fill="#e2545b" opacity="0.62"/>
<rect x="652.01" y="108.76" width="1.3" height="1.3" fill="#e2545b" opacity="0.62"/>
<rect x="600.25" y="156.52" width="1.3" height="1.3" fill="#e2545b" opacity="0.62"/>
<rect x="615.37" y="132.09" width="1.3" height="1.3" fill="#e2545b" opacity="0.62"/>
<rect x="640.60" y="114.34" width="1.3" height="1.3" fill="#e2545b" opacity="0.62"/>
<rect x="635.47" y="162.62" width="1.3" height="1.3" fill="#e2545b" opacity="0.62"/>
<rect x="637.96" y="115.01" width="1.3" height="1.3" fill="#e2545b" opacity="0.62"/>
<rect x="642.29" y="143.93" width="1.3" height="1.3" fill="#e2545b" opacity="0.62"/>
<rect x="646.43" y="116.83" width="1.3" height="1.3" fill="#e2545b" opacity="0.62"/>
<rect x="607.55" y="141.36" width="1.3" height="1.3" fill="#e2545b" opacity="0.62"/>
<rect x="617.77" y="139.77" width="1.3" height="1.3" fill="#e2545b" opacity="0.62"/>
<rect x="649.32" y="104.12" width="1.3" height="1.3" fill="#e2545b" opacity="0.62"/>
<rect x="625.52" y="137.86" width="1.3" height="1.3" fill="#e2545b" opacity="0.62"/>
<rect x="620.30" y="156.85" width="1.3" height="1.3" fill="#e2545b" opacity="0.62"/>
<rect x="628.42" y="137.57" width="1.3" height="1.3" fill="#e2545b" opacity="0.62"/>
<rect x="634.81" y="126.29" width="1.3" height="1.3" fill="#e2545b" opacity="0.62"/>
<rect x="649.86" y="104.49" width="1.3" height="1.3" fill="#e2545b" opacity="0.62"/>
<rect x="638.11" y="139.60" width="1.3" height="1.3" fill="#e2545b" opacity="0.62"/>
<rect x="623.98" y="146.78" width="1.3" height="1.3" fill="#e2545b" opacity="0.62"/>
<rect x="658.62" y="118.04" width="1.3" height="1.3" fill="#e2545b" opacity="0.62"/>
<rect x="640.22" y="145.20" width="1.3" height="1.3" fill="#e2545b" opacity="0.62"/>
<rect x="652.81" y="110.83" width="1.3" height="1.3" fill="#e2545b" opacity="0.62"/>
<rect x="620.50" y="140.30" width="1.3" height="1.3" fill="#e2545b" opacity="0.62"/>
<rect x="626.30" y="146.13" width="1.3" height="1.3" fill="#e2545b" opacity="0.62"/>
<rect x="601.81" y="157.96" width="1.3" height="1.3" fill="#e2545b" opacity="0.62"/>
<rect x="621.13" y="153.95" width="1.3" height="1.3" fill="#e2545b" opacity="0.62"/>
<rect x="630.60" y="110.98" width="1.3" height="1.3" fill="#e2545b" opacity="0.62"/>
<rect x="632.86" y="133.11" width="1.3" height="1.3" fill="#e2545b" opacity="0.62"/>
<rect x="649.35" y="112.41" width="1.3" height="1.3" fill="#e2545b" opacity="0.62"/>
<rect x="640.97" y="139.31" width="1.3" height="1.3" fill="#e2545b" opacity="0.62"/>
<rect x="602.81" y="153.64" width="1.3" height="1.3" fill="#e2545b" opacity="0.62"/>
<rect x="640.56" y="142.05" width="1.3" height="1.3" fill="#e2545b" opacity="0.62"/>
<rect x="648.79" y="141.16" width="1.3" height="1.3" fill="#e2545b" opacity="0.62"/>
<rect x="635.67" y="134.32" width="1.3" height="1.3" fill="#e2545b" opacity="0.62"/>
<rect x="645.73" y="127.91" width="1.3" height="1.3" fill="#e2545b" opacity="0.62"/>
<rect x="628.90" y="154.72" width="1.3" height="1.3" fill="#e2545b" opacity="0.62"/>
<rect x="624.31" y="147.39" width="1.3" height="1.3" fill="#e2545b" opacity="0.62"/>
<rect x="613.58" y="139.90" width="1.3" height="1.3" fill="#e2545b" opacity="0.62"/>
<rect x="630.03" y="138.62" width="1.3" height="1.3" fill="#e2545b" opacity="0.62"/>
<rect x="614.35" y="150.89" width="1.3" height="1.3" fill="#e2545b" opacity="0.62"/>
<rect x="652.41" y="125.92" width="1.3" height="1.3" fill="#e2545b" opacity="0.62"/>
<rect x="639.84" y="129.51" width="1.3" height="1.3" fill="#e2545b" opacity="0.62"/>
<rect x="635.00" y="118.69" width="1.3" height="1.3" fill="#e2545b" opacity="0.62"/>
<rect x="605.39" y="155.91" width="1.3" height="1.3" fill="#e2545b" opacity="0.62"/>
<rect x="628.36" y="141.92" width="1.3" height="1.3" fill="#e2545b" opacity="0.62"/>
<rect x="639.67" y="139.70" width="1.3" height="1.3" fill="#e2545b" opacity="0.62"/>
<rect x="657.90" y="118.27" width="1.3" height="1.3" fill="#e2545b" opacity="0.62"/>
<rect x="633.42" y="152.02" width="1.3" height="1.3" fill="#e2545b" opacity="0.62"/>
<rect x="637.59" y="138.86" width="1.3" height="1.3" fill="#e2545b" opacity="0.62"/>
<rect x="646.25" y="133.59" width="1.3" height="1.3" fill="#e2545b" opacity="0.62"/>
<rect x="653.21" y="106.54" width="1.3" height="1.3" fill="#e2545b" opacity="0.62"/>
<rect x="645.41" y="140.83" width="1.3" height="1.3" fill="#e2545b" opacity="0.62"/>
<rect x="641.22" y="135.31" width="1.3" height="1.3" fill="#e2545b" opacity="0.62"/>
<rect x="654.56" y="112.79" width="1.3" height="1.3" fill="#e2545b" opacity="0.62"/>
<rect x="640.89" y="120.98" width="1.3" height="1.3" fill="#e2545b" opacity="0.62"/>
<rect x="650.59" y="128.36" width="1.3" height="1.3" fill="#e2545b" opacity="0.62"/>
<rect x="633.15" y="117.76" width="1.3" height="1.3" fill="#e2545b" opacity="0.62"/>
<rect x="637.99" y="137.39" width="1.3" height="1.3" fill="#e2545b" opacity="0.62"/>
<rect x="628.51" y="161.42" width="1.3" height="1.3" fill="#e2545b" opacity="0.62"/>
<rect x="606.98" y="135.07" width="1.3" height="1.3" fill="#e2545b" opacity="0.62"/>
<rect x="646.55" y="113.51" width="1.3" height="1.3" fill="#e2545b" opacity="0.62"/>
<rect x="656.15" y="138.57" width="1.3" height="1.3" fill="#e2545b" opacity="0.62"/>
<rect x="640.68" y="135.75" width="1.3" height="1.3" fill="#e2545b" opacity="0.62"/>
<rect x="620.48" y="139.91" width="1.3" height="1.3" fill="#e2545b" opacity="0.62"/>
<rect x="649.53" y="137.68" width="1.3" height="1.3" fill="#e2545b" opacity="0.62"/>
<rect x="612.16" y="110.01" width="1.3" height="1.3" fill="#e2545b" opacity="0.62"/>
<rect x="611.64" y="133.83" width="1.3" height="1.3" fill="#e2545b" opacity="0.62"/>
<rect x="656.24" y="132.32" width="1.3" height="1.3" fill="#e2545b" opacity="0.62"/>
<rect x="630.73" y="112.30" width="1.3" height="1.3" fill="#e2545b" opacity="0.62"/>
<rect x="644.25" y="126.58" width="1.3" height="1.3" fill="#e2545b" opacity="0.62"/>
<rect x="647.35" y="125.67" width="1.3" height="1.3" fill="#e2545b" opacity="0.62"/>
<rect x="633.36" y="143.14" width="1.3" height="1.3" fill="#e2545b" opacity="0.62"/>
<rect x="637.36" y="138.96" width="1.3" height="1.3" fill="#e2545b" opacity="0.62"/>
<rect x="599.18" y="157.53" width="1.3" height="1.3" fill="#e2545b" opacity="0.62"/>
<rect x="625.16" y="139.54" width="1.3" height="1.3" fill="#e2545b" opacity="0.62"/>
<rect x="628.30" y="156.76" width="1.3" height="1.3" fill="#e2545b" opacity="0.62"/>
<rect x="649.15" y="125.38" width="1.3" height="1.3" fill="#e2545b" opacity="0.62"/>
<rect x="642.18" y="115.43" width="1.3" height="1.3" fill="#e2545b" opacity="0.62"/>
<rect x="611.05" y="144.30" width="1.3" height="1.3" fill="#e2545b" opacity="0.62"/>
<rect x="644.61" y="142.07" width="1.3" height="1.3" fill="#e2545b" opacity="0.62"/>
<rect x="620.17" y="141.82" width="1.3" height="1.3" fill="#e2545b" opacity="0.62"/>
<rect x="633.98" y="131.57" width="1.3" height="1.3" fill="#e2545b" opacity="0.62"/>
<rect x="626.23" y="125.91" width="1.3" height="1.3" fill="#e2545b" opacity="0.62"/>
<rect x="644.40" y="148.37" width="1.3" height="1.3" fill="#e2545b" opacity="0.62"/>
<rect x="639.44" y="132.18" width="1.3" height="1.3" fill="#e2545b" opacity="0.62"/>
<rect x="609.33" y="108.84" width="1.3" height="1.3" fill="#e2545b" opacity="0.62"/>
<rect x="638.55" y="132.57" width="1.3" height="1.3" fill="#e2545b" opacity="0.62"/>
<rect x="636.74" y="119.71" width="1.3" height="1.3" fill="#e2545b" opacity="0.62"/>
<rect x="648.35" y="104.02" width="1.3" height="1.3" fill="#e2545b" opacity="0.62"/>
<rect x="628.80" y="134.35" width="1.3" height="1.3" fill="#e2545b" opacity="0.62"/>
<rect x="623.21" y="120.60" width="1.3" height="1.3" fill="#e2545b" opacity="0.62"/>
<rect x="635.00" y="161.32" width="1.3" height="1.3" fill="#e2545b" opacity="0.62"/>
<rect x="646.66" y="116.48" width="1.3" height="1.3" fill="#e2545b" opacity="0.62"/>
<rect x="624.56" y="139.91" width="1.3" height="1.3" fill="#e2545b" opacity="0.62"/>
<rect x="629.37" y="156.82" width="1.3" height="1.3" fill="#e2545b" opacity="0.62"/>
<rect x="615.39" y="153.32" width="1.3" height="1.3" fill="#e2545b" opacity="0.62"/>
<rect x="616.85" y="138.52" width="1.3" height="1.3" fill="#e2545b" opacity="0.62"/>
<rect x="634.81" y="116.59" width="1.3" height="1.3" fill="#e2545b" opacity="0.62"/>
<rect x="635.26" y="118.48" width="1.3" height="1.3" fill="#e2545b" opacity="0.62"/>
<rect x="653.36" y="116.73" width="1.3" height="1.3" fill="#e2545b" opacity="0.62"/>
<rect x="652.30" y="113.82" width="1.3" height="1.3" fill="#e2545b" opacity="0.62"/>
<rect x="614.84" y="133.56" width="1.3" height="1.3" fill="#e2545b" opacity="0.62"/>
<rect x="620.41" y="143.31" width="1.3" height="1.3" fill="#e2545b" opacity="0.62"/>
<rect x="617.37" y="112.54" width="1.3" height="1.3" fill="#e2545b" opacity="0.62"/>
<rect x="632.01" y="111.75" width="1.3" height="1.3" fill="#e2545b" opacity="0.62"/>
<rect x="633.17" y="141.69" width="1.3" height="1.3" fill="#e2545b" opacity="0.62"/>
<rect x="647.93" y="116.93" width="1.3" height="1.3" fill="#e2545b" opacity="0.62"/>
<rect x="630.45" y="109.56" width="1.3" height="1.3" fill="#e2545b" opacity="0.62"/>
<rect x="609.27" y="146.87" width="1.3" height="1.3" fill="#e2545b" opacity="0.62"/>
<rect x="647.68" y="103.36" width="1.3" height="1.3" fill="#e2545b" opacity="0.62"/>
<rect x="635.25" y="114.24" width="1.3" height="1.3" fill="#e2545b" opacity="0.62"/>
<rect x="643.84" y="109.95" width="1.3" height="1.3" fill="#e2545b" opacity="0.62"/>
<rect x="630.26" y="134.30" width="1.3" height="1.3" fill="#e2545b" opacity="0.62"/>
<rect x="604.42" y="142.16" width="1.3" height="1.3" fill="#e2545b" opacity="0.62"/>
<rect x="647.41" y="131.69" width="1.3" height="1.3" fill="#e2545b" opacity="0.62"/>
<rect x="638.34" y="158.62" width="1.3" height="1.3" fill="#e2545b" opacity="0.62"/>
<rect x="640.99" y="144.96" width="1.3" height="1.3" fill="#e2545b" opacity="0.62"/>
<rect x="629.38" y="161.63" width="1.3" height="1.3" fill="#e2545b" opacity="0.62"/>
<rect x="652.25" y="123.64" width="1.3" height="1.3" fill="#e2545b" opacity="0.62"/>
<rect x="635.05" y="155.51" width="1.3" height="1.3" fill="#e2545b" opacity="0.62"/>
<rect x="609.48" y="157.87" width="1.3" height="1.3" fill="#e2545b" opacity="0.62"/>
<rect x="656.78" y="109.86" width="1.3" height="1.3" fill="#e2545b" opacity="0.62"/>
<rect x="615.95" y="142.63" width="1.3" height="1.3" fill="#e2545b" opacity="0.62"/>
<rect x="603.86" y="155.94" width="1.3" height="1.3" fill="#e2545b" opacity="0.62"/>
<rect x="649.89" y="136.60" width="1.3" height="1.3" fill="#e2545b" opacity="0.62"/>
<rect x="652.01" y="110.78" width="1.3" height="1.3" fill="#e2545b" opacity="0.62"/>
<rect x="656.94" y="135.61" width="1.3" height="1.3" fill="#e2545b" opacity="0.62"/>
<rect x="624.12" y="152.75" width="1.3" height="1.3" fill="#e2545b" opacity="0.62"/>
<rect x="646.42" y="104.36" width="1.3" height="1.3" fill="#e2545b" opacity="0.62"/>
<rect x="636.80" y="115.64" width="1.3" height="1.3" fill="#e2545b" opacity="0.62"/>
<rect x="626.09" y="128.19" width="1.3" height="1.3" fill="#e2545b" opacity="0.62"/>
<rect x="646.42" y="141.78" width="1.3" height="1.3" fill="#e2545b" opacity="0.62"/>
<rect x="648.44" y="141.20" width="1.3" height="1.3" fill="#e2545b" opacity="0.62"/>
<rect x="642.45" y="151.03" width="1.3" height="1.3" fill="#e2545b" opacity="0.62"/>
<rect x="646.54" y="128.61" width="1.3" height="1.3" fill="#e2545b" opacity="0.62"/>
<rect x="634.76" y="113.84" width="1.3" height="1.3" fill="#e2545b" opacity="0.62"/>
<rect x="640.19" y="131.30" width="1.3" height="1.3" fill="#e2545b" opacity="0.62"/>
<rect x="646.47" y="151.28" width="1.3" height="1.3" fill="#e2545b" opacity="0.62"/>
<rect x="653.53" y="144.63" width="1.3" height="1.3" fill="#e2545b" opacity="0.62"/>
<rect x="644.19" y="114.26" width="1.3" height="1.3" fill="#e2545b" opacity="0.62"/>
<rect x="623.28" y="134.52" width="1.3" height="1.3" fill="#e2545b" opacity="0.62"/>
<rect x="626.27" y="150.21" width="1.3" height="1.3" fill="#e2545b" opacity="0.62"/>
<rect x="633.22" y="140.60" width="1.3" height="1.3" fill="#e2545b" opacity="0.62"/>
<rect x="656.16" y="123.60" width="1.3" height="1.3" fill="#e2545b" opacity="0.62"/>
<rect x="640.13" y="108.09" width="1.3" height="1.3" fill="#e2545b" opacity="0.62"/>
<rect x="629.43" y="115.89" width="1.3" height="1.3" fill="#e2545b" opacity="0.62"/>
<rect x="634.00" y="119.94" width="1.3" height="1.3" fill="#e2545b" opacity="0.62"/>
<rect x="646.73" y="140.64" width="1.3" height="1.3" fill="#e2545b" opacity="0.62"/>
<rect x="632.65" y="162.39" width="1.3" height="1.3" fill="#e2545b" opacity="0.62"/>
<rect x="630.58" y="156.01" width="1.3" height="1.3" fill="#e2545b" opacity="0.62"/>
<rect x="639.66" y="140.90" width="1.3" height="1.3" fill="#e2545b" opacity="0.62"/>
<rect x="651.31" y="139.16" width="1.3" height="1.3" fill="#e2545b" opacity="0.62"/>
<rect x="635.99" y="158.64" width="1.3" height="1.3" fill="#e2545b" opacity="0.62"/>
<rect x="635.57" y="139.79" width="1.3" height="1.3" fill="#e2545b" opacity="0.62"/>
<rect x="654.34" y="107.27" width="1.3" height="1.3" fill="#e2545b" opacity="0.62"/>
<rect x="604.83" y="154.73" width="1.3" height="1.3" fill="#e2545b" opacity="0.62"/>
<rect x="626.87" y="157.79" width="1.3" height="1.3" fill="#e2545b" opacity="0.62"/>
<rect x="645.90" y="129.86" width="1.3" height="1.3" fill="#e2545b" opacity="0.62"/>
<rect x="600.19" y="157.63" width="1.3" height="1.3" fill="#e2545b" opacity="0.62"/>
<rect x="650.38" y="110.73" width="1.3" height="1.3" fill="#e2545b" opacity="0.62"/>
<rect x="645.86" y="118.89" width="1.3" height="1.3" fill="#e2545b" opacity="0.62"/>
<rect x="630.07" y="146.55" width="1.3" height="1.3" fill="#e2545b" opacity="0.62"/>
<rect x="614.64" y="150.30" width="1.3" height="1.3" fill="#e2545b" opacity="0.62"/>
<rect x="648.94" y="109.31" width="1.3" height="1.3" fill="#e2545b" opacity="0.62"/>
<rect x="609.15" y="156.28" width="1.3" height="1.3" fill="#e2545b" opacity="0.62"/>
<rect x="634.36" y="106.64" width="1.3" height="1.3" fill="#e2545b" opacity="0.62"/>
<rect x="602.41" y="155.02" width="1.3" height="1.3" fill="#e2545b" opacity="0.62"/>
<rect x="641.09" y="118.22" width="1.3" height="1.3" fill="#e2545b" opacity="0.62"/>
<rect x="622.95" y="134.79" width="1.3" height="1.3" fill="#e2545b" opacity="0.62"/>
<rect x="629.42" y="135.76" width="1.3" height="1.3" fill="#e2545b" opacity="0.62"/>
<rect x="615.86" y="133.31" width="1.3" height="1.3" fill="#e2545b" opacity="0.62"/>
<rect x="626.61" y="130.85" width="1.3" height="1.3" fill="#e2545b" opacity="0.62"/>
<rect x="628.86" y="123.41" width="1.3" height="1.3" fill="#e2545b" opacity="0.62"/>
<rect x="646.04" y="124.98" width="1.3" height="1.3" fill="#e2545b" opacity="0.62"/>
<rect x="632.74" y="147.31" width="1.3" height="1.3" fill="#e2545b" opacity="0.62"/>
<rect x="645.05" y="143.26" width="1.3" height="1.3" fill="#e2545b" opacity="0.62"/>
<rect x="651.27" y="142.57" width="1.3" height="1.3" fill="#e2545b" opacity="0.62"/>
<rect x="645.52" y="146.40" width="1.3" height="1.3" fill="#e2545b" opacity="0.62"/>
<rect x="614.82" y="157.02" width="1.3" height="1.3" fill="#e2545b" opacity="0.62"/>
<rect x="640.11" y="133.30" width="1.3" height="1.3" fill="#e2545b" opacity="0.62"/>
<rect x="641.67" y="123.54" width="1.3" height="1.3" fill="#e2545b" opacity="0.62"/>
<rect x="638.84" y="132.98" width="1.3" height="1.3" fill="#e2545b" opacity="0.62"/>
<rect x="651.22" y="110.66" width="1.3" height="1.3" fill="#e2545b" opacity="0.62"/>
<rect x="631.06" y="108.94" width="1.3" height="1.3" fill="#e2545b" opacity="0.62"/>
<rect x="628.10" y="131.20" width="1.3" height="1.3" fill="#e2545b" opacity="0.62"/>
<rect x="633.48" y="159.98" width="1.3" height="1.3" fill="#e2545b" opacity="0.62"/>
<rect x="663.38" y="126.93" width="1.3" height="1.3" fill="#e2545b" opacity="0.62"/>
<rect x="633.22" y="115.84" width="1.3" height="1.3" fill="#e2545b" opacity="0.62"/>
<rect x="656.02" y="110.71" width="1.3" height="1.3" fill="#e2545b" opacity="0.62"/>
<rect x="658.41" y="129.52" width="1.3" height="1.3" fill="#e2545b" opacity="0.62"/>
<rect x="619.49" y="158.58" width="1.3" height="1.3" fill="#e2545b" opacity="0.62"/>
<rect x="615.14" y="156.32" width="1.3" height="1.3" fill="#e2545b" opacity="0.62"/>
<rect x="657.24" y="121.59" width="1.3" height="1.3" fill="#e2545b" opacity="0.62"/>
<rect x="611.43" y="141.46" width="1.3" height="1.3" fill="#e2545b" opacity="0.62"/>
<rect x="618.81" y="143.62" width="1.3" height="1.3" fill="#e2545b" opacity="0.62"/>
<rect x="615.89" y="137.91" width="1.3" height="1.3" fill="#e2545b" opacity="0.62"/>
<rect x="648.11" y="112.50" width="1.3" height="1.3" fill="#e2545b" opacity="0.62"/>
<rect x="621.69" y="157.11" width="1.3" height="1.3" fill="#e2545b" opacity="0.62"/>
<rect x="632.33" y="122.51" width="1.3" height="1.3" fill="#e2545b" opacity="0.62"/>
<rect x="659.90" y="127.39" width="1.3" height="1.3" fill="#e2545b" opacity="0.62"/>
<rect x="628.88" y="156.78" width="1.3" height="1.3" fill="#e2545b" opacity="0.62"/>
<rect x="649.80" y="113.51" width="1.3" height="1.3" fill="#e2545b" opacity="0.62"/>
<rect x="622.60" y="123.23" width="1.3" height="1.3" fill="#e2545b" opacity="0.62"/>
<rect x="654.91" y="111.65" width="1.3" height="1.3" fill="#e2545b" opacity="0.62"/>
<rect x="621.05" y="139.08" width="1.3" height="1.3" fill="#e2545b" opacity="0.62"/>
<rect x="627.22" y="146.73" width="1.3" height="1.3" fill="#e2545b" opacity="0.62"/>
<rect x="621.88" y="145.22" width="1.3" height="1.3" fill="#e2545b" opacity="0.62"/>
<rect x="611.91" y="150.00" width="1.3" height="1.3" fill="#e2545b" opacity="0.62"/>
<rect x="653.54" y="139.03" width="1.3" height="1.3" fill="#e2545b" opacity="0.62"/>
<rect x="650.21" y="145.21" width="1.3" height="1.3" fill="#e2545b" opacity="0.62"/>
<rect x="647.39" y="107.30" width="1.3" height="1.3" fill="#e2545b" opacity="0.62"/>
<rect x="603.24" y="156.11" width="1.3" height="1.3" fill="#e2545b" opacity="0.62"/>
<rect x="647.80" y="110.81" width="1.3" height="1.3" fill="#e2545b" opacity="0.62"/>
<rect x="645.10" y="140.96" width="1.3" height="1.3" fill="#e2545b" opacity="0.62"/>
<rect x="638.23" y="155.21" width="1.3" height="1.3" fill="#e2545b" opacity="0.62"/>
<rect x="619.50" y="155.36" width="1.3" height="1.3" fill="#e2545b" opacity="0.62"/>
<rect x="625.09" y="143.61" width="1.3" height="1.3" fill="#e2545b" opacity="0.62"/>
<rect x="618.96" y="135.76" width="1.3" height="1.3" fill="#e2545b" opacity="0.62"/>
<rect x="652.98" y="125.39" width="1.3" height="1.3" fill="#e2545b" opacity="0.62"/>
<rect x="659.78" y="133.02" width="1.3" height="1.3" fill="#e2545b" opacity="0.62"/>
<rect x="664.74" y="122.90" width="1.3" height="1.3" fill="#e2545b" opacity="0.62"/>
<rect x="638.88" y="161.17" width="1.3" height="1.3" fill="#e2545b" opacity="0.62"/>
<rect x="632.11" y="149.68" width="1.3" height="1.3" fill="#e2545b" opacity="0.62"/>
<rect x="635.24" y="158.54" width="1.3" height="1.3" fill="#e2545b" opacity="0.62"/>
<rect x="627.01" y="148.52" width="1.3" height="1.3" fill="#e2545b" opacity="0.62"/>
<rect x="611.88" y="147.06" width="1.3" height="1.3" fill="#e2545b" opacity="0.62"/>
<rect x="613.30" y="133.60" width="1.3" height="1.3" fill="#e2545b" opacity="0.62"/>
<rect x="640.19" y="148.11" width="1.3" height="1.3" fill="#e2545b" opacity="0.62"/>
<rect x="631.09" y="128.70" width="1.3" height="1.3" fill="#e2545b" opacity="0.62"/>
<rect x="617.29" y="139.97" width="1.3" height="1.3" fill="#e2545b" opacity="0.62"/>
<rect x="649.42" y="116.99" width="1.3" height="1.3" fill="#e2545b" opacity="0.62"/>
<rect x="605.90" y="145.86" width="1.3" height="1.3" fill="#e2545b" opacity="0.62"/>
<rect x="615.88" y="149.17" width="1.3" height="1.3" fill="#e2545b" opacity="0.62"/>
<rect x="458.38" y="198.02" width="1.2" height="1.2" fill="#e0474c" opacity="0.25"/>
<rect x="520.39" y="165.67" width="1.2" height="1.2" fill="#e0474c" opacity="0.25"/>
<rect x="478.19" y="193.53" width="1.2" height="1.2" fill="#e0474c" opacity="0.25"/>
<rect x="451.15" y="199.28" width="1.2" height="1.2" fill="#e0474c" opacity="0.25"/>
<rect x="450.13" y="159.85" width="1.2" height="1.2" fill="#e0474c" opacity="0.25"/>
<rect x="476.83" y="191.58" width="1.2" height="1.2" fill="#e0474c" opacity="0.25"/>
<rect x="490.51" y="137.69" width="1.2" height="1.2" fill="#e0474c" opacity="0.25"/>
<rect x="505.71" y="180.34" width="1.2" height="1.2" fill="#e0474c" opacity="0.25"/>
<rect x="495.31" y="133.11" width="1.2" height="1.2" fill="#e0474c" opacity="0.25"/>
<rect x="499.20" y="156.21" width="1.2" height="1.2" fill="#e0474c" opacity="0.25"/>
<rect x="428.38" y="121.61" width="1.2" height="1.2" fill="#e0474c" opacity="0.25"/>
<rect x="433.50" y="149.49" width="1.2" height="1.2" fill="#e0474c" opacity="0.25"/>
<rect x="503.86" y="181.06" width="1.2" height="1.2" fill="#e0474c" opacity="0.25"/>
<rect x="474.92" y="194.14" width="1.2" height="1.2" fill="#e0474c" opacity="0.25"/>
<rect x="530.92" y="161.71" width="1.2" height="1.2" fill="#e0474c" opacity="0.25"/>
<rect x="508.33" y="171.14" width="1.2" height="1.2" fill="#e0474c" opacity="0.25"/>
<rect x="509.58" y="142.43" width="1.2" height="1.2" fill="#e0474c" opacity="0.25"/>
<rect x="444.68" y="134.17" width="1.2" height="1.2" fill="#e0474c" opacity="0.25"/>
<rect x="500.76" y="162.02" width="1.2" height="1.2" fill="#e0474c" opacity="0.25"/>
<rect x="514.52" y="123.47" width="1.2" height="1.2" fill="#e0474c" opacity="0.25"/>
<rect x="491.65" y="182.44" width="1.2" height="1.2" fill="#e0474c" opacity="0.25"/>
<rect x="451.10" y="126.19" width="1.2" height="1.2" fill="#e0474c" opacity="0.25"/>
<rect x="454.50" y="169.35" width="1.2" height="1.2" fill="#e0474c" opacity="0.25"/>
<rect x="462.66" y="114.26" width="1.2" height="1.2" fill="#e0474c" opacity="0.25"/>
<rect x="429.94" y="98.48" width="1.2" height="1.2" fill="#e0474c" opacity="0.25"/>
<rect x="458.07" y="158.16" width="1.2" height="1.2" fill="#e0474c" opacity="0.25"/>
<rect x="435.82" y="133.60" width="1.2" height="1.2" fill="#e0474c" opacity="0.25"/>
<rect x="445.96" y="148.70" width="1.2" height="1.2" fill="#e0474c" opacity="0.25"/>
<rect x="527.24" y="158.36" width="1.2" height="1.2" fill="#e0474c" opacity="0.25"/>
<rect x="510.47" y="184.64" width="1.2" height="1.2" fill="#e0474c" opacity="0.25"/>
<rect x="416.71" y="101.76" width="1.2" height="1.2" fill="#e0474c" opacity="0.25"/>
<rect x="518.52" y="147.10" width="1.2" height="1.2" fill="#e0474c" opacity="0.25"/>
<rect x="467.64" y="190.03" width="1.2" height="1.2" fill="#e0474c" opacity="0.25"/>
<rect x="446.98" y="145.69" width="1.2" height="1.2" fill="#e0474c" opacity="0.25"/>
<rect x="516.07" y="172.17" width="1.2" height="1.2" fill="#e0474c" opacity="0.25"/>
<rect x="423.52" y="120.41" width="1.2" height="1.2" fill="#e0474c" opacity="0.25"/>
<rect x="523.90" y="161.17" width="1.2" height="1.2" fill="#e0474c" opacity="0.25"/>
<rect x="465.04" y="194.00" width="1.2" height="1.2" fill="#e0474c" opacity="0.25"/>
<rect x="481.68" y="192.08" width="1.2" height="1.2" fill="#e0474c" opacity="0.25"/>
<rect x="449.44" y="161.22" width="1.2" height="1.2" fill="#e0474c" opacity="0.25"/>
<rect x="498.22" y="149.77" width="1.2" height="1.2" fill="#e0474c" opacity="0.25"/>
<rect x="456.12" y="126.83" width="1.2" height="1.2" fill="#e0474c" opacity="0.25"/>
<rect x="467.62" y="163.40" width="1.2" height="1.2" fill="#e0474c" opacity="0.25"/>
<rect x="418.26" y="108.19" width="1.2" height="1.2" fill="#e0474c" opacity="0.25"/>
<rect x="514.47" y="146.90" width="1.2" height="1.2" fill="#e0474c" opacity="0.25"/>
<rect x="475.49" y="196.91" width="1.2" height="1.2" fill="#e0474c" opacity="0.25"/>
<rect x="470.38" y="165.90" width="1.2" height="1.2" fill="#e0474c" opacity="0.25"/>
<rect x="462.66" y="137.29" width="1.2" height="1.2" fill="#e0474c" opacity="0.25"/>
<rect x="446.63" y="153.26" width="1.2" height="1.2" fill="#e0474c" opacity="0.25"/>
<rect x="464.05" y="197.97" width="1.2" height="1.2" fill="#e0474c" opacity="0.25"/>
<rect x="510.66" y="135.45" width="1.2" height="1.2" fill="#e0474c" opacity="0.25"/>
<rect x="485.26" y="174.26" width="1.2" height="1.2" fill="#e0474c" opacity="0.25"/>
<rect x="465.71" y="151.37" width="1.2" height="1.2" fill="#e0474c" opacity="0.25"/>
<rect x="421.23" y="125.99" width="1.2" height="1.2" fill="#e0474c" opacity="0.25"/>
<rect x="507.27" y="149.17" width="1.2" height="1.2" fill="#e0474c" opacity="0.25"/>
<rect x="453.71" y="171.34" width="1.2" height="1.2" fill="#e0474c" opacity="0.25"/>
<rect x="471.82" y="191.19" width="1.2" height="1.2" fill="#e0474c" opacity="0.25"/>
<rect x="471.24" y="132.91" width="1.2" height="1.2" fill="#e0474c" opacity="0.25"/>
<rect x="453.05" y="172.36" width="1.2" height="1.2" fill="#e0474c" opacity="0.25"/>
<rect x="468.33" y="174.07" width="1.2" height="1.2" fill="#e0474c" opacity="0.25"/>
<rect x="487.64" y="201.73" width="1.2" height="1.2" fill="#e0474c" opacity="0.25"/>
<rect x="483.14" y="149.88" width="1.2" height="1.2" fill="#e0474c" opacity="0.25"/>
<rect x="502.72" y="163.55" width="1.2" height="1.2" fill="#e0474c" opacity="0.25"/>
<rect x="437.01" y="153.53" width="1.2" height="1.2" fill="#e0474c" opacity="0.25"/>
<rect x="472.66" y="147.44" width="1.2" height="1.2" fill="#e0474c" opacity="0.25"/>
<rect x="476.76" y="148.98" width="1.2" height="1.2" fill="#e0474c" opacity="0.25"/>
<rect x="456.76" y="123.14" width="1.2" height="1.2" fill="#e0474c" opacity="0.25"/>
<rect x="439.74" y="92.27" width="1.2" height="1.2" fill="#e0474c" opacity="0.25"/>
<rect x="446.43" y="195.54" width="1.2" height="1.2" fill="#e0474c" opacity="0.25"/>
<rect x="537.73" y="163.26" width="1.2" height="1.2" fill="#e0474c" opacity="0.25"/>
<rect x="484.15" y="202.44" width="1.2" height="1.2" fill="#e0474c" opacity="0.25"/>
<rect x="448.34" y="92.95" width="1.2" height="1.2" fill="#e0474c" opacity="0.25"/>
<rect x="520.11" y="157.87" width="1.2" height="1.2" fill="#e0474c" opacity="0.25"/>
<rect x="524.50" y="126.62" width="1.2" height="1.2" fill="#e0474c" opacity="0.25"/>
<rect x="458.19" y="108.43" width="1.2" height="1.2" fill="#e0474c" opacity="0.25"/>
<rect x="434.58" y="100.92" width="1.2" height="1.2" fill="#e0474c" opacity="0.25"/>
<rect x="491.75" y="180.04" width="1.2" height="1.2" fill="#e0474c" opacity="0.25"/>
<rect x="426.63" y="112.36" width="1.2" height="1.2" fill="#e0474c" opacity="0.25"/>
<rect x="519.03" y="118.59" width="1.2" height="1.2" fill="#e0474c" opacity="0.25"/>
<rect x="518.32" y="157.58" width="1.2" height="1.2" fill="#e0474c" opacity="0.25"/>
<rect x="426.19" y="129.27" width="1.2" height="1.2" fill="#e0474c" opacity="0.25"/>
<rect x="431.55" y="136.14" width="1.2" height="1.2" fill="#e0474c" opacity="0.25"/>
<rect x="429.49" y="124.91" width="1.2" height="1.2" fill="#e0474c" opacity="0.25"/>
<rect x="464.93" y="175.79" width="1.2" height="1.2" fill="#e0474c" opacity="0.25"/>
<rect x="512.16" y="159.35" width="1.2" height="1.2" fill="#e0474c" opacity="0.25"/>
<rect x="420.18" y="99.63" width="1.2" height="1.2" fill="#e0474c" opacity="0.25"/>
<rect x="520.53" y="137.51" width="1.2" height="1.2" fill="#e0474c" opacity="0.25"/>
<rect x="448.38" y="115.09" width="1.2" height="1.2" fill="#e0474c" opacity="0.25"/>
<rect x="427.48" y="117.61" width="1.2" height="1.2" fill="#e0474c" opacity="0.25"/>
<rect x="500.62" y="139.77" width="1.2" height="1.2" fill="#e0474c" opacity="0.25"/>
<rect x="434.59" y="92.73" width="1" height="1" fill="#e0474c" opacity="0.7"/>
<rect x="470.69" y="140.94" width="1" height="1" fill="#e0474c" opacity="0.7"/>
<rect x="508.34" y="173.83" width="1" height="1" fill="#e0474c" opacity="0.7"/>
<rect x="450.82" y="143.59" width="1" height="1" fill="#e0474c" opacity="0.7"/>
<rect x="473.34" y="128.69" width="1" height="1" fill="#e0474c" opacity="0.7"/>
<rect x="440.07" y="109.36" width="1" height="1" fill="#e0474c" opacity="0.7"/>
<rect x="458.13" y="178.17" width="1" height="1" fill="#e0474c" opacity="0.7"/>
<rect x="474.20" y="144.95" width="1" height="1" fill="#e0474c" opacity="0.7"/>
<rect x="480.91" y="119.70" width="1" height="1" fill="#e0474c" opacity="0.7"/>
<rect x="531.38" y="163.37" width="1" height="1" fill="#e0474c" opacity="0.7"/>
<rect x="450.66" y="187.12" width="1" height="1" fill="#e0474c" opacity="0.7"/>
<rect x="488.80" y="163.80" width="1" height="1" fill="#e0474c" opacity="0.7"/>
<rect x="508.26" y="174.74" width="1" height="1" fill="#e0474c" opacity="0.7"/>
<rect x="508.93" y="178.10" width="1" height="1" fill="#e0474c" opacity="0.7"/>
<rect x="453.88" y="192.18" width="1" height="1" fill="#e0474c" opacity="0.7"/>
<rect x="433.89" y="123.70" width="1" height="1" fill="#e0474c" opacity="0.7"/>
<rect x="457.76" y="155.84" width="1" height="1" fill="#e0474c" opacity="0.7"/>
<rect x="446.92" y="166.41" width="1" height="1" fill="#e0474c" opacity="0.7"/>
<rect x="446.04" y="91.82" width="1" height="1" fill="#e0474c" opacity="0.7"/>
<rect x="479.10" y="194.23" width="1" height="1" fill="#e0474c" opacity="0.7"/>
<rect x="467.96" y="114.00" width="1" height="1" fill="#e0474c" opacity="0.7"/>
<rect x="475.09" y="175.72" width="1" height="1" fill="#e0474c" opacity="0.7"/>
<rect x="445.99" y="92.67" width="1" height="1" fill="#e0474c" opacity="0.7"/>
<rect x="443.52" y="159.34" width="1" height="1" fill="#e0474c" opacity="0.7"/>
<rect x="432.94" y="124.79" width="1" height="1" fill="#e0474c" opacity="0.7"/>
<rect x="447.95" y="130.98" width="1" height="1" fill="#e0474c" opacity="0.7"/>
<rect x="509.82" y="132.50" width="1" height="1" fill="#e0474c" opacity="0.7"/>
<rect x="509.17" y="165.90" width="1" height="1" fill="#e0474c" opacity="0.7"/>
<rect x="440.95" y="131.00" width="1" height="1" fill="#e0474c" opacity="0.7"/>
<rect x="472.88" y="131.07" width="1" height="1" fill="#e0474c" opacity="0.7"/>
<rect x="180.3" y="99" width="64.4" height="65.2" fill="none" stroke="#e5383b" stroke-width="1.1"/>
<rect x="597.3" y="98.8" width="73.9" height="67.4" fill="none" stroke="#e5383b" stroke-width="1.1"/>
<rect x="265.0" y="42.3" width="122.7" height="43.9" fill="none" stroke="#e5383b" stroke-width="1.1"/>
<circle cx="270.20" cy="37.40" r="2.8" fill="#b8952f" />
<text x="279.00" y="40.05" font-family="'Liberation Sans', sans-serif" font-size="8.0" fill="#5b6075" text-anchor="start" >NK-FCGR3A</text>
<circle cx="270.20" cy="46.20" r="2.8" fill="#2a3479" />
<text x="279.00" y="48.85" font-family="'Liberation Sans', sans-serif" font-size="8.0" fill="#5b6075" text-anchor="start" >Macrophage-C1QC-C3</text>
<circle cx="270.20" cy="55.00" r="2.8" fill="#1f6a35" />
<text x="279.00" y="57.65" font-family="'Liberation Sans', sans-serif" font-size="8.0" fill="#5b6075" text-anchor="start" >Macrophage-C1QC-PLTP</text>
<circle cx="270.20" cy="63.80" r="2.8" fill="#8b1a1f" />
<text x="279.00" y="66.45" font-family="'Liberation Sans', sans-serif" font-size="8.0" fill="#5b6075" text-anchor="start" >Macrophage-SPP1-ACP5</text>
<circle cx="270.20" cy="72.60" r="2.8" fill="#4f7a2a" />
<text x="279.00" y="75.25" font-family="'Liberation Sans', sans-serif" font-size="8.0" fill="#5b6075" text-anchor="start" >Macrophage-AREG</text>
<circle cx="270.20" cy="81.40" r="2.8" fill="#c2c27a" />
<text x="279.00" y="84.05" font-family="'Liberation Sans', sans-serif" font-size="8.0" fill="#5b6075" text-anchor="start" >Monocyte-FCGR3A-nonClass</text>
<circle cx="270.20" cy="90.20" r="2.8" fill="#8a2aa0" />
<text x="279.00" y="92.85" font-family="'Liberation Sans', sans-serif" font-size="8.0" fill="#5b6075" text-anchor="start" >DC-CD1C-cDC2</text>
<circle cx="270.20" cy="99.00" r="2.8" fill="#42938a" />
<text x="279.00" y="101.65" font-family="'Liberation Sans', sans-serif" font-size="8.0" fill="#5b6075" text-anchor="start" >Fibroblast</text>
<circle cx="270.20" cy="107.80" r="2.8" fill="#e2892e" />
<text x="279.00" y="110.45" font-family="'Liberation Sans', sans-serif" font-size="8.0" fill="#5b6075" text-anchor="start" >Cells with colone mutation</text>
<circle cx="270.20" cy="116.60" r="2.8" fill="#7a44b2" />
<text x="279.00" y="119.25" font-family="'Liberation Sans', sans-serif" font-size="8.0" fill="#5b6075" text-anchor="start" >Endothelial cell</text>
<circle cx="270.20" cy="125.40" r="2.8" fill="#d98e74" />
<text x="279.00" y="128.05" font-family="'Liberation Sans', sans-serif" font-size="8.0" fill="#5b6075" text-anchor="start" >Oligodendrocyte</text>
<circle cx="290.70" cy="140.90" r="0.6" fill="#333" />
<text x="1.20" y="312.90" font-family="'Liberation Sans', sans-serif" font-size="13.5" fill="#231f20" text-anchor="start" textLength="7.8" lengthAdjust="spacingAndGlyphs" >B</text>
<line x1="74.20" y1="308.10" x2="74.20" y2="561.70" stroke="#7d8499" stroke-width="1.2" />
<line x1="67.90" y1="308.10" x2="74.20" y2="308.10" stroke="#7d8499" stroke-width="1.1" />
<line x1="68.20" y1="557.70" x2="74.20" y2="557.70" stroke="#7d8499" stroke-width="1.1" />
<text x="64.20" y="560.60" font-family="'Liberation Sans', sans-serif" font-size="8.6" fill="#6b7186" text-anchor="end" textLength="12.8" lengthAdjust="spacingAndGlyphs" >0.0</text>
<line x1="68.20" y1="520.48" x2="74.20" y2="520.48" stroke="#7d8499" stroke-width="1.1" />
<text x="64.20" y="523.38" font-family="'Liberation Sans', sans-serif" font-size="8.6" fill="#6b7186" text-anchor="end" textLength="12.8" lengthAdjust="spacingAndGlyphs" >0.5</text>
<line x1="68.20" y1="483.25" x2="74.20" y2="483.25" stroke="#7d8499" stroke-width="1.1" />
<text x="64.20" y="486.15" font-family="'Liberation Sans', sans-serif" font-size="8.6" fill="#6b7186" text-anchor="end" textLength="12.8" lengthAdjust="spacingAndGlyphs" >1.0</text>
<line x1="68.20" y1="446.03" x2="74.20" y2="446.03" stroke="#7d8499" stroke-width="1.1" />
<text x="64.20" y="448.93" font-family="'Liberation Sans', sans-serif" font-size="8.6" fill="#6b7186" text-anchor="end" textLength="12.8" lengthAdjust="spacingAndGlyphs" >1.5</text>
<line x1="68.20" y1="408.80" x2="74.20" y2="408.80" stroke="#7d8499" stroke-width="1.1" />
<text x="64.20" y="411.70" font-family="'Liberation Sans', sans-serif" font-size="8.6" fill="#6b7186" text-anchor="end" textLength="12.8" lengthAdjust="spacingAndGlyphs" >2.0</text>
<line x1="68.20" y1="371.58" x2="74.20" y2="371.58" stroke="#7d8499" stroke-width="1.1" />
<text x="64.20" y="374.48" font-family="'Liberation Sans', sans-serif" font-size="8.6" fill="#6b7186" text-anchor="end" textLength="12.8" lengthAdjust="spacingAndGlyphs" >2.5</text>
<line x1="68.20" y1="334.35" x2="74.20" y2="334.35" stroke="#7d8499" stroke-width="1.1" />
<text x="64.20" y="337.25" font-family="'Liberation Sans', sans-serif" font-size="8.6" fill="#6b7186" text-anchor="end" textLength="12.8" lengthAdjust="spacingAndGlyphs" >3.0</text>
<line x1="74.20" y1="557.70" x2="681.00" y2="557.70" stroke="#7d8499" stroke-width="1.4" />
<line x1="681.00" y1="557.70" x2="681.00" y2="561.50" stroke="#7d8499" stroke-width="1.1" />
<text x="36.20" y="520.80" font-family="'Liberation Sans', sans-serif" font-size="18" fill="#231f20" text-anchor="start" font-weight="bold" textLength="151" lengthAdjust="spacingAndGlyphs" transform="rotate(-90 36.20 520.80)" >The expression of IL18</text>
<line x1="108.60" y1="557.70" x2="108.60" y2="561.50" stroke="#7d8499" stroke-width="1.1" />
<line x1="103.00" y1="557.70" x2="114.20" y2="557.70" stroke="#3a6ea5" stroke-width="1.1" />
<ellipse cx="108.60" cy="557.70" rx="2.9" ry="2.3" fill="#3a6ea5"/>
<text x="122.90" y="564.00" font-family="'Liberation Sans', sans-serif" font-size="10" fill="#3a6ea5" text-anchor="end" textLength="52.15" lengthAdjust="spacingAndGlyphs" transform="rotate(-58 122.90 564.00)" >NK-FCGR3A</text>
<line x1="162.30" y1="557.70" x2="162.30" y2="561.50" stroke="#7d8499" stroke-width="1.1" />
<rect x="156.70" y="460.92" width="11.20" height="96.79" fill="#ebb583"/>
<line x1="162.30" y1="336.58" x2="162.30" y2="557.70" stroke="#ee8a3c" stroke-width="1.1" />
<line x1="156.70" y1="336.58" x2="167.90" y2="336.58" stroke="#ee8a3c" stroke-width="1.1" />
<line x1="162.30" y1="460.92" x2="162.30" y2="531.64" stroke="#6a6a6a" stroke-width="1" opacity="0.55"/>
<line x1="156.70" y1="531.64" x2="167.90" y2="531.64" stroke="#ee8a3c" stroke-width="1.1" />
<line x1="156.70" y1="494.42" x2="167.90" y2="494.42" stroke="#ee8a3c" stroke-width="1.1" />
<ellipse cx="162.30" cy="494.42" rx="2.9" ry="2.3" fill="#ee8a3c"/>
<text x="177.70" y="564.10" font-family="'Liberation Sans', sans-serif" font-size="10" fill="#ee8a3c" text-anchor="end" textLength="99.06" lengthAdjust="spacingAndGlyphs" transform="rotate(-58 177.70 564.10)" >Macrophage-C1QC-C3</text>
<line x1="216.00" y1="557.70" x2="216.00" y2="561.50" stroke="#7d8499" stroke-width="1.1" />
<rect x="210.40" y="457.19" width="11.20" height="100.51" fill="#98d598"/>
<line x1="216.00" y1="340.31" x2="216.00" y2="557.70" stroke="#4cae4c" stroke-width="1.1" />
<line x1="210.40" y1="340.31" x2="221.60" y2="340.31" stroke="#4cae4c" stroke-width="1.1" />
<line x1="216.00" y1="457.19" x2="216.00" y2="532.39" stroke="#6a6a6a" stroke-width="1" opacity="0.55"/>
<line x1="210.40" y1="532.39" x2="221.60" y2="532.39" stroke="#4cae4c" stroke-width="1.1" />
<line x1="210.40" y1="490.32" x2="221.60" y2="490.32" stroke="#4cae4c" stroke-width="1.1" />
<ellipse cx="216.00" cy="490.32" rx="2.9" ry="2.3" fill="#4cae4c"/>
<text x="231.50" y="563.10" font-family="'Liberation Sans', sans-serif" font-size="10" fill="#4cae4c" text-anchor="end" textLength="108.9" lengthAdjust="spacingAndGlyphs" transform="rotate(-58 231.50 563.10)" >Macrophage-C1QC-PLTP</text>
<line x1="269.70" y1="557.70" x2="269.70" y2="561.50" stroke="#7d8499" stroke-width="1.1" />
<line x1="264.10" y1="524.94" x2="275.30" y2="524.94" stroke="#d62728" stroke-width="1.1" />
<ellipse cx="269.70" cy="524.94" rx="2.9" ry="2.3" fill="#d62728"/>
<text x="285.10" y="565.20" font-family="'Liberation Sans', sans-serif" font-size="10" fill="#d62728" text-anchor="end" textLength="106.86" lengthAdjust="spacingAndGlyphs" transform="rotate(-58 285.10 565.20)" >Macrophage-SPP1-ACP5</text>
<line x1="323.40" y1="557.70" x2="323.40" y2="561.50" stroke="#7d8499" stroke-width="1.1" />
<rect x="317.80" y="495.16" width="11.20" height="62.54" fill="#bca6d8"/>
<line x1="323.40" y1="436.35" x2="323.40" y2="557.70" stroke="#9467bd" stroke-width="1.1" />
<line x1="317.80" y1="436.35" x2="329.00" y2="436.35" stroke="#9467bd" stroke-width="1.1" />
<line x1="323.40" y1="495.16" x2="323.40" y2="533.13" stroke="#6a6a6a" stroke-width="1" opacity="0.55"/>
<line x1="317.80" y1="533.13" x2="329.00" y2="533.13" stroke="#9467bd" stroke-width="1.1" />
<line x1="317.80" y1="557.70" x2="329.00" y2="557.70" stroke="#9467bd" stroke-width="1.1" />
<ellipse cx="323.40" cy="557.70" rx="2.9" ry="2.3" fill="#9467bd"/>
<text x="339.20" y="563.50" font-family="'Liberation Sans', sans-serif" font-size="10" fill="#9467bd" text-anchor="end" textLength="84.21" lengthAdjust="spacingAndGlyphs" transform="rotate(-58 339.20 563.50)" >Macrophage-AREG</text>
<line x1="377.10" y1="557.70" x2="377.10" y2="561.50" stroke="#7d8499" stroke-width="1.1" />
<line x1="377.10" y1="478.78" x2="377.10" y2="522.71" stroke="#8d9ab0" stroke-width="1" />
<line x1="377.10" y1="522.71" x2="377.10" y2="557.70" stroke="#8c564b" stroke-width="1.1" />
<line x1="371.50" y1="522.71" x2="382.70" y2="522.71" stroke="#8c564b" stroke-width="1.1" />
<line x1="371.50" y1="557.70" x2="382.70" y2="557.70" stroke="#8c564b" stroke-width="1.1" />
<ellipse cx="377.10" cy="557.70" rx="2.9" ry="2.3" fill="#8c564b"/>
<text x="393.00" y="563.50" font-family="'Liberation Sans', sans-serif" font-size="10" fill="#8c564b" text-anchor="end" textLength="133.18" lengthAdjust="spacingAndGlyphs" transform="rotate(-58 393.00 563.50)" >Monocyte-FCGR3A-nonClassic</text>
<line x1="430.80" y1="557.70" x2="430.80" y2="561.50" stroke="#7d8499" stroke-width="1.1" />
<rect x="425.20" y="511.54" width="11.20" height="46.16" fill="#ebb3de"/>
<line x1="430.80" y1="466.13" x2="430.80" y2="557.70" stroke="#e377c2" stroke-width="1.1" />
<line x1="425.20" y1="466.13" x2="436.40" y2="466.13" stroke="#e377c2" stroke-width="1.1" />
<line x1="430.80" y1="511.54" x2="430.80" y2="526.43" stroke="#6a6a6a" stroke-width="1" opacity="0.55"/>
<line x1="425.20" y1="526.43" x2="436.40" y2="526.43" stroke="#e377c2" stroke-width="1.1" />
<line x1="425.20" y1="542.07" x2="436.40" y2="542.07" stroke="#e377c2" stroke-width="1.1" />
<ellipse cx="430.80" cy="542.07" rx="2.9" ry="2.3" fill="#e377c2"/>
<text x="445.50" y="565.00" font-family="'Liberation Sans', sans-serif" font-size="10" fill="#e377c2" text-anchor="end" textLength="66.63" lengthAdjust="spacingAndGlyphs" transform="rotate(-58 445.50 565.00)" >DC-CD1C-cDC2</text>
<line x1="484.50" y1="557.70" x2="484.50" y2="561.50" stroke="#7d8499" stroke-width="1.1" />
<rect x="478.90" y="466.13" width="11.20" height="91.57" fill="#c4c4c4"/>
<line x1="484.50" y1="307.55" x2="484.50" y2="334.35" stroke="#8d9ab0" stroke-width="1" />
<line x1="484.50" y1="334.35" x2="484.50" y2="557.70" stroke="#7f7f7f" stroke-width="1.1" />
<line x1="478.90" y1="334.35" x2="490.10" y2="334.35" stroke="#7f7f7f" stroke-width="1.1" />
<line x1="484.50" y1="466.13" x2="484.50" y2="542.81" stroke="#6a6a6a" stroke-width="1" opacity="0.55"/>
<line x1="478.90" y1="542.81" x2="490.10" y2="542.81" stroke="#7f7f7f" stroke-width="1.1" />
<line x1="478.90" y1="557.70" x2="490.10" y2="557.70" stroke="#7f7f7f" stroke-width="1.1" />
<ellipse cx="484.50" cy="557.70" rx="2.9" ry="2.3" fill="#7f7f7f"/>
<text x="500.00" y="562.10" font-family="'Liberation Sans', sans-serif" font-size="10" fill="#7f7f7f" text-anchor="end" textLength="44.83" lengthAdjust="spacingAndGlyphs" transform="rotate(-58 500.00 562.10)" >Fibroblast</text>
<line x1="538.20" y1="557.70" x2="538.20" y2="561.50" stroke="#7d8499" stroke-width="1.1" />
<line x1="538.20" y1="359.66" x2="538.20" y2="546.53" stroke="#8d9ab0" stroke-width="1" />
<line x1="538.20" y1="546.53" x2="538.20" y2="557.70" stroke="#bcbd22" stroke-width="1.1" />
<line x1="532.60" y1="546.53" x2="543.80" y2="546.53" stroke="#bcbd22" stroke-width="1.1" />
<path d="M519.2,557.7 Q532.2,553.2 538.2,553.2 Q544.2,553.2 557.2,557.7 Z" fill="#4a5a7a" opacity="0.85"/>
<line x1="532.60" y1="557.70" x2="543.80" y2="557.70" stroke="#bcbd22" stroke-width="1.1" />
<ellipse cx="538.20" cy="557.70" rx="2.9" ry="2.3" fill="#bcbd22"/>
<text x="554.00" y="563.50" font-family="'Liberation Sans', sans-serif" font-size="10" fill="#bcbd22" text-anchor="end" textLength="115.11" lengthAdjust="spacingAndGlyphs" transform="rotate(-58 554.00 563.50)" >Cells with colone mutation</text>
<line x1="591.90" y1="557.70" x2="591.90" y2="561.50" stroke="#7d8499" stroke-width="1.1" />
<line x1="591.90" y1="416.25" x2="591.90" y2="544.30" stroke="#8d9ab0" stroke-width="1" />
<line x1="591.90" y1="544.30" x2="591.90" y2="557.70" stroke="#17becf" stroke-width="1.1" />
<line x1="586.30" y1="544.30" x2="597.50" y2="544.30" stroke="#17becf" stroke-width="1.1" />
<line x1="586.30" y1="557.70" x2="597.50" y2="557.70" stroke="#17becf" stroke-width="1.1" />
<ellipse cx="591.90" cy="557.70" rx="2.9" ry="2.3" fill="#17becf"/>
<text x="606.70" y="565.00" font-family="'Liberation Sans', sans-serif" font-size="10" fill="#17becf" text-anchor="end" textLength="64.09" lengthAdjust="spacingAndGlyphs" transform="rotate(-58 606.70 565.00)" >Endothelial cell</text>
<line x1="645.60" y1="557.70" x2="645.60" y2="561.50" stroke="#7d8499" stroke-width="1.1" />
<line x1="645.60" y1="411.78" x2="645.60" y2="535.37" stroke="#8d9ab0" stroke-width="1" />
<line x1="645.60" y1="535.37" x2="645.60" y2="557.70" stroke="#3a6ea5" stroke-width="1.1" />
<line x1="640.00" y1="535.37" x2="651.20" y2="535.37" stroke="#3a6ea5" stroke-width="1.1" />
<line x1="640.00" y1="557.70" x2="651.20" y2="557.70" stroke="#3a6ea5" stroke-width="1.1" />
<ellipse cx="645.60" cy="557.70" rx="2.9" ry="2.3" fill="#3a6ea5"/>
<text x="661.20" y="563.40" font-family="'Liberation Sans', sans-serif" font-size="10" fill="#3a6ea5" text-anchor="end" textLength="74.36" lengthAdjust="spacingAndGlyphs" transform="rotate(-58 661.20 563.40)" >Oligodendrocyte</text>
<text x="324.00" y="689.40" font-family="'Liberation Sans', sans-serif" font-size="13.5" fill="#231f20" text-anchor="start" font-weight="bold" textLength="75" lengthAdjust="spacingAndGlyphs" >Cell Type</text>
<text x="0.60" y="719.80" font-family="'Liberation Sans', sans-serif" font-size="13.5" fill="#231f20" text-anchor="start" textLength="8.2" lengthAdjust="spacingAndGlyphs" >C</text>
<line x1="56.90" y1="740.80" x2="56.90" y2="948.20" stroke="#505050" stroke-width="2" />
<line x1="55.90" y1="948.20" x2="681.50" y2="948.20" stroke="#505050" stroke-width="2" />
<line x1="54.20" y1="938.90" x2="56.90" y2="938.90" stroke="#505050" stroke-width="1.1" />
<text x="52.40" y="943.20" font-family="'Liberation Serif', serif" font-size="13" fill="#1a1a1a" text-anchor="end" >0.0</text>
<line x1="54.20" y1="891.85" x2="56.90" y2="891.85" stroke="#505050" stroke-width="1.1" />
<text x="52.40" y="896.15" font-family="'Liberation Serif', serif" font-size="13" fill="#1a1a1a" text-anchor="end" >0.5</text>
<line x1="54.20" y1="844.80" x2="56.90" y2="844.80" stroke="#505050" stroke-width="1.1" />
<text x="52.40" y="849.10" font-family="'Liberation Serif', serif" font-size="13" fill="#1a1a1a" text-anchor="end" >1.0</text>
<line x1="54.20" y1="797.75" x2="56.90" y2="797.75" stroke="#505050" stroke-width="1.1" />
<text x="52.40" y="802.05" font-family="'Liberation Serif', serif" font-size="13" fill="#1a1a1a" text-anchor="end" >1.5</text>
<line x1="54.20" y1="750.70" x2="56.90" y2="750.70" stroke="#505050" stroke-width="1.1" />
<text x="52.40" y="755.00" font-family="'Liberation Serif', serif" font-size="13" fill="#1a1a1a" text-anchor="end" >2.0</text>
<text x="30.20" y="868.50" font-family="'Liberation Serif', serif" font-size="14.5" fill="#1a1a1a" text-anchor="start" textLength="48.2" lengthAdjust="spacingAndGlyphs" transform="rotate(-90 30.20 868.50)" >Fraction</text>
<text x="295.40" y="721.80" font-family="'Liberation Serif', serif" font-size="15" fill="#1a1a1a" text-anchor="start" textLength="28.8" lengthAdjust="spacingAndGlyphs" >IL18</text>
<g stroke="#c77cc6" fill="none" stroke-width="1"><line x1="340.0" y1="711.2" x2="340.0" y2="722.3"/><rect x="333.4" y="713.6" width="13.2" height="6.3" fill="#fff"/><line x1="333.4" y1="716.75" x2="346.59999999999997" y2="716.75"/></g>
<g stroke="#6ccfaf" fill="none" stroke-width="1"><line x1="401.0" y1="711.2" x2="401.0" y2="722.3"/><rect x="394.4" y="713.6" width="13.2" height="6.3" fill="#fff"/><line x1="394.4" y1="716.75" x2="407.59999999999997" y2="716.75"/></g>
<text x="356.50" y="721.80" font-family="'Liberation Serif', serif" font-size="14.5" fill="#1a1a1a" text-anchor="start" textLength="27.8" lengthAdjust="spacingAndGlyphs" >High</text>
<text x="417.00" y="721.80" font-family="'Liberation Serif', serif" font-size="14.5" fill="#1a1a1a" text-anchor="start" textLength="25.6" lengthAdjust="spacingAndGlyphs" >Low</text>
<line x1="73.70" y1="948.20" x2="73.70" y2="952.00" stroke="#505050" stroke-width="1.1" />
<text x="73.70" y="749.80" font-family="'Liberation Sans', sans-serif" font-size="9.8" fill="#1a1a1a" text-anchor="middle" >ns</text>
<rect x="62.90" y="936.57" width="10.4" height="2.4" fill="#c77cc6"/>
<line x1="68.10" y1="937.02" x2="68.10" y2="929.02" stroke="#c77cc6" stroke-width="3.2"/>
<circle cx="68.10" cy="929.02" r="2.05" fill="#c77cc6" />
<circle cx="68.10" cy="931.62" r="2.05" fill="#c77cc6" />
<circle cx="68.10" cy="934.22" r="2.05" fill="#c77cc6" />
<circle cx="68.10" cy="936.82" r="2.05" fill="#c77cc6" />
<circle cx="68.10" cy="922.43" r="2.1" fill="#c77cc6" />
<rect x="74.10" y="935.82" width="10.4" height="2.4" fill="#6ccfaf"/>
<line x1="79.30" y1="937.02" x2="79.30" y2="929.02" stroke="#6ccfaf" stroke-width="3.2"/>
<circle cx="79.30" cy="929.02" r="2.05" fill="#6ccfaf" />
<circle cx="79.30" cy="931.62" r="2.05" fill="#6ccfaf" />
<circle cx="79.30" cy="934.22" r="2.05" fill="#6ccfaf" />
<circle cx="79.30" cy="936.82" r="2.05" fill="#6ccfaf" />
<circle cx="79.30" cy="900.32" r="2.1" fill="#6ccfaf" />
<text x="79.00" y="958.20" font-family="'Liberation Serif', serif" font-size="13" fill="#1a1a1a" text-anchor="end" transform="rotate(-45 79.00 958.20)" >B cells naive</text>
<line x1="101.85" y1="948.20" x2="101.85" y2="952.00" stroke="#505050" stroke-width="1.1" />
<text x="101.85" y="749.80" font-family="'Liberation Sans', sans-serif" font-size="9.8" fill="#1a1a1a" text-anchor="middle" >ns</text>
<rect x="91.05" y="937.51" width="10.4" height="2.4" fill="#c77cc6"/>
<line x1="96.25" y1="938.52" x2="96.25" y2="933.25" stroke="#c77cc6" stroke-width="3.2"/>
<circle cx="96.25" cy="933.25" r="2.05" fill="#c77cc6" />
<circle cx="96.25" cy="935.85" r="2.05" fill="#c77cc6" />
<circle cx="96.25" cy="938.45" r="2.05" fill="#c77cc6" />
<circle cx="96.25" cy="923.37" r="2.1" fill="#c77cc6" />
<rect x="102.25" y="937.51" width="10.4" height="2.4" fill="#6ccfaf"/>
<line x1="107.45" y1="938.52" x2="107.45" y2="931.37" stroke="#6ccfaf" stroke-width="3.2"/>
<circle cx="107.45" cy="931.37" r="2.05" fill="#6ccfaf" />
<circle cx="107.45" cy="933.97" r="2.05" fill="#6ccfaf" />
<circle cx="107.45" cy="936.57" r="2.05" fill="#6ccfaf" />
<text x="107.15" y="958.20" font-family="'Liberation Serif', serif" font-size="13" fill="#1a1a1a" text-anchor="end" transform="rotate(-45 107.15 958.20)" >B cells memory</text>
<line x1="130.00" y1="948.20" x2="130.00" y2="952.00" stroke="#505050" stroke-width="1.1" />
<text x="130.00" y="749.80" font-family="'Liberation Sans', sans-serif" font-size="9.8" fill="#1a1a1a" text-anchor="middle" >ns</text>
<rect x="119.20" y="937.51" width="10.4" height="2.4" fill="#c77cc6"/>
<line x1="124.40" y1="938.52" x2="124.40" y2="935.61" stroke="#c77cc6" stroke-width="3.2"/>
<circle cx="124.40" cy="935.61" r="2.05" fill="#c77cc6" />
<circle cx="124.40" cy="938.21" r="2.05" fill="#c77cc6" />
<rect x="130.40" y="937.51" width="10.4" height="2.4" fill="#6ccfaf"/>
<line x1="135.60" y1="938.52" x2="135.60" y2="932.31" stroke="#6ccfaf" stroke-width="3.2"/>
<circle cx="135.60" cy="932.31" r="2.05" fill="#6ccfaf" />
<circle cx="135.60" cy="934.91" r="2.05" fill="#6ccfaf" />
<circle cx="135.60" cy="937.51" r="2.05" fill="#6ccfaf" />
<text x="135.30" y="958.20" font-family="'Liberation Serif', serif" font-size="13" fill="#1a1a1a" text-anchor="end" transform="rotate(-45 135.30 958.20)" >Plasma cells</text>
<line x1="158.15" y1="948.20" x2="158.15" y2="952.00" stroke="#505050" stroke-width="1.1" />
<text x="158.15" y="749.80" font-family="'Liberation Sans', sans-serif" font-size="9.8" fill="#1a1a1a" text-anchor="middle" >***</text>
<line x1="152.55" y1="933.72" x2="152.55" y2="929.49" stroke="#c77cc6" stroke-width="1" />
<line x1="152.55" y1="937.77" x2="152.55" y2="938.90" stroke="#c77cc6" stroke-width="1" />
<rect x="147.85" y="933.72" width="9.4" height="4.05" fill="#fff" stroke="#c77cc6" stroke-width="1"/>
<line x1="147.85" y1="936.08" x2="157.25" y2="936.08" stroke="#c77cc6" stroke-width="1.8" />
<line x1="152.55" y1="928.55" x2="152.55" y2="918.20" stroke="#c77cc6" stroke-width="3.2"/>
<circle cx="152.55" cy="918.20" r="2.05" fill="#c77cc6" />
<circle cx="152.55" cy="920.80" r="2.05" fill="#c77cc6" />
<circle cx="152.55" cy="923.40" r="2.05" fill="#c77cc6" />
<circle cx="152.55" cy="926.00" r="2.05" fill="#c77cc6" />
<circle cx="152.55" cy="928.60" r="2.05" fill="#c77cc6" />
<circle cx="152.55" cy="908.79" r="2.1" fill="#c77cc6" />
<circle cx="152.55" cy="907.38" r="2.1" fill="#c77cc6" />
<circle cx="152.55" cy="869.27" r="2.1" fill="#c77cc6" />
<rect x="158.55" y="936.29" width="10.4" height="2.4" fill="#6ccfaf"/>
<line x1="163.75" y1="937.02" x2="163.75" y2="926.67" stroke="#6ccfaf" stroke-width="3.2"/>
<circle cx="163.75" cy="926.67" r="2.05" fill="#6ccfaf" />
<circle cx="163.75" cy="929.27" r="2.05" fill="#6ccfaf" />
<circle cx="163.75" cy="931.87" r="2.05" fill="#6ccfaf" />
<circle cx="163.75" cy="934.47" r="2.05" fill="#6ccfaf" />
<circle cx="163.75" cy="937.07" r="2.05" fill="#6ccfaf" />
<text x="163.45" y="958.20" font-family="'Liberation Serif', serif" font-size="13" fill="#1a1a1a" text-anchor="end" transform="rotate(-45 163.45 958.20)" >T cells CD8</text>
<line x1="186.30" y1="948.20" x2="186.30" y2="952.00" stroke="#505050" stroke-width="1.1" />
<text x="186.30" y="749.80" font-family="'Liberation Sans', sans-serif" font-size="9.8" fill="#1a1a1a" text-anchor="middle" >*</text>
<rect x="175.50" y="937.51" width="10.4" height="2.4" fill="#c77cc6"/>
<line x1="180.70" y1="938.52" x2="180.70" y2="936.08" stroke="#c77cc6" stroke-width="3.2"/>
<circle cx="180.70" cy="936.08" r="2.05" fill="#c77cc6" />
<rect x="186.70" y="937.51" width="10.4" height="2.4" fill="#6ccfaf"/>
<line x1="191.90" y1="938.52" x2="191.90" y2="934.19" stroke="#6ccfaf" stroke-width="3.2"/>
<circle cx="191.90" cy="934.19" r="2.05" fill="#6ccfaf" />
<circle cx="191.90" cy="936.79" r="2.05" fill="#6ccfaf" />
<text x="191.60" y="958.20" font-family="'Liberation Serif', serif" font-size="13" fill="#1a1a1a" text-anchor="end" transform="rotate(-45 191.60 958.20)" >T cells CD4 naive</text>
<line x1="214.45" y1="948.20" x2="214.45" y2="952.00" stroke="#505050" stroke-width="1.1" />
<text x="214.45" y="749.80" font-family="'Liberation Sans', sans-serif" font-size="9.8" fill="#1a1a1a" text-anchor="middle" >***</text>
<line x1="208.85" y1="923.09" x2="208.85" y2="915.38" stroke="#c77cc6" stroke-width="1" />
<line x1="208.85" y1="930.81" x2="208.85" y2="934.67" stroke="#c77cc6" stroke-width="1" />
<rect x="204.15" y="923.09" width="9.4" height="7.72" fill="#fff" stroke="#c77cc6" stroke-width="1"/>
<line x1="204.15" y1="927.42" x2="213.55" y2="927.42" stroke="#c77cc6" stroke-width="1.8" />
<circle cx="208.85" cy="912.55" r="2.1" fill="#c77cc6" />
<circle cx="208.85" cy="910.67" r="2.1" fill="#c77cc6" />
<circle cx="208.85" cy="907.85" r="2.1" fill="#c77cc6" />
<circle cx="208.85" cy="893.73" r="2.1" fill="#c77cc6" />
<circle cx="208.85" cy="872.09" r="2.1" fill="#c77cc6" />
<line x1="220.05" y1="926.86" x2="220.05" y2="922.90" stroke="#6ccfaf" stroke-width="1" />
<line x1="220.05" y1="931.47" x2="220.05" y2="935.14" stroke="#6ccfaf" stroke-width="1" />
<rect x="215.35" y="926.86" width="9.4" height="4.61" fill="#fff" stroke="#6ccfaf" stroke-width="1"/>
<line x1="215.35" y1="929.02" x2="224.75" y2="929.02" stroke="#6ccfaf" stroke-width="1.8" />
<line x1="220.05" y1="920.08" x2="220.05" y2="915.38" stroke="#6ccfaf" stroke-width="3.2"/>
<circle cx="220.05" cy="915.38" r="2.05" fill="#6ccfaf" />
<circle cx="220.05" cy="917.98" r="2.05" fill="#6ccfaf" />
<circle cx="220.05" cy="905.97" r="2.1" fill="#6ccfaf" />
<text x="219.75" y="958.20" font-family="'Liberation Serif', serif" font-size="13" fill="#1a1a1a" text-anchor="end" transform="rotate(-45 219.75 958.20)" >T cells CD4 memory resting</text>
<line x1="242.60" y1="948.20" x2="242.60" y2="952.00" stroke="#505050" stroke-width="1.1" />
<text x="242.60" y="749.80" font-family="'Liberation Sans', sans-serif" font-size="9.8" fill="#1a1a1a" text-anchor="middle" >ns</text>
<rect x="231.80" y="937.51" width="10.4" height="2.4" fill="#c77cc6"/>
<line x1="237.00" y1="938.52" x2="237.00" y2="933.72" stroke="#c77cc6" stroke-width="3.2"/>
<circle cx="237.00" cy="933.72" r="2.05" fill="#c77cc6" />
<circle cx="237.00" cy="936.32" r="2.05" fill="#c77cc6" />
<circle cx="237.00" cy="921.02" r="2.1" fill="#c77cc6" />
<rect x="243.00" y="937.51" width="10.4" height="2.4" fill="#6ccfaf"/>
<line x1="248.20" y1="938.52" x2="248.20" y2="934.19" stroke="#6ccfaf" stroke-width="3.2"/>
<circle cx="248.20" cy="934.19" r="2.05" fill="#6ccfaf" />
<circle cx="248.20" cy="936.79" r="2.05" fill="#6ccfaf" />
<text x="247.90" y="958.20" font-family="'Liberation Serif', serif" font-size="13" fill="#1a1a1a" text-anchor="end" transform="rotate(-45 247.90 958.20)" >T cells CD4 memory activated</text>
<line x1="270.75" y1="948.20" x2="270.75" y2="952.00" stroke="#505050" stroke-width="1.1" />
<text x="270.75" y="749.80" font-family="'Liberation Sans', sans-serif" font-size="9.8" fill="#1a1a1a" text-anchor="middle" >**</text>
<rect x="259.95" y="936.48" width="10.4" height="2.4" fill="#c77cc6"/>
<line x1="265.15" y1="937.39" x2="265.15" y2="928.55" stroke="#c77cc6" stroke-width="3.2"/>
<circle cx="265.15" cy="928.55" r="2.05" fill="#c77cc6" />
<circle cx="265.15" cy="931.15" r="2.05" fill="#c77cc6" />
<circle cx="265.15" cy="933.75" r="2.05" fill="#c77cc6" />
<circle cx="265.15" cy="936.35" r="2.05" fill="#c77cc6" />
<rect x="271.15" y="936.48" width="10.4" height="2.4" fill="#6ccfaf"/>
<line x1="276.35" y1="937.39" x2="276.35" y2="932.78" stroke="#6ccfaf" stroke-width="3.2"/>
<circle cx="276.35" cy="932.78" r="2.05" fill="#6ccfaf" />
<circle cx="276.35" cy="935.38" r="2.05" fill="#6ccfaf" />
<circle cx="276.35" cy="925.26" r="2.1" fill="#6ccfaf" />
<text x="276.05" y="958.20" font-family="'Liberation Serif', serif" font-size="13" fill="#1a1a1a" text-anchor="end" transform="rotate(-45 276.05 958.20)" >T cells follicular helper</text>
<line x1="298.90" y1="948.20" x2="298.90" y2="952.00" stroke="#505050" stroke-width="1.1" />
<text x="298.90" y="749.80" font-family="'Liberation Sans', sans-serif" font-size="9.8" fill="#1a1a1a" text-anchor="middle" >ns</text>
<rect x="288.10" y="937.51" width="10.4" height="2.4" fill="#c77cc6"/>
<line x1="293.30" y1="938.52" x2="293.30" y2="931.37" stroke="#c77cc6" stroke-width="3.2"/>
<circle cx="293.30" cy="931.37" r="2.05" fill="#c77cc6" />
<circle cx="293.30" cy="933.97" r="2.05" fill="#c77cc6" />
<circle cx="293.30" cy="936.57" r="2.05" fill="#c77cc6" />
<circle cx="293.30" cy="923.84" r="2.1" fill="#c77cc6" />
<rect x="299.30" y="937.51" width="10.4" height="2.4" fill="#6ccfaf"/>
<line x1="304.50" y1="938.52" x2="304.50" y2="934.67" stroke="#6ccfaf" stroke-width="3.2"/>
<circle cx="304.50" cy="934.67" r="2.05" fill="#6ccfaf" />
<circle cx="304.50" cy="937.27" r="2.05" fill="#6ccfaf" />
<text x="304.20" y="958.20" font-family="'Liberation Serif', serif" font-size="13" fill="#1a1a1a" text-anchor="end" transform="rotate(-45 304.20 958.20)" >T cells regulatory (Tregs)</text>
<line x1="327.05" y1="948.20" x2="327.05" y2="952.00" stroke="#505050" stroke-width="1.1" />
<text x="327.05" y="749.80" font-family="'Liberation Sans', sans-serif" font-size="9.8" fill="#1a1a1a" text-anchor="middle" >ns</text>
<rect x="316.25" y="937.51" width="10.4" height="2.4" fill="#c77cc6"/>
<line x1="321.45" y1="938.52" x2="321.45" y2="933.25" stroke="#c77cc6" stroke-width="3.2"/>
<circle cx="321.45" cy="933.25" r="2.05" fill="#c77cc6" />
<circle cx="321.45" cy="935.85" r="2.05" fill="#c77cc6" />
<circle cx="321.45" cy="938.45" r="2.05" fill="#c77cc6" />
<circle cx="321.45" cy="926.29" r="2.1" fill="#c77cc6" />
<rect x="327.45" y="937.51" width="10.4" height="2.4" fill="#6ccfaf"/>
<line x1="332.65" y1="938.52" x2="332.65" y2="934.19" stroke="#6ccfaf" stroke-width="3.2"/>
<circle cx="332.65" cy="934.19" r="2.05" fill="#6ccfaf" />
<circle cx="332.65" cy="936.79" r="2.05" fill="#6ccfaf" />
<text x="332.35" y="958.20" font-family="'Liberation Serif', serif" font-size="13" fill="#1a1a1a" text-anchor="end" transform="rotate(-45 332.35 958.20)" >T cells gamma delta</text>
<line x1="355.20" y1="948.20" x2="355.20" y2="952.00" stroke="#505050" stroke-width="1.1" />
<text x="355.20" y="749.80" font-family="'Liberation Sans', sans-serif" font-size="9.8" fill="#1a1a1a" text-anchor="middle" >*</text>
<line x1="349.60" y1="935.14" x2="349.60" y2="933.25" stroke="#c77cc6" stroke-width="1" />
<rect x="344.90" y="935.14" width="9.4" height="3.76" fill="#fff" stroke="#c77cc6" stroke-width="1"/>
<line x1="344.90" y1="937.02" x2="354.30" y2="937.02" stroke="#c77cc6" stroke-width="1.8" />
<circle cx="349.60" cy="928.55" r="2.1" fill="#c77cc6" />
<circle cx="349.60" cy="922.90" r="2.1" fill="#c77cc6" />
<line x1="360.80" y1="935.14" x2="360.80" y2="930.90" stroke="#6ccfaf" stroke-width="1" />
<rect x="356.10" y="935.14" width="9.4" height="3.76" fill="#fff" stroke="#6ccfaf" stroke-width="1"/>
<line x1="356.10" y1="937.02" x2="365.50" y2="937.02" stroke="#6ccfaf" stroke-width="1.8" />
<circle cx="360.80" cy="913.02" r="2.1" fill="#6ccfaf" />
<text x="360.50" y="958.20" font-family="'Liberation Serif', serif" font-size="13" fill="#1a1a1a" text-anchor="end" transform="rotate(-45 360.50 958.20)" >NK cells resting</text>
<line x1="383.35" y1="948.20" x2="383.35" y2="952.00" stroke="#505050" stroke-width="1.1" />
<text x="383.35" y="749.80" font-family="'Liberation Sans', sans-serif" font-size="9.8" fill="#1a1a1a" text-anchor="middle" >*</text>
<rect x="373.05" y="934.19" width="9.4" height="3.76" fill="#fff" stroke="#c77cc6" stroke-width="1"/>
<line x1="373.05" y1="936.55" x2="382.45" y2="936.55" stroke="#c77cc6" stroke-width="1.8" />
<line x1="377.75" y1="933.25" x2="377.75" y2="927.61" stroke="#c77cc6" stroke-width="3.2"/>
<circle cx="377.75" cy="927.61" r="2.05" fill="#c77cc6" />
<circle cx="377.75" cy="930.21" r="2.05" fill="#c77cc6" />
<circle cx="377.75" cy="932.81" r="2.05" fill="#c77cc6" />
<circle cx="377.75" cy="918.20" r="2.1" fill="#c77cc6" />
<rect x="384.25" y="935.32" width="9.4" height="3.20" fill="#fff" stroke="#6ccfaf" stroke-width="1"/>
<line x1="384.25" y1="937.02" x2="393.65" y2="937.02" stroke="#6ccfaf" stroke-width="1.8" />
<line x1="388.95" y1="935.14" x2="388.95" y2="928.55" stroke="#6ccfaf" stroke-width="3.2"/>
<circle cx="388.95" cy="928.55" r="2.05" fill="#6ccfaf" />
<circle cx="388.95" cy="931.15" r="2.05" fill="#6ccfaf" />
<circle cx="388.95" cy="933.75" r="2.05" fill="#6ccfaf" />
<text x="388.65" y="958.20" font-family="'Liberation Serif', serif" font-size="13" fill="#1a1a1a" text-anchor="end" transform="rotate(-45 388.65 958.20)" >NK cells activated</text>
<line x1="411.50" y1="948.20" x2="411.50" y2="952.00" stroke="#505050" stroke-width="1.1" />
<text x="411.50" y="749.80" font-family="'Liberation Sans', sans-serif" font-size="9.8" fill="#1a1a1a" text-anchor="middle" >***</text>
<line x1="405.90" y1="902.58" x2="405.90" y2="882.91" stroke="#c77cc6" stroke-width="1" />
<line x1="405.90" y1="916.50" x2="405.90" y2="930.71" stroke="#c77cc6" stroke-width="1" />
<rect x="401.20" y="902.58" width="9.4" height="13.93" fill="#fff" stroke="#c77cc6" stroke-width="1"/>
<line x1="401.20" y1="909.73" x2="410.60" y2="909.73" stroke="#c77cc6" stroke-width="1.8" />
<circle cx="405.90" cy="873.97" r="2.1" fill="#c77cc6" />
<circle cx="405.90" cy="855.15" r="2.1" fill="#c77cc6" />
<circle cx="405.90" cy="849.50" r="2.1" fill="#c77cc6" />
<line x1="417.10" y1="917.73" x2="417.10" y2="906.91" stroke="#6ccfaf" stroke-width="1" />
<line x1="417.10" y1="926.20" x2="417.10" y2="934.67" stroke="#6ccfaf" stroke-width="1" />
<rect x="412.40" y="917.73" width="9.4" height="8.47" fill="#fff" stroke="#6ccfaf" stroke-width="1"/>
<line x1="412.40" y1="921.96" x2="421.80" y2="921.96" stroke="#6ccfaf" stroke-width="1.8" />
<circle cx="417.10" cy="905.49" r="2.1" fill="#6ccfaf" />
<circle cx="417.10" cy="903.14" r="2.1" fill="#6ccfaf" />
<circle cx="417.10" cy="901.26" r="2.1" fill="#6ccfaf" />
<circle cx="417.10" cy="896.55" r="2.1" fill="#6ccfaf" />
<circle cx="417.10" cy="881.50" r="2.1" fill="#6ccfaf" />
<text x="416.80" y="958.20" font-family="'Liberation Serif', serif" font-size="13" fill="#1a1a1a" text-anchor="end" transform="rotate(-45 416.80 958.20)" >Monocytes</text>
<line x1="439.65" y1="948.20" x2="439.65" y2="952.00" stroke="#505050" stroke-width="1.1" />
<text x="439.65" y="749.80" font-family="'Liberation Sans', sans-serif" font-size="9.8" fill="#1a1a1a" text-anchor="middle" >ns</text>
<rect x="428.85" y="937.32" width="10.4" height="2.4" fill="#c77cc6"/>
<line x1="434.05" y1="938.15" x2="434.05" y2="907.85" stroke="#c77cc6" stroke-width="3.2"/>
<circle cx="434.05" cy="907.85" r="2.05" fill="#c77cc6" />
<circle cx="434.05" cy="910.45" r="2.05" fill="#c77cc6" />
<circle cx="434.05" cy="913.05" r="2.05" fill="#c77cc6" />
<circle cx="434.05" cy="915.65" r="2.05" fill="#c77cc6" />
<circle cx="434.05" cy="918.25" r="2.05" fill="#c77cc6" />
<circle cx="434.05" cy="920.85" r="2.05" fill="#c77cc6" />
<circle cx="434.05" cy="923.45" r="2.05" fill="#c77cc6" />
<circle cx="434.05" cy="926.05" r="2.05" fill="#c77cc6" />
<circle cx="434.05" cy="928.65" r="2.05" fill="#c77cc6" />
<circle cx="434.05" cy="931.25" r="2.05" fill="#c77cc6" />
<circle cx="434.05" cy="933.85" r="2.05" fill="#c77cc6" />
<circle cx="434.05" cy="936.45" r="2.05" fill="#c77cc6" />
<circle cx="434.05" cy="900.32" r="2.1" fill="#c77cc6" />
<rect x="440.05" y="937.51" width="10.4" height="2.4" fill="#6ccfaf"/>
<line x1="445.25" y1="938.52" x2="445.25" y2="916.32" stroke="#6ccfaf" stroke-width="3.2"/>
<circle cx="445.25" cy="916.32" r="2.05" fill="#6ccfaf" />
<circle cx="445.25" cy="918.92" r="2.05" fill="#6ccfaf" />
<circle cx="445.25" cy="921.52" r="2.05" fill="#6ccfaf" />
<circle cx="445.25" cy="924.12" r="2.05" fill="#6ccfaf" />
<circle cx="445.25" cy="926.72" r="2.05" fill="#6ccfaf" />
<circle cx="445.25" cy="929.32" r="2.05" fill="#6ccfaf" />
<circle cx="445.25" cy="931.92" r="2.05" fill="#6ccfaf" />
<circle cx="445.25" cy="934.52" r="2.05" fill="#6ccfaf" />
<circle cx="445.25" cy="937.12" r="2.05" fill="#6ccfaf" />
<circle cx="445.25" cy="902.67" r="2.1" fill="#6ccfaf" />
<text x="444.95" y="958.20" font-family="'Liberation Serif', serif" font-size="13" fill="#1a1a1a" text-anchor="end" transform="rotate(-45 444.95 958.20)" >Macrophages M0</text>
<line x1="467.80" y1="948.20" x2="467.80" y2="952.00" stroke="#505050" stroke-width="1.1" />
<text x="467.80" y="749.80" font-family="'Liberation Sans', sans-serif" font-size="9.8" fill="#1a1a1a" text-anchor="middle" >**</text>
<rect x="457.50" y="934.19" width="9.4" height="3.29" fill="#fff" stroke="#c77cc6" stroke-width="1"/>
<line x1="457.50" y1="936.08" x2="466.90" y2="936.08" stroke="#c77cc6" stroke-width="1.8" />
<line x1="462.20" y1="934.19" x2="462.20" y2="915.38" stroke="#c77cc6" stroke-width="3.2"/>
<circle cx="462.20" cy="915.38" r="2.05" fill="#c77cc6" />
<circle cx="462.20" cy="917.98" r="2.05" fill="#c77cc6" />
<circle cx="462.20" cy="920.58" r="2.05" fill="#c77cc6" />
<circle cx="462.20" cy="923.18" r="2.05" fill="#c77cc6" />
<circle cx="462.20" cy="925.78" r="2.05" fill="#c77cc6" />
<circle cx="462.20" cy="928.38" r="2.05" fill="#c77cc6" />
<circle cx="462.20" cy="930.98" r="2.05" fill="#c77cc6" />
<circle cx="462.20" cy="933.58" r="2.05" fill="#c77cc6" />
<rect x="468.20" y="936.29" width="10.4" height="2.4" fill="#6ccfaf"/>
<line x1="473.40" y1="937.30" x2="473.40" y2="928.55" stroke="#6ccfaf" stroke-width="3.2"/>
<circle cx="473.40" cy="928.55" r="2.05" fill="#6ccfaf" />
<circle cx="473.40" cy="931.15" r="2.05" fill="#6ccfaf" />
<circle cx="473.40" cy="933.75" r="2.05" fill="#6ccfaf" />
<circle cx="473.40" cy="936.35" r="2.05" fill="#6ccfaf" />
<text x="473.10" y="958.20" font-family="'Liberation Serif', serif" font-size="13" fill="#1a1a1a" text-anchor="end" transform="rotate(-45 473.10 958.20)" >Macrophages M1</text>
<line x1="495.95" y1="948.20" x2="495.95" y2="952.00" stroke="#505050" stroke-width="1.1" />
<text x="495.95" y="749.80" font-family="'Liberation Sans', sans-serif" font-size="9.8" fill="#1a1a1a" text-anchor="middle" >***</text>
<line x1="490.35" y1="896.55" x2="490.35" y2="881.03" stroke="#c77cc6" stroke-width="1" />
<line x1="490.35" y1="908.79" x2="490.35" y2="921.02" stroke="#c77cc6" stroke-width="1" />
<rect x="485.65" y="896.55" width="9.4" height="12.23" fill="#fff" stroke="#c77cc6" stroke-width="1"/>
<line x1="485.65" y1="904.08" x2="495.05" y2="904.08" stroke="#c77cc6" stroke-width="1.8" />
<circle cx="490.35" cy="879.62" r="2.1" fill="#c77cc6" />
<circle cx="490.35" cy="874.91" r="2.1" fill="#c77cc6" />
<circle cx="490.35" cy="870.21" r="2.1" fill="#c77cc6" />
<circle cx="490.35" cy="852.33" r="2.1" fill="#c77cc6" />
<circle cx="490.35" cy="847.62" r="2.1" fill="#c77cc6" />
<circle cx="490.35" cy="749.76" r="2.1" fill="#c77cc6" />
<line x1="501.55" y1="909.73" x2="501.55" y2="902.20" stroke="#6ccfaf" stroke-width="1" />
<line x1="501.55" y1="916.32" x2="501.55" y2="925.44" stroke="#6ccfaf" stroke-width="1" />
<rect x="496.85" y="909.73" width="9.4" height="6.59" fill="#fff" stroke="#6ccfaf" stroke-width="1"/>
<line x1="496.85" y1="913.96" x2="506.25" y2="913.96" stroke="#6ccfaf" stroke-width="1.8" />
<line x1="501.55" y1="900.32" x2="501.55" y2="889.03" stroke="#6ccfaf" stroke-width="3.2"/>
<circle cx="501.55" cy="889.03" r="2.05" fill="#6ccfaf" />
<circle cx="501.55" cy="891.63" r="2.05" fill="#6ccfaf" />
<circle cx="501.55" cy="894.23" r="2.05" fill="#6ccfaf" />
<circle cx="501.55" cy="896.83" r="2.05" fill="#6ccfaf" />
<circle cx="501.55" cy="899.43" r="2.05" fill="#6ccfaf" />
<circle cx="501.55" cy="881.03" r="2.1" fill="#6ccfaf" />
<circle cx="501.55" cy="848.56" r="2.1" fill="#6ccfaf" />
<text x="501.25" y="958.20" font-family="'Liberation Serif', serif" font-size="13" fill="#1a1a1a" text-anchor="end" transform="rotate(-45 501.25 958.20)" >Macrophages M2</text>
<line x1="524.10" y1="948.20" x2="524.10" y2="952.00" stroke="#505050" stroke-width="1.1" />
<text x="524.10" y="749.80" font-family="'Liberation Sans', sans-serif" font-size="9.8" fill="#1a1a1a" text-anchor="middle" >***</text>
<rect x="513.30" y="937.51" width="10.4" height="2.4" fill="#c77cc6"/>
<line x1="518.50" y1="938.52" x2="518.50" y2="931.84" stroke="#c77cc6" stroke-width="3.2"/>
<circle cx="518.50" cy="931.84" r="2.05" fill="#c77cc6" />
<circle cx="518.50" cy="934.44" r="2.05" fill="#c77cc6" />
<circle cx="518.50" cy="937.04" r="2.05" fill="#c77cc6" />
<rect x="524.50" y="936.95" width="10.4" height="2.4" fill="#6ccfaf"/>
<line x1="529.70" y1="937.96" x2="529.70" y2="933.25" stroke="#6ccfaf" stroke-width="3.2"/>
<circle cx="529.70" cy="933.25" r="2.05" fill="#6ccfaf" />
<circle cx="529.70" cy="935.85" r="2.05" fill="#6ccfaf" />
<circle cx="529.70" cy="928.93" r="2.1" fill="#6ccfaf" />
<text x="529.40" y="958.20" font-family="'Liberation Serif', serif" font-size="13" fill="#1a1a1a" text-anchor="end" transform="rotate(-45 529.40 958.20)" >Dendritic cells resting</text>
<line x1="552.25" y1="948.20" x2="552.25" y2="952.00" stroke="#505050" stroke-width="1.1" />
<text x="552.25" y="749.80" font-family="'Liberation Sans', sans-serif" font-size="9.8" fill="#1a1a1a" text-anchor="middle" >ns</text>
<rect x="541.45" y="937.51" width="10.4" height="2.4" fill="#c77cc6"/>
<line x1="546.65" y1="938.52" x2="546.65" y2="926.01" stroke="#c77cc6" stroke-width="3.2"/>
<circle cx="546.65" cy="926.01" r="2.05" fill="#c77cc6" />
<circle cx="546.65" cy="928.61" r="2.05" fill="#c77cc6" />
<circle cx="546.65" cy="931.21" r="2.05" fill="#c77cc6" />
<circle cx="546.65" cy="933.81" r="2.05" fill="#c77cc6" />
<circle cx="546.65" cy="936.41" r="2.05" fill="#c77cc6" />
<rect x="552.65" y="937.51" width="10.4" height="2.4" fill="#6ccfaf"/>
<line x1="557.85" y1="938.52" x2="557.85" y2="934.67" stroke="#6ccfaf" stroke-width="3.2"/>
<circle cx="557.85" cy="934.67" r="2.05" fill="#6ccfaf" />
<circle cx="557.85" cy="937.27" r="2.05" fill="#6ccfaf" />
<text x="557.55" y="958.20" font-family="'Liberation Serif', serif" font-size="13" fill="#1a1a1a" text-anchor="end" transform="rotate(-45 557.55 958.20)" >Dendritic cells activated</text>
<line x1="580.40" y1="948.20" x2="580.40" y2="952.00" stroke="#505050" stroke-width="1.1" />
<text x="580.40" y="749.80" font-family="'Liberation Sans', sans-serif" font-size="9.8" fill="#1a1a1a" text-anchor="middle" >ns</text>
<line x1="574.80" y1="932.31" x2="574.80" y2="926.20" stroke="#c77cc6" stroke-width="1" />
<rect x="570.10" y="932.31" width="9.4" height="6.59" fill="#fff" stroke="#c77cc6" stroke-width="1"/>
<line x1="570.10" y1="936.08" x2="579.50" y2="936.08" stroke="#c77cc6" stroke-width="1.8" />
<circle cx="574.80" cy="921.96" r="2.1" fill="#c77cc6" />
<circle cx="574.80" cy="807.16" r="2.1" fill="#c77cc6" />
<line x1="586.00" y1="934.01" x2="586.00" y2="928.27" stroke="#6ccfaf" stroke-width="1" />
<rect x="581.30" y="934.01" width="9.4" height="4.89" fill="#fff" stroke="#6ccfaf" stroke-width="1"/>
<line x1="581.30" y1="935.70" x2="590.70" y2="935.70" stroke="#6ccfaf" stroke-width="1.8" />
<line x1="586.00" y1="926.67" x2="586.00" y2="921.96" stroke="#6ccfaf" stroke-width="3.2"/>
<circle cx="586.00" cy="921.96" r="2.05" fill="#6ccfaf" />
<circle cx="586.00" cy="924.56" r="2.05" fill="#6ccfaf" />
<text x="585.70" y="958.20" font-family="'Liberation Serif', serif" font-size="13" fill="#1a1a1a" text-anchor="end" transform="rotate(-45 585.70 958.20)" >Mast cells resting</text>
<line x1="608.55" y1="948.20" x2="608.55" y2="952.00" stroke="#505050" stroke-width="1.1" />
<text x="608.55" y="749.80" font-family="'Liberation Sans', sans-serif" font-size="9.8" fill="#1a1a1a" text-anchor="middle" >*</text>
<rect x="598.25" y="933.25" width="9.4" height="5.55" fill="#fff" stroke="#c77cc6" stroke-width="1"/>
<line x1="598.25" y1="937.11" x2="607.65" y2="937.11" stroke="#c77cc6" stroke-width="1.8" />
<line x1="602.95" y1="924.78" x2="602.95" y2="914.43" stroke="#c77cc6" stroke-width="3.2"/>
<circle cx="602.95" cy="914.43" r="2.05" fill="#c77cc6" />
<circle cx="602.95" cy="917.03" r="2.05" fill="#c77cc6" />
<circle cx="602.95" cy="919.63" r="2.05" fill="#c77cc6" />
<circle cx="602.95" cy="922.23" r="2.05" fill="#c77cc6" />
<circle cx="602.95" cy="924.83" r="2.05" fill="#c77cc6" />
<circle cx="602.95" cy="905.02" r="2.1" fill="#c77cc6" />
<circle cx="602.95" cy="903.14" r="2.1" fill="#c77cc6" />
<circle cx="602.95" cy="901.26" r="2.1" fill="#c77cc6" />
<line x1="614.15" y1="930.90" x2="614.15" y2="920.08" stroke="#6ccfaf" stroke-width="1" />
<rect x="609.45" y="930.90" width="9.4" height="8.00" fill="#fff" stroke="#6ccfaf" stroke-width="1"/>
<line x1="609.45" y1="936.55" x2="618.85" y2="936.55" stroke="#6ccfaf" stroke-width="1.8" />
<line x1="614.15" y1="918.20" x2="614.15" y2="905.97" stroke="#6ccfaf" stroke-width="3.2"/>
<circle cx="614.15" cy="905.97" r="2.05" fill="#6ccfaf" />
<circle cx="614.15" cy="908.57" r="2.05" fill="#6ccfaf" />
<circle cx="614.15" cy="911.17" r="2.05" fill="#6ccfaf" />
<circle cx="614.15" cy="913.77" r="2.05" fill="#6ccfaf" />
<circle cx="614.15" cy="916.37" r="2.05" fill="#6ccfaf" />
<circle cx="614.15" cy="901.26" r="2.1" fill="#6ccfaf" />
<text x="613.85" y="958.20" font-family="'Liberation Serif', serif" font-size="13" fill="#1a1a1a" text-anchor="end" transform="rotate(-45 613.85 958.20)" >Mast cells activated</text>
<line x1="636.70" y1="948.20" x2="636.70" y2="952.00" stroke="#505050" stroke-width="1.1" />
<text x="636.70" y="749.80" font-family="'Liberation Sans', sans-serif" font-size="9.8" fill="#1a1a1a" text-anchor="middle" >*</text>
<rect x="626.40" y="934.48" width="9.4" height="2.54" fill="#fff" stroke="#c77cc6" stroke-width="1"/>
<line x1="626.40" y1="936.08" x2="635.80" y2="936.08" stroke="#c77cc6" stroke-width="1.8" />
<line x1="631.10" y1="933.25" x2="631.10" y2="926.67" stroke="#c77cc6" stroke-width="3.2"/>
<circle cx="631.10" cy="926.67" r="2.05" fill="#c77cc6" />
<circle cx="631.10" cy="929.27" r="2.05" fill="#c77cc6" />
<circle cx="631.10" cy="931.87" r="2.05" fill="#c77cc6" />
<circle cx="631.10" cy="921.96" r="2.1" fill="#c77cc6" />
<rect x="637.60" y="936.64" width="9.4" height="2.26" fill="#fff" stroke="#6ccfaf" stroke-width="1"/>
<line x1="637.60" y1="936.83" x2="647.00" y2="936.83" stroke="#6ccfaf" stroke-width="1.8" />
<line x1="642.30" y1="936.64" x2="642.30" y2="926.67" stroke="#6ccfaf" stroke-width="3.2"/>
<circle cx="642.30" cy="926.67" r="2.05" fill="#6ccfaf" />
<circle cx="642.30" cy="929.27" r="2.05" fill="#6ccfaf" />
<circle cx="642.30" cy="931.87" r="2.05" fill="#6ccfaf" />
<circle cx="642.30" cy="934.47" r="2.05" fill="#6ccfaf" />
<text x="642.00" y="958.20" font-family="'Liberation Serif', serif" font-size="13" fill="#1a1a1a" text-anchor="end" transform="rotate(-45 642.00 958.20)" >Eosinophils</text>
<line x1="664.85" y1="948.20" x2="664.85" y2="952.00" stroke="#505050" stroke-width="1.1" />
<text x="664.85" y="749.80" font-family="'Liberation Sans', sans-serif" font-size="9.8" fill="#1a1a1a" text-anchor="middle" >**</text>
<rect x="654.05" y="936.85" width="10.4" height="2.4" fill="#c77cc6"/>
<line x1="659.25" y1="937.77" x2="659.25" y2="922.15" stroke="#c77cc6" stroke-width="3.2"/>
<circle cx="659.25" cy="922.15" r="2.05" fill="#c77cc6" />
<circle cx="659.25" cy="924.75" r="2.05" fill="#c77cc6" />
<circle cx="659.25" cy="927.35" r="2.05" fill="#c77cc6" />
<circle cx="659.25" cy="929.95" r="2.05" fill="#c77cc6" />
<circle cx="659.25" cy="932.55" r="2.05" fill="#c77cc6" />
<circle cx="659.25" cy="935.15" r="2.05" fill="#c77cc6" />
<circle cx="659.25" cy="937.75" r="2.05" fill="#c77cc6" />
<rect x="665.25" y="936.85" width="10.4" height="2.4" fill="#6ccfaf"/>
<line x1="670.45" y1="937.77" x2="670.45" y2="928.55" stroke="#6ccfaf" stroke-width="3.2"/>
<circle cx="670.45" cy="928.55" r="2.05" fill="#6ccfaf" />
<circle cx="670.45" cy="931.15" r="2.05" fill="#6ccfaf" />
<circle cx="670.45" cy="933.75" r="2.05" fill="#6ccfaf" />
<circle cx="670.45" cy="936.35" r="2.05" fill="#6ccfaf" />
<text x="670.15" y="958.20" font-family="'Liberation Serif', serif" font-size="13" fill="#1a1a1a" text-anchor="end" transform="rotate(-45 670.15 958.20)" >Neutrophils</text>
</svg>
</body></html>
